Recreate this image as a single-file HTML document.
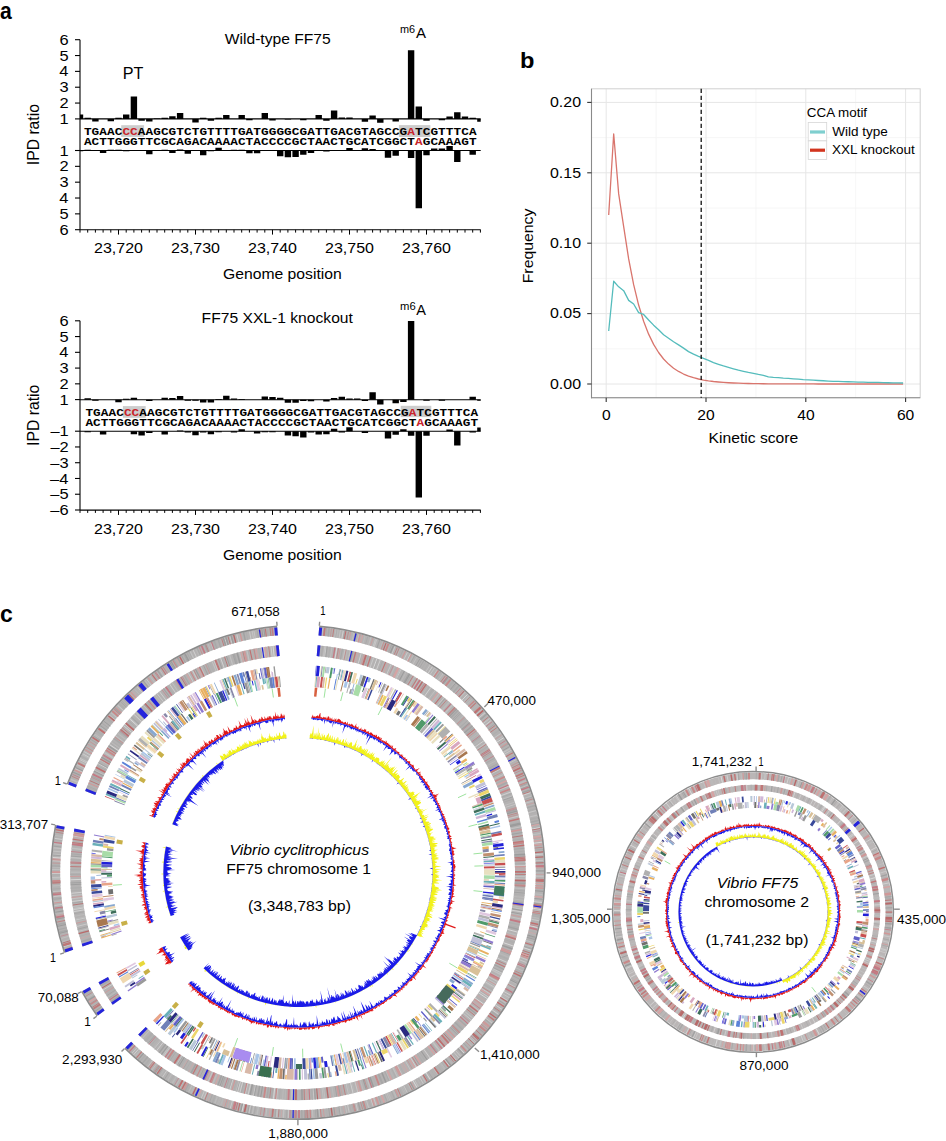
<!DOCTYPE html><html><head><meta charset="utf-8"><title>Figure</title><style>html,body{margin:0;padding:0;background:#fff;}svg{display:block;}</style></head><body><svg width="946" height="1141" viewBox="0 0 946 1141" font-family="Liberation Sans, sans-serif"><text font-size="23" font-weight="bold" transform="translate(-0.02,19.3) scale(0.92,1)">a</text>
<text font-size="22.5" font-weight="bold" transform="translate(520.04,67.7) scale(1.05,1)">b</text>
<text font-size="23" font-weight="bold" transform="translate(-0.1,622.3) scale(1,1)">c</text>
<line x1="80" y1="39.7" x2="80" y2="229.8" stroke="#000" stroke-width="1.1"/>
<line x1="75" y1="39.7" x2="80" y2="39.7" stroke="#000" stroke-width="1.1"/>
<text font-size="14.7" transform="translate(59.47,44.75) scale(1.12,1)">6</text>
<line x1="75" y1="150.5" x2="80" y2="150.5" stroke="#000" stroke-width="1.1"/>
<text font-size="14.7" transform="translate(59.55,155.55) scale(1.12,1)">1</text>
<line x1="75" y1="55.54" x2="80" y2="55.54" stroke="#000" stroke-width="1.1"/>
<text font-size="14.7" transform="translate(59.43,60.59) scale(1.12,1)">5</text>
<line x1="75" y1="166.34" x2="80" y2="166.34" stroke="#000" stroke-width="1.1"/>
<text font-size="14.7" transform="translate(59.57,171.39) scale(1.12,1)">2</text>
<line x1="75" y1="71.38" x2="80" y2="71.38" stroke="#000" stroke-width="1.1"/>
<text font-size="14.7" transform="translate(59.23,76.43) scale(1.12,1)">4</text>
<line x1="75" y1="182.18" x2="80" y2="182.18" stroke="#000" stroke-width="1.1"/>
<text font-size="14.7" transform="translate(59.47,187.23) scale(1.12,1)">3</text>
<line x1="75" y1="87.22" x2="80" y2="87.22" stroke="#000" stroke-width="1.1"/>
<text font-size="14.7" transform="translate(59.47,92.27) scale(1.12,1)">3</text>
<line x1="75" y1="198.02" x2="80" y2="198.02" stroke="#000" stroke-width="1.1"/>
<text font-size="14.7" transform="translate(59.23,203.07) scale(1.12,1)">4</text>
<line x1="75" y1="103.06" x2="80" y2="103.06" stroke="#000" stroke-width="1.1"/>
<text font-size="14.7" transform="translate(59.57,108.11) scale(1.12,1)">2</text>
<line x1="75" y1="213.86" x2="80" y2="213.86" stroke="#000" stroke-width="1.1"/>
<text font-size="14.7" transform="translate(59.43,218.91) scale(1.12,1)">5</text>
<line x1="75" y1="118.9" x2="80" y2="118.9" stroke="#000" stroke-width="1.1"/>
<text font-size="14.7" transform="translate(59.55,123.95) scale(1.12,1)">1</text>
<line x1="75" y1="229.7" x2="80" y2="229.7" stroke="#000" stroke-width="1.1"/>
<text font-size="14.7" transform="translate(59.47,234.75) scale(1.12,1)">6</text>
<line x1="80" y1="229.8" x2="480.7" y2="229.8" stroke="#000" stroke-width="1.1"/>
<line x1="80" y1="229.8" x2="80" y2="232.6" stroke="#000" stroke-width="1"/>
<line x1="87.7" y1="229.8" x2="87.7" y2="232.6" stroke="#000" stroke-width="1"/>
<line x1="95.4" y1="229.8" x2="95.4" y2="232.6" stroke="#000" stroke-width="1"/>
<line x1="103.1" y1="229.8" x2="103.1" y2="232.6" stroke="#000" stroke-width="1"/>
<line x1="110.8" y1="229.8" x2="110.8" y2="232.6" stroke="#000" stroke-width="1"/>
<line x1="118.5" y1="229.8" x2="118.5" y2="234.6" stroke="#000" stroke-width="1"/>
<line x1="126.2" y1="229.8" x2="126.2" y2="232.6" stroke="#000" stroke-width="1"/>
<line x1="133.9" y1="229.8" x2="133.9" y2="232.6" stroke="#000" stroke-width="1"/>
<line x1="141.6" y1="229.8" x2="141.6" y2="232.6" stroke="#000" stroke-width="1"/>
<line x1="149.3" y1="229.8" x2="149.3" y2="232.6" stroke="#000" stroke-width="1"/>
<line x1="157" y1="229.8" x2="157" y2="232.6" stroke="#000" stroke-width="1"/>
<line x1="164.7" y1="229.8" x2="164.7" y2="232.6" stroke="#000" stroke-width="1"/>
<line x1="172.4" y1="229.8" x2="172.4" y2="232.6" stroke="#000" stroke-width="1"/>
<line x1="180.1" y1="229.8" x2="180.1" y2="232.6" stroke="#000" stroke-width="1"/>
<line x1="187.8" y1="229.8" x2="187.8" y2="232.6" stroke="#000" stroke-width="1"/>
<line x1="195.5" y1="229.8" x2="195.5" y2="234.6" stroke="#000" stroke-width="1"/>
<line x1="203.2" y1="229.8" x2="203.2" y2="232.6" stroke="#000" stroke-width="1"/>
<line x1="210.9" y1="229.8" x2="210.9" y2="232.6" stroke="#000" stroke-width="1"/>
<line x1="218.6" y1="229.8" x2="218.6" y2="232.6" stroke="#000" stroke-width="1"/>
<line x1="226.3" y1="229.8" x2="226.3" y2="232.6" stroke="#000" stroke-width="1"/>
<line x1="234" y1="229.8" x2="234" y2="232.6" stroke="#000" stroke-width="1"/>
<line x1="241.7" y1="229.8" x2="241.7" y2="232.6" stroke="#000" stroke-width="1"/>
<line x1="249.4" y1="229.8" x2="249.4" y2="232.6" stroke="#000" stroke-width="1"/>
<line x1="257.1" y1="229.8" x2="257.1" y2="232.6" stroke="#000" stroke-width="1"/>
<line x1="264.8" y1="229.8" x2="264.8" y2="232.6" stroke="#000" stroke-width="1"/>
<line x1="272.5" y1="229.8" x2="272.5" y2="234.6" stroke="#000" stroke-width="1"/>
<line x1="280.2" y1="229.8" x2="280.2" y2="232.6" stroke="#000" stroke-width="1"/>
<line x1="287.9" y1="229.8" x2="287.9" y2="232.6" stroke="#000" stroke-width="1"/>
<line x1="295.6" y1="229.8" x2="295.6" y2="232.6" stroke="#000" stroke-width="1"/>
<line x1="303.3" y1="229.8" x2="303.3" y2="232.6" stroke="#000" stroke-width="1"/>
<line x1="311" y1="229.8" x2="311" y2="232.6" stroke="#000" stroke-width="1"/>
<line x1="318.7" y1="229.8" x2="318.7" y2="232.6" stroke="#000" stroke-width="1"/>
<line x1="326.4" y1="229.8" x2="326.4" y2="232.6" stroke="#000" stroke-width="1"/>
<line x1="334.1" y1="229.8" x2="334.1" y2="232.6" stroke="#000" stroke-width="1"/>
<line x1="341.8" y1="229.8" x2="341.8" y2="232.6" stroke="#000" stroke-width="1"/>
<line x1="349.5" y1="229.8" x2="349.5" y2="234.6" stroke="#000" stroke-width="1"/>
<line x1="357.2" y1="229.8" x2="357.2" y2="232.6" stroke="#000" stroke-width="1"/>
<line x1="364.9" y1="229.8" x2="364.9" y2="232.6" stroke="#000" stroke-width="1"/>
<line x1="372.6" y1="229.8" x2="372.6" y2="232.6" stroke="#000" stroke-width="1"/>
<line x1="380.3" y1="229.8" x2="380.3" y2="232.6" stroke="#000" stroke-width="1"/>
<line x1="388" y1="229.8" x2="388" y2="232.6" stroke="#000" stroke-width="1"/>
<line x1="395.7" y1="229.8" x2="395.7" y2="232.6" stroke="#000" stroke-width="1"/>
<line x1="403.4" y1="229.8" x2="403.4" y2="232.6" stroke="#000" stroke-width="1"/>
<line x1="411.1" y1="229.8" x2="411.1" y2="232.6" stroke="#000" stroke-width="1"/>
<line x1="418.8" y1="229.8" x2="418.8" y2="232.6" stroke="#000" stroke-width="1"/>
<line x1="426.5" y1="229.8" x2="426.5" y2="234.6" stroke="#000" stroke-width="1"/>
<line x1="434.2" y1="229.8" x2="434.2" y2="232.6" stroke="#000" stroke-width="1"/>
<line x1="441.9" y1="229.8" x2="441.9" y2="232.6" stroke="#000" stroke-width="1"/>
<line x1="449.6" y1="229.8" x2="449.6" y2="232.6" stroke="#000" stroke-width="1"/>
<line x1="457.3" y1="229.8" x2="457.3" y2="232.6" stroke="#000" stroke-width="1"/>
<line x1="465" y1="229.8" x2="465" y2="232.6" stroke="#000" stroke-width="1"/>
<line x1="472.7" y1="229.8" x2="472.7" y2="232.6" stroke="#000" stroke-width="1"/>
<line x1="480.4" y1="229.8" x2="480.4" y2="232.6" stroke="#000" stroke-width="1"/>
<text font-size="14.7" transform="translate(94,252.8) scale(1.09,1)">23,720</text>
<text font-size="14.7" transform="translate(171,252.8) scale(1.09,1)">23,730</text>
<text font-size="14.7" transform="translate(248,252.8) scale(1.09,1)">23,740</text>
<text font-size="14.7" transform="translate(325,252.8) scale(1.09,1)">23,750</text>
<text font-size="14.7" transform="translate(402,252.8) scale(1.09,1)">23,760</text>
<text font-size="14.7" transform="translate(222.91,279) scale(1.07,1)">Genome position</text>
<text font-size="14.7" transform="translate(39.1,165.2) rotate(-90) scale(1.07,1.12)">IPD ratio</text>
<text font-size="15.5" transform="translate(224.73,43.7) scale(1.01,1)">Wild-type FF75</text>
<rect x="121.2" y="125.2" width="22.9" height="11.7" fill="#cdcdcd"/>
<rect x="398.9" y="125.1" width="31.5" height="11.9" fill="#cdcdcd"/>
<path d="M80 114.46h3.2v4.44h-3.2zM80 150.5h3.2v0.79h-3.2zM84.5 117.63h6.4v1.27h-6.4zM84.5 149.71h6.4v0.79h-6.4zM92.2 118.9h6.4v2.69h-6.4zM99.9 150.5h6.4v2.38h-6.4zM107.6 118.9h6.4v2.38h-6.4zM107.6 149.71h6.4v0.79h-6.4zM115.3 117.79h6.4v1.11h-6.4zM115.3 149.71h6.4v0.79h-6.4zM123 114.46h6.4v4.44h-6.4zM123 150.5h6.4v0.79h-6.4zM130.7 96.41h6.4v22.49h-6.4zM138.4 118.9h6.4v1.9h-6.4zM146.1 118.9h6.4v2.69h-6.4zM146.1 150.5h6.4v3.8h-6.4zM153.8 118.58h6.4v0.32h-6.4zM161.5 117.63h6.4v1.27h-6.4zM161.5 149.71h6.4v0.79h-6.4zM169.2 116.37h6.4v2.53h-6.4zM169.2 150.5h6.4v2.38h-6.4zM176.9 112.88h6.4v6.02h-6.4zM176.9 149.55h6.4v0.95h-6.4zM184.6 150.5h6.4v3.33h-6.4zM192.3 118.9h6.4v3.48h-6.4zM200 117.79h6.4v1.11h-6.4zM200 150.5h6.4v4.75h-6.4zM207.7 118.9h6.4v1.9h-6.4zM207.7 150.5h6.4v0.79h-6.4zM215.4 117.63h6.4v1.27h-6.4zM215.4 147.81h6.4v2.69h-6.4zM223.1 114.94h6.4v3.96h-6.4zM230.8 149.71h6.4v0.79h-6.4zM238.5 114.94h6.4v3.96h-6.4zM238.5 149.71h6.4v0.79h-6.4zM246.2 118.9h6.4v1.27h-6.4zM246.2 150.5h6.4v2.69h-6.4zM253.9 150.5h6.4v2.69h-6.4zM261.6 112.88h6.4v6.02h-6.4zM269.3 118.9h6.4v1.58h-6.4zM277 150.5h6.4v5.86h-6.4zM284.7 118.9h6.4v0.63h-6.4zM284.7 150.5h6.4v6.65h-6.4zM292.4 150.5h6.4v6.49h-6.4zM300.1 118.9h6.4v1.27h-6.4zM300.1 150.5h6.4v4.28h-6.4zM307.8 150.5h6.4v2.38h-6.4zM315.5 114.94h6.4v3.96h-6.4zM323.2 118.9h6.4v1.9h-6.4zM323.2 150.5h6.4v0.95h-6.4zM330.9 110.5h6.4v8.4h-6.4zM338.6 117.47h6.4v1.43h-6.4zM346.3 117.47h6.4v1.43h-6.4zM346.3 148.12h6.4v2.38h-6.4zM361.7 118.9h6.4v2.85h-6.4zM361.7 148.28h6.4v2.22h-6.4zM369.4 115.57h6.4v3.33h-6.4zM369.4 149.07h6.4v1.43h-6.4zM377.1 118.9h6.4v3.96h-6.4zM384.8 150.5h6.4v7.13h-6.4zM392.5 118.9h6.4v2.53h-6.4zM392.5 150.5h6.4v5.23h-6.4zM407.9 50.15h6.4v68.75h-6.4zM407.9 150.5h6.4v7.44h-6.4zM415.6 106.54h6.4v12.36h-6.4zM415.6 150.5h6.4v57.82h-6.4zM423.3 118.9h6.4v1.9h-6.4zM423.3 150.5h6.4v4.75h-6.4zM431 148.44h6.4v2.06h-6.4zM438.7 118.9h6.4v1.27h-6.4zM438.7 148.44h6.4v2.06h-6.4zM446.4 116.52h6.4v2.38h-6.4zM446.4 145.91h6.4v4.59h-6.4zM454.1 112.25h6.4v6.65h-6.4zM454.1 150.5h6.4v11.4h-6.4zM461.8 116.52h6.4v2.38h-6.4zM469.5 117.63h6.4v1.27h-6.4zM469.5 150.5h6.4v4.28h-6.4zM477.2 118.9h3.5v2.85h-3.5z" fill="#000"/>
<line x1="80" y1="118.9" x2="480.7" y2="118.9" stroke="#000" stroke-width="1.1"/>
<line x1="80" y1="150.5" x2="480.7" y2="150.5" stroke="#000" stroke-width="1.1"/>
<text font-size="10.6" font-family="Liberation Mono" text-anchor="middle" font-weight="bold" transform="translate(87.7,135) scale(1.2,1)">T</text>
<text font-size="10.6" font-family="Liberation Mono" text-anchor="middle" font-weight="bold" transform="translate(95.4,135) scale(1.2,1)">G</text>
<text font-size="10.6" font-family="Liberation Mono" text-anchor="middle" font-weight="bold" transform="translate(103.1,135) scale(1.2,1)">A</text>
<text font-size="10.6" font-family="Liberation Mono" text-anchor="middle" font-weight="bold" transform="translate(110.8,135) scale(1.2,1)">A</text>
<text font-size="10.6" font-family="Liberation Mono" text-anchor="middle" font-weight="bold" transform="translate(118.5,135) scale(1.2,1)">C</text>
<text font-size="10.6" font-family="Liberation Mono" text-anchor="middle" font-weight="bold" fill="#c8232b" transform="translate(126.2,135) scale(1.2,1)">C</text>
<text font-size="10.6" font-family="Liberation Mono" text-anchor="middle" font-weight="bold" fill="#c8232b" transform="translate(133.9,135) scale(1.2,1)">C</text>
<text font-size="10.6" font-family="Liberation Mono" text-anchor="middle" font-weight="bold" transform="translate(141.6,135) scale(1.2,1)">A</text>
<text font-size="10.6" font-family="Liberation Mono" text-anchor="middle" font-weight="bold" transform="translate(149.3,135) scale(1.2,1)">A</text>
<text font-size="10.6" font-family="Liberation Mono" text-anchor="middle" font-weight="bold" transform="translate(157,135) scale(1.2,1)">G</text>
<text font-size="10.6" font-family="Liberation Mono" text-anchor="middle" font-weight="bold" transform="translate(164.7,135) scale(1.2,1)">C</text>
<text font-size="10.6" font-family="Liberation Mono" text-anchor="middle" font-weight="bold" transform="translate(172.4,135) scale(1.2,1)">G</text>
<text font-size="10.6" font-family="Liberation Mono" text-anchor="middle" font-weight="bold" transform="translate(180.1,135) scale(1.2,1)">T</text>
<text font-size="10.6" font-family="Liberation Mono" text-anchor="middle" font-weight="bold" transform="translate(187.8,135) scale(1.2,1)">C</text>
<text font-size="10.6" font-family="Liberation Mono" text-anchor="middle" font-weight="bold" transform="translate(195.5,135) scale(1.2,1)">T</text>
<text font-size="10.6" font-family="Liberation Mono" text-anchor="middle" font-weight="bold" transform="translate(203.2,135) scale(1.2,1)">G</text>
<text font-size="10.6" font-family="Liberation Mono" text-anchor="middle" font-weight="bold" transform="translate(210.9,135) scale(1.2,1)">T</text>
<text font-size="10.6" font-family="Liberation Mono" text-anchor="middle" font-weight="bold" transform="translate(218.6,135) scale(1.2,1)">T</text>
<text font-size="10.6" font-family="Liberation Mono" text-anchor="middle" font-weight="bold" transform="translate(226.3,135) scale(1.2,1)">T</text>
<text font-size="10.6" font-family="Liberation Mono" text-anchor="middle" font-weight="bold" transform="translate(234,135) scale(1.2,1)">T</text>
<text font-size="10.6" font-family="Liberation Mono" text-anchor="middle" font-weight="bold" transform="translate(241.7,135) scale(1.2,1)">G</text>
<text font-size="10.6" font-family="Liberation Mono" text-anchor="middle" font-weight="bold" transform="translate(249.4,135) scale(1.2,1)">A</text>
<text font-size="10.6" font-family="Liberation Mono" text-anchor="middle" font-weight="bold" transform="translate(257.1,135) scale(1.2,1)">T</text>
<text font-size="10.6" font-family="Liberation Mono" text-anchor="middle" font-weight="bold" transform="translate(264.8,135) scale(1.2,1)">G</text>
<text font-size="10.6" font-family="Liberation Mono" text-anchor="middle" font-weight="bold" transform="translate(272.5,135) scale(1.2,1)">G</text>
<text font-size="10.6" font-family="Liberation Mono" text-anchor="middle" font-weight="bold" transform="translate(280.2,135) scale(1.2,1)">G</text>
<text font-size="10.6" font-family="Liberation Mono" text-anchor="middle" font-weight="bold" transform="translate(287.9,135) scale(1.2,1)">G</text>
<text font-size="10.6" font-family="Liberation Mono" text-anchor="middle" font-weight="bold" transform="translate(295.6,135) scale(1.2,1)">C</text>
<text font-size="10.6" font-family="Liberation Mono" text-anchor="middle" font-weight="bold" transform="translate(303.3,135) scale(1.2,1)">G</text>
<text font-size="10.6" font-family="Liberation Mono" text-anchor="middle" font-weight="bold" transform="translate(311,135) scale(1.2,1)">A</text>
<text font-size="10.6" font-family="Liberation Mono" text-anchor="middle" font-weight="bold" transform="translate(318.7,135) scale(1.2,1)">T</text>
<text font-size="10.6" font-family="Liberation Mono" text-anchor="middle" font-weight="bold" transform="translate(326.4,135) scale(1.2,1)">T</text>
<text font-size="10.6" font-family="Liberation Mono" text-anchor="middle" font-weight="bold" transform="translate(334.1,135) scale(1.2,1)">G</text>
<text font-size="10.6" font-family="Liberation Mono" text-anchor="middle" font-weight="bold" transform="translate(341.8,135) scale(1.2,1)">A</text>
<text font-size="10.6" font-family="Liberation Mono" text-anchor="middle" font-weight="bold" transform="translate(349.5,135) scale(1.2,1)">C</text>
<text font-size="10.6" font-family="Liberation Mono" text-anchor="middle" font-weight="bold" transform="translate(357.2,135) scale(1.2,1)">G</text>
<text font-size="10.6" font-family="Liberation Mono" text-anchor="middle" font-weight="bold" transform="translate(364.9,135) scale(1.2,1)">T</text>
<text font-size="10.6" font-family="Liberation Mono" text-anchor="middle" font-weight="bold" transform="translate(372.6,135) scale(1.2,1)">A</text>
<text font-size="10.6" font-family="Liberation Mono" text-anchor="middle" font-weight="bold" transform="translate(380.3,135) scale(1.2,1)">G</text>
<text font-size="10.6" font-family="Liberation Mono" text-anchor="middle" font-weight="bold" transform="translate(388,135) scale(1.2,1)">C</text>
<text font-size="10.6" font-family="Liberation Mono" text-anchor="middle" font-weight="bold" transform="translate(395.7,135) scale(1.2,1)">C</text>
<text font-size="10.6" font-family="Liberation Mono" text-anchor="middle" font-weight="bold" transform="translate(403.4,135) scale(1.2,1)">G</text>
<text font-size="10.6" font-family="Liberation Mono" text-anchor="middle" font-weight="bold" fill="#c8232b" transform="translate(411.1,135) scale(1.2,1)">A</text>
<text font-size="10.6" font-family="Liberation Mono" text-anchor="middle" font-weight="bold" transform="translate(418.8,135) scale(1.2,1)">T</text>
<text font-size="10.6" font-family="Liberation Mono" text-anchor="middle" font-weight="bold" transform="translate(426.5,135) scale(1.2,1)">C</text>
<text font-size="10.6" font-family="Liberation Mono" text-anchor="middle" font-weight="bold" transform="translate(434.2,135) scale(1.2,1)">G</text>
<text font-size="10.6" font-family="Liberation Mono" text-anchor="middle" font-weight="bold" transform="translate(441.9,135) scale(1.2,1)">T</text>
<text font-size="10.6" font-family="Liberation Mono" text-anchor="middle" font-weight="bold" transform="translate(449.6,135) scale(1.2,1)">T</text>
<text font-size="10.6" font-family="Liberation Mono" text-anchor="middle" font-weight="bold" transform="translate(457.3,135) scale(1.2,1)">T</text>
<text font-size="10.6" font-family="Liberation Mono" text-anchor="middle" font-weight="bold" transform="translate(465,135) scale(1.2,1)">C</text>
<text font-size="10.6" font-family="Liberation Mono" text-anchor="middle" font-weight="bold" transform="translate(472.7,135) scale(1.2,1)">A</text>
<text font-size="10.6" font-family="Liberation Mono" text-anchor="middle" font-weight="bold" transform="translate(87.7,145.2) scale(1.2,1)">A</text>
<text font-size="10.6" font-family="Liberation Mono" text-anchor="middle" font-weight="bold" transform="translate(95.4,145.2) scale(1.2,1)">C</text>
<text font-size="10.6" font-family="Liberation Mono" text-anchor="middle" font-weight="bold" transform="translate(103.1,145.2) scale(1.2,1)">T</text>
<text font-size="10.6" font-family="Liberation Mono" text-anchor="middle" font-weight="bold" transform="translate(110.8,145.2) scale(1.2,1)">T</text>
<text font-size="10.6" font-family="Liberation Mono" text-anchor="middle" font-weight="bold" transform="translate(118.5,145.2) scale(1.2,1)">G</text>
<text font-size="10.6" font-family="Liberation Mono" text-anchor="middle" font-weight="bold" transform="translate(126.2,145.2) scale(1.2,1)">G</text>
<text font-size="10.6" font-family="Liberation Mono" text-anchor="middle" font-weight="bold" transform="translate(133.9,145.2) scale(1.2,1)">G</text>
<text font-size="10.6" font-family="Liberation Mono" text-anchor="middle" font-weight="bold" transform="translate(141.6,145.2) scale(1.2,1)">T</text>
<text font-size="10.6" font-family="Liberation Mono" text-anchor="middle" font-weight="bold" transform="translate(149.3,145.2) scale(1.2,1)">T</text>
<text font-size="10.6" font-family="Liberation Mono" text-anchor="middle" font-weight="bold" transform="translate(157,145.2) scale(1.2,1)">C</text>
<text font-size="10.6" font-family="Liberation Mono" text-anchor="middle" font-weight="bold" transform="translate(164.7,145.2) scale(1.2,1)">G</text>
<text font-size="10.6" font-family="Liberation Mono" text-anchor="middle" font-weight="bold" transform="translate(172.4,145.2) scale(1.2,1)">C</text>
<text font-size="10.6" font-family="Liberation Mono" text-anchor="middle" font-weight="bold" transform="translate(180.1,145.2) scale(1.2,1)">A</text>
<text font-size="10.6" font-family="Liberation Mono" text-anchor="middle" font-weight="bold" transform="translate(187.8,145.2) scale(1.2,1)">G</text>
<text font-size="10.6" font-family="Liberation Mono" text-anchor="middle" font-weight="bold" transform="translate(195.5,145.2) scale(1.2,1)">A</text>
<text font-size="10.6" font-family="Liberation Mono" text-anchor="middle" font-weight="bold" transform="translate(203.2,145.2) scale(1.2,1)">C</text>
<text font-size="10.6" font-family="Liberation Mono" text-anchor="middle" font-weight="bold" transform="translate(210.9,145.2) scale(1.2,1)">A</text>
<text font-size="10.6" font-family="Liberation Mono" text-anchor="middle" font-weight="bold" transform="translate(218.6,145.2) scale(1.2,1)">A</text>
<text font-size="10.6" font-family="Liberation Mono" text-anchor="middle" font-weight="bold" transform="translate(226.3,145.2) scale(1.2,1)">A</text>
<text font-size="10.6" font-family="Liberation Mono" text-anchor="middle" font-weight="bold" transform="translate(234,145.2) scale(1.2,1)">A</text>
<text font-size="10.6" font-family="Liberation Mono" text-anchor="middle" font-weight="bold" transform="translate(241.7,145.2) scale(1.2,1)">C</text>
<text font-size="10.6" font-family="Liberation Mono" text-anchor="middle" font-weight="bold" transform="translate(249.4,145.2) scale(1.2,1)">T</text>
<text font-size="10.6" font-family="Liberation Mono" text-anchor="middle" font-weight="bold" transform="translate(257.1,145.2) scale(1.2,1)">A</text>
<text font-size="10.6" font-family="Liberation Mono" text-anchor="middle" font-weight="bold" transform="translate(264.8,145.2) scale(1.2,1)">C</text>
<text font-size="10.6" font-family="Liberation Mono" text-anchor="middle" font-weight="bold" transform="translate(272.5,145.2) scale(1.2,1)">C</text>
<text font-size="10.6" font-family="Liberation Mono" text-anchor="middle" font-weight="bold" transform="translate(280.2,145.2) scale(1.2,1)">C</text>
<text font-size="10.6" font-family="Liberation Mono" text-anchor="middle" font-weight="bold" transform="translate(287.9,145.2) scale(1.2,1)">C</text>
<text font-size="10.6" font-family="Liberation Mono" text-anchor="middle" font-weight="bold" transform="translate(295.6,145.2) scale(1.2,1)">G</text>
<text font-size="10.6" font-family="Liberation Mono" text-anchor="middle" font-weight="bold" transform="translate(303.3,145.2) scale(1.2,1)">C</text>
<text font-size="10.6" font-family="Liberation Mono" text-anchor="middle" font-weight="bold" transform="translate(311,145.2) scale(1.2,1)">T</text>
<text font-size="10.6" font-family="Liberation Mono" text-anchor="middle" font-weight="bold" transform="translate(318.7,145.2) scale(1.2,1)">A</text>
<text font-size="10.6" font-family="Liberation Mono" text-anchor="middle" font-weight="bold" transform="translate(326.4,145.2) scale(1.2,1)">A</text>
<text font-size="10.6" font-family="Liberation Mono" text-anchor="middle" font-weight="bold" transform="translate(334.1,145.2) scale(1.2,1)">C</text>
<text font-size="10.6" font-family="Liberation Mono" text-anchor="middle" font-weight="bold" transform="translate(341.8,145.2) scale(1.2,1)">T</text>
<text font-size="10.6" font-family="Liberation Mono" text-anchor="middle" font-weight="bold" transform="translate(349.5,145.2) scale(1.2,1)">G</text>
<text font-size="10.6" font-family="Liberation Mono" text-anchor="middle" font-weight="bold" transform="translate(357.2,145.2) scale(1.2,1)">C</text>
<text font-size="10.6" font-family="Liberation Mono" text-anchor="middle" font-weight="bold" transform="translate(364.9,145.2) scale(1.2,1)">A</text>
<text font-size="10.6" font-family="Liberation Mono" text-anchor="middle" font-weight="bold" transform="translate(372.6,145.2) scale(1.2,1)">T</text>
<text font-size="10.6" font-family="Liberation Mono" text-anchor="middle" font-weight="bold" transform="translate(380.3,145.2) scale(1.2,1)">C</text>
<text font-size="10.6" font-family="Liberation Mono" text-anchor="middle" font-weight="bold" transform="translate(388,145.2) scale(1.2,1)">G</text>
<text font-size="10.6" font-family="Liberation Mono" text-anchor="middle" font-weight="bold" transform="translate(395.7,145.2) scale(1.2,1)">G</text>
<text font-size="10.6" font-family="Liberation Mono" text-anchor="middle" font-weight="bold" transform="translate(403.4,145.2) scale(1.2,1)">C</text>
<text font-size="10.6" font-family="Liberation Mono" text-anchor="middle" font-weight="bold" transform="translate(411.1,145.2) scale(1.2,1)">T</text>
<text font-size="10.6" font-family="Liberation Mono" text-anchor="middle" font-weight="bold" fill="#c8232b" transform="translate(418.8,145.2) scale(1.2,1)">A</text>
<text font-size="10.6" font-family="Liberation Mono" text-anchor="middle" font-weight="bold" transform="translate(426.5,145.2) scale(1.2,1)">G</text>
<text font-size="10.6" font-family="Liberation Mono" text-anchor="middle" font-weight="bold" transform="translate(434.2,145.2) scale(1.2,1)">C</text>
<text font-size="10.6" font-family="Liberation Mono" text-anchor="middle" font-weight="bold" transform="translate(441.9,145.2) scale(1.2,1)">A</text>
<text font-size="10.6" font-family="Liberation Mono" text-anchor="middle" font-weight="bold" transform="translate(449.6,145.2) scale(1.2,1)">A</text>
<text font-size="10.6" font-family="Liberation Mono" text-anchor="middle" font-weight="bold" transform="translate(457.3,145.2) scale(1.2,1)">A</text>
<text font-size="10.6" font-family="Liberation Mono" text-anchor="middle" font-weight="bold" transform="translate(465,145.2) scale(1.2,1)">G</text>
<text font-size="10.6" font-family="Liberation Mono" text-anchor="middle" font-weight="bold" transform="translate(472.7,145.2) scale(1.2,1)">T</text>
<text font-size="10" transform="translate(399.97,33) scale(1.09,1)">m6</text>
<text font-size="15.5" transform="translate(415.97,38) scale(0.97,1)">A</text>
<text font-size="16" transform="translate(122.67,79) scale(1.01,1)">PT</text>
<line x1="80" y1="320.8" x2="80" y2="510.1" stroke="#000" stroke-width="1.1"/>
<line x1="75" y1="320.8" x2="80" y2="320.8" stroke="#000" stroke-width="1.1"/>
<text font-size="14.7" transform="translate(59.47,325.85) scale(1.12,1)">6</text>
<line x1="75" y1="431.2" x2="80" y2="431.2" stroke="#000" stroke-width="1.1"/>
<text font-size="14.7" transform="translate(50.39,436.25) scale(1.12,1)">–1</text>
<line x1="75" y1="336.56" x2="80" y2="336.56" stroke="#000" stroke-width="1.1"/>
<text font-size="14.7" transform="translate(59.43,341.61) scale(1.12,1)">5</text>
<line x1="75" y1="446.96" x2="80" y2="446.96" stroke="#000" stroke-width="1.1"/>
<text font-size="14.7" transform="translate(50.42,452.01) scale(1.12,1)">–2</text>
<line x1="75" y1="352.32" x2="80" y2="352.32" stroke="#000" stroke-width="1.1"/>
<text font-size="14.7" transform="translate(59.23,357.37) scale(1.12,1)">4</text>
<line x1="75" y1="462.72" x2="80" y2="462.72" stroke="#000" stroke-width="1.1"/>
<text font-size="14.7" transform="translate(50.31,467.77) scale(1.12,1)">–3</text>
<line x1="75" y1="368.08" x2="80" y2="368.08" stroke="#000" stroke-width="1.1"/>
<text font-size="14.7" transform="translate(59.47,373.13) scale(1.12,1)">3</text>
<line x1="75" y1="478.48" x2="80" y2="478.48" stroke="#000" stroke-width="1.1"/>
<text font-size="14.7" transform="translate(50.07,483.53) scale(1.12,1)">–4</text>
<line x1="75" y1="383.84" x2="80" y2="383.84" stroke="#000" stroke-width="1.1"/>
<text font-size="14.7" transform="translate(59.57,388.89) scale(1.12,1)">2</text>
<line x1="75" y1="494.24" x2="80" y2="494.24" stroke="#000" stroke-width="1.1"/>
<text font-size="14.7" transform="translate(50.28,499.29) scale(1.12,1)">–5</text>
<line x1="75" y1="399.6" x2="80" y2="399.6" stroke="#000" stroke-width="1.1"/>
<text font-size="14.7" transform="translate(59.55,404.65) scale(1.12,1)">1</text>
<line x1="75" y1="510" x2="80" y2="510" stroke="#000" stroke-width="1.1"/>
<text font-size="14.7" transform="translate(50.31,515.05) scale(1.12,1)">–6</text>
<line x1="80" y1="510.1" x2="480.7" y2="510.1" stroke="#000" stroke-width="1.1"/>
<line x1="80" y1="510.1" x2="80" y2="512.9" stroke="#000" stroke-width="1"/>
<line x1="87.7" y1="510.1" x2="87.7" y2="512.9" stroke="#000" stroke-width="1"/>
<line x1="95.4" y1="510.1" x2="95.4" y2="512.9" stroke="#000" stroke-width="1"/>
<line x1="103.1" y1="510.1" x2="103.1" y2="512.9" stroke="#000" stroke-width="1"/>
<line x1="110.8" y1="510.1" x2="110.8" y2="512.9" stroke="#000" stroke-width="1"/>
<line x1="118.5" y1="510.1" x2="118.5" y2="514.9" stroke="#000" stroke-width="1"/>
<line x1="126.2" y1="510.1" x2="126.2" y2="512.9" stroke="#000" stroke-width="1"/>
<line x1="133.9" y1="510.1" x2="133.9" y2="512.9" stroke="#000" stroke-width="1"/>
<line x1="141.6" y1="510.1" x2="141.6" y2="512.9" stroke="#000" stroke-width="1"/>
<line x1="149.3" y1="510.1" x2="149.3" y2="512.9" stroke="#000" stroke-width="1"/>
<line x1="157" y1="510.1" x2="157" y2="512.9" stroke="#000" stroke-width="1"/>
<line x1="164.7" y1="510.1" x2="164.7" y2="512.9" stroke="#000" stroke-width="1"/>
<line x1="172.4" y1="510.1" x2="172.4" y2="512.9" stroke="#000" stroke-width="1"/>
<line x1="180.1" y1="510.1" x2="180.1" y2="512.9" stroke="#000" stroke-width="1"/>
<line x1="187.8" y1="510.1" x2="187.8" y2="512.9" stroke="#000" stroke-width="1"/>
<line x1="195.5" y1="510.1" x2="195.5" y2="514.9" stroke="#000" stroke-width="1"/>
<line x1="203.2" y1="510.1" x2="203.2" y2="512.9" stroke="#000" stroke-width="1"/>
<line x1="210.9" y1="510.1" x2="210.9" y2="512.9" stroke="#000" stroke-width="1"/>
<line x1="218.6" y1="510.1" x2="218.6" y2="512.9" stroke="#000" stroke-width="1"/>
<line x1="226.3" y1="510.1" x2="226.3" y2="512.9" stroke="#000" stroke-width="1"/>
<line x1="234" y1="510.1" x2="234" y2="512.9" stroke="#000" stroke-width="1"/>
<line x1="241.7" y1="510.1" x2="241.7" y2="512.9" stroke="#000" stroke-width="1"/>
<line x1="249.4" y1="510.1" x2="249.4" y2="512.9" stroke="#000" stroke-width="1"/>
<line x1="257.1" y1="510.1" x2="257.1" y2="512.9" stroke="#000" stroke-width="1"/>
<line x1="264.8" y1="510.1" x2="264.8" y2="512.9" stroke="#000" stroke-width="1"/>
<line x1="272.5" y1="510.1" x2="272.5" y2="514.9" stroke="#000" stroke-width="1"/>
<line x1="280.2" y1="510.1" x2="280.2" y2="512.9" stroke="#000" stroke-width="1"/>
<line x1="287.9" y1="510.1" x2="287.9" y2="512.9" stroke="#000" stroke-width="1"/>
<line x1="295.6" y1="510.1" x2="295.6" y2="512.9" stroke="#000" stroke-width="1"/>
<line x1="303.3" y1="510.1" x2="303.3" y2="512.9" stroke="#000" stroke-width="1"/>
<line x1="311" y1="510.1" x2="311" y2="512.9" stroke="#000" stroke-width="1"/>
<line x1="318.7" y1="510.1" x2="318.7" y2="512.9" stroke="#000" stroke-width="1"/>
<line x1="326.4" y1="510.1" x2="326.4" y2="512.9" stroke="#000" stroke-width="1"/>
<line x1="334.1" y1="510.1" x2="334.1" y2="512.9" stroke="#000" stroke-width="1"/>
<line x1="341.8" y1="510.1" x2="341.8" y2="512.9" stroke="#000" stroke-width="1"/>
<line x1="349.5" y1="510.1" x2="349.5" y2="514.9" stroke="#000" stroke-width="1"/>
<line x1="357.2" y1="510.1" x2="357.2" y2="512.9" stroke="#000" stroke-width="1"/>
<line x1="364.9" y1="510.1" x2="364.9" y2="512.9" stroke="#000" stroke-width="1"/>
<line x1="372.6" y1="510.1" x2="372.6" y2="512.9" stroke="#000" stroke-width="1"/>
<line x1="380.3" y1="510.1" x2="380.3" y2="512.9" stroke="#000" stroke-width="1"/>
<line x1="388" y1="510.1" x2="388" y2="512.9" stroke="#000" stroke-width="1"/>
<line x1="395.7" y1="510.1" x2="395.7" y2="512.9" stroke="#000" stroke-width="1"/>
<line x1="403.4" y1="510.1" x2="403.4" y2="512.9" stroke="#000" stroke-width="1"/>
<line x1="411.1" y1="510.1" x2="411.1" y2="512.9" stroke="#000" stroke-width="1"/>
<line x1="418.8" y1="510.1" x2="418.8" y2="512.9" stroke="#000" stroke-width="1"/>
<line x1="426.5" y1="510.1" x2="426.5" y2="514.9" stroke="#000" stroke-width="1"/>
<line x1="434.2" y1="510.1" x2="434.2" y2="512.9" stroke="#000" stroke-width="1"/>
<line x1="441.9" y1="510.1" x2="441.9" y2="512.9" stroke="#000" stroke-width="1"/>
<line x1="449.6" y1="510.1" x2="449.6" y2="512.9" stroke="#000" stroke-width="1"/>
<line x1="457.3" y1="510.1" x2="457.3" y2="512.9" stroke="#000" stroke-width="1"/>
<line x1="465" y1="510.1" x2="465" y2="512.9" stroke="#000" stroke-width="1"/>
<line x1="472.7" y1="510.1" x2="472.7" y2="512.9" stroke="#000" stroke-width="1"/>
<line x1="480.4" y1="510.1" x2="480.4" y2="512.9" stroke="#000" stroke-width="1"/>
<text font-size="14.7" transform="translate(94,533.8) scale(1.09,1)">23,720</text>
<text font-size="14.7" transform="translate(171,533.8) scale(1.09,1)">23,730</text>
<text font-size="14.7" transform="translate(248,533.8) scale(1.09,1)">23,740</text>
<text font-size="14.7" transform="translate(325,533.8) scale(1.09,1)">23,750</text>
<text font-size="14.7" transform="translate(402,533.8) scale(1.09,1)">23,760</text>
<text font-size="14.7" transform="translate(222.91,560) scale(1.07,1)">Genome position</text>
<text font-size="14.7" transform="translate(39.1,445.9) rotate(-90) scale(1.07,1.12)">IPD ratio</text>
<text font-size="15.5" transform="translate(201.61,322.5) scale(1.01,1)">FF75 XXL-1 knockout</text>
<rect x="122.9" y="406.1" width="22.8" height="11.7" fill="#cdcdcd"/>
<rect x="400.7" y="405.8" width="30.6" height="11.3" fill="#cdcdcd"/>
<path d="M84.5 398.28h6.4v1.42h-6.4zM84.5 431.2h6.4v0.95h-6.4zM92.2 399.7h6.4v1.1h-6.4zM99.9 431.2h6.4v3.31h-6.4zM115.3 399.7h6.4v2.52h-6.4zM123 398.75h6.4v0.95h-6.4zM130.7 397.65h6.4v2.05h-6.4zM130.7 431.2h6.4v3.15h-6.4zM138.4 431.2h6.4v4.26h-6.4zM146.1 399.7h6.4v1.26h-6.4zM146.1 431.2h6.4v1.73h-6.4zM161.5 397.65h6.4v2.05h-6.4zM161.5 431.2h6.4v3.31h-6.4zM169.2 398.12h6.4v1.58h-6.4zM176.9 396.08h6.4v3.62h-6.4zM176.9 430.41h6.4v0.79h-6.4zM184.6 399.7h6.4v1.1h-6.4zM184.6 431.2h6.4v1.42h-6.4zM192.3 399.7h6.4v1.1h-6.4zM192.3 431.2h6.4v3.94h-6.4zM200 399.7h6.4v2.68h-6.4zM200 431.2h6.4v1.42h-6.4zM207.7 399.7h6.4v2.68h-6.4zM207.7 431.2h6.4v2.99h-6.4zM215.4 398.91h6.4v0.79h-6.4zM215.4 431.2h6.4v1.1h-6.4zM223.1 395.76h6.4v3.94h-6.4zM230.8 398.6h6.4v1.1h-6.4zM230.8 431.2h6.4v1.42h-6.4zM238.5 398.91h6.4v0.79h-6.4zM238.5 429.15h6.4v2.05h-6.4zM253.9 431.2h6.4v2.36h-6.4zM261.6 396.55h6.4v3.15h-6.4zM261.6 431.2h6.4v1.1h-6.4zM269.3 397.02h6.4v2.68h-6.4zM269.3 431.2h6.4v1.1h-6.4zM277 397.65h6.4v2.05h-6.4zM284.7 399.7h6.4v3.15h-6.4zM284.7 431.2h6.4v4.26h-6.4zM292.4 399.7h6.4v3.15h-6.4zM292.4 431.2h6.4v5.04h-6.4zM300.1 399.7h6.4v1.42h-6.4zM300.1 431.2h6.4v6.3h-6.4zM307.8 399.7h6.4v1.58h-6.4zM307.8 431.2h6.4v1.26h-6.4zM315.5 431.2h6.4v3.31h-6.4zM323.2 399.7h6.4v1.73h-6.4zM323.2 431.2h6.4v3.15h-6.4zM330.9 397.97h6.4v1.73h-6.4zM330.9 428.84h6.4v2.36h-6.4zM338.6 396.86h6.4v2.84h-6.4zM338.6 431.2h6.4v1.26h-6.4zM346.3 398.6h6.4v1.1h-6.4zM346.3 427.26h6.4v3.94h-6.4zM354 398.6h6.4v1.1h-6.4zM361.7 399.7h6.4v1.42h-6.4zM361.7 431.2h6.4v1.73h-6.4zM369.4 392.29h6.4v7.41h-6.4zM377.1 399.7h6.4v4.89h-6.4zM384.8 431.2h6.4v7.41h-6.4zM392.5 399.7h6.4v3.62h-6.4zM392.5 431.2h6.4v3.62h-6.4zM400.2 399.7h6.4v2.36h-6.4zM400.2 429.31h6.4v1.89h-6.4zM407.9 320.9h6.4v78.8h-6.4zM407.9 431.2h6.4v4.57h-6.4zM415.6 431.2h6.4v66.19h-6.4zM423.3 399.7h6.4v0.95h-6.4zM423.3 431.2h6.4v4.57h-6.4zM438.7 399.7h6.4v1.1h-6.4zM446.4 429.62h6.4v1.58h-6.4zM454.1 431.2h6.4v14.18h-6.4zM469.5 396.71h6.4v2.99h-6.4zM469.5 431.2h6.4v1.26h-6.4zM477.2 399.7h3.5v0.95h-3.5zM477.2 427.58h3.5v3.62h-3.5z" fill="#000"/>
<line x1="80" y1="399.7" x2="480.7" y2="399.7" stroke="#000" stroke-width="1.1"/>
<line x1="80" y1="431.2" x2="480.7" y2="431.2" stroke="#000" stroke-width="1.1"/>
<text font-size="10.6" font-family="Liberation Mono" text-anchor="middle" font-weight="bold" transform="translate(89.2,415.8) scale(1.2,1)">T</text>
<text font-size="10.6" font-family="Liberation Mono" text-anchor="middle" font-weight="bold" transform="translate(96.9,415.8) scale(1.2,1)">G</text>
<text font-size="10.6" font-family="Liberation Mono" text-anchor="middle" font-weight="bold" transform="translate(104.6,415.8) scale(1.2,1)">A</text>
<text font-size="10.6" font-family="Liberation Mono" text-anchor="middle" font-weight="bold" transform="translate(112.3,415.8) scale(1.2,1)">A</text>
<text font-size="10.6" font-family="Liberation Mono" text-anchor="middle" font-weight="bold" transform="translate(120,415.8) scale(1.2,1)">C</text>
<text font-size="10.6" font-family="Liberation Mono" text-anchor="middle" font-weight="bold" fill="#c8232b" transform="translate(127.7,415.8) scale(1.2,1)">C</text>
<text font-size="10.6" font-family="Liberation Mono" text-anchor="middle" font-weight="bold" fill="#c8232b" transform="translate(135.4,415.8) scale(1.2,1)">C</text>
<text font-size="10.6" font-family="Liberation Mono" text-anchor="middle" font-weight="bold" transform="translate(143.1,415.8) scale(1.2,1)">A</text>
<text font-size="10.6" font-family="Liberation Mono" text-anchor="middle" font-weight="bold" transform="translate(150.8,415.8) scale(1.2,1)">A</text>
<text font-size="10.6" font-family="Liberation Mono" text-anchor="middle" font-weight="bold" transform="translate(158.5,415.8) scale(1.2,1)">G</text>
<text font-size="10.6" font-family="Liberation Mono" text-anchor="middle" font-weight="bold" transform="translate(166.2,415.8) scale(1.2,1)">C</text>
<text font-size="10.6" font-family="Liberation Mono" text-anchor="middle" font-weight="bold" transform="translate(173.9,415.8) scale(1.2,1)">G</text>
<text font-size="10.6" font-family="Liberation Mono" text-anchor="middle" font-weight="bold" transform="translate(181.6,415.8) scale(1.2,1)">T</text>
<text font-size="10.6" font-family="Liberation Mono" text-anchor="middle" font-weight="bold" transform="translate(189.3,415.8) scale(1.2,1)">C</text>
<text font-size="10.6" font-family="Liberation Mono" text-anchor="middle" font-weight="bold" transform="translate(197,415.8) scale(1.2,1)">T</text>
<text font-size="10.6" font-family="Liberation Mono" text-anchor="middle" font-weight="bold" transform="translate(204.7,415.8) scale(1.2,1)">G</text>
<text font-size="10.6" font-family="Liberation Mono" text-anchor="middle" font-weight="bold" transform="translate(212.4,415.8) scale(1.2,1)">T</text>
<text font-size="10.6" font-family="Liberation Mono" text-anchor="middle" font-weight="bold" transform="translate(220.1,415.8) scale(1.2,1)">T</text>
<text font-size="10.6" font-family="Liberation Mono" text-anchor="middle" font-weight="bold" transform="translate(227.8,415.8) scale(1.2,1)">T</text>
<text font-size="10.6" font-family="Liberation Mono" text-anchor="middle" font-weight="bold" transform="translate(235.5,415.8) scale(1.2,1)">T</text>
<text font-size="10.6" font-family="Liberation Mono" text-anchor="middle" font-weight="bold" transform="translate(243.2,415.8) scale(1.2,1)">G</text>
<text font-size="10.6" font-family="Liberation Mono" text-anchor="middle" font-weight="bold" transform="translate(250.9,415.8) scale(1.2,1)">A</text>
<text font-size="10.6" font-family="Liberation Mono" text-anchor="middle" font-weight="bold" transform="translate(258.6,415.8) scale(1.2,1)">T</text>
<text font-size="10.6" font-family="Liberation Mono" text-anchor="middle" font-weight="bold" transform="translate(266.3,415.8) scale(1.2,1)">G</text>
<text font-size="10.6" font-family="Liberation Mono" text-anchor="middle" font-weight="bold" transform="translate(274,415.8) scale(1.2,1)">G</text>
<text font-size="10.6" font-family="Liberation Mono" text-anchor="middle" font-weight="bold" transform="translate(281.7,415.8) scale(1.2,1)">G</text>
<text font-size="10.6" font-family="Liberation Mono" text-anchor="middle" font-weight="bold" transform="translate(289.4,415.8) scale(1.2,1)">G</text>
<text font-size="10.6" font-family="Liberation Mono" text-anchor="middle" font-weight="bold" transform="translate(297.1,415.8) scale(1.2,1)">C</text>
<text font-size="10.6" font-family="Liberation Mono" text-anchor="middle" font-weight="bold" transform="translate(304.8,415.8) scale(1.2,1)">G</text>
<text font-size="10.6" font-family="Liberation Mono" text-anchor="middle" font-weight="bold" transform="translate(312.5,415.8) scale(1.2,1)">A</text>
<text font-size="10.6" font-family="Liberation Mono" text-anchor="middle" font-weight="bold" transform="translate(320.2,415.8) scale(1.2,1)">T</text>
<text font-size="10.6" font-family="Liberation Mono" text-anchor="middle" font-weight="bold" transform="translate(327.9,415.8) scale(1.2,1)">T</text>
<text font-size="10.6" font-family="Liberation Mono" text-anchor="middle" font-weight="bold" transform="translate(335.6,415.8) scale(1.2,1)">G</text>
<text font-size="10.6" font-family="Liberation Mono" text-anchor="middle" font-weight="bold" transform="translate(343.3,415.8) scale(1.2,1)">A</text>
<text font-size="10.6" font-family="Liberation Mono" text-anchor="middle" font-weight="bold" transform="translate(351,415.8) scale(1.2,1)">C</text>
<text font-size="10.6" font-family="Liberation Mono" text-anchor="middle" font-weight="bold" transform="translate(358.7,415.8) scale(1.2,1)">G</text>
<text font-size="10.6" font-family="Liberation Mono" text-anchor="middle" font-weight="bold" transform="translate(366.4,415.8) scale(1.2,1)">T</text>
<text font-size="10.6" font-family="Liberation Mono" text-anchor="middle" font-weight="bold" transform="translate(374.1,415.8) scale(1.2,1)">A</text>
<text font-size="10.6" font-family="Liberation Mono" text-anchor="middle" font-weight="bold" transform="translate(381.8,415.8) scale(1.2,1)">G</text>
<text font-size="10.6" font-family="Liberation Mono" text-anchor="middle" font-weight="bold" transform="translate(389.5,415.8) scale(1.2,1)">C</text>
<text font-size="10.6" font-family="Liberation Mono" text-anchor="middle" font-weight="bold" transform="translate(397.2,415.8) scale(1.2,1)">C</text>
<text font-size="10.6" font-family="Liberation Mono" text-anchor="middle" font-weight="bold" transform="translate(404.9,415.8) scale(1.2,1)">G</text>
<text font-size="10.6" font-family="Liberation Mono" text-anchor="middle" font-weight="bold" fill="#c8232b" transform="translate(412.6,415.8) scale(1.2,1)">A</text>
<text font-size="10.6" font-family="Liberation Mono" text-anchor="middle" font-weight="bold" transform="translate(420.3,415.8) scale(1.2,1)">T</text>
<text font-size="10.6" font-family="Liberation Mono" text-anchor="middle" font-weight="bold" transform="translate(428,415.8) scale(1.2,1)">C</text>
<text font-size="10.6" font-family="Liberation Mono" text-anchor="middle" font-weight="bold" transform="translate(435.7,415.8) scale(1.2,1)">G</text>
<text font-size="10.6" font-family="Liberation Mono" text-anchor="middle" font-weight="bold" transform="translate(443.4,415.8) scale(1.2,1)">T</text>
<text font-size="10.6" font-family="Liberation Mono" text-anchor="middle" font-weight="bold" transform="translate(451.1,415.8) scale(1.2,1)">T</text>
<text font-size="10.6" font-family="Liberation Mono" text-anchor="middle" font-weight="bold" transform="translate(458.8,415.8) scale(1.2,1)">T</text>
<text font-size="10.6" font-family="Liberation Mono" text-anchor="middle" font-weight="bold" transform="translate(466.5,415.8) scale(1.2,1)">C</text>
<text font-size="10.6" font-family="Liberation Mono" text-anchor="middle" font-weight="bold" transform="translate(474.2,415.8) scale(1.2,1)">A</text>
<text font-size="10.6" font-family="Liberation Mono" text-anchor="middle" font-weight="bold" transform="translate(89.2,426) scale(1.2,1)">A</text>
<text font-size="10.6" font-family="Liberation Mono" text-anchor="middle" font-weight="bold" transform="translate(96.9,426) scale(1.2,1)">C</text>
<text font-size="10.6" font-family="Liberation Mono" text-anchor="middle" font-weight="bold" transform="translate(104.6,426) scale(1.2,1)">T</text>
<text font-size="10.6" font-family="Liberation Mono" text-anchor="middle" font-weight="bold" transform="translate(112.3,426) scale(1.2,1)">T</text>
<text font-size="10.6" font-family="Liberation Mono" text-anchor="middle" font-weight="bold" transform="translate(120,426) scale(1.2,1)">G</text>
<text font-size="10.6" font-family="Liberation Mono" text-anchor="middle" font-weight="bold" transform="translate(127.7,426) scale(1.2,1)">G</text>
<text font-size="10.6" font-family="Liberation Mono" text-anchor="middle" font-weight="bold" transform="translate(135.4,426) scale(1.2,1)">G</text>
<text font-size="10.6" font-family="Liberation Mono" text-anchor="middle" font-weight="bold" transform="translate(143.1,426) scale(1.2,1)">T</text>
<text font-size="10.6" font-family="Liberation Mono" text-anchor="middle" font-weight="bold" transform="translate(150.8,426) scale(1.2,1)">T</text>
<text font-size="10.6" font-family="Liberation Mono" text-anchor="middle" font-weight="bold" transform="translate(158.5,426) scale(1.2,1)">C</text>
<text font-size="10.6" font-family="Liberation Mono" text-anchor="middle" font-weight="bold" transform="translate(166.2,426) scale(1.2,1)">G</text>
<text font-size="10.6" font-family="Liberation Mono" text-anchor="middle" font-weight="bold" transform="translate(173.9,426) scale(1.2,1)">C</text>
<text font-size="10.6" font-family="Liberation Mono" text-anchor="middle" font-weight="bold" transform="translate(181.6,426) scale(1.2,1)">A</text>
<text font-size="10.6" font-family="Liberation Mono" text-anchor="middle" font-weight="bold" transform="translate(189.3,426) scale(1.2,1)">G</text>
<text font-size="10.6" font-family="Liberation Mono" text-anchor="middle" font-weight="bold" transform="translate(197,426) scale(1.2,1)">A</text>
<text font-size="10.6" font-family="Liberation Mono" text-anchor="middle" font-weight="bold" transform="translate(204.7,426) scale(1.2,1)">C</text>
<text font-size="10.6" font-family="Liberation Mono" text-anchor="middle" font-weight="bold" transform="translate(212.4,426) scale(1.2,1)">A</text>
<text font-size="10.6" font-family="Liberation Mono" text-anchor="middle" font-weight="bold" transform="translate(220.1,426) scale(1.2,1)">A</text>
<text font-size="10.6" font-family="Liberation Mono" text-anchor="middle" font-weight="bold" transform="translate(227.8,426) scale(1.2,1)">A</text>
<text font-size="10.6" font-family="Liberation Mono" text-anchor="middle" font-weight="bold" transform="translate(235.5,426) scale(1.2,1)">A</text>
<text font-size="10.6" font-family="Liberation Mono" text-anchor="middle" font-weight="bold" transform="translate(243.2,426) scale(1.2,1)">C</text>
<text font-size="10.6" font-family="Liberation Mono" text-anchor="middle" font-weight="bold" transform="translate(250.9,426) scale(1.2,1)">T</text>
<text font-size="10.6" font-family="Liberation Mono" text-anchor="middle" font-weight="bold" transform="translate(258.6,426) scale(1.2,1)">A</text>
<text font-size="10.6" font-family="Liberation Mono" text-anchor="middle" font-weight="bold" transform="translate(266.3,426) scale(1.2,1)">C</text>
<text font-size="10.6" font-family="Liberation Mono" text-anchor="middle" font-weight="bold" transform="translate(274,426) scale(1.2,1)">C</text>
<text font-size="10.6" font-family="Liberation Mono" text-anchor="middle" font-weight="bold" transform="translate(281.7,426) scale(1.2,1)">C</text>
<text font-size="10.6" font-family="Liberation Mono" text-anchor="middle" font-weight="bold" transform="translate(289.4,426) scale(1.2,1)">C</text>
<text font-size="10.6" font-family="Liberation Mono" text-anchor="middle" font-weight="bold" transform="translate(297.1,426) scale(1.2,1)">G</text>
<text font-size="10.6" font-family="Liberation Mono" text-anchor="middle" font-weight="bold" transform="translate(304.8,426) scale(1.2,1)">C</text>
<text font-size="10.6" font-family="Liberation Mono" text-anchor="middle" font-weight="bold" transform="translate(312.5,426) scale(1.2,1)">T</text>
<text font-size="10.6" font-family="Liberation Mono" text-anchor="middle" font-weight="bold" transform="translate(320.2,426) scale(1.2,1)">A</text>
<text font-size="10.6" font-family="Liberation Mono" text-anchor="middle" font-weight="bold" transform="translate(327.9,426) scale(1.2,1)">A</text>
<text font-size="10.6" font-family="Liberation Mono" text-anchor="middle" font-weight="bold" transform="translate(335.6,426) scale(1.2,1)">C</text>
<text font-size="10.6" font-family="Liberation Mono" text-anchor="middle" font-weight="bold" transform="translate(343.3,426) scale(1.2,1)">T</text>
<text font-size="10.6" font-family="Liberation Mono" text-anchor="middle" font-weight="bold" transform="translate(351,426) scale(1.2,1)">G</text>
<text font-size="10.6" font-family="Liberation Mono" text-anchor="middle" font-weight="bold" transform="translate(358.7,426) scale(1.2,1)">C</text>
<text font-size="10.6" font-family="Liberation Mono" text-anchor="middle" font-weight="bold" transform="translate(366.4,426) scale(1.2,1)">A</text>
<text font-size="10.6" font-family="Liberation Mono" text-anchor="middle" font-weight="bold" transform="translate(374.1,426) scale(1.2,1)">T</text>
<text font-size="10.6" font-family="Liberation Mono" text-anchor="middle" font-weight="bold" transform="translate(381.8,426) scale(1.2,1)">C</text>
<text font-size="10.6" font-family="Liberation Mono" text-anchor="middle" font-weight="bold" transform="translate(389.5,426) scale(1.2,1)">G</text>
<text font-size="10.6" font-family="Liberation Mono" text-anchor="middle" font-weight="bold" transform="translate(397.2,426) scale(1.2,1)">G</text>
<text font-size="10.6" font-family="Liberation Mono" text-anchor="middle" font-weight="bold" transform="translate(404.9,426) scale(1.2,1)">C</text>
<text font-size="10.6" font-family="Liberation Mono" text-anchor="middle" font-weight="bold" transform="translate(412.6,426) scale(1.2,1)">T</text>
<text font-size="10.6" font-family="Liberation Mono" text-anchor="middle" font-weight="bold" fill="#c8232b" transform="translate(420.3,426) scale(1.2,1)">A</text>
<text font-size="10.6" font-family="Liberation Mono" text-anchor="middle" font-weight="bold" transform="translate(428,426) scale(1.2,1)">G</text>
<text font-size="10.6" font-family="Liberation Mono" text-anchor="middle" font-weight="bold" transform="translate(435.7,426) scale(1.2,1)">C</text>
<text font-size="10.6" font-family="Liberation Mono" text-anchor="middle" font-weight="bold" transform="translate(443.4,426) scale(1.2,1)">A</text>
<text font-size="10.6" font-family="Liberation Mono" text-anchor="middle" font-weight="bold" transform="translate(451.1,426) scale(1.2,1)">A</text>
<text font-size="10.6" font-family="Liberation Mono" text-anchor="middle" font-weight="bold" transform="translate(458.8,426) scale(1.2,1)">A</text>
<text font-size="10.6" font-family="Liberation Mono" text-anchor="middle" font-weight="bold" transform="translate(466.5,426) scale(1.2,1)">G</text>
<text font-size="10.6" font-family="Liberation Mono" text-anchor="middle" font-weight="bold" transform="translate(474.2,426) scale(1.2,1)">T</text>
<text font-size="10" transform="translate(400.05,309.6) scale(1.13,1)">m6</text>
<text font-size="15.5" transform="translate(416.17,314.5) scale(0.94,1)">A</text>
<path d="M656.1 88.8V397.7M755.9 88.8V397.7M855.7 88.8V397.7M591.5 348.8H920.2M591.5 278.4H920.2M591.5 208H920.2M591.5 137.6H920.2" stroke="#f4f4f4" stroke-width="0.8" fill="none"/>
<path d="M606.2 88.8V397.7M706 88.8V397.7M805.8 88.8V397.7M905.6 88.8V397.7M591.5 384H920.2M591.5 313.6H920.2M591.5 243.2H920.2M591.5 172.8H920.2M591.5 102.4H920.2" stroke="#e6e6e6" stroke-width="1" fill="none"/>
<rect x="591.5" y="88.8" width="328.7" height="308.9" fill="none" stroke="#d0d0d0" stroke-width="1"/>
<line x1="591.5" y1="88.8" x2="591.5" y2="398.2" stroke="#8a8a8a" stroke-width="1.1"/>
<line x1="591" y1="397.7" x2="920.2" y2="397.7" stroke="#8a8a8a" stroke-width="1.1"/>
<path d="M608.7 215.04 L613.69 133.94 L618.68 193.92 L623.67 226.64 L628.66 258.96 L633.65 284.64 L638.63 305.04 L643.62 321.26 L648.62 334.14 L653.61 344.38 L658.6 352.52 L663.59 358.99 L668.58 364.12 L673.57 368.2 L678.56 371.45 L683.55 374.03 L688.54 376.07 L693.53 377.7 L698.52 379 L703.51 380.02 L708.5 380.84 L713.49 381.49 L718.48 382 L723.47 382.41 L728.46 382.74 L733.45 383 L738.44 383.2 L743.43 383.37 L748.42 383.5 L753.41 383.6 L758.39 383.68 L763.38 383.75 L768.38 383.8 L773.37 383.84 L778.36 383.87 L783.35 383.9 L788.34 383.92 L793.33 383.94 L798.32 383.95 L803.31 383.96 L808.3 383.97 L813.29 383.97 L818.28 383.98 L823.27 383.98 L828.26 383.99 L833.25 383.99 L838.24 383.99 L843.23 383.99 L848.22 383.99 L853.21 384 L858.2 384 L863.19 384 L868.18 384 L873.17 384 L878.15 384 L883.14 384 L888.13 384 L893.12 384 L898.12 384 L903.11 384" stroke="#d9756d" stroke-width="1.3" fill="none" stroke-linejoin="round"/>
<path d="M608.7 331.06 L613.69 281.22 L618.68 286.85 L623.67 290.65 L628.66 300.36 L633.65 304.03 L638.63 312.61 L643.62 314.44 L648.62 319.94 L653.61 325.15 L658.6 329.79 L663.59 334.72 L668.58 338.24 L673.57 341.76 L678.56 344.86 L683.55 348.1 L688.54 351.62 L693.53 354.15 L698.52 356.4 L703.51 358.37 L708.5 360.35 L713.49 362.6 L718.48 364.29 L723.47 365.98 L728.46 367.39 L733.45 368.79 L738.44 370.2 L743.43 371.33 L748.42 372.45 L753.41 373.44 L758.39 374.43 L763.38 375.27 L768.38 376.96 L773.37 377.38 L778.36 377.66 L783.35 378.09 L788.34 378.37 L793.33 378.79 L798.32 379.21 L803.31 379.64 L808.3 379.92 L813.29 380.2 L818.28 380.48 L823.27 380.76 L828.26 381.04 L833.25 381.32 L838.24 381.47 L843.23 381.61 L848.22 381.75 L853.21 381.89 L858.2 382.03 L863.19 382.17 L868.18 382.31 L873.17 382.45 L878.15 382.45 L883.14 382.59 L888.13 382.73 L893.12 382.87 L898.12 382.87 L903.11 383.01" stroke="#55bcbc" stroke-width="1.3" fill="none" stroke-linejoin="round"/>
<line x1="701.2" y1="88.8" x2="701.2" y2="397.7" stroke="#111" stroke-width="1.3" stroke-dasharray="4.2 2.8"/>
<line x1="587.2" y1="384" x2="591.5" y2="384" stroke="#333" stroke-width="1.1"/>
<text font-size="14" transform="translate(549.98,388.8) scale(1.14,1)">0.00</text>
<line x1="587.2" y1="313.6" x2="591.5" y2="313.6" stroke="#333" stroke-width="1.1"/>
<text font-size="14" transform="translate(549.98,318.4) scale(1.14,1)">0.05</text>
<line x1="587.2" y1="243.2" x2="591.5" y2="243.2" stroke="#333" stroke-width="1.1"/>
<text font-size="14" transform="translate(549.98,248) scale(1.14,1)">0.10</text>
<line x1="587.2" y1="172.8" x2="591.5" y2="172.8" stroke="#333" stroke-width="1.1"/>
<text font-size="14" transform="translate(549.98,177.6) scale(1.14,1)">0.15</text>
<line x1="587.2" y1="102.4" x2="591.5" y2="102.4" stroke="#333" stroke-width="1.1"/>
<text font-size="14" transform="translate(549.98,107.2) scale(1.14,1)">0.20</text>
<line x1="606.2" y1="397.7" x2="606.2" y2="401.9" stroke="#333" stroke-width="1.1"/>
<text font-size="14.2" transform="translate(601.96,419.7) scale(1.1,1)">0</text>
<line x1="706" y1="397.7" x2="706" y2="401.9" stroke="#333" stroke-width="1.1"/>
<text font-size="14.2" transform="translate(697.33,419.7) scale(1.1,1)">20</text>
<line x1="805.8" y1="397.7" x2="805.8" y2="401.9" stroke="#333" stroke-width="1.1"/>
<text font-size="14.2" transform="translate(797.34,419.7) scale(1.1,1)">40</text>
<line x1="905.6" y1="397.7" x2="905.6" y2="401.9" stroke="#333" stroke-width="1.1"/>
<text font-size="14.2" transform="translate(896.92,419.7) scale(1.1,1)">60</text>
<text font-size="14.5" transform="translate(708.61,442.8) scale(1.08,1)">Kinetic score</text>
<text font-size="14" transform="translate(533.2,283.3) rotate(-90) scale(1.13,1.1)">Frequency</text>
<text font-size="13.4" transform="translate(806.82,116.8) scale(1,1)">CCA motif</text>
<rect x="808.2" y="122.4" width="18.5" height="18.5" fill="#fff" stroke="#d6d6d6" stroke-width="0.8"/>
<rect x="808.2" y="140.9" width="18.5" height="18.5" fill="#fff" stroke="#d6d6d6" stroke-width="0.8"/>
<line x1="810" y1="132" x2="825" y2="132" stroke="#7fcfcf" stroke-width="3.2"/>
<line x1="810" y1="150.2" x2="825" y2="150.2" stroke="#d2351f" stroke-width="3.2"/>
<text font-size="13.4" transform="translate(832.14,136) scale(1.01,1)">Wild type</text>
<text font-size="13.4" transform="translate(831.9,153.8) scale(1.01,1)">XXL knockout</text>
<path d="M318.83 631.3A241.9 241.9 0 1 1 128.27 1044.66" fill="none" stroke="#b4b2b2" stroke-width="8.2"/>
<path d="M320.1 635.5l0.8 -8.2M528.2 931.9l7.9 2.1M372.6 1098.1l2.6 7.8M343.2 1105.8l1.6 8.1M334.9 1107.2l1.3 8.1M281.8 1109.5l-0.6 8.2M229.3 1100l-2.4 7.9M225.2 1098.7l-2.5 7.8M210.7 1093.5l-3 7.6" stroke="#d4a4a4" stroke-width="0.6" fill="none"/>
<path d="M321.1 635.6l0.8 -8.2M480.3 719.6l6.3 -5.3M522.1 792.8l7.7 -2.7M457.8 1048.4l5.5 6.1M358.2 1102.4l2.1 7.9" stroke="#a2a2a2" stroke-width="1.5" fill="none"/>
<path d="M322 635.7l0.8 -8.2M425.8 671.7l4.4 -6.9M432.8 676.4l4.6 -6.8M459.7 698l5.6 -6M520.4 788.1l7.7 -2.9M525.6 803.2l7.8 -2.4M535.5 860.7l8.2 -0.4M508.3 983.4l7.3 3.8M469.1 1037.4l5.9 5.7M433.3 1067.9l4.7 6.7M421.3 1075.6l4.3 7M414.4 1079.6l4 7.1M366.3 1100.1l2.4 7.9M152.6 1060.5l-5 6.5" stroke="#d4d4d4" stroke-width="0.5" fill="none"/>
<path d="M323.9 635.9l0.9 -8.2M515.7 776.5l7.5 -3.3M273.1 1108.8l-0.9 8.2" stroke="#c07878" stroke-width="1.8" fill="none"/>
<path d="M325.7 636.1l1 -8.1M399.7 657.4l3.5 -7.4M444.7 685.1l5.1 -6.5M534.8 850.1l8.2 -0.8M527.1 935.9l7.9 2.2" stroke="#a8a8a8" stroke-width="0.7" fill="none"/>
<path d="M328.1 636.4l1 -8.1M453.3 692.2l5.4 -6.2M526.9 807.8l7.9 -2.2M530.5 822.2l8 -1.7M524 946.2l7.8 2.5M491 1011.2l6.7 4.8M394 1089.8l3.3 7.5M301.8 1110.1l0.1 8.2M276 1109.1l-0.8 8.2M188.9 1083.6l-3.8 7.3M147.8 1056.7l-5.2 6.4" stroke="#a8a8a8" stroke-width="1.5" fill="none"/>
<path d="M330.4 636.7l1.1 -8.1M510.7 766.1l7.3 -3.7M465.3 1041.3l5.8 5.8M261.5 1107.3l-1.3 8.1" stroke="#c88888" stroke-width="0.6" fill="none"/>
<path d="M332.6 637l1.2 -8.1M440.7 682.1l4.9 -6.6M482.3 722l6.4 -5.2M488.7 730.3l6.6 -4.9M490.3 732.4l6.6 -4.8M516.5 778.5l7.5 -3.2M522.6 794.2l7.7 -2.7M493.8 1007.2l6.8 4.7M475.9 1030.1l6.1 5.4M397.4 1088.4l3.4 7.5M237.8 1102.4l-2.1 7.9M207.9 1092.4l-3.1 7.6" stroke="#bf7070" stroke-width="0.8" fill="none"/>
<path d="M334.7 637.3l1.3 -8.1M534.8 893.9l8.2 0.7M534.1 900.4l8.1 1M517 965l7.6 3.2M386.8 1092.9l3.1 7.6" stroke="#c2c2c2" stroke-width="0.7" fill="none"/>
<path d="M335.7 637.5l1.3 -8.1M381.9 649.8l2.9 -7.7M504.9 989.5l7.1 4M480.1 1025.3l6.3 5.3M441.3 1062l4.9 6.5M398.9 1087.6l3.5 7.4M368.6 1099.4l2.4 7.8M174 1075.2l-4.3 7" stroke="#aeaeae" stroke-width="0.9" fill="none"/>
<path d="M336.8 637.7l1.3 -8.1M396.8 656l3.4 -7.5M409.6 662.3l3.8 -7.2M466.6 704.6l5.8 -5.8M497.7 1001.5l6.9 4.5M194.3 1086.3l-3.6 7.4" stroke="#c2c2c2" stroke-width="0.5" fill="none"/>
<path d="M339.1 638.1l1.4 -8.1M430.1 674.6l4.6 -6.8M509.3 763.2l7.3 -3.8M502.5 993.7l7.1 4.2" stroke="#cccccc" stroke-width="0.7" fill="none"/>
<path d="M341.8 638.6l1.5 -8.1M406.9 660.9l3.8 -7.3M523 795.3l7.8 -2.7M534 901.6l8.1 1M503.8 991.4l7.1 4.1M495.4 1004.9l6.8 4.6M492 1009.8l6.7 4.7" stroke="#dcdcdc" stroke-width="0.7" fill="none"/>
<path d="M343.3 638.9l1.6 -8M519.8 786.4l7.6 -3M531 825l8 -1.6M249.3 1105.1l-1.7 8M169.1 1072.1l-4.4 6.9" stroke="#9c9c9c" stroke-width="0.7" fill="none"/>
<path d="M344.3 639.1l1.6 -8M521.9 952.5l7.7 2.8M521.2 954.3l7.7 2.8M423 1074.6l4.3 7M240 1102.9l-2 8" stroke="#bf7070" stroke-width="1.1" fill="none"/>
<path d="M346.9 639.6l1.7 -8M448.9 1056.1l5.2 6.3M360.5 1101.7l2.2 7.9M353.8 1103.5l1.9 8M305.2 1110l0.2 8.2M294.9 1110.1l-0.1 8.2" stroke="#c07878" stroke-width="0.6" fill="none"/>
<path d="M349 640l1.8 -8M370.5 645.8l2.5 -7.8M457.5 695.9l5.5 -6.1M533.4 838.6l8.1 -1.2M535.8 867.7l8.2 -0.2M482.2 1022.6l6.4 5.2M323.3 1108.8l0.9 8.2" stroke="#cf9898" stroke-width="0.8" fill="none"/>
<path d="M352.1 640.7l1.9 -8M368.5 645.2l2.4 -7.8M438.3 680.3l4.8 -6.6M496 740.7l6.8 -4.5M532.8 834.7l8.1 -1.3M515.8 967.8l7.5 3.3M499.3 998.9l6.9 4.4M462.6 1044l5.7 5.9M345.3 1105.4l1.6 8M319.1 1109.2l0.7 8.2M312.4 1109.7l0.5 8.2M253.8 1106l-1.5 8.1M156.7 1063.6l-4.9 6.6" stroke="#cccccc" stroke-width="0.5" fill="none"/>
<path d="M354.7 641.4l2 -8M498.5 1000.2l6.9 4.4M328.7 1108.1l1.1 8.1M162.9 1068l-4.7 6.7" stroke="#a2a2a2" stroke-width="0.9" fill="none"/>
<path d="M357.2 642l2 -7.9M529.3 817l8 -1.9M525.8 940.4l7.9 2.3" stroke="#c2c2c2" stroke-width="1.1" fill="none"/>
<path d="M358.1 642.2l2.1 -7.9M535.4 885.6l8.2 0.5M535.3 887.7l8.2 0.5M520.7 955.6l7.7 2.9M395.2 1089.3l3.4 7.5M187.4 1082.8l-3.8 7.3" stroke="#cf9898" stroke-width="1.4" fill="none"/>
<path d="M360.6 642.9l2.2 -7.9M531.2 825.9l8 -1.6M535.5 883.2l8.2 0.4M201.5 1089.6l-3.3 7.5" stroke="#d4a4a4" stroke-width="1.1" fill="none"/>
<path d="M363 643.6l2.2 -7.9M535.8 872.8l8.2 0M531.6 917l8.1 1.5M524.5 944.9l7.8 2.5M509.8 980.4l7.3 3.7M506.8 986.2l7.2 3.9M466.2 1040.4l5.8 5.8M440.5 1062.7l4.9 6.6M407.5 1083.4l3.8 7.3M388.2 1092.3l3.1 7.6" stroke="#bcbcbc" stroke-width="0.9" fill="none"/>
<path d="M365.5 644.3l2.3 -7.9M507.3 759.5l7.2 -3.9M535.6 881.7l8.2 0.3M255.6 1106.3l-1.5 8.1" stroke="#a2a2a2" stroke-width="0.5" fill="none"/>
<path d="M373 646.7l2.6 -7.8M374.2 647l2.6 -7.8M483.4 723.4l6.4 -5.1M494.2 737.9l6.8 -4.6M504.4 754.2l7.1 -4.1M528.2 812.7l7.9 -2.1M535.8 876.1l8.2 0.1M453.7 1052.1l5.4 6.2M403.7 1085.3l3.6 7.3M373.6 1097.7l2.6 7.8M288.6 1109.9l-0.3 8.2M206.6 1091.8l-3.2 7.6M198.9 1088.5l-3.4 7.5" stroke="#dcdcdc" stroke-width="0.5" fill="none"/>
<path d="M376.9 648l2.7 -7.7M520.7 788.9l7.7 -2.9M424.3 1073.8l4.4 6.9M291.1 1110l-0.2 8.2" stroke="#a2a2a2" stroke-width="1.1" fill="none"/>
<path d="M380 649.1l2.8 -7.7M486.6 1017.1l6.5 5M416.9 1078.2l4.1 7.1M409.4 1082.4l3.8 7.2M402.3 1086l3.6 7.4M401 1086.6l3.6 7.4M385.3 1093.5l3 7.6M223 1098l-2.6 7.8M164.6 1069.2l-4.6 6.8" stroke="#bcbcbc" stroke-width="0.7" fill="none"/>
<path d="M381.1 649.5l2.9 -7.7M481 1024.1l6.3 5.2M352.9 1103.7l1.9 8M307.8 1109.9l0.3 8.2M153.6 1061.3l-5 6.5" stroke="#c88888" stroke-width="0.8" fill="none"/>
<path d="M383.3 650.3l2.9 -7.7M458.7 697l5.5 -6M535 852.6l8.2 -0.7M535.6 863l8.2 -0.3M500.2 997.5l7 4.3M450.4 1054.8l5.3 6.3" stroke="#b86a6a" stroke-width="1.1" fill="none"/>
<path d="M385.5 651.2l3 -7.6M445.6 685.9l5.1 -6.4M479.5 1026l6.3 5.3" stroke="#c88888" stroke-width="1.8" fill="none"/>
<path d="M388.5 652.4l3.1 -7.6M512.2 975.5l7.4 3.6M484.9 1019.3l6.4 5.1M428 1071.4l4.5 6.9M378.4 1096.1l2.8 7.7M315.4 1109.5l0.6 8.2M304.3 1110l0.2 8.2M294 1110.1l-0.1 8.2M212.5 1094.2l-2.9 7.7" stroke="#9c9c9c" stroke-width="0.5" fill="none"/>
<path d="M390.3 653.1l3.2 -7.6M445.4 1058.9l5.1 6.4M410.2 1081.9l3.9 7.2M317.3 1109.3l0.7 8.2M242.6 1103.6l-1.9 8" stroke="#9c9c9c" stroke-width="1.5" fill="none"/>
<path d="M391.9 653.8l3.2 -7.5M403.9 659.4l3.7 -7.3M520.1 957.2l7.7 2.9M519.2 959.7l7.6 3M500.9 996.4l7 4.3M455.5 1050.5l5.4 6.1M451.2 1054.2l5.3 6.3M419.3 1076.8l4.2 7.1M370.8 1098.7l2.5 7.8M232.4 1100.9l-2.3 7.9M166.8 1070.6l-4.5 6.8" stroke="#d4d4d4" stroke-width="0.7" fill="none"/>
<path d="M394.1 654.8l3.3 -7.5M511.7 768l7.4 -3.6M532.7 910.8l8.1 1.3" stroke="#c07878" stroke-width="0.8" fill="none"/>
<path d="M395.9 655.6l3.4 -7.5M464.4 702.5l5.7 -5.9M408.6 1082.8l3.8 7.3M279 1109.3l-0.7 8.2" stroke="#b86a6a" stroke-width="0.6" fill="none"/>
<path d="M401.9 658.4l3.6 -7.4M407.8 661.4l3.8 -7.3M500.5 747.6l7 -4.3M512.3 769.3l7.4 -3.6M534.3 845.7l8.1 -0.9M371.8 1098.4l2.5 7.8M227.1 1099.3l-2.4 7.8" stroke="#cf9898" stroke-width="1.1" fill="none"/>
<path d="M410.7 662.9l3.9 -7.2M417.7 666.8l4.1 -7.1M419.5 667.9l4.2 -7M487.9 729.1l6.5 -4.9M501 748.4l7 -4.3M524.5 799.7l7.8 -2.5M510.8 978.5l7.3 3.7M493.3 1007.9l6.7 4.7M252 1105.6l-1.6 8M158.5 1064.9l-4.8 6.6" stroke="#a2a2a2" stroke-width="0.7" fill="none"/>
<path d="M413 664.1l4 -7.2M524 798.4l7.8 -2.5M470.1 1036.4l5.9 5.7M266.9 1108.1l-1.1 8.1M192.1 1085.2l-3.7 7.3M183.7 1080.8l-3.9 7.2" stroke="#c2c2c2" stroke-width="0.9" fill="none"/>
<path d="M415.8 665.8l4.1 -7.1M450.3 689.6l5.3 -6.3M502.4 750.9l7 -4.2M534.4 898.4l8.2 0.9M533.8 903.1l8.1 1.1M526.8 937.3l7.9 2.2M362.3 1101.2l2.2 7.9M333.8 1107.4l1.2 8.1M160.2 1066.1l-4.8 6.7M133.6 1044.1l-5.7 5.9" stroke="#9c9c9c" stroke-width="0.9" fill="none"/>
<path d="M421.5 669.1l4.3 -7M424 670.6l4.3 -7M437.2 1065.1l4.8 6.6M404.6 1084.9l3.7 7.3M349.5 1104.5l1.8 8M338.2 1106.7l1.4 8.1M198.1 1088.1l-3.4 7.4M190.5 1084.4l-3.7 7.3" stroke="#aeaeae" stroke-width="0.7" fill="none"/>
<path d="M428.1 673.3l4.5 -6.9M478.9 718l6.2 -5.3M485 725.4l6.4 -5.1M535.1 854.6l8.2 -0.6M444.5 1059.6l5.1 6.5M138.8 1048.9l-5.5 6.1" stroke="#d4d4d4" stroke-width="0.9" fill="none"/>
<path d="M433.9 677.1l4.7 -6.7M468.5 706.6l5.9 -5.7M460.8 1045.6l5.6 6M363.3 1101l2.3 7.9M310.1 1109.8l0.4 8.2" stroke="#c88888" stroke-width="1.4" fill="none"/>
<path d="M435.8 678.5l4.8 -6.7M475.1 713.6l6.1 -5.5M532.1 913.8l8.1 1.4M478.1 1027.6l6.2 5.4M463.3 1043.2l5.7 5.9" stroke="#a8a8a8" stroke-width="1.1" fill="none"/>
<path d="M442.3 683.3l5 -6.5M517.4 964l7.6 3.2M135 1045.5l-5.6 6" stroke="#c47a84" stroke-width="1.1" fill="none"/>
<path d="M443.1 683.9l5 -6.5M535.8 870.9l8.2 0M535.1 890.8l8.2 0.6M527.4 935l7.9 2.2M510.2 979.7l7.3 3.7M339.2 1106.5l1.4 8.1M143.7 1053.2l-5.3 6.2" stroke="#9c9c9c" stroke-width="1.1" fill="none"/>
<path d="M448 687.8l5.2 -6.4M527.8 811l7.9 -2.1M529.9 819.6l8 -1.8M215.3 1095.3l-2.9 7.7M150.2 1058.6l-5.1 6.4" stroke="#aeaeae" stroke-width="1.5" fill="none"/>
<path d="M451.2 690.4l5.3 -6.3M488.7 1014.3l6.6 4.9M351.7 1103.9l1.9 8M271.8 1108.7l-0.9 8.2" stroke="#a8a8a8" stroke-width="0.5" fill="none"/>
<path d="M455.4 694l5.4 -6.1M485.9 726.6l6.5 -5M498.8 744.9l6.9 -4.4M517.9 962.7l7.6 3.1M290.1 1110l-0.3 8.2M264.7 1107.8l-1.1 8.1" stroke="#c47a84" stroke-width="0.8" fill="none"/>
<path d="M462 700.1l5.7 -5.9M497 742.1l6.9 -4.5M531.8 829.1l8.1 -1.5M534 843.2l8.1 -1M533.1 908.3l8.1 1.2M529.7 925.7l8 1.8M523.5 947.7l7.8 2.6M458.9 1047.4l5.5 6M425.9 1072.7l4.4 6.9M413 1080.5l4 7.2M243.8 1103.8l-1.9 8M131.5 1042.1l-5.7 5.9" stroke="#dcdcdc" stroke-width="0.9" fill="none"/>
<path d="M463.6 701.7l5.7 -5.9M518.7 783.8l7.6 -3.1M393.2 1090.2l3.3 7.5M339.9 1106.4l1.4 8.1M258.4 1106.8l-1.4 8.1M217.5 1096l-2.8 7.7M176.3 1076.6l-4.2 7" stroke="#bcbcbc" stroke-width="1.5" fill="none"/>
<path d="M470.2 708.3l5.9 -5.7M505.8 756.7l7.2 -4M535.7 879.3l8.2 0.2M525.1 942.9l7.8 2.4M154.8 1062.1l-4.9 6.5M141.8 1051.6l-5.4 6.2" stroke="#c07878" stroke-width="1.1" fill="none"/>
<path d="M471.9 710.1l6 -5.6M526.5 806.3l7.9 -2.3M535.2 855.8l8.2 -0.6M535.8 869.7l8.2 -0.1M501.8 994.9l7 4.2M447.2 1057.5l5.1 6.4M439.7 1063.3l4.9 6.6M223.8 1098.2l-2.6 7.8M221.1 1097.3l-2.7 7.8M220 1096.9l-2.7 7.7" stroke="#bcbcbc" stroke-width="0.5" fill="none"/>
<path d="M474 712.3l6.1 -5.5M519.3 785.2l7.6 -3M532.4 912.4l8.1 1.4M320.4 1109l0.8 8.2M234.7 1101.5l-2.2 7.9" stroke="#c88888" stroke-width="1.1" fill="none"/>
<path d="M474.6 713l6.1 -5.5M513.2 771.2l7.4 -3.5M535.7 880.7l8.2 0.3M533.6 904.9l8.1 1.1M434.3 1067.2l4.7 6.7M182.7 1080.3l-4 7.2" stroke="#bf7070" stroke-width="1.8" fill="none"/>
<path d="M476.2 714.9l6.1 -5.4M503.4 752.4l7.1 -4.1M283.8 1109.7l-0.5 8.2M277.3 1109.2l-0.7 8.2" stroke="#c2c2c2" stroke-width="1.5" fill="none"/>
<path d="M477.1 715.8l6.2 -5.4M489.7 1013l6.6 4.9M473 1033.3l6 5.6M246.2 1104.4l-1.8 8" stroke="#b86a6a" stroke-width="1.8" fill="none"/>
<path d="M492.3 735.1l6.7 -4.7M531.8 915.6l8.1 1.5M513.9 971.9l7.4 3.4M490.3 1012.3l6.6 4.8M435.3 1066.5l4.7 6.7M228.2 1099.6l-2.4 7.8M145.6 1054.9l-5.3 6.3" stroke="#aeaeae" stroke-width="1.1" fill="none"/>
<path d="M495.1 739.3l6.8 -4.6M508.4 761.5l7.3 -3.8M526.1 805.2l7.9 -2.3M535.8 874.5l8.2 0.1" stroke="#cf9898" stroke-width="0.6" fill="none"/>
<path d="M514.3 773.5l7.5 -3.4M532.4 832l8.1 -1.4M530 924.6l8 1.8M470.8 1035.7l6 5.6M178.7 1078l-4.1 7.1" stroke="#c47a84" stroke-width="0.6" fill="none"/>
<path d="M517.8 781.5l7.6 -3.1M521.1 790l7.7 -2.8M505.4 988.6l7.2 4M296 1110.1l-0.1 8.2" stroke="#c47a84" stroke-width="1.4" fill="none"/>
<path d="M525 801.3l7.8 -2.4M534.6 848.1l8.2 -0.8M514.5 970.7l7.5 3.4M507.8 984.2l7.2 3.9M159.3 1065.5l-4.8 6.7" stroke="#bf7070" stroke-width="0.6" fill="none"/>
<path d="M528.6 814.1l8 -2M530.7 921.3l8 1.7M528.5 930.6l7.9 2M430.6 1069.7l4.6 6.8M326.3 1108.4l1 8.1" stroke="#aeaeae" stroke-width="0.5" fill="none"/>
<path d="M532 830l8.1 -1.5M522.6 950.4l7.7 2.7M472.1 1034.3l6 5.6M468.2 1038.3l5.9 5.7M306.9 1109.9l0.3 8.2" stroke="#b86a6a" stroke-width="0.8" fill="none"/>
<path d="M533.2 837.1l8.1 -1.2M533.8 841.2l8.1 -1.1M534.6 896.5l8.2 0.8M521.6 953.4l7.7 2.8" stroke="#d4a4a4" stroke-width="1.4" fill="none"/>
<path d="M534.2 844.7l8.1 -1M533.2 907.3l8.1 1.2M411.1 1081.5l3.9 7.2M270.1 1108.5l-1 8.1" stroke="#d4a4a4" stroke-width="0.8" fill="none"/>
<path d="M535.3 857.4l8.2 -0.5M331.2 1107.8l1.1 8.1M196.2 1087.2l-3.5 7.4" stroke="#b86a6a" stroke-width="1.4" fill="none"/>
<path d="M535.7 866.2l8.2 -0.2M529.3 927.7l8 1.9M299 1110.1l0 8.2M235.8 1101.8l-2.1 7.9" stroke="#c47a84" stroke-width="1.8" fill="none"/>
<path d="M532.8 909.6l8.1 1.3M179.9 1078.7l-4.1 7.1M171.9 1073.9l-4.3 7M140.4 1050.4l-5.4 6.1" stroke="#bcbcbc" stroke-width="1.1" fill="none"/>
<path d="M531.1 919.2l8 1.6M485.8 1018.2l6.5 5M355.8 1103l2 8M347.6 1104.9l1.7 8M250.5 1105.3l-1.6 8M204.4 1090.9l-3.2 7.5M137.2 1047.5l-5.5 6" stroke="#cccccc" stroke-width="0.9" fill="none"/>
<path d="M530.4 922.8l8 1.7M513.5 972.8l7.4 3.5M497.2 1002.2l6.9 4.5M443.5 1060.4l5 6.5M185.8 1081.9l-3.9 7.2M161.8 1067.2l-4.7 6.7" stroke="#bf7070" stroke-width="1.4" fill="none"/>
<path d="M487.9 1015.5l6.5 4.9" stroke="#c07878" stroke-width="1.4" fill="none"/>
<path d="M483.2 1021.5l6.4 5.1M375.9 1097l2.7 7.7" stroke="#cf9898" stroke-width="1.8" fill="none"/>
<path d="M473.9 1032.3l6.1 5.5M391.3 1091l3.2 7.5M384.1 1094l3 7.6M286.9 1109.8l-0.4 8.2" stroke="#a8a8a8" stroke-width="0.9" fill="none"/>
<path d="M381.4 1095l2.9 7.7" stroke="#d4a4a4" stroke-width="1.8" fill="none"/>
<path d="M318.5 635.4L319.2 627.2L322.2 627.5L321.4 635.7ZM133.2 1043.8L127.5 1049.7L125.4 1047.6L131.1 1041.7ZM353.5 641.1L355.4 633.1L356.7 633.4L354.7 641.4ZM293.8 1110.1L293.7 1118.3L292.4 1118.2L292.6 1110ZM199.8 1088.9L196.4 1096.3L194.8 1095.6L198.3 1088.2ZM508 760.7L515.2 756.8L515.8 757.9L508.5 761.8ZM533.5 905.4L541.6 906.5L541.4 907.8L533.3 906.6Z" fill="#2424dc"/>
<path d="M319.25 626.42A246.8 246.8 0 1 1 124.83 1048.15" fill="none" stroke="#8c8c8c" stroke-width="1.7"/>
<path d="M317.15 650.73A222.4 222.4 0 1 1 141.95 1030.76" fill="none" stroke="#b4b2b2" stroke-width="10.8"/>
<path d="M319.1 656.3l1 -10.7M392.7 677l4.7 -9.7M514.1 852.1l10.8 -1M508.4 925.3l10.5 2.6M391.4 1068.2l4.6 9.7M253.6 1084.7l-2.2 10.6M191 1061.1l-5.3 9.4M178.6 1053.5l-5.9 9M157.6 1037.7l-7 8.2" stroke="#a8a8a8" stroke-width="0.5" fill="none"/>
<path d="M321.4 656.6l1.2 -10.7M457.7 725.3l7.9 -7.3M503.4 802.4l10.2 -3.5M514.8 863.9l10.8 -0.4M514.3 890.1l10.8 0.9M444.4 1032.5l7.3 8M272.7 1087.8l-1.3 10.7M176 1051.8l-6.1 8.9" stroke="#a2a2a2" stroke-width="0.5" fill="none"/>
<path d="M323.5 656.8l1.3 -10.7M505.1 807.5l10.3 -3.2M510.4 916.8l10.6 2.2M470.4 1004l8.6 6.6M182.1 1055.8l-5.8 9.1" stroke="#d4d4d4" stroke-width="0.5" fill="none"/>
<path d="M324.8 657l1.3 -10.7M491.3 773.7l9.6 -4.9M514.9 865.8l10.8 -0.3M479.5 991.3l9 5.9M463.2 1013.1l8.2 7M255.6 1085.1l-2.1 10.6M147.3 1028.4l-7.5 7.8" stroke="#d4d4d4" stroke-width="0.7" fill="none"/>
<path d="M325.8 657.1l1.4 -10.7M502.7 800.3l10.2 -3.6M511.7 834.4l10.6 -1.9M494.3 964.8l9.8 4.6M467.9 1007.3l8.5 6.7M256.4 1085.3l-2.1 10.6" stroke="#a2a2a2" stroke-width="1.1" fill="none"/>
<path d="M328.5 657.5l1.5 -10.7M359 664l3 -10.4M483.4 985l9.2 5.6M455.7 1021.4l7.8 7.4M425.4 1048l6.3 8.7M280.2 1088.6l-0.9 10.8M270.1 1087.5l-1.4 10.7M236.7 1080.5l-3.1 10.4M198.9 1065.3l-4.9 9.6M185.8 1058l-5.6 9.2M161.5 1041l-6.8 8.4" stroke="#aeaeae" stroke-width="0.9" fill="none"/>
<path d="M330.4 657.7l1.6 -10.7M412.9 688.2l5.7 -9.2M502.3 799.3l10.2 -3.6M504.4 805.5l10.3 -3.3M514.4 888l10.8 0.8M512.4 905.8l10.7 1.7M323.6 1087.8l1.3 10.7M322.1 1088l1.2 10.7M239 1081.1l-2.9 10.4" stroke="#cccccc" stroke-width="0.5" fill="none"/>
<path d="M333.2 658.2l1.8 -10.7M498.5 789.3l10 -4.1M214.2 1072.5l-4.2 10" stroke="#c47a84" stroke-width="1.4" fill="none"/>
<path d="M335 658.5l1.8 -10.6M373.2 668.8l3.7 -10.1M507.4 929.4l10.4 2.8M503.3 942.6l10.2 3.5M478.5 992.8l9 6M475 997.9l8.8 6.3M274.7 1088l-1.2 10.7" stroke="#dcdcdc" stroke-width="0.9" fill="none"/>
<path d="M336.6 658.8l1.9 -10.6M482 757.3l9.2 -5.7M507.5 815.7l10.4 -2.8M482.1 987.2l9.2 5.7" stroke="#bf7070" stroke-width="0.6" fill="none"/>
<path d="M338.2 659.1l2 -10.6M361.1 664.7l3.1 -10.3M510.8 914.9l10.6 2.1M486.6 979.6l9.4 5.3M440.7 1035.8l7.1 8.1M439.4 1036.9l7 8.2" stroke="#cf9898" stroke-width="0.8" fill="none"/>
<path d="M340.4 659.5l2.1 -10.6M365.1 665.9l3.3 -10.3M465.7 734.6l8.3 -6.9M488.6 768.6l9.5 -5.2M378 1074l4 10" stroke="#a8a8a8" stroke-width="1.1" fill="none"/>
<path d="M343 660l2.2 -10.6M445.2 712.9l7.3 -7.9M510.6 829.1l10.6 -2.2M512.1 907.6l10.7 1.8M491.8 969.9l9.6 4.9M432.9 1042.3l6.7 8.5" stroke="#c2c2c2" stroke-width="1.5" fill="none"/>
<path d="M343.9 660.2l2.3 -10.6M448.5 716l7.5 -7.8M364.1 1079l3.3 10.3" stroke="#c07878" stroke-width="0.6" fill="none"/>
<path d="M345.1 660.5l2.3 -10.5M422.3 694.4l6.2 -8.9M513.7 896.4l10.7 1.2M486.2 980.4l9.4 5.4M484.9 982.6l9.3 5.5M331.9 1086.6l1.7 10.7M283.3 1088.8l-0.7 10.8" stroke="#c2c2c2" stroke-width="0.5" fill="none"/>
<path d="M347.8 661.1l2.5 -10.5M415.2 689.7l5.8 -9.1M493.9 778.9l9.7 -4.7M464.6 1011.3l8.3 6.9M346.1 1083.9l2.4 10.5M291.7 1089.2l-0.3 10.8" stroke="#c2c2c2" stroke-width="1.1" fill="none"/>
<path d="M350.1 661.7l2.6 -10.5M404.4 683.2l5.3 -9.4M507 813.8l10.4 -2.9M514.3 855.1l10.8 -0.9M502.3 945.4l10.2 3.6M381.8 1072.5l4.2 10M369.9 1077l3.6 10.2M301.9 1089.3l0.2 10.8M252.4 1084.4l-2.3 10.6" stroke="#9c9c9c" stroke-width="1.5" fill="none"/>
<path d="M353 662.4l2.7 -10.4M367.3 666.6l3.4 -10.2M508.9 821.3l10.5 -2.5M514.5 857.6l10.8 -0.7M197.7 1064.7l-5 9.6" stroke="#c07878" stroke-width="1.4" fill="none"/>
<path d="M355.3 663l2.9 -10.4M383.9 673l4.3 -9.9M472.4 1001.5l8.7 6.4M403 1062.2l5.2 9.5M356.1 1081.4l2.9 10.4" stroke="#d4a4a4" stroke-width="0.8" fill="none"/>
<path d="M358.2 663.8l3 -10.4M376.4 670l3.9 -10.1M424.6 696.1l6.3 -8.8M501 795.7l10.1 -3.8M497.3 958.1l9.9 4.3M410.6 1057.8l5.6 9.2M350.5 1082.9l2.6 10.5M250.6 1084.1l-2.4 10.5M232.9 1079.3l-3.2 10.3" stroke="#d4d4d4" stroke-width="0.9" fill="none"/>
<path d="M362.8 665.2l3.2 -10.3M515 871.8l10.8 0M512.7 903.6l10.7 1.6M437.7 1038.4l7 8.3M180.1 1054.5l-5.9 9.1" stroke="#bf7070" stroke-width="1.8" fill="none"/>
<path d="M369.4 667.4l3.6 -10.2M473.8 745l8.7 -6.3M393.8 1067l4.8 9.7M389.6 1069l4.6 9.8M298.8 1089.3l0 10.8M285.7 1088.9l-0.6 10.8M266.6 1087l-1.6 10.7M160 1039.8l-6.9 8.3" stroke="#bcbcbc" stroke-width="0.5" fill="none"/>
<path d="M370.1 667.6l3.6 -10.2M386.7 674.3l4.4 -9.9M396.2 678.8l4.9 -9.6M508.3 818.7l10.5 -2.7M492.5 968.6l9.7 4.8M481.3 988.4l9.1 5.8M436.6 1039.3l6.9 8.3M277.5 1088.3l-1 10.8M247.8 1083.4l-2.5 10.5M169.9 1047.5l-6.4 8.7" stroke="#cccccc" stroke-width="0.9" fill="none"/>
<path d="M374.2 669.1l3.8 -10.1M430.3 700.3l6.6 -8.6M491.9 774.9l9.7 -4.8M509.6 824.3l10.5 -2.4M513.9 894.1l10.7 1.1M504.3 939.5l10.3 3.3M483.9 984.2l9.3 5.6M399.1 1064.3l5 9.6" stroke="#aeaeae" stroke-width="0.7" fill="none"/>
<path d="M378.7 670.9l4 -10M405.8 684l5.4 -9.4M482.9 758.6l9.2 -5.7M480.1 990.3l9.1 5.9M243.9 1082.4l-2.7 10.5M232.1 1079l-3.3 10.3" stroke="#a8a8a8" stroke-width="0.7" fill="none"/>
<path d="M381.5 672l4.2 -10M411.7 687.5l5.7 -9.2M447.6 715.1l7.4 -7.8M466.7 735.8l8.4 -6.8M514.6 859l10.8 -0.7M495.4 962.5l9.8 4.5" stroke="#c07878" stroke-width="1.1" fill="none"/>
<path d="M389 675.3l4.5 -9.8M462.2 730.4l8.2 -7.1M506.3 811.6l10.4 -3M461.6 1014.8l8.1 7.1" stroke="#c47a84" stroke-width="0.6" fill="none"/>
<path d="M390.4 676l4.6 -9.8M511.1 913l10.6 2M506.6 932.2l10.4 3M385.8 1070.7l4.4 9.9M360.2 1080.2l3.1 10.3" stroke="#bcbcbc" stroke-width="1.1" fill="none"/>
<path d="M393.4 677.4l4.7 -9.7M394.3 677.8l4.8 -9.7M496.7 785l9.9 -4.3M415 1055l5.8 9.1M387.2 1070.1l4.4 9.8" stroke="#d4a4a4" stroke-width="1.8" fill="none"/>
<path d="M395.4 678.4l4.8 -9.7M432.6 702.1l6.7 -8.5M442.2 710.1l7.2 -8.1M489.9 770.9l9.5 -5M490.3 972.8l9.6 5M292.9 1089.2l-0.3 10.8M216.9 1073.6l-4 10" stroke="#bcbcbc" stroke-width="1.5" fill="none"/>
<path d="M397.9 679.6l5 -9.6M372.5 1076.1l3.7 10.1" stroke="#aeaeae" stroke-width="0.5" fill="none"/>
<path d="M399.4 680.4l5 -9.5M449.2 716.6l7.5 -7.7M461.6 729.7l8.1 -7.1M509.9 825.4l10.5 -2.3M510.1 826.6l10.6 -2.3M511.9 908.7l10.6 1.8M421.1 1051l6.1 8.9M363.1 1079.3l3.2 10.3M262.5 1086.4l-1.8 10.7M184.4 1057.2l-5.7 9.2M167.9 1046l-6.5 8.6" stroke="#9c9c9c" stroke-width="1.1" fill="none"/>
<path d="M401.1 681.4l5.1 -9.5M487 765.7l9.4 -5.3M513.3 899l10.7 1.3M483 985.7l9.2 5.6M207.2 1069.4l-4.5 9.8" stroke="#bcbcbc" stroke-width="0.9" fill="none"/>
<path d="M403.6 682.7l5.3 -9.4M438.1 706.6l7 -8.2M500.3 950.7l10.1 3.9M451.2 1026l7.6 7.6" stroke="#a2a2a2" stroke-width="0.9" fill="none"/>
<path d="M407.8 685.1l5.5 -9.3M480.5 754.9l9.1 -5.8M515 874.4l10.8 0.1M466.6 1008.9l8.4 6.8M304.1 1089.2l0.3 10.8" stroke="#bf7070" stroke-width="0.8" fill="none"/>
<path d="M409.3 686l5.5 -9.3" stroke="#c2c2c2" stroke-width="0.7" fill="none"/>
<path d="M414.2 689l5.8 -9.1M509.8 919.6l10.5 2.4M489.8 973.8l9.5 5.1M288.9 1089.1l-0.5 10.8" stroke="#c47a84" stroke-width="1.8" fill="none"/>
<path d="M416.6 690.6l5.9 -9M326.8 1087.4l1.4 10.7" stroke="#b86a6a" stroke-width="1.4" fill="none"/>
<path d="M418.9 692.1l6 -9M471.6 742l8.6 -6.5M484.5 761.4l9.3 -5.5M471.8 1002.3l8.6 6.5M227.8 1077.6l-3.5 10.2M155.9 1036.3l-7.1 8.2" stroke="#c47a84" stroke-width="0.8" fill="none"/>
<path d="M420.2 693l6.1 -8.9M513.5 846.6l10.7 -1.3M469.4 1005.4l8.5 6.6" stroke="#bf7070" stroke-width="1.4" fill="none"/>
<path d="M426.9 697.7l6.4 -8.7M478.9 752.4l9 -6M512.6 840.4l10.7 -1.6M509.1 922.4l10.5 2.5M419.4 1052.2l6 9M417.3 1053.6l5.9 9M287.2 1089l-0.5 10.8M151.9 1032.8l-7.3 8" stroke="#aeaeae" stroke-width="1.1" fill="none"/>
<path d="M428.7 699.1l6.5 -8.6M487.2 978.6l9.4 5.3M169 1046.8l-6.4 8.7" stroke="#c2c2c2" stroke-width="0.9" fill="none"/>
<path d="M431.3 701.1l6.6 -8.5M506 934l10.4 3.1M329.1 1087.1l1.5 10.7M306.6 1089.1l0.4 10.8M219.2 1074.5l-3.9 10.1M210.5 1070.9l-4.4 9.9" stroke="#d4a4a4" stroke-width="1.1" fill="none"/>
<path d="M434.9 704l6.8 -8.4" stroke="#bf7070" stroke-width="1.1" fill="none"/>
<path d="M437.2 705.8l6.9 -8.3M498.9 790.2l10 -4.1M514.9 878.9l10.8 0.3M488.3 976.5l9.5 5.2M485.3 981.8l9.3 5.5M397.1 1065.4l4.9 9.6M354.9 1081.7l2.8 10.4M313.1 1088.8l0.8 10.8M212.5 1071.8l-4.3 9.9" stroke="#dcdcdc" stroke-width="0.5" fill="none"/>
<path d="M439.7 708l7.1 -8.2M477.4 750.3l8.9 -6.1M412 1056.9l5.7 9.2M343.2 1084.5l2.2 10.6" stroke="#c07878" stroke-width="0.8" fill="none"/>
<path d="M443.8 711.6l7.3 -8M481.1 755.9l9.1 -5.8M460 1016.7l8.1 7.2M435.3 1040.4l6.8 8.4M430.2 1044.4l6.6 8.6M368.4 1077.6l3.5 10.2M309.1 1089l0.6 10.8M171.4 1048.6l-6.3 8.8" stroke="#c47a84" stroke-width="1.1" fill="none"/>
<path d="M450.6 718l7.6 -7.7M497.4 786.7l9.9 -4.3M514.4 856.6l10.8 -0.8M458.2 1018.7l8 7.3M454.8 1022.3l7.8 7.5M293.9 1089.3l-0.2 10.8M268.5 1087.3l-1.5 10.7" stroke="#a8a8a8" stroke-width="1.5" fill="none"/>
<path d="M452.3 719.7l7.7 -7.6M453.3 720.7l7.7 -7.5M513.8 849.3l10.7 -1.1M493 967.4l9.7 4.7M430.9 1043.8l6.6 8.5M229.4 1078.2l-3.4 10.2M225 1076.7l-3.6 10.2M204.2 1068l-4.7 9.7" stroke="#9c9c9c" stroke-width="0.5" fill="none"/>
<path d="M455.5 723.1l7.8 -7.4M469.9 739.8l8.6 -6.6M499.3 953.4l10 4M351.8 1082.5l2.7 10.5M347.6 1083.6l2.5 10.5" stroke="#bcbcbc" stroke-width="0.7" fill="none"/>
<path d="M456.8 724.4l7.9 -7.4M467.9 737.4l8.5 -6.7M492.8 776.8l9.7 -4.8M506 810.6l10.4 -3.1" stroke="#c88888" stroke-width="0.8" fill="none"/>
<path d="M459.7 727.6l8 -7.2M485.7 763.3l9.3 -5.4M489.3 769.9l9.5 -5.1M501.6 797.3l10.1 -3.7M510.8 829.9l10.6 -2.1M514.8 882l10.8 0.5M384.7 1071.2l4.3 9.9" stroke="#a8a8a8" stroke-width="0.9" fill="none"/>
<path d="M464.2 732.8l8.3 -6.9M514.7 883.2l10.8 0.5M508.1 926.7l10.5 2.7M338.3 1085.5l2 10.6M314.5 1088.7l0.8 10.8M259.7 1085.9l-1.9 10.6M221.6 1075.4l-3.8 10.1M196 1063.8l-5.1 9.5M165.7 1044.3l-6.6 8.6" stroke="#a2a2a2" stroke-width="1.5" fill="none"/>
<path d="M472.1 742.8l8.7 -6.4M452.7 1024.5l7.7 7.6M378.9 1073.7l4 10M239.8 1081.3l-2.9 10.4M188.6 1059.7l-5.4 9.3M182.9 1056.3l-5.7 9.2M174.5 1050.7l-6.1 8.9" stroke="#a2a2a2" stroke-width="0.7" fill="none"/>
<path d="M475.1 747l8.8 -6.2M511.7 910.2l10.6 1.9M423.7 1049.2l6.3 8.8M242.7 1082.1l-2.8 10.4M240.5 1081.6l-2.9 10.4M163.2 1042.3l-6.7 8.5" stroke="#dcdcdc" stroke-width="0.7" fill="none"/>
<path d="M476.8 749.3l8.9 -6.1M515 876.5l10.8 0.2M505.1 937.2l10.3 3.2M405.3 1060.9l5.3 9.4M392.8 1067.5l4.7 9.7M366.9 1078.1l3.4 10.2M160.9 1040.5l-6.8 8.4M149.5 1030.6l-7.4 7.9" stroke="#cccccc" stroke-width="0.7" fill="none"/>
<path d="M490.6 772.4l9.6 -5M513 842.9l10.7 -1.5M514.7 860.6l10.8 -0.6M505.5 935.9l10.3 3.2M441.6 1035l7.1 8.1M208.3 1069.9l-4.5 9.8" stroke="#c07878" stroke-width="1.8" fill="none"/>
<path d="M495 781.3l9.8 -4.5M500 793l10.1 -3.9M513.2 844.1l10.7 -1.4M489.3 974.7l9.5 5.1M375.3 1075.1l3.8 10.1M265.6 1086.9l-1.6 10.7M173.7 1050.1l-6.2 8.9" stroke="#c88888" stroke-width="1.8" fill="none"/>
<path d="M496 783.6l9.9 -4.4M498.5 955.3l10 4.1M311.7 1088.9l0.7 10.8M152.6 1033.4l-7.2 8" stroke="#aeaeae" stroke-width="1.5" fill="none"/>
<path d="M506.6 812.4l10.4 -3M514.1 892.2l10.8 1M513 901.8l10.7 1.5M450 1027.2l7.6 7.7M413.8 1055.8l5.8 9.1M335.1 1086.1l1.8 10.6M154.9 1035.4l-7.1 8.1" stroke="#9c9c9c" stroke-width="0.7" fill="none"/>
<path d="M507.9 817.3l10.4 -2.7M407.1 1059.9l5.4 9.3" stroke="#c88888" stroke-width="0.6" fill="none"/>
<path d="M511.1 831.5l10.6 -2M514.9 866.9l10.8 -0.3M396.1 1065.8l4.9 9.6" stroke="#cf9898" stroke-width="1.4" fill="none"/>
<path d="M512.2 837.3l10.7 -1.7M443.5 1033.3l7.2 8" stroke="#b86a6a" stroke-width="0.8" fill="none"/>
<path d="M515 869.2l10.8 -0.2M476.8 995.2l8.9 6.1M473.3 1000.1l8.7 6.4M457.4 1019.5l7.9 7.3M401 1063.3l5.1 9.5M193.8 1062.7l-5.2 9.5M187.9 1059.3l-5.5 9.3" stroke="#d4a4a4" stroke-width="0.6" fill="none"/>
<path d="M514.9 880.3l10.8 0.4M296 1089.3l-0.1 10.8" stroke="#b86a6a" stroke-width="1.8" fill="none"/>
<path d="M514.6 884.8l10.8 0.6M452 1025.2l7.7 7.6M276.7 1088.3l-1.1 10.7M246.8 1083.2l-2.5 10.5M215.3 1072.9l-4.1 10M201.6 1066.7l-4.8 9.7" stroke="#c88888" stroke-width="1.1" fill="none"/>
<path d="M514.6 885.7l10.8 0.7M496.4 960.2l9.9 4.4M271 1087.6l-1.3 10.7" stroke="#b86a6a" stroke-width="0.6" fill="none"/>
<path d="M511.3 912.3l10.6 2M223.6 1076.1l-3.7 10.1M209.2 1070.3l-4.4 9.9" stroke="#9c9c9c" stroke-width="0.9" fill="none"/>
<path d="M501.4 948l10.1 3.8M474.2 999l8.8 6.3M447.7 1029.4l7.4 7.8M395 1066.4l4.8 9.7M235 1080l-3.1 10.3" stroke="#cf9898" stroke-width="1.1" fill="none"/>
<path d="M500.8 949.6l10.1 3.8M358.2 1080.8l3 10.4M337 1085.8l1.9 10.6" stroke="#cf9898" stroke-width="1.8" fill="none"/>
<path d="M480.6 989.6l9.1 5.8M445.5 1031.5l7.3 7.9M428.1 1046l6.5 8.6M409.2 1058.6l5.5 9.3M319.2 1088.3l1.1 10.7" stroke="#d4a4a4" stroke-width="1.4" fill="none"/>
<path d="M340.2 1085.2l2.1 10.6M288 1089.1l-0.5 10.8" stroke="#cf9898" stroke-width="0.6" fill="none"/>
<path d="M316.7 1088.5l0.9 10.8" stroke="#b86a6a" stroke-width="1.1" fill="none"/>
<path d="M316.7 656.1L317.6 645.3L320.4 645.6L319.3 656.4ZM147.6 1028.8L140.2 1036.6L138.2 1034.6L145.7 1026.9ZM348.7 661.3L351.2 650.8L352.3 651.1L349.8 661.6ZM294.2 1089.3L294 1100.1L292.8 1100L293.1 1089.2ZM208.4 1069.9L203.9 1079.8L202.4 1079.1L207 1069.3ZM489.6 770.4L499.1 765.4L499.7 766.4L490.1 771.4ZM512.9 902.5L523.6 904L523.4 905.2L512.7 903.6Z" fill="#2424dc"/>
<path d="M315 676.2L315.9 665.7L316.5 665.7L315.6 676.3ZM333.3 673.7L334.3 668.1L335.3 668.3L334.3 673.8ZM476.6 789.6L486.2 785.2L486.5 785.8L476.8 790.2ZM477.3 791.2L487 786.9L487.6 788.2L477.9 792.5ZM494.8 869.1L505.4 869L505.4 869.8L494.8 869.9ZM449.2 998.3L457.3 1005.1L456.8 1005.7L448.7 998.9Z" fill="#6060c8"/>
<path d="M315.9 676.3L316.8 665.8L319.9 666.1L318.8 676.6ZM363.4 686.7L366.9 676.7L368.6 677.3L365 687.2ZM378.4 687.2L380.6 682.1L381.5 682.5L379.3 687.6ZM391.8 699.3L396.8 690L397.9 690.5L392.8 699.8ZM472 780.3L481.3 775.4L482.8 778.1L473.3 782.9ZM486.3 815.2L491.9 813.5L492.3 814.8L486.7 816.5ZM492.8 844.4L503.3 842.9L503.7 846L493.2 847.3ZM493.4 848.6L503.9 847.3L504.1 848.7L493.5 849.9ZM266.4 1066.5L264.7 1077L263.7 1076.8L265.4 1066.4ZM207.6 1047.1L202.8 1056.5L200.9 1055.6L205.9 1046.2ZM188.8 1042.7L186.1 1046.9L184.3 1045.8L187.1 1041.6ZM185.9 1034.1L182.3 1039.3L179.9 1037.6L183.6 1032.4ZM164.2 1016.6L157 1024.4L155.9 1023.4L163.2 1015.7Z" fill="#2020d8"/>
<path d="M319.9 676.7L321.1 666.2L321.7 666.3L320.5 676.8ZM351.3 682.9L354.2 672.7L357.2 673.5L354.1 683.7ZM412.1 705.8L415.3 701.2L417.4 702.7L414.2 707.2ZM413.6 713L419.8 704.4L421.2 705.5L414.9 714ZM454.4 752.8L459.2 749.1L460.4 750.7L455.5 754.3ZM492.8 900.1L498 900.9L497.7 903.3L492.5 902.5ZM413.3 1031.8L419.6 1040.3L419.1 1040.7L412.9 1032.1ZM398.2 1041.7L403.6 1050.8L402.9 1051.2L397.5 1042.1ZM366.6 1056.8L368.7 1062.5L365.8 1063.5L363.8 1057.8ZM216.4 1051.4L213.9 1056.8L212.8 1056.3L215.3 1050.9Z" fill="#f0d8b0"/>
<path d="M320.6 676.8L321.8 666.3L322.8 666.4L321.6 676.9ZM477.9 792.6L487.6 788.3L488.2 789.6L478.5 793.8ZM487.7 924.7L497.9 927.5L497.6 928.5L487.4 925.6ZM433.2 1015.3L440.5 1023L439.2 1024.2L432 1016.4ZM406 1036.8L411.8 1045.7L410.3 1046.6L404.6 1037.7ZM329.3 1066.6L331 1077.1L329.3 1077.3L327.7 1066.8ZM259.6 1071.1L258.6 1075.9L256.6 1075.5L257.6 1070.7ZM240.6 1060.5L237.5 1070.7L235.8 1070.2L239 1060.1Z" fill="#8888a8"/>
<path d="M321.9 677L323.2 666.4L325.2 666.7L323.8 677.2ZM424.9 721.8L428.8 717.1L429.8 717.9L425.7 722.6ZM462.8 764.7L466.8 762.1L467.3 762.9L463.3 765.5ZM467.5 772.3L471.8 769.8L472.3 770.7L468 773.2ZM484.8 810.3L494.8 807L495.8 809.9L485.7 813.1ZM478 951.9L487.7 956.2L487.3 957.1L477.6 952.8ZM440.7 1007.8L448.4 1015.1L447.8 1015.7L440.2 1008.4ZM243.3 1061.3L240.4 1071.5L239.4 1071.2L242.4 1061.1ZM204 1045.2L201.8 1049.3L200.9 1048.8L203.2 1044.7Z" fill="#a8dca8"/>
<path d="M324.7 673L325.5 666.7L326.5 666.9L325.6 673.2ZM378 692.5L382.3 682.8L383 683.1L378.7 692.8ZM390.1 698.4L395.1 689L396.4 689.7L391.3 699ZM424.3 715.3L428 710.7L428.8 711.3L425 715.9ZM429.7 726.1L436.8 718.2L437.6 718.9L430.4 726.7ZM437.9 733.9L445.5 726.5L450.3 731.5L442.5 738.7ZM477.7 965.2L482.2 967.6L481.7 968.7L477.2 966.3ZM466.9 973.3L476 978.7L475.7 979.2L466.6 973.8ZM420.9 1026L427.6 1034.3L426.8 1034.9L420.2 1026.6ZM355 1060.7L356.7 1066.2L356.1 1066.3L354.5 1060.8ZM308.9 1073.5L309.2 1079.4L307.8 1079.5L307.5 1073.6ZM220 1059.7L218.3 1063.8L216.7 1063.1L218.4 1059ZM214.3 1050.4L209.8 1060L208.6 1059.5L213.2 1049.9ZM161.5 1022.7L158.6 1025.9L157.9 1025.2L160.8 1022.1Z" fill="#b0b0b0"/>
<path d="M325.8 673.1L326.6 666.9L329.7 667.3L328.7 673.5ZM357.3 684.7L360.5 674.5L362.9 675.3L359.6 685.4ZM429.8 1018.5L436.9 1026.3L436.1 1027L429 1019.1ZM237.1 1059.4L233.8 1069.5L232.8 1069.2L236.1 1059.1ZM197 1041.2L191.6 1050.3L188.9 1048.7L194.5 1039.7ZM176.6 1027.2L170.1 1035.6L167.7 1033.6L174.3 1025.4Z" fill="#b8c8d8"/>
<path d="M329.2 678L330.9 667.5L332.9 667.9L331.1 678.3ZM400.9 704.5L406.4 695.5L408.2 696.6L402.5 705.6ZM407.1 708.5L413 699.7L414.4 700.7L408.5 709.4ZM494.7 879.7L505.3 880.1L505.2 881.8L494.6 881.3ZM488.9 920.3L499.1 922.8L498.8 924.2L488.5 921.6ZM485.1 933.2L495.2 936.5L495 937.2L484.9 933.9ZM467.5 972.4L476.6 977.7L476.3 978.3L467.2 972.9ZM359.1 1059.4L361 1065.3L359.1 1065.9L357.3 1060ZM323.1 1067.5L324.4 1078L322.7 1078.2L321.4 1067.7ZM300.5 1069.1L300.7 1079.7L298.9 1079.7L298.9 1069.1Z" fill="#4f9a6a"/>
<path d="M332.2 673.5L333.2 667.9L334 668.1L333 673.7ZM335.9 679.2L336.9 674L337.9 674.2L336.9 679.4ZM489.7 827.7L500 825.3L500.3 826.7L490 829ZM492.7 928.4L497.3 929.7L496.8 931.4L492.2 930ZM394.7 1043.7L399.9 1053L398.6 1053.7L393.5 1044.4ZM314.2 1068.4L315 1079L313.3 1079.1L312.5 1068.6ZM230.3 1057.1L228.2 1062.6L227.3 1062.3L229.3 1056.7ZM226.3 1055.6L222.5 1065.5L220.1 1064.5L224.1 1054.7ZM178.2 1028.4L174.6 1033.1L173.2 1032L176.9 1027.4Z" fill="#a8c4e8"/>
<path d="M338.2 675.1L339.5 669.1L340.1 669.2L338.8 675.2ZM367 681.7L368.6 677.3L371 678.2L369.3 682.5ZM421.9 713.8L425.7 708.9L427.7 710.5L423.8 715.3ZM484 808L494 804.6L494.6 806.2L484.5 809.6ZM498.6 851.6L504.3 851.1L504.5 852.8L498.7 853.3ZM499.5 886.6L504.9 887L504.8 887.8L499.4 887.4ZM464.3 977.6L473.2 983.3L472.1 985L463.2 979.2ZM460.9 982.7L469.7 988.7L469.2 989.3L460.5 983.4ZM423.9 1023.6L430.7 1031.7L429.6 1032.6L422.8 1024.4ZM393.2 1044.5L398.3 1053.8L397.4 1054.3L392.4 1045ZM331.1 1071.7L331.9 1076.9L331.1 1077L330.3 1071.9ZM219.1 1052.6L214.8 1062.3L212.5 1061.2L216.8 1051.6Z" fill="#88a8d0"/>
<path d="M338 679.6L340.2 669.2L340.8 669.4L338.6 679.7ZM348.6 682.1L351.3 671.9L353 672.3L350.2 682.6ZM427.4 724L434.3 716L435.9 717.4L428.8 725.3ZM479.8 797L489.6 792.9L490.8 795.8L480.9 799.7ZM489.1 825.4L499.4 822.9L499.7 824.1L489.4 826.5ZM454.4 991.7L462.8 998.2L462.2 999L453.8 992.5ZM443.2 1005.1L451.1 1012.3L450.2 1013.2L442.4 1006ZM361.8 1064.5L363.3 1069.2L362.5 1069.4L361 1064.8ZM261.7 1065.7L259.7 1076.1L258.7 1075.9L260.7 1065.5ZM208.4 1047.5L203.6 1057L202.9 1056.6L207.7 1047.2ZM200 1043L194.7 1052.2L193.9 1051.7L199.2 1042.5ZM193.8 1039.3L188.2 1048.3L186.8 1047.3L192.4 1038.4Z" fill="#3d6e5a"/>
<path d="M339.3 679.9L341.6 669.5L342.4 669.7L340.1 680.1ZM386.2 696.4L391 686.9L392.8 687.8L388 697.3ZM428.2 716.5L431 713.1L431.6 713.7L428.8 717ZM476.3 775.7L480.4 773.5L481.3 775.4L477.3 777.5ZM492.3 841.2L502.8 839.6L503 840.8L492.5 842.4ZM486.3 929.4L496.5 932.4L495.7 934.9L485.6 931.7ZM436.9 1011.7L440.1 1014.9L439.5 1015.4L436.4 1012.3ZM387.4 1047.6L392.2 1057.1L390.9 1057.7L386.1 1048.3ZM285.7 1068.7L285.1 1079.3L284.3 1079.2L285 1068.7Z" fill="#e0c8e0"/>
<path d="M340.1 680.1L342.4 669.7L343.4 669.9L341.1 680.3ZM433 729.1L440.3 721.4L441 722.1L433.7 729.8ZM433.7 729.8L441 722.1L441.8 722.8L434.4 730.4ZM486.7 944.9L491.6 946.8L491.2 947.8L486.4 945.9ZM481.1 944.5L490.9 948.4L490.3 950L480.4 946.1ZM463.2 979.3L472.1 985.1L470.6 987.2L461.8 981.3ZM442.4 1006L446 1009.3L445.5 1009.8L441.9 1006.5ZM435 1013.6L442.4 1021.2L440.6 1022.9L433.3 1015.2ZM425.2 1022.4L432.1 1030.5L431.6 1030.9L424.8 1022.8ZM407.9 1035.5L413.8 1044.3L412.8 1045L406.9 1036.2ZM361.1 1058.7L364.5 1068.8L363.3 1069.2L359.9 1059.1ZM352.3 1061.5L355.2 1071.6L354.3 1071.9L351.4 1061.7ZM344.9 1063.4L347.4 1073.7L346.2 1074L343.8 1063.7ZM277.6 1068L277.1 1073L275.1 1072.8L275.7 1067.8ZM255.1 1064.4L252.8 1074.7L251.8 1074.5L254.2 1064.2ZM224 1054.7L220 1064.5L218.4 1063.8L222.5 1054Z" fill="#6ab0b8"/>
<path d="M341.3 680.3L343.7 670L344.3 670.1L341.9 680.5ZM450.2 747.6L458.4 740.9L460.4 743.3L452.1 749.9ZM468.1 773.2L477.2 767.9L477.9 769.2L468.7 774.4ZM469 774.8L478.2 769.6L479.4 771.8L470.2 777ZM491.9 905.9L502.4 907.7L502.1 908.9L491.7 907ZM453.3 993.1L461.7 999.6L460.6 1001L452.3 994.4ZM346.1 1063.1L348.7 1073.4L347.9 1073.6L345.4 1063.3Z" fill="#d8a8c0"/>
<path d="M342 680.5L344.4 670.2L346.1 670.5L343.6 680.9ZM375.4 691.4L379.6 681.6L380.1 681.8L375.9 691.6ZM388.1 697.3L392.9 687.9L394 688.5L389.1 697.9ZM494.4 860.2L505 859.5L505.2 862.6L494.6 863.1ZM499 895.9L504 896.5L503.7 899.1L498.7 898.4ZM401.4 1039.8L406.9 1048.8L404.3 1050.4L398.9 1041.3ZM348.9 1062.4L351.7 1072.6L349.2 1073.3L346.6 1063ZM343.3 1063.8L345.7 1074.1L344 1074.5L341.7 1064.2ZM189.2 1036.3L183.3 1045.1L182.8 1044.8L188.7 1035.9Z" fill="#e8e0c0"/>
<path d="M343.9 680.9L346.4 670.6L348.4 671.1L345.8 681.4ZM394.8 700.9L400 691.7L400.7 692.1L395.4 701.3ZM494.8 871.1L505.4 871L505.4 872.8L494.8 872.7ZM492.4 903L502.9 904.7L502.4 907.7L491.9 905.9ZM380.6 1050.9L385 1060.6L383.2 1061.4L378.8 1051.7ZM356.1 1060.3L359.3 1070.4L358.1 1070.8L355 1060.7ZM232.6 1057.9L229.1 1067.9L227.8 1067.4L231.4 1057.5ZM181.2 1030.7L177.6 1035.6L175.6 1034.1L179.2 1029.2Z" fill="#2a2a80"/>
<path d="M346.9 681.7L349.6 671.4L351.2 671.9L348.5 682.1ZM395.4 701.3L400.7 692.1L402.2 693L396.9 702.1ZM470.7 778L475.8 775.2L476.1 775.8L471 778.5ZM481.5 801.3L491.4 797.5L492.9 801.5L483 805.1ZM491.2 834.6L501.6 832.6L502 835.1L491.6 837ZM494.6 863.2L505.2 862.7L505.3 865.3L494.7 865.6ZM494.8 872.8L505.4 872.9L505.4 873.9L494.8 873.8ZM499 874.1L505.4 874.2L505.4 875.6L499 875.5ZM493.1 898.5L503.6 899.9L503.3 901.6L492.8 900.1ZM397.5 1042.1L402.8 1051.3L401.7 1051.9L396.4 1042.7ZM372 1054.7L376 1064.5L375.4 1064.7L371.5 1054.9ZM203.1 1044.7L198 1054L196.4 1053.1L201.6 1043.9ZM187.7 1035.3L181.8 1044.1L180.3 1043.1L186.3 1034.4Z" fill="#c85050"/>
<path d="M355.3 684L356.9 678.7L357.8 679L356.2 684.3ZM406.8 701.1L409.3 697.3L410.8 698.2L408.3 702.1ZM437.5 733.4L445 726L445.4 726.4L437.9 733.9ZM448.1 745.1L456.2 738.2L456.7 738.8L448.6 745.6ZM463.6 765.9L468.2 763L468.6 763.7L464 766.6ZM478.9 780.9L483.1 778.8L484.5 781.6L480.3 783.6ZM478.5 793.8L488.2 789.6L489.4 792.4L479.6 796.5ZM494.3 857.8L504.8 857L505 859.5L494.4 860.2ZM473.9 960.6L483.3 965.4L482.9 966.3L473.4 961.5ZM451.8 995L460.1 1001.6L459.2 1002.8L451 996.1ZM436.3 1012.3L439.7 1015.7L438.5 1016.9L435.1 1013.5ZM403.2 1038.6L408.9 1047.6L407.4 1048.5L401.8 1039.5ZM386.1 1048.3L388.1 1052.3L382.9 1054.8L381 1050.7ZM376 1053L380.2 1062.7L379.2 1063.1L375.1 1053.4ZM328.3 1073.1L329 1077.4L328 1077.5L327.3 1073.2ZM264.7 1066.3L262.9 1076.7L261.9 1076.5L263.7 1066.1ZM211.4 1049L206.7 1058.5L206.2 1058.3L210.8 1048.7Z" fill="#ecd66a"/>
<path d="M359.9 685.5L363.2 675.4L366.2 676.4L362.7 686.4ZM369.5 689L373.4 679.1L374.7 679.6L370.8 689.5ZM405.7 707.6L411.4 698.7L412.3 699.2L406.5 708.1ZM444.3 740.7L452.2 733.6L452.8 734.2L444.9 741.3ZM493.2 847.6L498.1 847L498.2 848L493.4 848.6ZM489.1 919.3L499.4 921.9L499.1 922.8L488.9 920.3ZM482.7 940.2L492.7 943.8L492.3 944.8L482.4 941.1ZM439.1 1009.5L446.7 1016.9L446 1017.6L438.4 1010.2ZM429 1019.1L436.1 1027L435 1028L428 1020ZM418.8 1027.7L425.3 1036L424.5 1036.7L418 1028.3ZM378.5 1051.9L382.9 1061.5L381.3 1062.2L377 1052.5ZM284.9 1068.7L284.2 1079.2L282.4 1079.1L283.2 1068.5Z" fill="#707070"/>
<path d="M370.9 689.5L374.8 679.6L377.2 680.6L373.1 690.4ZM405 707.1L410.8 698.2L411.4 698.7L405.7 707.6ZM426 716L429.4 711.8L431 713.1L427.5 717.3ZM494 889.8L504.6 890.7L504.3 893.3L493.8 892.2ZM490.9 911.1L501.3 913.2L501.2 913.8L490.8 911.7ZM480.2 961.3L484.3 963.4L483.6 964.9L479.5 962.9ZM472.2 963.8L481.6 968.8L481.2 969.5L471.9 964.5ZM471.6 964.9L481 969.9L477.6 976L468.4 970.7ZM457 988.2L465.6 994.5L465.1 995.1L456.6 988.8ZM447.4 1000.4L455.4 1007.3L454.7 1008.1L446.7 1001.2ZM431.9 1016.5L435.5 1020.3L433.7 1022L430.1 1018.1ZM417.6 1028.6L424.1 1037L422.5 1038.2L416.1 1029.7ZM172.6 1024L165.8 1032.1L164.9 1031.4L171.7 1023.2Z" fill="#d8c098"/>
<path d="M375.8 684.7L377.5 680.7L378.4 681.1L376.7 685.1ZM397.9 702.7L403.3 693.6L403.8 693.9L398.4 703ZM415 714.1L421.3 705.5L423.4 707.1L417 715.5ZM455.8 754.7L464.3 748.4L465.8 750.5L457.3 756.7ZM498.8 889.3L504.7 889.8L504.6 890.4L498.7 889.9ZM489.3 918.5L499.6 921L499.5 921.6L489.2 919ZM464.7 986.6L469 989.6L467.6 991.7L463.3 988.7ZM447.9 999.8L456 1006.6L455.5 1007.3L447.4 1000.4ZM416 1029.8L422.4 1038.3L420.7 1039.5L414.5 1030.9ZM373.6 1054L377.7 1063.8L376.8 1064.2L372.7 1054.4ZM340.5 1064.5L341.9 1070.5L338.9 1071.1L337.7 1065.1ZM293.8 1069.1L293.6 1079.7L286.6 1079.4L287.2 1068.8ZM253 1063.9L250.6 1074.2L244.6 1072.7L247.3 1062.5Z" fill="#d8b8a8"/>
<path d="M379.7 693.3L384.1 683.6L386 684.5L381.5 694.1ZM435.2 731.3L442.6 723.7L444.1 725.1L436.6 732.6ZM465.7 769.3L474.7 763.8L475.2 764.5L466.1 770ZM466.3 770.2L471.6 767L472.6 768.7L467.3 771.9ZM483 805.2L493 801.6L493.2 802.1L483.2 805.7ZM494.7 866.8L505.3 866.5L505.3 867.7L494.8 868ZM456.6 988.8L465.1 995.1L464.1 996.5L455.6 990.2ZM441.9 1006.6L446.2 1010.6L445.2 1011.7L440.9 1007.6ZM404.6 1037.7L410.3 1046.6L409.3 1047.3L403.6 1038.4ZM325.3 1067.2L326.8 1077.7L324.7 1078L323.4 1067.5ZM317.4 1068.1L318.4 1078.7L315.3 1079L314.5 1068.4ZM297.7 1069.1L297.7 1079.7L297.1 1079.7L297.1 1069.1ZM268.5 1066.9L266.9 1077.4L265.5 1077.1L267.2 1066.7Z" fill="#9a9a9a"/>
<path d="M381.6 694.1L386.1 684.5L387 685L382.5 694.6ZM475 786.3L484.5 781.7L485.9 784.4L476.3 788.9ZM485.7 813.1L495.8 809.9L496.1 810.9L486 814ZM494.7 878.4L505.3 878.7L505.3 879.7L494.7 879.4ZM461.7 981.6L470.5 987.5L469.7 988.7L460.9 982.7ZM455.1 990.8L463.6 997.2L462.8 998.2L454.4 991.7ZM438.4 1010.2L446 1017.6L444.8 1018.9L437.3 1011.4ZM412.5 1032.4L418.6 1041L417.2 1042L411.1 1033.3ZM372.3 1059.4L374.6 1065L373.6 1065.4L371.4 1059.7ZM350 1062.1L352.8 1072.3L351.8 1072.6L349 1062.4ZM321.6 1073L322.2 1078.3L319.6 1078.6L319.1 1073.3ZM306.8 1068.9L307.3 1079.5L304.2 1079.6L303.9 1069Z" fill="#c0c0d8"/>
<path d="M385.3 690.6L387.8 685.3L389.3 686.1L386.8 691.3ZM408.5 709.4L414.4 700.7L415.3 701.2L409.3 710ZM457.7 757.3L466.3 751.1L467.8 753.2L459.1 759.3ZM491.6 907.8L502 909.7L501.8 910.7L491.4 908.8ZM481.3 944L491.1 947.9L490.9 948.4L481.1 944.5ZM449.3 1005L453.9 1009L451.9 1011.3L447.3 1007.2ZM439.8 1008.7L447.5 1016.1L447.1 1016.5L439.4 1009.1ZM420.1 1026.6L426.7 1035L425.7 1035.7L419.2 1027.4ZM374.8 1053.5L378.9 1063.3L378 1063.7L373.9 1053.9ZM238.9 1060L235.7 1070.1L233.8 1069.5L237.1 1059.4ZM235.4 1058.9L232 1068.9L230.9 1068.5L234.3 1058.5ZM213.1 1049.9L210.6 1055.1L209.1 1054.3L211.6 1049.1Z" fill="#a87850"/>
<path d="M402.5 705.6L408.2 696.6L409 697.1L403.4 706.1ZM480.9 799.8L490.8 795.8L491.4 797.5L481.5 801.3ZM489.9 916L500.2 918.4L499.9 919.8L489.6 917.3ZM491.9 929.9L496.8 931.4L496.6 932.1L491.7 930.7ZM336.9 1065.2L339 1075.6L337 1076L335 1065.6ZM311.7 1068.6L312.5 1079.2L311.2 1079.3L310.6 1068.7ZM274.5 1067.7L273.2 1078.2L272.4 1078.1L273.7 1067.6ZM198.2 1041.9L192.8 1051L192.3 1050.7L197.7 1041.6ZM175.5 1033.7L172.6 1037.5L171.9 1037L174.8 1033.2Z" fill="#3a4a9a"/>
<path d="M411.5 711.5L417.6 702.9L419.7 704.4L413.5 713ZM425.7 722.6L432.6 714.5L433.4 715.2L426.5 723.2ZM445.9 742.5L449.6 739.2L450.3 739.9L446.5 743.2ZM464.4 767.2L473.4 761.6L474.7 763.8L465.7 769.3ZM492.6 843.2L498.4 842.3L498.5 843.3L492.8 844.1ZM483.4 938.2L493.4 941.8L492.7 943.7L482.8 940.1ZM476.2 955.8L485.8 960.3L484.7 962.6L475.2 958ZM409.4 1034.5L412.4 1038.7L411.2 1039.5L408.3 1035.3ZM395.8 1043.1L401 1052.3L400.3 1052.7L395.1 1043.5ZM363.1 1058L366.6 1068L365.6 1068.4L362.2 1058.3ZM297 1069.1L297 1079.7L294.4 1079.7L294.6 1069.1ZM270 1073.3L269.4 1077.7L268.3 1077.6L269 1073.1ZM258.6 1065.1L257.8 1069.3L255.4 1068.8L256.3 1064.6Z" fill="#8f7ad0"/>
<path d="M431 727.2L438.2 719.4L440 721.2L432.8 728.9ZM446.7 743.4L454.7 736.5L455.4 737.3L447.4 744.2ZM351.1 1061.8L352.6 1067.1L351.4 1067.4L350 1062.1ZM302.7 1069L302.9 1079.6L301.9 1079.7L301.7 1069.1ZM204.9 1045.7L202.8 1049.5L201.9 1049L204 1045.2Z" fill="#d0b8d8"/>
<path d="M442.5 738.7L446.1 735.4L447.4 736.9L443.8 740.1ZM452.8 750.8L461.1 744.2L462 745.4L453.6 751.9ZM494.5 883.7L505 884.4L505 885.8L494.4 885.1ZM476.8 954.6L486.4 959L486.2 959.6L476.5 955.1ZM473.4 961.5L482.9 966.3L482.2 967.6L472.8 962.7ZM371.2 1055L375.1 1064.8L374.6 1065L370.7 1055.2ZM367.9 1056.3L371.7 1066.2L370.5 1066.6L366.8 1056.7ZM336.1 1071.2L337 1076L335.6 1076.3L334.7 1071.5ZM272.3 1072.3L271.6 1078L270.6 1077.9L271.3 1072.2ZM244.6 1061.7L241.7 1071.9L241.1 1071.8L244.1 1061.6ZM162.5 1015.1L155.3 1022.8L153 1020.6L160.4 1013Z" fill="#e8a488"/>
<path d="M444.9 741.4L452.8 734.3L453.7 735.2L445.7 742.3ZM449.1 746.2L457.3 739.5L457.7 739.9L449.5 746.7ZM460.8 761.7L466 758.2L467.3 760.3L462.1 763.7ZM479.2 949L489 953.2L488.2 955.1L478.5 950.8ZM286.8 1074.9L286.5 1079.4L285.1 1079.3L285.4 1074.8ZM279.7 1068.2L278.7 1078.8L277.3 1078.7L278.4 1068.1ZM174.1 1025.2L170.3 1029.9L168.8 1028.6L172.6 1024Z" fill="#e8b060"/>
<path d="M483.3 806L493.3 802.4L493.8 803.8L483.8 807.3ZM490.6 912.9L500.9 915L500.4 917.6L490.1 915.2ZM488.3 922.3L498.6 925L497.9 927.5L487.7 924.7ZM369.7 1055.6L373.5 1065.5L372.2 1066L368.4 1056.1ZM282.9 1068.5L282.1 1079.1L279 1078.8L280 1068.3ZM233.6 1058.3L230.1 1068.3L229.1 1067.9L232.6 1057.9Z" fill="#c09070"/>
<path d="M486.8 816.9L497 813.9L497.9 816.9L487.7 819.7ZM490.8 832.9L501.2 830.8L501.5 832.5L491.1 834.5ZM494 854.9L504.6 854L504.7 855.8L494.2 856.6ZM494.8 875.6L505.4 875.7L505.3 877.5L494.7 877.2ZM494.5 882.5L505.1 883L505.1 884.3L494.5 883.6ZM310.3 1068.7L310.9 1079.3L309.5 1079.4L308.9 1068.8ZM220.8 1053.3L216.7 1063.1L214.8 1062.3L219.1 1052.6ZM171.1 1022.7L164.3 1030.8L160.4 1027.5L167.4 1019.5Z" fill="#7080b8"/>
<path d="M494.3 821.2L498.7 820.1L499.2 822.1L494.8 823.2ZM493.8 892.3L504.3 893.4L504 896.4L493.5 895.2ZM491.4 908.9L501.8 910.8L501.6 912L491.2 910ZM466 974.8L475.1 980.3L474.4 981.3L465.4 975.8ZM422.6 1024.6L429.3 1032.8L428.5 1033.5L421.9 1025.2ZM414.2 1031.1L420.5 1039.7L419.6 1040.3L413.4 1031.7ZM263.4 1066L261.6 1076.5L261 1076.4L262.8 1065.9ZM158.8 1019.9L155.7 1023.2L155.3 1022.8L158.4 1019.5Z" fill="#5b82d8"/>
<path d="M314.3 687L315.3 676.3L316.1 676.3L315.1 687.1ZM393.4 712.7L396.4 707.7L398.5 709L395.5 713.9ZM405 720.2L411.2 711.3L412.1 711.9L405.8 720.7ZM429 740.3L436.6 732.6L437.9 733.9L430.2 741.5ZM441.2 753.6L449.5 746.7L450.8 748.3L442.4 755.1ZM461.9 784.4L471.4 779.3L471.9 780.2L462.4 785.2ZM476.7 923.9L487.1 926.9L486.3 929.4L476 926.2ZM460.3 963.1L469.7 968.4L469.4 968.9L460 963.6ZM428.2 1013.3L431.5 1016.9L431.1 1017.3L427.8 1013.7ZM407.8 1022.5L414.1 1031.2L412.5 1032.4L406.2 1023.6ZM343.2 1052.7L345.9 1063.2L344.9 1063.4L342.3 1052.9ZM308.2 1058L308.8 1068.8L305.7 1068.9L305.3 1058.2ZM225.5 1043.6L223.7 1047.8L222.1 1047.1L224 1042.9Z" fill="#f0d8b0"/>
<path d="M315.2 687.1L316.2 676.3L317.2 676.4L316.2 687.2ZM400.2 716.9L406.1 707.9L407.3 708.7L401.3 717.6ZM443.7 756.7L452.2 750L452.8 750.8L444.3 757.5ZM474.6 814L484.9 810.6L485.5 812.6L475.2 815.8ZM483.6 860.7L494.4 860L494.5 861.8L483.7 862.4ZM483.8 880.7L494.6 881.1L494.5 883.2L483.7 882.6ZM469.1 945.2L479.1 949.4L478.7 950.3L468.8 946ZM465.9 952.2L475.7 956.9L475.4 957.4L465.7 952.8ZM391.5 1033.1L396.9 1042.4L396.2 1042.8L390.8 1033.5ZM372.9 1042.6L377.2 1052.4L376.1 1052.9L371.8 1043ZM364.5 1046L368.4 1056.1L367.3 1056.5L363.5 1046.4ZM332.6 1055.1L334.6 1065.7L334 1065.8L332 1055.2ZM172.9 1010L165.7 1018L163.4 1015.9L170.8 1008Z" fill="#6ab0b8"/>
<path d="M316.2 687.2L317.2 676.4L320.3 676.8L319.1 687.5ZM475.4 798.5L479.7 796.7L482 802.5L477.6 804.1ZM483.6 884.2L494.4 884.9L494.3 886L483.6 885.2ZM426.9 1006.4L430.1 1009.7L429.5 1010.3L426.3 1007ZM377.6 1040.4L379.6 1044.7L378.9 1045.1L376.9 1040.7ZM310.9 1057.8L311.7 1068.6L309.9 1068.7L309.3 1058Z" fill="#d8a8c0"/>
<path d="M319.8 687.6L321.1 676.9L323.1 677.1L321.8 687.8ZM483.9 866.5L494.7 866.2L494.8 868.3L484 868.5ZM480.8 906.5L491.4 908.5L491.3 909.3L480.7 907.3ZM465.6 952.9L475.4 957.5L475 958.3L465.3 953.6ZM454.2 973.3L463.3 979.1L462.7 980L453.7 974.1ZM445.4 985.7L454 992.3L453.2 993.3L444.7 986.7ZM393 1032.2L398.5 1041.5L398 1041.8L392.5 1032.5ZM386.7 1035.8L391.8 1045.3L390.3 1046.1L385.2 1036.6ZM269.6 1061L268.7 1066.9L267.7 1066.8L268.6 1060.9ZM208 1035.1L202.8 1044.5L200.5 1043.3L205.9 1033.9ZM196.3 1028L193.8 1031.8L192.6 1031L195.1 1027.3Z" fill="#c85050"/>
<path d="M322 687.9L323.4 677.2L325.2 677.4L323.7 688.1ZM384.7 707.8L387.7 702.2L388.6 702.7L385.6 708.2ZM465.6 778L469.5 775.8L470.1 776.8L466.2 779ZM471.9 806.3L482 802.5L482.4 803.4L472.2 807.2ZM484 869L494.8 868.8L494.8 869.4L484 869.6ZM483.3 888L494.1 888.9L494 889.8L483.3 888.8ZM459.8 964.1L469.2 969.4L468.2 971.2L458.8 965.7ZM425.5 1007.8L432.9 1015.6L432.3 1016.2L424.9 1008.3ZM390.8 1033.5L396.1 1042.9L393.5 1044.4L388.2 1035ZM348.3 1051.4L351.2 1061.8L348.8 1062.4L346 1052ZM281.7 1057.6L280.8 1068.3L278.2 1068.1L279.3 1057.4ZM262.1 1054.8L260 1065.4L258.6 1065.1L260.8 1054.5Z" fill="#d8b8a8"/>
<path d="M324.5 688.2L326 677.5L327.2 677.7L325.6 688.4ZM379.5 705.1L384.2 695.4L387 696.7L382.1 706.4ZM458.4 778.2L467.8 772.7L468.3 773.6L458.9 779ZM468.9 787L474.1 784.4L475 786.2L469.8 788.8ZM478.2 806.6L482.9 804.9L483.1 805.5L478.4 807.1ZM458.7 966L468 971.4L466.4 974.1L457.2 968.5ZM447.2 983.4L455.8 989.9L454.3 991.9L445.7 985.4ZM428.8 1004.5L433.1 1008.9L431.7 1010.3L427.4 1005.9ZM419 1013.6L422.2 1017.4L421.7 1017.8L418.5 1014ZM411 1020.1L414 1024.1L413 1024.8L410 1020.8ZM388 1035.1L393.2 1044.5L392.3 1045L387.1 1035.6ZM320.4 1056.9L321.7 1067.7L320.7 1067.8L319.5 1057.1ZM222.3 1042.2L218 1052.1L217.4 1051.8L221.8 1042ZM199 1029.7L193.2 1038.9L191 1037.5L196.9 1028.4Z" fill="#ecd66a"/>
<path d="M327.5 688.7L329.2 678L330.5 678.2L328.7 688.8ZM377.5 704.2L382.1 694.4L383.7 695.2L379 704.9ZM474.3 797L479 795L479.2 795.6L474.5 797.6ZM482.3 847.1L488.6 846.2L488.9 848.7L482.6 849.5ZM481.6 901.9L492.3 903.6L492.2 904.4L481.5 902.7ZM480.4 931.3L485.2 932.9L485 933.7L480.1 932.1ZM416.5 1015.7L419.8 1019.7L417.9 1021.2L414.6 1017.2ZM334.9 1054.6L337 1065.2L335.8 1065.4L333.8 1054.8ZM319 1057.1L320.2 1067.8L319.2 1068L318 1057.2Z" fill="#e8b060"/>
<path d="M333.6 689.7L335.6 679.1L336.6 679.3L334.5 689.9ZM476.9 821.5L487.3 818.6L487.7 820L477.3 822.8ZM464.1 956L473.7 960.9L473.4 961.6L463.8 956.7ZM454.6 972.6L459.1 975.5L458.7 976.2L454.2 973.3ZM442.6 989.2L451 996L449.1 998.4L440.8 991.5ZM359.6 1047.8L363.2 1058L362.6 1058.2L359.1 1048ZM312.6 1057.7L313 1062.4L311.6 1062.5L311.2 1057.8ZM309.3 1058L309.9 1068.7L309.3 1068.8L308.7 1058ZM252.1 1057.9L250.8 1063.4L250 1063.2L251.4 1057.7Z" fill="#5b82d8"/>
<path d="M335 690L337.1 679.4L338.3 679.7L336.1 690.2ZM402.3 718.3L408.4 709.4L409.2 709.9L403.1 718.8ZM427.6 738.9L435.1 731.1L436.6 732.6L429 740.2ZM431 742.3L438.7 734.7L440.5 736.6L432.7 744ZM440.5 752.8L448.8 745.9L449.5 746.7L441.2 753.6ZM442.7 755.4L446.6 752.3L447.7 753.6L443.7 756.7ZM457.3 776.4L466.6 770.8L467.3 772L458 777.5ZM468.2 797.3L478.1 792.9L478.7 794.2L468.7 798.5ZM484 869.7L494.8 869.5L494.8 874.9L484 874.8ZM481.4 903.4L486.6 904.3L486.5 904.9L481.3 904Z" fill="#e8e0c0"/>
<path d="M340.3 691.2L342.8 680.7L343.8 680.9L341.2 691.4ZM384 707.4L389 697.8L389.7 698.2L384.7 707.7ZM410.9 724.5L417.5 715.9L419.9 717.8L413.2 726.3ZM478.7 828.1L489.2 825.5L489.8 828L479.2 830.5ZM481.3 904.1L491.9 906L491.8 906.8L481.1 904.9ZM350.6 1050.7L353.6 1061.1L352.8 1061.3L349.8 1050.9ZM244.8 1050.5L241.7 1060.9L238.7 1060L242 1049.7ZM188.8 1022.9L182.5 1031.6L181.5 1030.9L187.9 1022.2Z" fill="#a87850"/>
<path d="M343.4 687.3L345 681.2L347.9 681.9L346.3 688.1ZM403.3 719L406.5 714.5L408.1 715.6L404.9 720.1ZM405.8 720.7L409.4 715.7L410.1 716.1L406.4 721.2ZM453.3 769.9L462.3 763.9L462.7 764.6L453.7 770.5ZM464.2 776.6L468.5 774.1L469.2 775.3L464.8 777.8ZM466.8 950.3L476.7 954.8L476.2 955.8L466.4 951.2ZM453.5 974.3L462.5 980.3L461.6 981.7L452.6 975.7ZM345.7 1052.1L348.5 1062.5L346 1063.2L343.3 1052.7ZM295.7 1058.3L295.6 1069.1L293.8 1069.1L294.1 1058.3ZM264.8 1059.8L263.7 1066.1L262.3 1065.8L263.4 1059.6ZM259.4 1054.2L257.1 1064.8L254.1 1064.1L256.5 1053.6ZM184.2 1019.4L177.5 1027.9L175.9 1026.7L182.6 1018.2Z" fill="#a8c4e8"/>
<path d="M346.3 692.7L349.1 682.3L350.1 682.5L347.3 692.9ZM419.6 731.5L426.6 723.3L428.9 725.4L421.7 733.4ZM455.7 773.6L464.8 767.9L466.2 770.1L456.9 775.7ZM473.4 810.4L483.6 806.8L483.8 807.4L473.6 811ZM483.7 882.7L494.5 883.3L494.4 884.1L483.7 883.5ZM479.2 914.5L489.7 916.9L489.1 919.4L478.6 916.9ZM474.1 932.1L484.3 935.6L483.8 937.3L473.6 933.7ZM430.2 1003.1L437.9 1010.7L436.4 1012.2L428.8 1004.5ZM397.9 1029.2L403.7 1038.3L402.2 1039.2L396.5 1030.1ZM354.9 1049.4L358.2 1059.7L357.6 1059.8L354.4 1049.6ZM213.9 1038.2L211.1 1043.8L210.2 1043.3L213.1 1037.8ZM209.9 1036.1L204.8 1045.6L203.9 1045.1L209 1035.6Z" fill="#b0b0b0"/>
<path d="M348.7 688.2L350.2 682.6L350.8 682.7L349.2 688.4ZM351.9 694.3L353.7 688.6L354.2 688.8L352.5 694.5ZM447.3 761.4L456 754.9L457 756.3L448.3 762.7ZM480.7 837.5L491.3 835.5L491.6 837.2L481 839.1ZM481.5 842L492.2 840.2L492.4 841.7L481.7 843.3ZM482.6 849.5L488.6 848.8L488.9 851.7L482.9 852.4ZM480.3 909.2L485.5 910.2L485.1 912.2L479.9 911.1ZM385.1 1036.6L390.2 1046.2L387.5 1047.6L382.6 1038ZM358 1048.4L361.4 1058.6L360.1 1059.1L356.7 1048.8Z" fill="#8888a8"/>
<path d="M349 693.4L350.4 688.9L352 689.3L350.6 693.9ZM470.3 942.3L480.3 946.3L479.9 947.5L469.9 943.4ZM454.9 972.1L464.1 977.9L463.7 978.4L454.6 972.6ZM424 1017.4L427 1020.9L426.1 1021.7L423.1 1018.2ZM287.8 1058L287.2 1068.8L285.8 1068.7L286.5 1057.9ZM254.9 1053.2L252.4 1063.7L251.6 1063.6L254.1 1053.1ZM215.7 1039.1L210.9 1048.8L209.3 1048L214.2 1038.3ZM187.5 1021.9L181.1 1030.6L179 1029.1L185.5 1020.5Z" fill="#9a9a9a"/>
<path d="M350.7 693.9L353.8 683.6L354.6 683.8L351.5 694.2ZM448.8 754.1L452.9 750.9L453.5 751.7L449.4 754.9ZM462.7 785.9L472.3 780.9L473.7 783.7L464.1 788.5ZM450.7 978.4L455 981.4L453.2 983.8L449.1 980.8ZM369.1 1049.9L371.2 1055L369.6 1055.6L367.6 1050.5ZM317.9 1057.2L319.1 1068L316.5 1068.2L315.5 1057.5ZM286.4 1057.9L285.7 1068.7L284.9 1068.7L285.6 1057.9ZM251.5 1052.4L248.8 1062.9L248.2 1062.7L250.9 1052.2ZM217.5 1040L212.8 1049.7L212.1 1049.4L216.8 1039.6ZM192 1025.1L185.8 1034L185.3 1033.7L191.5 1024.8Z" fill="#88a8d0"/>
<path d="M353.1 694.7L356.3 684.3L361.9 686.2L358.4 696.4ZM454.1 771.2L458.7 768.2L459.4 769.4L454.8 772.3ZM477.6 824L488 821.1L488.4 822.5L478 825.3ZM480.5 836.5L491.1 834.5L491.3 835.5L480.7 837.5ZM481.7 843.4L492.4 841.8L492.9 844.8L482.2 846.3ZM484 875.3L494.8 875.4L494.7 879.1L483.9 878.7ZM405.8 1023.9L412 1032.7L409.9 1034.2L403.8 1025.3Z" fill="#a8dca8"/>
<path d="M362.1 691.7L363.8 686.8L364.8 687.2L363 692.1ZM436.9 748.5L444.9 741.4L446.3 742.9L438.1 750ZM473.6 811L483.8 807.4L484.6 809.8L474.4 813.3ZM478.2 826.4L488.7 823.7L489.1 825.4L478.6 828ZM481.2 840.3L491.9 838.4L492 839.4L481.4 841.2ZM483.4 856.9L494.1 856L494.2 857.1L483.4 857.9ZM473.3 934.4L483.5 938.1L482.9 939.7L472.8 936ZM424.8 1008.4L432.2 1016.3L431.6 1016.8L424.3 1008.9ZM376.8 1040.8L381.4 1050.6L380.2 1051.1L375.7 1041.3ZM349.7 1051L352.7 1061.3L351.5 1061.7L348.6 1051.3ZM302 1064L302.1 1069.1L295.9 1069.1L295.9 1064ZM247.7 1051.4L244.8 1061.8L242.9 1061.2L245.9 1050.8ZM194.7 1027L188.7 1036L187.7 1035.3L193.8 1026.3ZM193.5 1026.2L187.4 1035.1L186.3 1034.3L192.4 1025.4ZM182.6 1018.2L175.9 1026.7L175.1 1026L181.9 1017.6ZM172 1016.3L168.4 1020.4L166.9 1019.1L170.5 1015Z" fill="#3d6e5a"/>
<path d="M361.2 697.4L364.9 687.2L367.8 688.3L364 698.4ZM435.9 747.5L439.3 744.4L440 745.1L436.5 748.2ZM483.7 862.4L494.5 861.8L494.6 862.6L483.8 863.1ZM479.7 911.8L490.3 914.1L489.7 916.6L479.2 914.2ZM451.2 977.7L460.1 983.8L459.8 984.4L450.9 978.2ZM393.6 1031.8L399.2 1041.1L398.6 1041.4L393.1 1032.1ZM374.7 1041.8L379.1 1051.6L378.4 1051.9L374 1042.1ZM337.4 1054.1L339.7 1064.6L337.1 1065.2L335 1054.6ZM272 1056.5L270.5 1067.2L269.2 1067L270.8 1056.3Z" fill="#e0c8e0"/>
<path d="M364.7 698.7L368.6 688.6L369.1 688.8L365.2 698.9ZM415 727.7L421.7 719.3L426.2 723L419.2 731.2ZM472.3 807.3L482.4 803.5L482.9 804.9L472.7 808.6ZM480.1 834.6L490.7 832.5L491 833.7L480.4 835.8ZM477.8 920L488.2 922.7L487.4 925.7L477 922.8ZM412.9 1018.6L419.5 1027.1L417.5 1028.7L411 1020.1ZM398.7 1034.5L401.8 1039.5L399.2 1041.1L396.1 1036ZM178.6 1014.9L171.6 1023.2L171.1 1022.8L178.1 1014.5Z" fill="#4f9a6a"/>
<path d="M365.2 698.9L369.1 688.8L370.5 689.3L366.5 699.4ZM375.7 703.3L380.2 693.5L380.9 693.8L376.4 703.6ZM385.7 708.3L390.8 698.7L391.5 699.1L386.4 708.6ZM393.8 706.5L396.4 701.9L397.9 702.8L395.2 707.3ZM409.1 1021.5L415.5 1030.1L414.5 1030.9L408.2 1022.2ZM340.9 1053.3L343.4 1063.8L342.4 1064L339.9 1053.5ZM290 1058.1L289.5 1068.9L287.8 1068.8L288.3 1058ZM221.8 1042L217.4 1051.8L216.3 1051.3L220.8 1041.5ZM211.1 1036.7L208.7 1041.2L208.2 1040.9L210.6 1036.5Z" fill="#e8a488"/>
<path d="M367.2 699.7L371.2 689.6L372.6 690.2L368.5 700.2ZM399.4 716.4L405.3 707.3L406.1 707.9L400.2 716.9ZM482.1 898.5L492.8 900.1L492.7 900.7L482.1 899.1ZM437.9 994.9L446 1002L445.2 1002.9L437.1 995.8ZM382.1 1038.2L387 1047.8L385.2 1048.7L380.4 1039.1ZM355.9 1049L359.3 1059.3L358.3 1059.6L355 1049.3ZM339.5 1053.6L341.9 1064.1L340.5 1064.5L338.1 1053.9ZM305.3 1058.2L305.7 1068.9L302.7 1069L302.4 1058.2ZM292.9 1058.2L292.6 1069L291.8 1069L292.1 1058.2ZM173.7 1010.7L166.5 1018.7L166 1018.3L173.3 1010.3Z" fill="#3a4a9a"/>
<path d="M376.4 703.6L380.9 693.8L382.1 694.4L377.4 704.1ZM473 809.4L483.2 805.7L483.5 806.5L473.3 810.1ZM483.8 864.6L494.6 864.2L494.7 865.4L483.9 865.8ZM482.8 893.5L493.5 894.8L493.4 895.6L482.7 894.3ZM260.8 1054.5L258.6 1065.1L257.6 1064.9L259.8 1054.3ZM256.4 1053.6L254 1064.1L253.2 1063.9L255.7 1053.4ZM205.2 1033.5L202.6 1038L201.4 1037.3L204 1032.8ZM190.8 1024.3L184.6 1033.1L182.5 1031.6L188.8 1022.9Z" fill="#b8c8d8"/>
<path d="M383.1 706.9L388 697.3L389 697.8L384 707.4ZM438.9 750.9L447.1 743.8L447.8 744.6L439.5 751.6ZM483.5 859.1L488.3 858.7L488.3 859.3L483.6 859.7ZM465 954.3L474.7 959L473.7 960.9L464.1 956ZM461.9 960.3L471.4 965.4L469.9 968.1L460.5 962.9ZM443.8 987.7L452.3 994.4L451.5 995.4L443.1 988.6ZM436.3 996.6L444.4 1003.9L443.4 1004.9L435.4 997.6ZM379.7 1039.4L384.4 1049.1L383.9 1049.4L379.2 1039.7ZM240.5 1049.2L237.2 1059.5L233.2 1058.1L236.8 1047.9Z" fill="#8f7ad0"/>
<path d="M386.6 708.8L391.8 699.3L396 701.6L390.6 711ZM462.3 959.5L471.8 964.6L471.4 965.3L461.9 960.2ZM452.2 976.4L461.1 982.4L460.1 983.8L451.2 977.7ZM413.7 1017.9L417.2 1022.3L416.6 1022.8L413.1 1018.4ZM403.7 1025.3L409.9 1034.2L405.4 1037.2L399.5 1028.1ZM279.2 1057.3L278.1 1068.1L275.6 1067.8L276.8 1057.1ZM276.8 1057.1L275.6 1067.8L273.5 1067.6L274.9 1056.9ZM220 1041.2L215.5 1051L214.6 1050.5L219.2 1040.8ZM177.7 1014.2L170.8 1022.4L168.4 1020.4L175.5 1012.3Z" fill="#2a2a80"/>
<path d="M395.9 714.2L398.3 710.4L400.8 712L398.4 715.7ZM439.3 742.3L442.8 739.1L443.5 739.8L440 743ZM461.3 783.2L470.7 778L471 778.6L461.5 783.7ZM285.6 1057.9L284.9 1068.7L284.3 1068.6L285 1057.8ZM263.1 1055L261 1065.6L260 1065.4L262.1 1054.8ZM213 1037.7L210.1 1043.4L208.8 1042.7L211.8 1037.1Z" fill="#707070"/>
<path d="M413.3 726.3L420 717.9L421.1 718.8L414.3 727.2ZM479.3 830.6L489.8 828.1L490 828.9L479.4 831.3ZM483.1 853.6L493.8 852.5L494.1 855.5L483.3 856.5ZM362.4 1046.8L366.1 1056.9L363.7 1057.8L360.1 1047.6ZM218.9 1040.6L214.3 1050.4L213.6 1050.1L218.2 1040.3Z" fill="#c09070"/>
<path d="M422.6 734.2L429.8 726.2L430.9 727.2L423.6 735.1ZM481.1 904.9L491.8 906.8L491.4 908.5L480.8 906.5ZM478.5 917.1L489 919.7L488.4 922.2L477.9 919.5ZM472.7 936.3L482.8 940L480.9 944.9L470.9 940.9ZM444.5 986.9L453 993.5L452.6 994L444.2 987.3ZM435.4 997.7L443.3 1005L442.6 1005.8L434.7 998.4ZM368.4 1044.5L372.5 1054.4L371.2 1055L367.2 1045ZM333.7 1054.8L334.8 1060.5L334.2 1060.6L333.1 1055Z" fill="#c0c0d8"/>
<path d="M424.2 735.7L431.5 727.7L433.4 729.5L426 737.3ZM483.5 885.5L494.3 886.3L494.2 887.7L483.4 886.9ZM463.4 957.4L468.3 959.9L467.4 961.7L462.5 959.1ZM421.8 1011.1L429 1019.2L427.9 1020.1L420.8 1012ZM417.6 1021L421.3 1025.7L420.8 1026.1L417.1 1021.4ZM369.3 1044.1L373.5 1054.1L372.5 1054.4L368.4 1044.5ZM322.8 1056.6L323.6 1062.6L321.6 1062.8L320.9 1056.9ZM292 1058.2L291.7 1069L289.6 1068.9L290.1 1058.1ZM267 1055.7L265.2 1066.3L263.8 1066.1L265.6 1055.5ZM203.6 1032.6L198.1 1041.9L196.9 1041.1L202.4 1031.9ZM191.5 1024.8L185.3 1033.7L184.8 1033.3L191 1024.5ZM181.8 1017.5L175 1026L173 1024.3L179.9 1016Z" fill="#6060c8"/>
<path d="M426 737.3L433.4 729.5L434.9 730.9L427.4 738.7ZM445.5 758.9L454 752.4L455.3 754L446.6 760.5ZM452.8 769.2L461.8 763.2L462.3 763.9L453.3 769.9ZM479.5 831.8L490.1 829.4L490.7 832.5L480.1 834.6ZM483.9 879.2L489 879.4L489 880.6L483.8 880.4ZM480.7 907.3L491.3 909.3L491.1 910.1L480.5 908ZM469.4 944.4L479.4 948.6L479.1 949.4L469.1 945.2ZM468.6 946.3L478.5 950.6L476.7 954.8L466.8 950.3ZM456.6 969.5L465.8 975.1L465.3 976L456.1 970.3ZM354.3 1049.6L357.5 1059.9L355.6 1060.5L352.4 1050.2ZM235.7 1047.5L232.1 1057.7L229.6 1056.8L233.4 1046.7ZM229.9 1051.5L228.1 1056.3L222 1053.8L224 1049.1Z" fill="#d8c098"/>
<path d="M448.7 763.3L457.5 757L457.8 757.5L449.1 763.8ZM475.6 817L485.9 813.7L486.6 816.2L476.3 819.3ZM483.6 859.7L494.3 858.9L494.4 859.9L483.6 860.6ZM379.2 1039.7L383.9 1049.4L382.9 1049.8L378.3 1040.1ZM283.9 1057.8L283 1068.5L282 1068.4L282.9 1057.7ZM268.6 1056L266.9 1066.6L265.2 1066.3L267 1055.7ZM241.9 1049.6L238.6 1059.9L237.6 1059.6L241 1049.3ZM179.7 1015.8L172.8 1024.1L172 1023.5L178.9 1015.2Z" fill="#d0b8d8"/>
<path d="M449.7 764.7L458.6 758.5L458.9 759L450.1 765.2ZM455.8 762.2L459.4 759.7L461.1 762.2L457.5 764.7ZM455 772.6L464.1 766.8L464.7 767.6L455.5 773.4ZM483.8 863.2L494.6 862.7L494.6 863.3L483.8 863.8ZM483 891.4L493.8 892.5L493.6 894L482.9 892.8ZM452.3 984.1L457.3 987.8L456.1 989.5L451.1 985.7ZM326.9 1060.9L327.8 1066.8L324.8 1067.3L324 1061.3ZM315.5 1057.5L316.5 1068.2L313.9 1068.5L313.1 1057.7Z" fill="#2020d8"/>
<path d="M482.7 894.4L493.4 895.7L493.2 897.4L482.5 896ZM482.4 896.8L493.1 898.2L492.8 900L482.2 898.5ZM470.9 940.9L480.9 944.9L480.5 945.9L470.5 941.8ZM343.5 1057.9L344.9 1063.4L343.7 1063.7L342.4 1058.2ZM331.6 1055.2L333.5 1065.9L332.1 1066.1L330.2 1055.5ZM250.8 1052.2L248.1 1062.7L245.6 1062L248.5 1051.6Z" fill="#7080b8"/>
<path d="M101.24 1013.01A241.9 241.9 0 0 1 86.14 989.06" fill="none" stroke="#b4b2b2" stroke-width="8.2"/>
<path d="M103.7 1009.3l-6.7 4.7" stroke="#a2a2a2" stroke-width="1.1" fill="none"/>
<path d="M101.8 1006.7l-6.8 4.6" stroke="#9c9c9c" stroke-width="0.7" fill="none"/>
<path d="M100.2 1004.2l-6.8 4.5" stroke="#c07878" stroke-width="1.8" fill="none"/>
<path d="M99.2 1002.9l-6.9 4.5" stroke="#bf7070" stroke-width="0.8" fill="none"/>
<path d="M97.5 1000.1l-6.9 4.4" stroke="#c88888" stroke-width="1.1" fill="none"/>
<path d="M97 999.4l-6.9 4.4M92.6 992.2l-7.1 4.1" stroke="#c07878" stroke-width="0.6" fill="none"/>
<path d="M95.9 997.6l-7 4.3" stroke="#d4a4a4" stroke-width="1.8" fill="none"/>
<path d="M95 996.1l-7 4.3" stroke="#9c9c9c" stroke-width="1.5" fill="none"/>
<path d="M93.7 993.9l-7 4.2" stroke="#bcbcbc" stroke-width="1.1" fill="none"/>
<path d="M91.7 990.5l-7.1 4.1" stroke="#aeaeae" stroke-width="1.5" fill="none"/>
<path d="M90.2 987.9l-7.2 4" stroke="#bcbcbc" stroke-width="0.7" fill="none"/>
<path d="M104.6 1010.6L97.9 1015.4L96.2 1012.9L102.9 1008.3ZM91.2 989.6L84 993.7L82.6 991L89.7 987.1Z" fill="#2424dc"/>
<path d="M97.25 1015.86A246.8 246.8 0 0 1 81.85 991.42" fill="none" stroke="#8c8c8c" stroke-width="1.7"/>
<path d="M117.1 1001.67A222.4 222.4 0 0 1 103.22 979.65" fill="none" stroke="#b4b2b2" stroke-width="10.8"/>
<path d="M120.5 997.1l-8.8 6.2M116.7 991.5l-9 5.9" stroke="#c2c2c2" stroke-width="0.5" fill="none"/>
<path d="M119.6 995.8l-8.9 6.1" stroke="#a2a2a2" stroke-width="1.1" fill="none"/>
<path d="M118.3 993.9l-8.9 6.1" stroke="#c47a84" stroke-width="1.1" fill="none"/>
<path d="M117.4 992.6l-9 6M115.6 989.9l-9.1 5.9" stroke="#a2a2a2" stroke-width="0.7" fill="none"/>
<path d="M113.9 987.2l-9.2 5.7" stroke="#cf9898" stroke-width="0.8" fill="none"/>
<path d="M112.2 984.4l-9.2 5.6" stroke="#dcdcdc" stroke-width="0.7" fill="none"/>
<path d="M111.1 982.6l-9.3 5.5" stroke="#b86a6a" stroke-width="1.1" fill="none"/>
<path d="M109.8 980.4l-9.4 5.4" stroke="#a8a8a8" stroke-width="1.5" fill="none"/>
<path d="M108.7 978.5l-9.4 5.3" stroke="#bcbcbc" stroke-width="1.5" fill="none"/>
<path d="M121.5 998.5L112.7 1004.8L111.1 1002.5L120 996.4ZM109.2 979.4L99.9 984.7L98.5 982.3L108 977Z" fill="#2424dc"/>
<path d="M137 985.5L128.3 991.5L127.5 990.4L136.2 984.3Z" fill="#8f7ad0"/>
<path d="M135.5 983.4L130.8 986.6L129.7 984.9L134.5 981.8Z" fill="#2a2a80"/>
<path d="M134.4 981.7L125.6 987.6L124.5 985.9L133.3 980.1Z" fill="#c0c0d8"/>
<path d="M131.9 977.8L123 983.5L119.7 978.2L128.8 972.8Z" fill="#f0d8b0"/>
<path d="M128.4 972.2L119.3 977.5L118.8 976.6L127.9 971.3Z" fill="#5b82d8"/>
<path d="M127.5 970.6L118.3 975.9L117.3 974.2L126.6 968.9Z" fill="#c85050"/>
<path d="M126.2 968.3L116.9 973.4L116.4 972.5L125.7 967.4Z" fill="#e8a488"/>
<path d="M146.6 980.3L137.8 986.6L136 984.1L144.9 977.9Z" fill="#9a9a9a"/>
<path d="M144.9 977.9L136 984.1L135.2 982.9L144.1 976.8Z" fill="#8f7ad0"/>
<path d="M143.6 976L139 979.1L138.4 978.3L143.1 975.2Z" fill="#6ab0b8"/>
<path d="M137.6 975.2L132.4 978.6L131.8 977.7L137.1 974.4Z" fill="#b8c8d8"/>
<path d="M140.7 971.5L131.5 977.3L130.5 975.5L139.7 969.9ZM137.3 966L128 971.4L127.3 970.2L136.6 964.8Z" fill="#c0c0d8"/>
<path d="M139.5 969.6L130.3 975.3L129.9 974.6L139.1 969Z" fill="#c85050"/>
<path d="M138.8 968.6L129.6 974.1L129.1 973.3L138.3 967.7Z" fill="#8888a8"/>
<path d="M136 963.8L126.6 969.1L125.8 967.6L135.2 962.3Z" fill="#e0c8e0"/>
<path d="M69.28 951.05A241.9 241.9 0 0 1 60.58 825.94" fill="none" stroke="#b4b2b2" stroke-width="8.2"/>
<path d="M72.3 947.1l-7.8 2.6M60.5 860.3l-8.2 -0.4" stroke="#c88888" stroke-width="1.1" fill="none"/>
<path d="M71.4 944.3l-7.8 2.5M62.4 904.4l-8.1 1.1M61.4 895.8l-8.2 0.8M60.2 873.5l-8.2 0M60.5 861.1l-8.2 -0.4" stroke="#d4d4d4" stroke-width="0.7" fill="none"/>
<path d="M71 943.3l-7.8 2.4M63.8 831l-8.1 -1.4" stroke="#bf7070" stroke-width="1.4" fill="none"/>
<path d="M70.8 942.5l-7.8 2.4" stroke="#c07878" stroke-width="1.8" fill="none"/>
<path d="M70.2 940.7l-7.9 2.4" stroke="#b86a6a" stroke-width="0.8" fill="none"/>
<path d="M69.9 939.4l-7.9 2.3M62.9 836.6l-8.1 -1.2" stroke="#bcbcbc" stroke-width="0.9" fill="none"/>
<path d="M69 936.3l-7.9 2.2M60.9 854.7l-8.2 -0.6" stroke="#cccccc" stroke-width="0.5" fill="none"/>
<path d="M68.4 934.2l-7.9 2.1" stroke="#c47a84" stroke-width="0.6" fill="none"/>
<path d="M67.6 931.1l-7.9 2M60.4 881.7l-8.2 0.3" stroke="#9c9c9c" stroke-width="1.5" fill="none"/>
<path d="M67.4 930.2l-8 2M65.6 922.9l-8 1.7" stroke="#a8a8a8" stroke-width="1.5" fill="none"/>
<path d="M66.7 927.7l-8 1.9" stroke="#a8a8a8" stroke-width="1.1" fill="none"/>
<path d="M66 924.5l-8 1.8M64.5 917.5l-8.1 1.6M63.4 910.9l-8.1 1.3" stroke="#9c9c9c" stroke-width="1.1" fill="none"/>
<path d="M65.1 920.4l-8 1.7M61.1 892.7l-8.2 0.7" stroke="#c07878" stroke-width="0.8" fill="none"/>
<path d="M64.2 915.9l-8.1 1.5M62.8 907.3l-8.1 1.2M61.9 843.7l-8.1 -1" stroke="#c47a84" stroke-width="1.8" fill="none"/>
<path d="M63.9 914l-8.1 1.4" stroke="#cf9898" stroke-width="0.6" fill="none"/>
<path d="M63.7 913l-8.1 1.4" stroke="#bcbcbc" stroke-width="0.5" fill="none"/>
<path d="M62.9 908.1l-8.1 1.2" stroke="#a8a8a8" stroke-width="0.9" fill="none"/>
<path d="M62 901.5l-8.1 1M60.2 872.1l-8.2 0" stroke="#cf9898" stroke-width="1.8" fill="none"/>
<path d="M61.9 900.7l-8.1 1M61.8 844.7l-8.1 -1" stroke="#bcbcbc" stroke-width="1.5" fill="none"/>
<path d="M61.6 898.4l-8.2 0.9" stroke="#9c9c9c" stroke-width="0.5" fill="none"/>
<path d="M61.5 897.5l-8.2 0.9M64 829.9l-8.1 -1.5" stroke="#aeaeae" stroke-width="0.7" fill="none"/>
<path d="M61.2 894l-8.2 0.7" stroke="#c47a84" stroke-width="1.4" fill="none"/>
<path d="M60.9 891l-8.2 0.6M60.3 877.3l-8.2 0.2" stroke="#cccccc" stroke-width="0.7" fill="none"/>
<path d="M60.7 888.5l-8.2 0.6" stroke="#a2a2a2" stroke-width="0.5" fill="none"/>
<path d="M60.6 885.5l-8.2 0.5M60.3 867.2l-8.2 -0.2" stroke="#c2c2c2" stroke-width="0.7" fill="none"/>
<path d="M60.5 883.7l-8.2 0.4M62.3 840.7l-8.1 -1.1" stroke="#a8a8a8" stroke-width="0.5" fill="none"/>
<path d="M60.4 882.6l-8.2 0.4" stroke="#c07878" stroke-width="1.4" fill="none"/>
<path d="M60.4 880.9l-8.2 0.3" stroke="#c88888" stroke-width="1.8" fill="none"/>
<path d="M60.3 878.7l-8.2 0.2" stroke="#bcbcbc" stroke-width="1.1" fill="none"/>
<path d="M60.2 874.9l-8.2 0.1" stroke="#aeaeae" stroke-width="1.1" fill="none"/>
<path d="M60.2 869.6l-8.2 -0.1" stroke="#c2c2c2" stroke-width="0.9" fill="none"/>
<path d="M60.3 866.2l-8.2 -0.2M60.8 855.7l-8.2 -0.6M61.5 847l-8.2 -0.9" stroke="#9c9c9c" stroke-width="0.7" fill="none"/>
<path d="M60.4 863.3l-8.2 -0.3" stroke="#c88888" stroke-width="0.6" fill="none"/>
<path d="M60.6 859.2l-8.2 -0.5" stroke="#cf9898" stroke-width="1.1" fill="none"/>
<path d="M60.6 858l-8.2 -0.5" stroke="#dcdcdc" stroke-width="0.9" fill="none"/>
<path d="M61.1 851.8l-8.2 -0.7M61.4 848.6l-8.2 -0.8" stroke="#d4d4d4" stroke-width="0.5" fill="none"/>
<path d="M62.5 839.5l-8.1 -1.1" stroke="#d4d4d4" stroke-width="0.9" fill="none"/>
<path d="M63.4 833.4l-8.1 -1.3" stroke="#b86a6a" stroke-width="0.6" fill="none"/>
<path d="M64.2 828.8l-8.1 -1.5" stroke="#d4a4a4" stroke-width="0.8" fill="none"/>
<path d="M73.2 949.7L65.4 952.4L64.4 949.5L72.2 947ZM64.1 829.6L56 828.1L56.6 825.2L64.6 826.7Z" fill="#2424dc"/>
<path d="M64.65 952.65A246.8 246.8 0 0 1 55.78 825" fill="none" stroke="#8c8c8c" stroke-width="1.7"/>
<path d="M87.72 944.71A222.4 222.4 0 0 1 79.72 829.67" fill="none" stroke="#b4b2b2" stroke-width="10.8"/>
<path d="M92.4 941.8l-10.2 3.5" stroke="#c88888" stroke-width="1.4" fill="none"/>
<path d="M92.1 940.9l-10.2 3.4M81.1 879.4l-10.8 0.4" stroke="#dcdcdc" stroke-width="0.9" fill="none"/>
<path d="M91.4 938.5l-10.3 3.3" stroke="#a8a8a8" stroke-width="1.5" fill="none"/>
<path d="M90.4 935.5l-10.3 3.1M83.6 838.8l-10.7 -1.7" stroke="#d4a4a4" stroke-width="0.6" fill="none"/>
<path d="M89.8 933.4l-10.4 3M81 869.6l-10.8 -0.1" stroke="#a8a8a8" stroke-width="0.5" fill="none"/>
<path d="M89 930.8l-10.4 2.9" stroke="#b86a6a" stroke-width="1.4" fill="none"/>
<path d="M88.5 928.7l-10.4 2.8M82.1 894.6l-10.7 1.1M84.9 831.6l-10.6 -2" stroke="#cccccc" stroke-width="0.7" fill="none"/>
<path d="M87.9 926.6l-10.5 2.7M81.6 856.9l-10.8 -0.8" stroke="#9c9c9c" stroke-width="0.7" fill="none"/>
<path d="M87.2 923.9l-10.5 2.6M85.8 917.8l-10.6 2.3" stroke="#cccccc" stroke-width="0.9" fill="none"/>
<path d="M86.5 920.9l-10.5 2.4M82.3 896.3l-10.7 1.2M81 876.3l-10.8 0.2" stroke="#cf9898" stroke-width="0.8" fill="none"/>
<path d="M86.2 919.6l-10.5 2.4" stroke="#bcbcbc" stroke-width="0.7" fill="none"/>
<path d="M85.6 916.8l-10.6 2.2M85.1 914.2l-10.6 2.1M81.1 864.9l-10.8 -0.4" stroke="#bcbcbc" stroke-width="0.9" fill="none"/>
<path d="M84.6 911.7l-10.6 2" stroke="#9c9c9c" stroke-width="0.5" fill="none"/>
<path d="M84.3 909.8l-10.6 1.9M81.9 892.3l-10.8 1" stroke="#d4d4d4" stroke-width="0.9" fill="none"/>
<path d="M83.9 907.9l-10.7 1.8M82.8 900.1l-10.7 1.4" stroke="#dcdcdc" stroke-width="0.7" fill="none"/>
<path d="M83.8 906.8l-10.7 1.7M82.5 897.5l-10.7 1.3" stroke="#d4d4d4" stroke-width="0.5" fill="none"/>
<path d="M83.5 905l-10.7 1.6M81 872.3l-10.8 0" stroke="#bcbcbc" stroke-width="1.5" fill="none"/>
<path d="M83.3 903.5l-10.7 1.6" stroke="#b86a6a" stroke-width="0.8" fill="none"/>
<path d="M83 901.6l-10.7 1.5M81.7 854.8l-10.8 -0.9" stroke="#a8a8a8" stroke-width="0.9" fill="none"/>
<path d="M81.7 890l-10.8 0.9" stroke="#aeaeae" stroke-width="0.9" fill="none"/>
<path d="M81.5 887.5l-10.8 0.8" stroke="#aeaeae" stroke-width="1.5" fill="none"/>
<path d="M81.3 884.2l-10.8 0.6" stroke="#9c9c9c" stroke-width="0.9" fill="none"/>
<path d="M81.2 882.5l-10.8 0.5" stroke="#a2a2a2" stroke-width="1.1" fill="none"/>
<path d="M81 874.3l-10.8 0.1" stroke="#a8a8a8" stroke-width="0.7" fill="none"/>
<path d="M81.1 866.8l-10.8 -0.3M81.2 863.4l-10.8 -0.4" stroke="#bf7070" stroke-width="0.8" fill="none"/>
<path d="M81.2 862.5l-10.8 -0.5M81.9 852.5l-10.8 -1" stroke="#c47a84" stroke-width="0.8" fill="none"/>
<path d="M81.3 860.3l-10.8 -0.6" stroke="#aeaeae" stroke-width="0.7" fill="none"/>
<path d="M81.5 858.3l-10.8 -0.7M83.8 837.6l-10.7 -1.7" stroke="#d4d4d4" stroke-width="0.7" fill="none"/>
<path d="M82.2 849.4l-10.7 -1.1" stroke="#c2c2c2" stroke-width="1.5" fill="none"/>
<path d="M82.6 846.3l-10.7 -1.3" stroke="#aeaeae" stroke-width="1.1" fill="none"/>
<path d="M82.7 845.5l-10.7 -1.3" stroke="#c47a84" stroke-width="1.8" fill="none"/>
<path d="M82.9 843.9l-10.7 -1.4" stroke="#c07878" stroke-width="1.1" fill="none"/>
<path d="M83.3 840.7l-10.7 -1.6" stroke="#bf7070" stroke-width="1.1" fill="none"/>
<path d="M84 836.5l-10.7 -1.8" stroke="#cf9898" stroke-width="1.8" fill="none"/>
<path d="M84.3 834.7l-10.6 -1.9" stroke="#c88888" stroke-width="1.1" fill="none"/>
<path d="M92.8 942.9L82.6 946.5L81.7 943.8L92 940.4ZM84.5 833.3L73.9 831.4L74.4 828.6L85 830.7Z" fill="#2424dc"/>
<path d="M111.5 935.2L101.5 938.5L101.1 937.6L111.2 934.2ZM110.7 932.7L100.6 935.9L100.3 935.1L110.4 931.9ZM101.4 863.7L90.8 863.3L90.9 862L101.4 862.6Z" fill="#e8b060"/>
<path d="M105.8 936L101.1 937.6L100.9 936.8L105.5 935.3ZM95.4 883.5L90.9 883.8L90.8 880.7L95.2 880.5ZM103.8 840.6L99.3 839.9L99.6 837.9L104.1 838.7Z" fill="#c09070"/>
<path d="M110.9 933.4L100.8 936.7L100.6 935.9L110.7 932.7ZM103.3 900.9L92.8 902.5L92.6 901.2L103.1 899.8Z" fill="#b8c8d8"/>
<path d="M109.6 929.2L99.5 932.3L99.2 931.5L109.4 928.5ZM101.3 864.8L90.8 864.4L90.8 863.6L101.4 864Z" fill="#707070"/>
<path d="M105 929.7L99.2 931.4L99 930.6L104.8 928.9Z" fill="#4f9a6a"/>
<path d="M108.8 926.5L98.6 929.4L98.5 928.8L108.7 925.9ZM106.4 917.4L96.1 919.8L95.9 919L106.3 916.6Z" fill="#9a9a9a"/>
<path d="M108.6 925.7L98.4 928.5L98.1 927.7L108.4 924.9ZM104 905.2L93.5 907L93.2 905L103.7 903.3Z" fill="#2a2a80"/>
<path d="M108.2 924.2L97.9 927L96.3 920.6L106.6 918.1ZM97.7 890.4L91.4 890.9L91.3 889.5L97.6 889Z" fill="#a87850"/>
<path d="M106.3 916.6L95.9 919L95.7 917.8L106 915.5ZM95.7 853.8L91.5 853.4L91.5 852.8L95.7 853.2Z" fill="#2020d8"/>
<path d="M105.9 915.2L100.9 916.3L100.7 915.7L105.8 914.6Z" fill="#c0c0d8"/>
<path d="M105.6 913.5L100.2 914.6L99.6 911.7L105 910.6Z" fill="#8888a8"/>
<path d="M104.9 910.1L94.5 912.2L94.3 911.2L104.7 909.2ZM102.8 897.4L92.3 898.7L92.2 897.9L102.7 896.6Z" fill="#f0d8b0"/>
<path d="M104.2 906.5L93.8 908.3L93.5 907.1L104 905.3ZM101.9 888.3L91.3 889.2L91.2 888.2L101.8 887.4Z" fill="#5b82d8"/>
<path d="M103.6 903L93.1 904.7L92.9 903.3L103.4 901.7Z" fill="#d8a8c0"/>
<path d="M103.1 899.5L92.6 900.9L92.4 899.5L102.9 898.1Z" fill="#e8a488"/>
<path d="M102.7 896.3L92.1 897.6L91.8 894.5L102.3 893.4Z" fill="#e0c8e0"/>
<path d="M102.3 892.9L91.7 894L91.5 891.5L102 890.5ZM101.7 886.9L91.2 887.7L91 884.6L101.5 884Z" fill="#3a4a9a"/>
<path d="M101.4 880.2L90.8 880.6L90.7 879.8L101.3 879.4Z" fill="#c85050"/>
<path d="M95.1 879.5L90.7 879.7L90.6 876.6L95 876.5Z" fill="#a8c4e8"/>
<path d="M101.2 875.6L96.3 875.7L96.3 874.9L101.2 874.8Z" fill="#88a8d0"/>
<path d="M101.2 873.4L90.6 873.4L90.6 870.3L101.2 870.4Z" fill="#e8e0c0"/>
<path d="M101.2 870.4L90.6 870.3L90.6 869.3L101.2 869.5Z" fill="#3d6e5a"/>
<path d="M101.2 869.2L90.6 869L90.6 867.8L101.2 868ZM101.8 857.3L91.2 856.5L91.4 853.9L102 854.9Z" fill="#d8b8a8"/>
<path d="M101.3 867.5L90.7 867.3L90.7 864.7L101.3 865.1Z" fill="#a8dca8"/>
<path d="M101.5 862.3L90.9 861.7L91 858.7L101.6 859.4Z" fill="#d8c098"/>
<path d="M101.6 859.3L91.1 858.6L91.2 856.5L101.8 857.3Z" fill="#d0b8d8"/>
<path d="M102.2 852.7L91.6 851.6L91.9 849.6L102.4 850.7Z" fill="#b0b0b0"/>
<path d="M102.9 846.7L92.4 845.3L92.7 842.7L103.2 844.2Z" fill="#6ab0b8"/>
<path d="M103.3 843.8L92.8 842.2L93.2 839.7L103.6 841.4Z" fill="#7080b8"/>
<path d="M104.3 837.5L93.9 835.6L94 834.6L104.5 836.6Z" fill="#8f7ad0"/>
<path d="M116.9 934.2L111.8 935.9L111.5 935.1L116.6 933.4Z" fill="#b0b0b0"/>
<path d="M121.7 931.6L111.5 935L111.1 933.9L121.3 930.5ZM112.8 920.5L107.5 921.8L107.3 920.8L112.6 919.5Z" fill="#8f7ad0"/>
<path d="M121.1 929.8L110.8 933.1L110.6 932.3L120.9 929ZM112 870L101.2 869.9L101.2 868.8L112 869Z" fill="#d8c098"/>
<path d="M120.7 928.6L110.4 931.8L110 930.4L120.3 927.3ZM118.9 922.5L108.5 925.4L107.8 922.9L118.3 920.2ZM107.8 901.1L103.4 901.8L103.3 901.2L107.7 900.5Z" fill="#e8e0c0"/>
<path d="M120.2 927L109.9 930.2L109.2 927.7L119.5 924.7ZM106.3 882.5L101.5 882.7L101.4 881.3L106.2 881.1ZM106.3 871.4L101.2 871.4L101.2 870.2L106.3 870.2Z" fill="#d8a8c0"/>
<path d="M119.5 924.6L114 926.2L113.6 924.8L119.1 923.3ZM115.2 837.8L104.6 835.8L104.8 834.8L115.4 836.8Z" fill="#a8c4e8"/>
<path d="M118.2 920.1L107.8 922.8L107.5 921.8L118 919.1ZM112.3 861.6L101.5 860.9L101.6 860.3L112.3 861ZM113.2 851.2L106.8 850.5L107.2 848L113.5 848.8Z" fill="#9a9a9a"/>
<path d="M117.2 915.8L106.7 918.4L106.1 915.9L116.6 913.5Z" fill="#b8c8d8"/>
<path d="M116.4 912.7L111.1 913.9L110.6 911.4L115.9 910.3ZM112 874.7L101.2 874.8L101.2 873.1L112 873Z" fill="#3d6e5a"/>
<path d="M115.8 909.9L105.3 912L105.1 911.4L115.7 909.3ZM112 876.6L106.9 876.7L106.9 875L112 875ZM107.5 868.2L101.2 868L101.3 867.4L107.6 867.6ZM112.5 858.2L101.8 857.3L101.9 856.3L112.6 857.2Z" fill="#4f9a6a"/>
<path d="M115.5 908.1L104.9 910.2L104.4 907.7L115 905.7ZM112.6 886.8L108.1 887.1L108 886.2L112.5 885.8ZM114.8 840.2L104.2 838.3L104.6 835.8L115.2 837.8Z" fill="#f0d8b0"/>
<path d="M115 905.7L104.4 907.7L104.1 906L114.7 904.1Z" fill="#88a8d0"/>
<path d="M114 899.5L103.3 901.1L103 898.6L113.7 897.1Z" fill="#e0c8e0"/>
<path d="M113.5 896L102.8 897.3L102.7 896.3L113.4 895Z" fill="#c09070"/>
<path d="M113.3 893.8L108.6 894.4L108.1 889.4L112.8 889Z" fill="#707070"/>
<path d="M112.4 885.1L101.7 885.8L101.5 883.2L112.3 882.6Z" fill="#e8a488"/>
<path d="M112.1 878.1L101.3 878.4L101.3 877.4L112.1 877.1Z" fill="#c0c0d8"/>
<path d="M112 872.5L101.2 872.5L101.2 871.7L112 871.7Z" fill="#8888a8"/>
<path d="M112.1 867.2L101.3 866.9L101.4 864.3L112.2 864.8Z" fill="#6060c8"/>
<path d="M112.2 864.8L101.4 864.3L101.5 861.7L112.3 862.3Z" fill="#2020d8"/>
<path d="M112.6 857.1L101.9 856.2L102.4 850.8L113.1 852Z" fill="#a8dca8"/>
<path d="M113.5 848.8L102.8 847.4L103 845.4L113.7 846.9Z" fill="#ecd66a"/>
<path d="M108 846.1L103 845.4L103.3 843.4L108.3 844.1Z" fill="#d8b8a8"/>
<path d="M114.2 843.8L103.5 842.2L104 839.1L114.7 840.9Z" fill="#3a4a9a"/>
<path d="M72.02 786.01A241.9 241.9 0 0 1 277.55 631.27" fill="none" stroke="#b4b2b2" stroke-width="8.2"/>
<path d="M76.9 784.8l-7.6 -3M89.6 757.7l-7.2 -4M123.5 710.7l-6 -5.6" stroke="#dcdcdc" stroke-width="0.7" fill="none"/>
<path d="M77.9 782.2l-7.6 -3.1M193.6 658.6l-3.6 -7.4M275.5 635.6l-0.8 -8.2" stroke="#c2c2c2" stroke-width="1.5" fill="none"/>
<path d="M79.1 779.4l-7.5 -3.2M261.4 637.3l-1.3 -8.1" stroke="#c07878" stroke-width="0.8" fill="none"/>
<path d="M79.9 777.6l-7.5 -3.3M160.3 678.4l-4.7 -6.7M167.4 673.6l-4.5 -6.9" stroke="#c47a84" stroke-width="0.8" fill="none"/>
<path d="M80.3 776.7l-7.5 -3.3M103.9 734.9l-6.7 -4.7M144.1 691l-5.3 -6.3" stroke="#aeaeae" stroke-width="0.5" fill="none"/>
<path d="M80.7 775.6l-7.5 -3.3M82.9 771l-7.4 -3.5M175.3 668.6l-4.2 -7M263 637.1l-1.2 -8.1M265 636.8l-1.1 -8.1" stroke="#9c9c9c" stroke-width="1.1" fill="none"/>
<path d="M81.9 773.1l-7.5 -3.4M121.4 713.1l-6.1 -5.5" stroke="#cf9898" stroke-width="1.8" fill="none"/>
<path d="M82.3 772.1l-7.4 -3.5M86.7 763.2l-7.3 -3.8M87.3 762.1l-7.3 -3.8M115.3 720.1l-6.3 -5.2M142.2 692.6l-5.4 -6.2M151.2 685.2l-5.1 -6.5M251 639.2l-1.6 -8" stroke="#d4d4d4" stroke-width="0.7" fill="none"/>
<path d="M84.2 768.1l-7.4 -3.6M100.5 739.8l-6.8 -4.6" stroke="#c2c2c2" stroke-width="1.1" fill="none"/>
<path d="M85 766.6l-7.3 -3.6" stroke="#c07878" stroke-width="1.8" fill="none"/>
<path d="M85.9 764.7l-7.3 -3.7M101.4 738.5l-6.8 -4.6M210.9 651l-3 -7.6" stroke="#c2c2c2" stroke-width="0.7" fill="none"/>
<path d="M88.4 760.1l-7.2 -3.9M103.2 736l-6.7 -4.7M125 709.2l-6 -5.6" stroke="#aeaeae" stroke-width="1.1" fill="none"/>
<path d="M89.2 758.4l-7.2 -3.9M146.2 689.2l-5.2 -6.3" stroke="#bcbcbc" stroke-width="1.1" fill="none"/>
<path d="M90.9 755.4l-7.1 -4M227 645.4l-2.4 -7.8M232.2 643.8l-2.3 -7.9" stroke="#cccccc" stroke-width="0.9" fill="none"/>
<path d="M91.9 753.7l-7.1 -4.1M136.2 698l-5.6 -6M152.8 684l-5 -6.5" stroke="#cf9898" stroke-width="1.1" fill="none"/>
<path d="M93.3 751.3l-7.1 -4.2M202.5 654.5l-3.3 -7.5" stroke="#c88888" stroke-width="0.8" fill="none"/>
<path d="M94.9 748.5l-7 -4.3" stroke="#cf9898" stroke-width="0.8" fill="none"/>
<path d="M96.6 745.9l-6.9 -4.4" stroke="#c88888" stroke-width="0.6" fill="none"/>
<path d="M97.9 743.8l-6.9 -4.4M126.5 707.5l-5.9 -5.7M258.4 637.8l-1.4 -8.1" stroke="#a2a2a2" stroke-width="0.7" fill="none"/>
<path d="M99.3 741.7l-6.9 -4.5M105.1 733.2l-6.7 -4.8" stroke="#bf7070" stroke-width="1.8" fill="none"/>
<path d="M100.1 740.5l-6.8 -4.5M220.8 647.4l-2.7 -7.8M271.7 636l-0.9 -8.1" stroke="#a8a8a8" stroke-width="1.5" fill="none"/>
<path d="M106.4 731.4l-6.6 -4.9M163.8 676l-4.6 -6.8" stroke="#c2c2c2" stroke-width="0.9" fill="none"/>
<path d="M107 730.6l-6.6 -4.9M133.3 700.8l-5.7 -5.9M207.9 652.2l-3.1 -7.6" stroke="#a2a2a2" stroke-width="1.1" fill="none"/>
<path d="M107.6 729.9l-6.6 -4.9M112.3 723.7l-6.4 -5.1M217.8 648.4l-2.8 -7.7" stroke="#aeaeae" stroke-width="0.7" fill="none"/>
<path d="M108.8 728.3l-6.5 -5M190.6 660.1l-3.7 -7.3" stroke="#a8a8a8" stroke-width="0.9" fill="none"/>
<path d="M110.4 726.2l-6.5 -5M174.1 669.3l-4.3 -7" stroke="#9c9c9c" stroke-width="0.9" fill="none"/>
<path d="M113 722.9l-6.4 -5.2M127.5 706.5l-5.9 -5.7" stroke="#a8a8a8" stroke-width="0.7" fill="none"/>
<path d="M113.8 722l-6.4 -5.2M137.8 696.5l-5.5 -6.1" stroke="#d4a4a4" stroke-width="0.6" fill="none"/>
<path d="M114.6 720.9l-6.3 -5.2M183.6 663.8l-3.9 -7.2M235.8 642.8l-2.1 -7.9" stroke="#b86a6a" stroke-width="1.4" fill="none"/>
<path d="M117.1 717.9l-6.2 -5.3M213.6 650l-2.9 -7.7" stroke="#d4d4d4" stroke-width="0.5" fill="none"/>
<path d="M118.4 716.4l-6.2 -5.4" stroke="#c88888" stroke-width="1.8" fill="none"/>
<path d="M120.1 714.5l-6.1 -5.4" stroke="#c88888" stroke-width="1.1" fill="none"/>
<path d="M120.8 713.7l-6.1 -5.5M148.6 687.3l-5.2 -6.4M162.2 677.1l-4.7 -6.7M181.6 664.9l-4 -7.2M245.3 640.4l-1.8 -8" stroke="#a2a2a2" stroke-width="1.5" fill="none"/>
<path d="M129.2 704.8l-5.8 -5.8M171.7 670.8l-4.4 -6.9M187.6 661.7l-3.8 -7.3M200.5 655.4l-3.4 -7.5" stroke="#9c9c9c" stroke-width="0.5" fill="none"/>
<path d="M130.3 703.7l-5.8 -5.8" stroke="#dcdcdc" stroke-width="0.9" fill="none"/>
<path d="M132.2 701.8l-5.7 -5.9M230.3 644.3l-2.3 -7.9" stroke="#b86a6a" stroke-width="0.8" fill="none"/>
<path d="M134.2 699.9l-5.6 -5.9" stroke="#b86a6a" stroke-width="1.1" fill="none"/>
<path d="M139.7 694.8l-5.5 -6.1M199.1 656l-3.4 -7.5M240.6 641.5l-2 -8" stroke="#bcbcbc" stroke-width="0.9" fill="none"/>
<path d="M141.3 693.4l-5.4 -6.2" stroke="#bcbcbc" stroke-width="0.5" fill="none"/>
<path d="M143.3 691.7l-5.3 -6.2M159.5 679l-4.8 -6.7" stroke="#bf7070" stroke-width="0.6" fill="none"/>
<path d="M149.6 686.5l-5.1 -6.4" stroke="#bcbcbc" stroke-width="1.5" fill="none"/>
<path d="M154.8 682.4l-4.9 -6.5" stroke="#cccccc" stroke-width="0.5" fill="none"/>
<path d="M156.8 680.9l-4.9 -6.6" stroke="#bf7070" stroke-width="1.1" fill="none"/>
<path d="M161 677.9l-4.7 -6.7" stroke="#bcbcbc" stroke-width="0.7" fill="none"/>
<path d="M165.9 674.6l-4.6 -6.8M266.4 636.6l-1.1 -8.1" stroke="#c07878" stroke-width="1.1" fill="none"/>
<path d="M169.3 672.4l-4.4 -6.9M221.7 647.1l-2.6 -7.8M247.8 639.9l-1.7 -8M267.9 636.4l-1 -8.1" stroke="#aeaeae" stroke-width="0.9" fill="none"/>
<path d="M177.2 667.5l-4.2 -7.1" stroke="#c88888" stroke-width="1.4" fill="none"/>
<path d="M178 667l-4.1 -7.1M217 648.7l-2.8 -7.7" stroke="#a8a8a8" stroke-width="1.1" fill="none"/>
<path d="M180.2 665.7l-4.1 -7.1" stroke="#d4a4a4" stroke-width="0.8" fill="none"/>
<path d="M185.5 662.8l-3.9 -7.2" stroke="#a2a2a2" stroke-width="0.9" fill="none"/>
<path d="M188.8 661.1l-3.8 -7.3M225.8 645.7l-2.5 -7.8M228.2 645l-2.4 -7.8M233.3 643.5l-2.2 -7.9" stroke="#9c9c9c" stroke-width="1.5" fill="none"/>
<path d="M192.7 659.1l-3.6 -7.4" stroke="#a2a2a2" stroke-width="0.5" fill="none"/>
<path d="M196.5 657.2l-3.5 -7.4M238.7 642l-2 -7.9" stroke="#d4d4d4" stroke-width="0.9" fill="none"/>
<path d="M204.9 653.5l-3.2 -7.5M214.7 649.6l-2.9 -7.7" stroke="#c47a84" stroke-width="1.8" fill="none"/>
<path d="M208.8 651.9l-3.1 -7.6" stroke="#b86a6a" stroke-width="0.6" fill="none"/>
<path d="M215.5 649.3l-2.8 -7.7" stroke="#aeaeae" stroke-width="1.5" fill="none"/>
<path d="M224.1 646.3l-2.5 -7.8M270.9 636l-0.9 -8.1" stroke="#bf7070" stroke-width="0.8" fill="none"/>
<path d="M242 641.2l-1.9 -8" stroke="#cf9898" stroke-width="1.4" fill="none"/>
<path d="M253.5 638.7l-1.5 -8.1M255.3 638.4l-1.5 -8.1" stroke="#cccccc" stroke-width="0.7" fill="none"/>
<path d="M273.1 635.8l-0.9 -8.2" stroke="#c47a84" stroke-width="1.4" fill="none"/>
<path d="M75.8 787.5L68.2 784.5L69.3 781.7L76.9 784.8ZM275 635.6L274.2 627.5L277.2 627.2L277.9 635.4ZM129.9 704.2L124.1 698.4L128 694.5L133.7 700.4ZM143.6 691.5L138.2 685.2L141.5 682.5L146.7 688.8ZM170.9 671.3L166.5 664.4L168.7 663L173 670ZM260 637.6L258.7 629.5L259.9 629.3L261.2 637.4Z" fill="#2424dc"/>
<path d="M67.44 784.26A246.8 246.8 0 0 1 277.13 626.38" fill="none" stroke="#8c8c8c" stroke-width="1.7"/>
<path d="M90.23 792.96A222.4 222.4 0 0 1 279.2 650.7" fill="none" stroke="#b4b2b2" stroke-width="10.8"/>
<path d="M95.8 793.6l-10.1 -3.9M245.4 661.8l-2.6 -10.5" stroke="#b86a6a" stroke-width="0.6" fill="none"/>
<path d="M96.3 792.4l-10 -4M120.7 747.2l-8.8 -6.2M145.9 717.5l-7.6 -7.7M225.2 667.9l-3.6 -10.2" stroke="#a8a8a8" stroke-width="0.5" fill="none"/>
<path d="M96.8 791l-10 -4" stroke="#aeaeae" stroke-width="0.7" fill="none"/>
<path d="M97.2 790l-10 -4.1M119.3 749.1l-8.9 -6.1M184 687.7l-5.7 -9.2" stroke="#a2a2a2" stroke-width="0.5" fill="none"/>
<path d="M98.3 787.3l-9.9 -4.2" stroke="#cf9898" stroke-width="1.1" fill="none"/>
<path d="M99.4 784.9l-9.9 -4.4M186.4 686.2l-5.6 -9.3M228 666.9l-3.5 -10.2" stroke="#b86a6a" stroke-width="0.8" fill="none"/>
<path d="M100.2 783l-9.8 -4.4M260.3 658.6l-1.9 -10.6" stroke="#aeaeae" stroke-width="1.1" fill="none"/>
<path d="M100.8 781.6l-9.8 -4.5M111.8 760.9l-9.3 -5.5M168.4 698.3l-6.5 -8.7M187.6 685.5l-5.5 -9.3" stroke="#c47a84" stroke-width="0.6" fill="none"/>
<path d="M101.3 780.6l-9.8 -4.6M122.4 744.7l-8.7 -6.3M139.2 724.4l-7.9 -7.4M144.4 719l-7.6 -7.6M237 664.1l-3 -10.4" stroke="#a8a8a8" stroke-width="1.5" fill="none"/>
<path d="M102.2 778.8l-9.7 -4.7M172 695.6l-6.3 -8.8" stroke="#c47a84" stroke-width="1.8" fill="none"/>
<path d="M103.3 776.5l-9.7 -4.8M250.6 660.5l-2.4 -10.5" stroke="#aeaeae" stroke-width="0.9" fill="none"/>
<path d="M103.7 775.7l-9.7 -4.8M200.3 678.5l-4.9 -9.6" stroke="#9c9c9c" stroke-width="1.1" fill="none"/>
<path d="M104.1 774.9l-9.7 -4.8M178 691.5l-6 -9M242.2 662.6l-2.8 -10.4" stroke="#c2c2c2" stroke-width="0.9" fill="none"/>
<path d="M105.4 772.3l-9.6 -5" stroke="#bf7070" stroke-width="1.8" fill="none"/>
<path d="M106.3 770.5l-9.5 -5.1M136.2 727.7l-8.1 -7.2M211.4 673.3l-4.3 -9.9" stroke="#a8a8a8" stroke-width="0.7" fill="none"/>
<path d="M107.4 768.6l-9.5 -5.2M141.7 721.8l-7.8 -7.5M175.7 693l-6.1 -8.9" stroke="#dcdcdc" stroke-width="0.7" fill="none"/>
<path d="M107.8 767.9l-9.5 -5.2" stroke="#9c9c9c" stroke-width="0.7" fill="none"/>
<path d="M109.3 765.2l-9.4 -5.3M279.2 656.1l-0.9 -10.8" stroke="#cccccc" stroke-width="0.5" fill="none"/>
<path d="M109.7 764.4l-9.4 -5.4M204.2 676.6l-4.7 -9.7M219 670.2l-3.9 -10.1" stroke="#c07878" stroke-width="1.4" fill="none"/>
<path d="M110.7 762.7l-9.3 -5.5M117.5 751.8l-9 -6M240 663.2l-2.9 -10.4" stroke="#9c9c9c" stroke-width="1.5" fill="none"/>
<path d="M112.2 760.2l-9.2 -5.6" stroke="#c47a84" stroke-width="1.1" fill="none"/>
<path d="M113.5 758.1l-9.2 -5.7" stroke="#c2c2c2" stroke-width="1.5" fill="none"/>
<path d="M114.9 755.8l-9.1 -5.8" stroke="#c88888" stroke-width="1.8" fill="none"/>
<path d="M116.1 753.9l-9.1 -5.9" stroke="#c07878" stroke-width="1.1" fill="none"/>
<path d="M118.3 750.6l-8.9 -6.1M137.6 726.1l-8 -7.3M263.4 658.1l-1.7 -10.7M274.2 656.6l-1.2 -10.7" stroke="#dcdcdc" stroke-width="0.9" fill="none"/>
<path d="M119.8 748.5l-8.9 -6.2M148.2 715.3l-7.5 -7.8" stroke="#c2c2c2" stroke-width="0.5" fill="none"/>
<path d="M123.4 743.4l-8.7 -6.4" stroke="#c88888" stroke-width="0.8" fill="none"/>
<path d="M124.2 742.3l-8.6 -6.5M138.2 725.5l-8 -7.3" stroke="#cccccc" stroke-width="0.7" fill="none"/>
<path d="M126.1 739.8l-8.6 -6.6M157.7 706.7l-7 -8.2M269.2 657.2l-1.4 -10.7" stroke="#bcbcbc" stroke-width="1.1" fill="none"/>
<path d="M127.8 737.7l-8.5 -6.7M189.5 684.4l-5.4 -9.4" stroke="#a8a8a8" stroke-width="1.1" fill="none"/>
<path d="M128.3 737l-8.4 -6.7" stroke="#c47a84" stroke-width="0.8" fill="none"/>
<path d="M129 736.2l-8.4 -6.8" stroke="#b86a6a" stroke-width="1.1" fill="none"/>
<path d="M130.3 734.5l-8.3 -6.9M270 657.1l-1.4 -10.7" stroke="#c07878" stroke-width="0.8" fill="none"/>
<path d="M131.9 732.6l-8.3 -7M133.2 731.1l-8.2 -7M165.9 700.1l-6.6 -8.6M224.3 668.2l-3.7 -10.2M272.2 656.8l-1.3 -10.7" stroke="#d4d4d4" stroke-width="0.9" fill="none"/>
<path d="M134 730.2l-8.2 -7.1" stroke="#b86a6a" stroke-width="1.8" fill="none"/>
<path d="M140.4 723.1l-7.8 -7.4M160.2 704.7l-6.9 -8.3M213.7 672.4l-4.2 -10M254.8 659.6l-2.1 -10.6" stroke="#aeaeae" stroke-width="0.5" fill="none"/>
<path d="M143.5 719.9l-7.7 -7.6M163.6 701.9l-6.7 -8.5M217.9 670.6l-4 -10M265.1 657.8l-1.6 -10.7" stroke="#cccccc" stroke-width="0.9" fill="none"/>
<path d="M145.3 718.1l-7.6 -7.7" stroke="#cf9898" stroke-width="0.6" fill="none"/>
<path d="M150.5 713.1l-7.3 -7.9M205.3 676.1l-4.6 -9.8M216.2 671.3l-4.1 -10" stroke="#d4d4d4" stroke-width="0.5" fill="none"/>
<path d="M151.4 712.3l-7.3 -8M207.9 674.9l-4.5 -9.8M236 664.4l-3.1 -10.3" stroke="#a2a2a2" stroke-width="0.9" fill="none"/>
<path d="M152.3 711.5l-7.3 -8" stroke="#b86a6a" stroke-width="1.4" fill="none"/>
<path d="M154 709.9l-7.2 -8.1M173.4 694.7l-6.2 -8.8M180.1 690.1l-5.9 -9.1" stroke="#aeaeae" stroke-width="1.5" fill="none"/>
<path d="M155.3 708.8l-7.1 -8.1M195.6 681l-5.1 -9.5M256 659.4l-2.1 -10.6" stroke="#c88888" stroke-width="1.1" fill="none"/>
<path d="M161.9 703.3l-6.8 -8.4" stroke="#bcbcbc" stroke-width="0.9" fill="none"/>
<path d="M169.8 697.2l-6.4 -8.7M222.1 669l-3.8 -10.1" stroke="#a2a2a2" stroke-width="1.1" fill="none"/>
<path d="M181.8 689.1l-5.8 -9.1" stroke="#c88888" stroke-width="1.4" fill="none"/>
<path d="M191.8 683.1l-5.3 -9.4M202.3 677.5l-4.8 -9.7M243.5 662.3l-2.7 -10.5M258 659l-2 -10.6" stroke="#d4a4a4" stroke-width="1.1" fill="none"/>
<path d="M193.4 682.2l-5.2 -9.5M197.4 680l-5 -9.6" stroke="#d4d4d4" stroke-width="0.7" fill="none"/>
<path d="M198.6 679.4l-4.9 -9.6" stroke="#bf7070" stroke-width="0.6" fill="none"/>
<path d="M210 674l-4.4 -9.9" stroke="#c88888" stroke-width="0.6" fill="none"/>
<path d="M219.8 669.9l-3.9 -10.1" stroke="#bf7070" stroke-width="0.8" fill="none"/>
<path d="M229.8 666.3l-3.4 -10.3" stroke="#9c9c9c" stroke-width="0.9" fill="none"/>
<path d="M232.8 665.3l-3.2 -10.3M249.2 660.9l-2.4 -10.5" stroke="#c2c2c2" stroke-width="1.1" fill="none"/>
<path d="M246.8 661.4l-2.5 -10.5" stroke="#cf9898" stroke-width="1.8" fill="none"/>
<path d="M252.2 660.2l-2.3 -10.6" stroke="#bf7070" stroke-width="1.1" fill="none"/>
<path d="M266.6 657.6l-1.6 -10.7M277.2 656.3l-1 -10.8" stroke="#d4a4a4" stroke-width="1.8" fill="none"/>
<path d="M95.3 794.9L85.2 791L86.2 788.4L96.2 792.4ZM277 656.3L276 645.6L278.7 645.3L279.7 656.1ZM144.6 718.9L136.9 711.2L140.6 707.6L148.1 715.4ZM157.1 707.3L150.1 699.1L153.1 696.5L160 704.9ZM182 688.9L176.3 679.7L178.3 678.5L184 687.7ZM263.3 658.1L261.6 647.4L262.8 647.2L264.4 657.9Z" fill="#2424dc"/>
<path d="M114.7 800.6L104.8 796.8L105.1 796L115 799.9Z" fill="#c85050"/>
<path d="M115.4 798.8L105.6 794.9L106.3 793.2L116.1 797.3ZM119.5 789.3L109.9 784.9L110.8 783L120.4 787.6ZM129.5 759.9L125.5 757.2L126.5 755.7L130.5 758.4ZM159.5 732.5L152 725L152.4 724.6L159.9 732.1ZM226.1 689.1L222.2 679.3L223.5 678.7L227.3 688.6Z" fill="#6ab0b8"/>
<path d="M116.1 797.3L106.3 793.2L107.5 790.4L117.2 794.6ZM138.2 757.5L129.6 751.3L130.6 749.9L139.2 756.1Z" fill="#2a2a80"/>
<path d="M117.7 793.5L107.9 789.3L108.6 787.7L118.3 792ZM124.5 779.4L115.2 774.4L115.4 773.9L124.8 778.9Z" fill="#a8c4e8"/>
<path d="M118.6 791.3L109 786.9L109.7 785.3L119.3 789.8ZM166.6 725.8L163 721.8L163.5 721.4L167.1 725.4ZM243.4 676.7L242.2 672.5L243.2 672.3L244.4 676.5ZM246 682.5L243.2 672.3L244 672.1L246.8 682.3Z" fill="#7080b8"/>
<path d="M120.9 786.5L111.3 781.9L111.6 781.4L121.1 786ZM122.7 782.8L113.3 778L113.9 776.9L123.3 781.7ZM136.4 750.6L132.3 747.5L133.2 746.4L137.3 749.5ZM252.6 680.8L250.2 670.5L252.7 669.9L255 680.3Z" fill="#e8a488"/>
<path d="M121.2 785.9L111.6 781.3L112.6 779.4L122 784.2ZM129.1 771.4L120 765.9L121 764.2L130.1 769.7ZM168.4 724.2L161.4 716.2L162.7 715.1L169.6 723.1ZM176.3 717.6L169.8 709.3L170.7 708.5L177.2 716.9Z" fill="#d8a8c0"/>
<path d="M122.2 783.9L116.6 781.1L117.1 780.2L122.6 783ZM183.9 712L177.7 703.3L178.9 702.5L185 711.2ZM197.6 703L192.2 693.9L194.4 692.6L199.7 701.8ZM223.3 690.2L219.2 680.4L220.9 679.8L224.8 689.6ZM271.8 677.3L270.9 671.2L271.5 671.1L272.3 677.2Z" fill="#e0c8e0"/>
<path d="M124.8 778.8L120.2 776.3L121.2 774.6L125.8 777.1ZM140.1 754.9L131.6 748.5L132.3 747.5L140.8 753.9ZM148.2 744.7L140.1 737.8L142.2 735.4L150.1 742.4ZM152.3 740L144.4 732.9L145.8 731.4L153.6 738.6ZM256.4 674.2L255.4 669.3L257.1 669L258.1 673.8Z" fill="#e8e0c0"/>
<path d="M125.9 776.9L116.6 771.7L117.2 770.6L126.5 775.8ZM128 762L124 759.4L124.5 758.7L128.5 761.3ZM133.5 764.3L124.6 758.5L125.3 757.4L134.1 763.3ZM146.3 746.9L138.2 740.1L140.1 737.8L148.2 744.7ZM227.7 682.2L226.1 677.8L226.7 677.5L228.3 681.9Z" fill="#b0b0b0"/>
<path d="M126.5 775.8L117.2 770.6L117.9 769.4L127.1 774.6ZM180.6 714.4L174.2 705.9L175.1 705.3L181.3 713.8Z" fill="#a8dca8"/>
<path d="M127.2 774.6L118 769.3L118.9 767.8L128 773.1ZM165.2 727.1L158 719.3L158.6 718.7L165.8 726.6Z" fill="#b8c8d8"/>
<path d="M128.4 772.5L124.2 770L124.6 769.3L128.8 771.8ZM130.7 768.7L121.7 763.1L122.7 761.4L131.7 767.1ZM209.8 696.4L205 686.9L205.6 686.6L210.3 696.1ZM242 683.6L239 673.5L241.9 672.6L244.8 682.8Z" fill="#5b82d8"/>
<path d="M136.3 760.1L127.6 754L128.1 753.4L136.8 759.4ZM166.1 717.8L163.3 714.6L165.3 712.9L168 716.2ZM239.7 684.3L236.5 674.2L238.2 673.7L241.2 683.9ZM256.4 679.9L254.2 669.6L255.4 669.3L257.6 679.7ZM265 678.3L263.2 667.8L263.9 667.7L265.6 678.2Z" fill="#8888a8"/>
<path d="M142.1 752.2L133.7 745.7L134.8 744.4L143.1 750.9ZM247.5 682.1L244.8 671.8L245.4 671.7L248.1 681.9Z" fill="#707070"/>
<path d="M143.8 750L135.5 743.4L136.8 741.8L145 748.5ZM162.3 729.8L154.9 722.1L156 721.1L163.3 728.9ZM173.8 719.6L167.1 711.4L167.9 710.8L174.6 719ZM225.3 689.4L221.3 679.6L222.1 679.3L226 689.2Z" fill="#d8c098"/>
<path d="M145.8 747.6L137.6 740.8L138 740.4L146.1 747.1ZM158.1 733.9L150.6 726.4L152 725L159.5 732.5ZM203.8 699.5L198.8 690.2L199.5 689.8L204.5 699.1ZM205 698.9L199.9 689.5L201.8 688.6L206.7 698ZM206.9 697.8L202 688.4L204.8 687L209.5 696.5Z" fill="#e8b060"/>
<path d="M150.9 741.6L146.9 738L148.2 736.5L152.2 740.1ZM210.4 696.1L205.7 686.6L206.6 686.1L211.3 695.6ZM232.2 686.8L228.6 676.8L230.3 676.3L233.7 686.3Z" fill="#ecd66a"/>
<path d="M153.9 738.3L146.1 731L147.6 729.5L155.2 736.8ZM172.4 720.8L168.9 716.5L169.7 715.8L173.2 720.1ZM213.6 694.5L209.1 684.9L209.7 684.7L214.2 694.2ZM274.7 676.9L273.4 666.4L274.8 666.2L276 676.7Z" fill="#9a9a9a"/>
<path d="M155.2 736.8L147.6 729.5L149.7 727.3L157.3 734.7ZM174.8 718.8L168.2 710.6L168.8 710.1L175.4 718.4ZM179.8 715L173.4 706.5L174.2 705.9L180.6 714.4ZM218.2 692.4L213.9 682.7L214.6 682.4L218.9 692.1ZM230.6 687.4L227 677.4L228.6 676.8L232.2 686.8ZM236.9 685.2L233.6 675.2L236 674.4L239.2 684.5Z" fill="#88a8d0"/>
<path d="M160.7 731.3L153.3 723.7L154.6 722.5L161.9 730.1ZM188.9 708.5L186 704.1L188.5 702.5L191.4 706.9ZM262.9 678.7L261 668.2L262.7 667.9L264.5 678.4Z" fill="#c0c0d8"/>
<path d="M163.3 728.9L156 721.1L156.6 720.6L163.8 728.3ZM192.4 706.3L186.7 697.3L187.5 696.8L193.2 705.7ZM195.5 704.3L190 695.3L191.5 694.4L196.9 703.4ZM272.3 677.2L271.7 672.3L272.9 672.1L273.5 677Z" fill="#d0b8d8"/>
<path d="M177.5 716.7L171 708.4L173 706.8L179.4 715.3ZM182.3 713.1L176.1 704.5L176.7 704.1L182.9 712.7ZM248.4 681.9L245.7 671.6L248.2 671L250.7 681.3ZM259.9 679.2L258.7 673.1L259.5 673L260.7 679.1Z" fill="#3a4a9a"/>
<path d="M185.2 711L179.2 702.3L181.7 700.6L187.6 709.4ZM250.7 681.3L249.7 677.1L250.5 676.9L251.5 681.1Z" fill="#c09070"/>
<path d="M188 709.1L182.1 700.3L183 699.7L188.8 708.5ZM234.8 685.9L231.4 675.9L233.1 675.3L236.4 685.4ZM267.5 677.9L265.9 667.4L267.6 667.1L269.2 677.6ZM269.3 677.6L267.7 667.1L269.1 666.9L270.6 677.4Z" fill="#a87850"/>
<path d="M193.4 705.6L187.8 696.6L189.5 695.5L195.1 704.6ZM255 680.3L252.7 669.9L254.1 669.6L256.3 680Z" fill="#d8b8a8"/>
<path d="M199.9 701.7L194.7 692.5L195.7 691.9L200.9 701.1ZM209.6 689.6L207.7 685.6L208.6 685.1L210.5 689.1Z" fill="#8f7ad0"/>
<path d="M214.4 694.1L209.9 684.5L211.8 683.7L216.2 693.3Z" fill="#f0d8b0"/>
<path d="M227.8 688.4L224 678.5L225.4 678L229.1 688Z" fill="#3d6e5a"/>
<path d="M261.9 678.8L259.9 668.4L260.9 668.2L262.8 678.7ZM265.6 678.2L263.9 667.7L265.9 667.4L267.5 677.9Z" fill="#6060c8"/>
<path d="M124.5 805.2L114.4 801.4L114.7 800.6L124.8 804.5ZM233.3 697.9L229.6 687.8L231.2 687.2L234.9 697.3Z" fill="#8888a8"/>
<path d="M125.1 803.8L115 799.8L115.7 798.2L125.7 802.3ZM252.1 692L249.5 681.6L250.5 681.3L253.1 691.8ZM268 688.7L266.3 678.1L267.3 677.9L269 688.6Z" fill="#a8dca8"/>
<path d="M125.7 802.3L115.7 798.2L116.1 797.2L126.1 801.4ZM130.8 790.8L121.1 786.1L122 784.2L131.7 789.1ZM146.7 764.1L137.9 757.9L139.1 756.2L147.8 762.6ZM181.7 727.1L175 718.7L175.8 718.1L182.5 726.5ZM218.8 704L214.2 694.2L215 693.9L219.5 703.7ZM270.5 688.3L268.9 677.7L272 677.2L273.4 687.9Z" fill="#7080b8"/>
<path d="M126.2 801.1L116.2 797L117.4 794.1L127.3 798.4ZM140.9 772.8L135.9 769.6L137 767.9L141.9 771.1ZM154.4 754.1L146 747.2L146.4 746.8L154.7 753.7ZM160.8 746.7L152.8 739.4L154.6 737.5L162.5 744.9ZM163.3 744.1L155.4 736.6L157.2 734.8L165 742.3Z" fill="#e8e0c0"/>
<path d="M127.4 798.1L122.4 796L123.1 794.4L128.1 796.6ZM135.6 771.6L130.8 768.5L131.7 767.1L136.5 770.1ZM247.1 693.4L244.1 683L246.6 682.3L249.4 692.8ZM280 687.2L278.9 676.4L279.9 676.3L280.9 687.1Z" fill="#9a9a9a"/>
<path d="M128.1 796.5L118.3 792.1L118.5 791.6L128.4 796ZM238.3 696.1L234.9 685.9L236.2 685.4L239.6 695.7ZM257.9 690.7L255.6 680.1L258.1 679.6L260.3 690.2Z" fill="#e0c8e0"/>
<path d="M128.8 795L119 790.5L119.4 789.7L129.2 794.2ZM134.7 783.3L125.2 778.1L126.7 775.4L136.1 780.8ZM172.4 735.1L165.1 727.1L166.4 726L173.6 734ZM183.4 725.8L176.7 717.3L177.6 716.7L184.2 725.2ZM273.4 687.9L272 677.2L273.7 677L275 687.7Z" fill="#5b82d8"/>
<path d="M129.5 793.5L119.7 789L120.2 788L129.9 792.7ZM151.9 757.2L147.5 753.8L147.9 753.3L152.2 756.8ZM191.4 719.9L188 715.1L190.1 713.7L193.4 718.5ZM196.2 716.6L190.3 707.6L191 707.2L196.8 716.2Z" fill="#3d6e5a"/>
<path d="M132 788.4L122.4 783.5L122.9 782.4L132.5 787.3ZM184.2 725.2L177.6 716.7L180 714.8L186.5 723.4ZM239.7 695.7L236.3 685.4L239.3 684.5L242.5 694.8Z" fill="#e8b060"/>
<path d="M132.8 786.9L123.2 782L124.6 779.2L134.1 784.3ZM149.2 760.8L140.5 754.3L141.8 752.6L150.3 759.2ZM152.5 756.4L144.1 749.6L144.9 748.7L153.3 755.5ZM159.6 748.1L151.5 740.9L152.5 739.8L160.5 747.1ZM232.5 698.2L228.7 688.1L229.3 687.9L233 698ZM267.3 688.8L265.6 678.2L266.2 678.1L267.9 688.7Z" fill="#b8c8d8"/>
<path d="M136.2 780.5L126.8 775.2L127.2 774.5L136.6 779.8ZM178.3 729.9L171.4 721.6L173 720.3L179.8 728.7ZM243.6 694.4L240.5 684.1L241.4 683.8L244.6 694.1ZM251.1 692.3L248.4 681.9L249.4 681.6L252 692.1ZM256.3 691L253.9 680.5L255.3 680.2L257.6 690.7ZM263.2 684.3L262.2 678.8L263.9 678.5L264.9 684ZM265.1 683.4L264.2 678.4L265.3 678.2L266.1 683.2Z" fill="#6ab0b8"/>
<path d="M138.2 777.1L128.9 771.6L129.5 770.6L138.8 776.1ZM154.9 753.4L146.6 746.5L148.6 744.2L156.8 751.2Z" fill="#f0d8b0"/>
<path d="M138.8 776.1L129.6 770.5L130.1 769.6L139.3 775.2ZM158.2 749.7L150 742.5L151 741.5L159.1 748.6ZM205 711.2L199.6 701.8L201.9 700.6L207.2 710ZM211.9 707.4L206.9 697.8L208 697.3L213 706.9Z" fill="#c09070"/>
<path d="M142.1 770.9L133 765L133.5 764.3L142.5 770.2Z" fill="#a87850"/>
<path d="M138 765.8L134.2 763.3L135 762.1L138.8 764.6ZM168.3 739L160.8 731.2L162 730L169.5 737.8ZM228.1 699.9L224.1 689.9L225.7 689.3L229.7 699.3Z" fill="#88a8d0"/>
<path d="M144.1 767.9L135.1 761.8L136 760.6L144.8 766.8ZM214.4 706.2L209.5 696.5L211.4 695.6L216.1 705.3Z" fill="#c0c0d8"/>
<path d="M144.9 766.7L140.2 763.4L141.4 761.8L146 765.1ZM176 731.9L169 723.7L170.5 722.4L177.5 730.6ZM275.1 687.7L273.8 677L274.8 676.9L276.1 687.6Z" fill="#d8b8a8"/>
<path d="M148.1 762.2L139.4 755.8L140.5 754.4L149.1 760.8ZM156.8 751.2L153.2 748.1L153.7 747.5L157.3 750.6ZM195.9 711.5L192.5 706.2L194.3 705.1L197.6 710.5Z" fill="#d8a8c0"/>
<path d="M150.4 759.1L141.8 752.6L142.9 751.2L151.4 757.8ZM189.1 721.5L186.1 717.3L187.7 716.1L190.7 720.4Z" fill="#a8c4e8"/>
<path d="M157.6 750.3L149.5 743.2L150 742.5L158.2 749.7ZM162.5 736.1L159.2 732.8L159.9 732.1L163.2 735.4ZM220.2 703.3L215.7 693.5L217.6 692.7L222 702.5ZM269.5 688.5L267.8 677.8L268.4 677.7L270 688.4Z" fill="#4f9a6a"/>
<path d="M165 742.3L157.3 734.7L158.3 733.7L166 741.3Z" fill="#e8a488"/>
<path d="M170.1 737.3L162.6 729.4L163.2 728.9L170.6 736.7ZM200 714.2L194.3 705.1L195.3 704.4L201 713.6ZM201.9 713L196.4 703.8L198.6 702.5L204 711.8Z" fill="#8f7ad0"/>
<path d="M166.4 732.2L163.2 728.9L164.5 727.7L167.6 731Z" fill="#d0b8d8"/>
<path d="M173.9 733.8L166.7 725.7L169 723.7L176 731.9ZM216.4 705.2L211.6 695.5L212.6 695L217.2 704.7Z" fill="#6060c8"/>
<path d="M177.7 730.4L170.8 722.2L171.4 721.6L178.3 729.9ZM187.1 723L180.7 714.3L181.8 713.5L188.2 722.2ZM228.4 695.1L226 689.1L227.9 688.4L230.2 694.4Z" fill="#707070"/>
<path d="M180.1 728.5L173.2 720.1L174.6 719L181.3 727.4ZM249.5 692.7L246.7 682.3L248.1 681.9L250.8 692.4Z" fill="#b0b0b0"/>
<path d="M194 718.1L188 709.1L189 708.4L195 717.4ZM197.1 716.1L191.2 707L192.1 706.4L197.9 715.5Z" fill="#ecd66a"/>
<path d="M195 717.4L192.5 713.7L193.3 713.1L195.8 716.9ZM209 709L203.9 699.5L205.7 698.5L210.7 708ZM226.2 700.7L222 690.8L223.3 690.2L227.4 700.2ZM252.8 685.5L251.7 681L252.7 680.8L253.7 685.3Z" fill="#2020d8"/>
<path d="M211 707.9L205.9 698.4L206.9 697.9L211.9 707.4ZM276.1 687.6L274.8 676.9L277.4 676.6L278.5 687.3Z" fill="#c85050"/>
<path d="M222.4 702.3L218.1 692.5L221.7 690.9L225.9 700.8ZM244.3 689.2L242.6 683.4L243.8 683.1L245.5 688.8Z" fill="#3a4a9a"/>
<path d="M260.6 690.1L258.4 679.5L259 679.4L261.1 690ZM262.3 689.8L261.4 685.3L263.1 685L263.9 689.5ZM278.8 687.3L277.7 676.6L278.9 676.4L280 687.2Z" fill="#d8c098"/>
<path d="M324.1 697.7l1.3 -8.9M340.7 701l2.2 -8.7M378.1 715l4.1 -8M458 797.7l8.2 -3.8M468.5 826.6l8.7 -2.3M473.5 853.9l9 -0.9M474.4 866.1l9 -0.3M449.3 963.2l7.7 4.6M340.7 1043.6l2.2 8.7M302.6 1048.7l0.2 9M273.4 1047.1l-1.3 8.9M237.6 1038.2l-3.1 8.5M237.6 706.4l-3.1 -8.5M273.4 697.5l-1.3 -8.9M121.9 884.6l-9 0.6M473.5 890.7l9 0.9" stroke="#9ee39e" stroke-width="1" fill="none"/>
<path d="M314 696.5L314.8 687.6L317.4 687.8L316.4 696.8ZM278.3 696.9L277.3 688L279.9 687.7L280.8 696.6Z" fill="#d86040"/>
<path d="M203.7 1023.3L200.5 1028.3L197 1026.1L200.3 1021.1ZM178.9 1004.6L174.9 1009L171.8 1006.2L175.9 1001.8ZM150.4 971.8L145.5 975.2L143.2 971.7L148.2 968.5ZM127.8 924.3L122 926.1L120.9 922.1L126.6 920.5ZM122.2 844.5L116.3 843.5L117 839.4L122.9 840.5ZM143.8 783.3L138.7 780.3L140.8 776.7L145.9 779.8ZM161.6 757.9L157 754L159.8 750.9L164.3 754.8ZM178.9 740L174.9 735.6L178 732.8L181.9 737.4ZM209 718.1L206 713L209.6 710.9L212.5 716.2Z" fill="#c8b048"/>
<path d="M145.4 964L140.3 967.1L138.2 963.5L143.4 960.5Z" fill="#e8d838"/>
<path d="M494.5 885.7L504.7 886.4L503.8 896.1L493.7 894.9Z" fill="#3f7a5e"/>
<path d="M251.4 1052.6L248.8 1062.6L232.4 1057.6L235.8 1047.8Z" fill="#a98cf0"/>
<path d="M271.9 1067.6L270.6 1077.7L258.5 1075.7L260.4 1065.7Z" fill="#3a7050"/>
<path d="M446.1 985.1L454.4 991.4L444.1 1003.9L436.4 996.9Z" fill="#466a5c"/>
<path d="M311.4 717L312.1 716.5L312.9 714.6L313.3 716.6L313.9 716.7L314.5 716.5L315.2 715.9L315.6 717.4L316.3 716.1L317 716L317.7 714.9L318.1 716.7L318.9 715.5L319.8 713.5L320.5 712.7L320.5 716.6L321 717.7L321.8 716.7L322.2 717.9L322.9 717.5L323.6 716.6L324 718.1L324.8 716.8L325.2 718.1L326.1 716.6L326.4 718L326.9 719L328 716.3L328.6 716.5L329.1 716.8L329.5 718.1L329.8 719.4L330.9 717.2L330.9 720L332.2 717.2L332.3 719.4L332.8 719.8L333.4 720.1L334.5 718.1L334.4 720.7L335.4 719.3L336.3 718.2L336.4 720.4L336.8 721.1L338.1 718.5L338.6 719.1L339.1 719.4L339.9 719.1L340.2 720.1L340.8 720.3L341.2 721.1L341.6 721.8L342.4 721.4L342.9 721.7L343.2 722.7L344 722.3L344.6 722.4L345.4 721.9L346 721.8L346 723.8L346.8 723.3L348 721.5L347.7 724.6L348.3 724.6L349.1 724.1L349.9 723.6L349.9 725.4L351.2 723.6L351.6 724.2L352.1 724.5L352.8 724.5L353.2 725.2L353.5 726L354.2 725.8L354.5 726.9L356.5 723.2L356.1 726L356.6 726.5L356.8 727.4L357.5 727.3L358.6 726.3L358.3 728.6L358.9 728.7L359.4 729L360 729.3L361.5 727.2L361.3 729.1L361.6 729.9L362.6 729.2L362.9 730.1L363.6 729.9L365 728.4L364.8 730.2L366 729L366.2 730L366 731.9L367 731.2L367.6 731.4L367.9 732.1L369.2 730.8L368.8 733L369.3 733.2L370.6 732L370.8 733L371.8 732.5L372.2 733L372.3 734.1L373.1 733.9L373.3 734.8L373.7 735.3L374.7 734.8L375.4 734.8L375.2 736.2L376.9 734.5L377 735.7L376.9 736.9L377.5 737.1L378.9 735.9L379 737L379.3 737.6L380.5 736.9L379.7 739.3L381.3 737.8L381.8 738.2L381.3 740.1L381.7 740.6L382.6 740.3L383.2 740.5L383.7 740.8L383.8 741.8L385.4 740.5L384.8 742.4L386.8 740.6L386.6 741.9L386.8 742.7L387.2 743.1L388.2 742.8L388.1 743.9L389.2 743.5L388.8 745.1L389.9 744.6L390.3 745L390.3 746.1L391.6 745.3L391 747.1L393.2 745.2L392.5 747.2L392.8 747.8L393.4 748L393.5 748.8L394.3 748.8L395.5 748.2L396.3 748.2L395.2 750.5L396.4 750L396.4 750.9L396.6 751.6L397.5 751.5L398.1 751.7L398.6 752.1L399.5 752L398.9 753.6L399.6 753.7L399.8 754.3L400.4 754.6L400.9 754.9L402.4 754.1L401.8 755.7L402.9 755.4L403.3 755.8L402.9 757.2L403.8 757.1L404 757.8L404.9 757.6L405.7 757.7L405.5 758.8L405.6 759.6L407.3 758.7L407.1 759.8L407 760.7L407.5 761.1L408.1 761.2L409 761.2L409.8 761.3L410.2 761.7L410.1 762.7L409.9 763.7L410.7 763.8L411.2 764.1L411.6 764.6L411.5 765.5L413.3 764.6L413.1 765.6L414.1 765.6L413.7 766.7L414.1 767.1L414 768.1L414.6 768.3L415.1 768.7L415 769.5L415.9 769.6L417.3 769.2L419.8 767.8L416.9 771.1L417.5 771.4L417.8 771.9L418.4 772.2L418.9 772.5L421.2 771.4L419 774L420.5 773.6L420.9 774.1L420.1 775.4L421.3 775.3L421.3 776L422.3 776.1L422.6 776.6L422.9 777.1L422.6 778.1L423.2 778.3L423.8 778.6L424.3 779L425 779.3L425.1 780L424.9 780.8L424.9 781.6L426.5 781.2L425.5 782.6L428.1 781.6L426.6 783.3L427.5 783.4L427.6 784.1L428.2 784.4L427.9 785.3L429.1 785.3L429.1 786L429.8 786.3L429.5 787.2L429.4 787.9L430.6 787.9L429.8 789.1L430.1 789.6L430.7 789.9L431.6 790.1L432.1 790.5L432.3 791.1L431.6 792.2L433.1 792L433.5 792.5L432.6 793.7L433 794.2L433.5 794.6L434.7 794.6L435 795.1L439.3 793.4L435.8 796L437.8 795.6L435 797.9L436.7 797.6L436.7 798.3L436.7 799L436.6 799.7L436.4 800.5L437.7 800.5L436.8 801.6L438.4 801.5L437.6 802.6L437.7 803.2L439.4 803L439 803.9L438.5 804.8L439.5 805L440.3 805.3L439.2 806.5L440.8 806.4L439.7 807.6L441.1 807.6L440.3 808.6L441.2 808.8L441 809.6L441 810.2L441.6 810.6L441.7 811.2L442.6 811.5L442.3 812.3L442.1 813L442.9 813.3L443.1 813.9L444.6 814L443.5 815L443.5 815.7L443.8 816.2L444.8 816.5L445.3 816.9L444.2 818L444.8 818.4L446.1 818.6L445.1 819.6L445.6 820L446.4 820.4L446.1 821.1L445.7 821.9L446.3 822.3L447 822.7L446.8 823.4L446.9 824.1L446.9 824.7L446.9 825.3L447.8 825.6L448.4 826.1L447.4 827L448.1 827.5L449.2 827.7L449.1 828.4L449.5 828.9L448.3 829.9L448.1 830.6L449 830.9L450 831.3L449.5 832.1L450 832.5L449.7 833.2L449 834L449.6 834.5L450 835L450 835.6L451.3 836L451.5 836.5L450 837.5L450.1 838.1L452 838.3L451.5 839L450.5 839.8L450.8 840.4L451.2 840.9L450.7 841.6L452.5 841.9L451.6 842.7L451.2 843.4L452.2 843.8L452.1 844.4L451.6 845.1L451.9 845.7L452.3 846.2L452 846.9L453.6 847.2L453.5 847.8L456.7 848L453.9 849L452.3 849.8L452.7 850.4L454 850.8L454.2 851.4L453.3 852.1L454 852.6L453.3 853.3L454.6 853.8L454.4 854.4L454.3 855L453 855.8L453 856.4L453.4 857L453.6 857.5L453.5 858.1L453.3 858.8L453.8 859.3L453.4 860L454.3 860.5L455.1 861L453.8 861.7L455.3 862.2L453.7 862.9L453.9 863.5L454.1 864.1L455.4 864.7L454.8 865.3L455.5 865.9L455.6 866.5L455.4 867.1L455.3 867.7L454.3 868.3L455.6 868.9L454.4 869.5L454 870.1L455.7 870.7L454 871.3L453.8 871.9L454.4 872.5L454.6 873.1L453.8 873.7L455.5 874.3L453.9 874.9L455.2 875.5L455.2 876.1L453.9 876.7L453.9 877.3L454.3 877.9L455.4 878.6L454.5 879.1L453.7 879.7L454.1 880.3L454.4 880.9L453.5 881.5L454.6 882.1L453.7 882.7L454.2 883.3L453.9 883.9L453.9 884.5L456.4 885.3L453.9 885.7L453.5 886.3L453.3 886.9L454 887.5L454 888.1L453.6 888.7L453.3 889.3L454.8 890.1L453.3 890.5L454.1 891.2L453.5 891.7L452.9 892.2L453.5 892.9L454 893.6L453.2 894.1L453.7 894.8L453.1 895.3L452.5 895.8L455.4 896.9L451.9 896.9L453.4 897.8L451.7 898.1L452.2 898.8L451.6 899.3L451.5 899.9L452.5 900.7L455.1 901.8L451.3 901.7L452.4 902.5L452.4 903.1L452.4 903.8L450.8 904.1L451 904.7L450.5 905.2L450.3 905.8L450.2 906.4L450.2 907L452.7 908.2L450.3 908.2L450.4 908.9L450.2 909.5L450.3 910.1L450 910.6L450.2 911.3L449.4 911.7L449 912.2L449.7 913.1L448.4 913.3L448.4 914L448.9 914.7L448.8 915.3L448.7 915.9L447.7 916.2L447.7 916.9L448.8 917.8L447 917.9L447.8 918.8L446.9 919.1L446.4 919.6L447.9 920.7L447.3 921.2L446.5 921.5L446.4 922.1L445.5 922.5L446 923.3L446.7 924.1L445.9 924.5L444.7 924.7L446.1 925.8L444.2 925.8L445.6 927L444.8 927.3L444.4 927.8L443.4 928.1L443.2 928.6L444.3 929.7L444.2 930.3L442.8 930.4L444 931.5L442.9 931.7L443.5 932.6L444.5 933.7L442.9 933.7L441.8 933.9L441.5 934.4L441.6 935.1L441.9 935.9L440.8 936.1L441.1 936.8L440.1 937.1L439.9 937.6L439.4 938.1L439.9 939L439.4 939.4L439.4 940.1L439.6 940.8L438.7 941L438.5 941.6L438.1 942.1L437.4 942.4L437.3 943L436.7 943.4L436.9 944.2L436.3 944.5L436.2 945.1L436.3 945.9L435.3 946L434.9 946.5L435.6 947.6L435.7 948.3L434.3 948.2L434.2 948.9L433.5 949.2L433.3 949.7L433.9 950.8L433 950.9L432.7 951.5L432.8 952.2L432.9 953L431.5 952.9L432.3 954L431.4 954.2L430.5 954.3L430.8 955.2L430.8 955.9L430 956.2L430.4 957.1L429.1 957L429.6 958L428.5 958L429.1 959.2L428.5 959.5L428.3 960.1L427.9 960.5L427.3 960.8L427.7 961.8L426.2 961.5L426.7 962.6L425.2 962.3L424.8 962.8L424.6 963.4L424.6 964.1L423.8 964.2L423.8 965L423.9 965.8L426.5 968.5L422.5 966.2L423.2 967.5L421.7 967.2L421.9 968L422 968.9L420.5 968.5L421.4 970L420.6 970.1L419.6 970.1L419.2 970.5L418.8 971L419.5 972.3L419 972.7L417.5 972.3L418 973.4L416.9 973.3L417.4 974.5L416.2 974.3L416.7 975.4L415.3 975.1L416 976.5L414.6 976.1L414.8 977.1L414.7 977.7L416.3 980L413 977.8L412.7 978.3L412.1 978.6L412.7 980L412 980.2L411.9 981L410.9 980.8L410.6 981.3L410 981.6L409.2 981.6L408.6 981.9L408.6 982.7L408.3 983.3L407.5 983.3L407.6 984.3L407.1 984.7L407.1 985.5L406.3 985.5L405.4 985.5L404.9 985.8L404.4 986.2L404.5 987.2L404.3 987.9L403.3 987.6L403.2 988.4L402.2 988.2L402.5 989.4L402.4 990.2L401 989.5L400.4 989.8L400.7 991L400.2 991.4L399 990.9L399.4 992.3L398.7 992.5L397.8 992.3L397.7 993.1L397.3 993.5L396.7 993.8L395.9 993.8L395.3 993.9L397.2 997.3L395.4 996L394.6 995.9L393.8 995.8L393.1 996L392.5 996.1L392.5 997.2L391.8 997.3L391.8 998.2L390.7 997.7L391.1 999.3L389.9 998.7L389.7 999.4L389 999.5L388.1 999.3L388 1000.2L387.2 1000L386.9 1000.7L386.5 1001.2L386.3 1001.9L385.5 1001.8L384.7 1001.8L385.1 1003.3L384 1002.8L383.9 1003.8L383.3 1003.9L382.6 1003.9L381.8 1003.9L381.8 1004.9L380.9 1004.6L380.7 1005.4L379.8 1005.1L379.6 1006L379.4 1006.9L378.3 1006.1L377.6 1006.1L377.4 1006.9L377.1 1007.6L376.6 1008.1L375.6 1007.4L376 1009.3L374.8 1008.5L374.1 1008.5L373.5 1008.7L373 1008.9L373.4 1010.9L372.5 1010.5L372.4 1011.6L371.4 1011.1L371.1 1011.8L370.1 1011.1L369.6 1011.5L369.4 1012.4L368.4 1011.7L368.4 1013.1L367.6 1012.9L366.8 1012.7L366.5 1013.5L365.8 1013.2L365.2 1013.5L365 1014.4L364.4 1014.7L363.7 1014.4L363 1014.4L362.7 1015.3L361.8 1014.8L361.2 1014.9L362.6 1019.5L360.1 1015.2L359.7 1015.9L359.7 1017.4L358.6 1016.2L358.1 1016.6L357.5 1016.7L358.5 1021L357 1018.8L355.7 1017L355.1 1017.3L355.2 1019.3L354.5 1019.1L353.9 1019.1L353.1 1018.8L352.3 1018.4L352.3 1020.2L351.7 1020.2L351 1019.9L350.5 1020.3L349.9 1020.6L349.5 1021.2L348.7 1020.6L348 1020.5L347.4 1020.8L346.9 1021L346.5 1021.7L346.1 1022.4L345.6 1022.9L344.5 1021.3L344.2 1022.5L343.4 1022L342.7 1021.7L342.4 1022.7L341.5 1021.9L341.1 1022.5L340.5 1022.8L339.9 1022.7L339.7 1024.3L338.7 1023L338.2 1023.3L337.5 1023.3L337.3 1024.8L336.5 1024.1L335.8 1023.8L335.4 1024.7L334.6 1023.8L334.5 1026L333.8 1025.7L333.2 1025.8L332.5 1025.5L331.7 1024.6L331.1 1024.5L330.6 1025.1L330 1025.1L329.7 1026.9L328.8 1025.3L328.5 1027.1L327.7 1025.9L327.1 1026L326.5 1026.3L325.9 1026.1L325.3 1026.1L324.7 1026.1L324.3 1027.3L323.5 1026.1L323 1027.3L322.3 1026.5L321.7 1026.6L321.2 1027.4L320.5 1026.5L320 1027.3L319.5 1027.8L319 1028.8L318.5 1029.4L317.6 1027.3L317 1027.1L316.5 1028.1L315.8 1027.7L315.2 1027.5L314.7 1028.6L314.1 1029L313.5 1028.8L312.9 1029.2L312.4 1029.6L311.6 1028.1L311 1027.6L310.4 1027.9L309.9 1028.5L309.3 1029.7L308.7 1029.9L308 1027.9L307.4 1028.4L306.9 1030L306.2 1028.4L305.7 1028.8L305.1 1030.2L304.5 1029.8L303.8 1028.6L303.3 1028.9L302.6 1028.4L302.1 1029.5L301.5 1029.7L300.9 1029.5L300.3 1030L299.7 1030L299 1029.4L298.4 1028.1L297.8 1029.3L297.2 1029.1L296.6 1028.2L296 1028.8L295.4 1028.7L294.8 1029.7L294.2 1028.5L293.6 1028.3L293 1028.4L292.4 1028.7L291.9 1028.1L291.2 1029.8L290.7 1028L289.9 1030.2L289.4 1029.2L288.9 1028.1L288.2 1029.4L287.5 1031L287 1028.7L286.5 1027.7L285.8 1028.4L285.2 1029L284.5 1029.6L284.1 1027.6L283.5 1027.9L282.9 1027.3L282.3 1027.5L281.7 1027.6L281.1 1027.5L280.5 1027.6L279.9 1027.2L279.3 1027.2L278.6 1028.3L277.9 1028.5L277.5 1027.2L277 1026.7L276.3 1027.4L275.5 1028.8L275.1 1027.1L274.6 1026.4L273.9 1026.9L273.2 1027.6L272.8 1026.1L272 1027.2L271.4 1027.2L270.9 1026.4L270.2 1027.4L269.9 1025.6L269.3 1025.4L268.3 1027.5L267.7 1027.2L267 1027.9L266.8 1025.7L266.4 1024.8L265.7 1025.2L265 1025.6L264.5 1025.1L263.7 1025.9L263.3 1024.9L262.8 1024.1L262.1 1024.7L261.5 1024.4L261 1024.1L260.2 1024.8L259.8 1023.8L258.9 1024.8L258.4 1024.5L258 1023.6L257.5 1023.2L256.6 1024.3L255.9 1024.4L255.9 1022.3L255.3 1022.1L254.4 1023L253.6 1023.6L253.5 1022.1L252.7 1022.7L252 1022.8L250.8 1024.5L251 1021.9L250.2 1022.4L249.9 1021.3L249.1 1021.9L248.9 1020.6L248.2 1020.7L247.7 1020.3L247.2 1020.1L246.2 1020.9L246.1 1019.4L245.6 1019.1L244.7 1019.8L244.4 1018.9L243.9 1018.5L243.1 1019L242 1020.1L242 1018.5L241.7 1017.6L240.9 1018L240.6 1017.1L239.9 1017.2L239.2 1017.4L238.4 1017.9L238.1 1017L237.5 1016.8L236.8 1016.9L236.3 1016.6L235.3 1017.2L235.2 1016.1L234.2 1016.8L234 1015.7L233.6 1015.1L232.8 1015.4L232.2 1015.3L231.7 1015.1L231.8 1013.4L231.1 1013.4L230.7 1012.9L230.1 1012.7L228.8 1014L228.9 1012.5L228.2 1012.5L227.2 1013.2L227.1 1012.1L226.6 1011.8L225.9 1011.8L225.4 1011.3L225.2 1010.5L224.2 1011.1L224.1 1009.9L223.8 1009.4L222.9 1009.6L222.1 1009.9L222.2 1008.6L220.8 1009.8L220.2 1009.7L220.3 1008.2L220.2 1007.2L218.8 1008.4L218.7 1007.4L217.8 1007.7L218 1006.2L217.5 1005.8L216.7 1006L215.9 1006.1L215.5 1005.7L215.5 1004.5L214.9 1004.3L213.8 1005.1L213.3 1004.6L212.3 1005.1L212.7 1003.3L211.5 1004L211.2 1003.4L211.3 1002.2L209.8 1003.4L209.4 1002.9L209.2 1002.1L208.8 1001.7L208.1 1001.5L207.7 1001L208.1 999.5L207.5 999.2L206.8 999.3L205.4 1000.1L205.5 998.9L205.2 998.3L204.1 998.9L203.7 998.3L204.1 996.8L202.7 997.7L202.4 997L201.4 997.4L202.1 995.5L200.9 996.1L200.3 995.8L199.8 995.5L199.6 994.7L197.6 996.3L198.9 993.7L198.8 993L198 992.9L196.6 993.6L196.8 992.5L197.1 991.1L195.7 991.9L195.1 991.6L195.4 990.4L195.2 989.7L193.5 990.8L193.7 989.6L190.2 992.6L193.6 988L191.9 988.9L192 987.9L191.6 987.4L191.6 986.6L191.3 986L189.6 986.9L189.8 985.8L189.5 985.3L189.6 984.3L188.1 985L188.6 983.6L189.1 982.9A155.2 155.2 0 1 0 311.4 717.7Z" fill="#e01818"/>
<path d="M311.2 719.4L311.9 718.6L312.5 718.5L312.9 720L313.5 720.1L314.2 718.9L314.7 719.9L315.4 719.5L315.9 720.1L316.6 719L317 720.8L317.7 719.9L318.3 720.1L318.8 720.2L319.5 719.5L320 720.3L320.7 719.4L321.1 720.7L321.7 720.6L322.2 721.7L323 720.2L323.6 720.1L324.2 720.1L324.1 724.4L325.4 720.2L325.9 720.8L326.6 720.4L326.8 722.6L327.7 721L328.2 721.4L328.8 721.6L329.1 723L329.8 722.2L330.3 723.1L330.8 723.5L331.4 723.3L332.4 721.8L332.9 722.2L332.1 727.8L334.1 722L334.6 722.4L334.8 724.5L335.7 723.2L336.2 723.4L337 722.7L337.3 723.9L337.8 724.3L338.6 723.7L338.9 724.7L339.8 723.8L340.3 724.1L340.4 726.1L341.3 725.1L342 724.7L342.6 724.8L343.3 724.6L343.6 725.4L344.1 725.9L342.2 733.8L344.9 727.3L345.7 726.8L346.7 725.7L346.8 727L347.1 728L348.4 726.2L348.6 727.3L349.2 727.3L349.8 727.5L349.9 729L350.9 728L350.9 729.7L351.6 729.3L352.6 728.5L353.1 728.9L353.4 729.7L354 729.8L355.1 728.6L355 730.3L355.6 730.4L356.5 729.7L356.5 731.5L357 731.7L358.1 730.6L358.5 731.2L358.6 732.5L359.4 732L360.2 731.6L360.5 732.5L361.5 731.6L361.4 733.3L362.5 732.4L362.2 734.4L362.9 734.4L364.1 733.1L364.7 733.3L364.3 735.4L365.3 734.8L366.3 734L366.8 734.3L366.5 736.2L367.2 736.2L366.1 739.6L368.7 735.8L369.6 735.4L369.3 737.1L365.5 745.6L370.4 737.6L370.9 737.9L371.3 738.3L372.6 737.2L372.6 738.4L373.2 738.6L373.4 739.5L374.3 739L374.2 740.4L375.8 738.8L376.3 739.1L376 740.8L377.2 740L377.4 740.8L378.1 740.8L377.8 742.4L378.9 741.7L379.5 741.8L379.6 742.8L380.5 742.6L380.1 744.1L381.7 742.8L382.4 742.9L382.6 743.6L383 744L382.9 745.3L384 744.6L384.5 745L384.7 745.7L385.7 745.3L385.8 746.3L383.1 751.2L386.9 746.7L386.6 748.1L388.2 747L387.5 748.9L388.2 749L388.8 749.1L389.6 749L390.5 748.9L390.8 749.4L391.5 749.5L391 751.1L391.2 751.8L389.1 755.5L392.1 752.6L393.6 751.6L394.4 751.6L394.1 752.9L394.3 753.6L394.4 754.4L395 754.6L396.7 753.4L397.1 753.9L397.7 754.1L397.5 755.3L398.3 755.2L399 755.2L399.3 755.8L398.9 757.2L399.7 757.2L399.4 758.4L400.5 758L401.4 757.9L400.9 759.4L402.6 758.4L402.5 759.3L402.9 759.9L403 760.6L404.3 760L404.5 760.7L404.2 761.9L405.6 761.3L405.6 762.1L405.1 763.5L405.9 763.5L406.1 764.1L407.7 763.3L407.8 764.1L407.6 765.1L408 765.6L409 765.4L409.7 765.5L405.4 770.5L410.5 766.4L410.6 767.2L410 768.5L410.4 768.9L411.6 768.6L411.9 769.2L412.2 769.7L412.2 770.5L412.9 770.7L413.7 770.7L413.3 771.9L414.8 771.3L415.2 771.7L415.7 772.1L416.1 772.6L416.4 773.1L416.2 774L416.4 774.7L417.5 774.5L417.9 774.9L417.6 776L418.7 775.8L419 776.4L419.1 777L419.1 777.8L418.7 778.8L420.5 778.2L419.6 779.6L420.3 779.8L421.2 779.9L422 780L421.5 781.1L420.3 782.8L422.6 781.8L422.2 782.8L422.6 783.2L423.9 783L424.5 783.3L423.1 785L423.6 785.4L424.8 785.3L425.6 785.4L424.7 786.8L424.8 787.4L425.2 787.8L425.6 788.3L426.6 788.3L426.1 789.4L426.7 789.7L428 789.5L428.4 790L428.8 790.5L429.4 790.8L428.5 792L429.8 791.9L430.3 792.3L430.6 792.8L429.1 794.4L430.2 794.4L429.9 795.3L431.5 795L426.9 798.4L432.4 795.9L432.5 796.5L431.8 797.6L429.9 799.3L433.5 798L433.2 798.8L433.9 799.1L432.7 800.5L433.5 800.7L433.5 801.3L433.9 801.8L435.2 801.8L434.8 802.7L435.4 803L435.8 803.5L435.1 804.5L435.5 805L436.9 804.9L436.8 805.6L437.3 806L436.9 806.9L436.2 807.9L436.8 808.2L438.1 808.3L438.4 808.8L434.9 811L438.6 810L439 810.5L438.3 811.4L438.6 811.9L439.6 812.1L439.7 812.7L440.6 813L440.1 813.9L440.9 814.1L440.1 815.1L441 815.4L441.1 816L441.6 816.4L440.9 817.3L442.3 817.4L441.7 818.3L438.6 820.1L441.9 819.5L443 819.7L441.6 820.8L442 821.3L443.6 821.4L443.2 822.1L443.5 822.7L444.3 823L443.5 823.9L443.1 824.7L444.5 824.8L445.1 825.2L445 825.9L443.9 826.8L444.3 827.4L444.8 827.8L444.2 828.6L445.9 828.7L445.8 829.4L446.5 829.8L446.2 830.5L446.1 831.1L445.9 831.8L447.3 832L447 832.7L446.8 833.4L446.4 834.1L447.4 834.4L447.3 835.1L448.2 835.5L448.3 836L446.4 837.1L448 837.3L447.5 838.1L446.9 838.8L448.7 839L448.9 839.6L448.9 840.2L449 840.7L449.4 841.3L449.6 841.8L449.3 842.5L449.8 843L449.4 843.7L449.2 844.3L448.6 845L448.9 845.6L450.1 846L448.8 846.8L450.2 847.2L450 847.8L449.4 848.5L449.9 849L448.9 849.8L448.9 850.3L449.4 850.9L450.9 851.3L449.5 852L450.3 852.5L450.1 853.1L449.9 853.8L450.3 854.3L450.8 854.8L451.7 855.3L450.2 856.1L450.7 856.6L451.6 857.1L451 857.8L450.2 858.4L451.9 858.9L450.2 859.6L452 860.1L452 860.7L451.1 861.3L452.3 861.8L447.2 862.8L451.1 863.1L450.5 863.7L450.6 864.3L450.4 864.9L452.4 865.4L452 866L452 866.6L452 867.2L450.8 867.8L452.5 868.4L450.6 869L452.4 869.6L451.2 870.2L451.3 870.7L450.5 871.3L451.4 871.9L452.4 872.5L452.5 873.1L452.2 873.7L450.7 874.3L449.5 874.8L452.1 875.5L452.1 876.1L445.8 876.5L450.9 877.2L450.5 877.8L452.1 878.4L452.1 879L452.2 879.6L449.5 880.1L451.4 880.8L450.3 881.3L451.3 881.9L450.7 882.5L451.5 883.1L449.5 883.6L449.2 884.1L448.5 884.7L451.3 885.5L451.8 886.1L446 886.2L449.9 887.1L449.4 887.7L451.6 888.5L449.3 888.8L448.7 889.4L448.7 889.9L450.3 890.7L449.9 891.3L451.3 892L448.7 892.3L449.6 893L448.4 893.4L449.1 894.1L447.8 894.5L450.6 895.5L450.5 896.1L449.2 896.5L448.9 897.1L450.4 897.9L448.2 898.1L448.3 898.8L449.3 899.5L449.2 900.1L447.2 900.3L449.4 901.3L448.7 901.8L447.8 902.2L448.5 903L448 903.5L447.7 904L447.8 904.6L447.9 905.3L447.4 905.8L445.9 906L447.8 907L447.6 907.6L448.2 908.4L447.7 908.8L446.7 909.2L447.9 910.1L444.9 910L445.7 910.8L445.8 911.4L446.9 912.3L444.4 912.2L444.8 913L444.1 913.4L444.1 914L446.3 915.2L445.9 915.7L444.7 916L445.8 916.9L444.5 917.1L443.3 917.4L445.4 918.7L443.9 918.8L438 917.5L442.4 919.5L444.4 920.8L444.2 921.4L442.6 921.5L441.6 921.8L441.1 922.2L440.9 922.7L443.4 924.2L442.7 924.6L442.3 925.1L440 924.9L441.6 926.1L441.5 926.7L442 927.5L439.2 927.1L439.5 927.8L441.1 929.1L439.5 929.1L440.5 930.1L438.4 929.9L436.8 929.9L440.4 932L440.1 932.5L439.5 932.9L439.8 933.6L438.2 933.6L438.1 934.2L438.3 935L437.4 935.2L437.6 935.9L436.9 936.2L436.9 936.9L437.9 938L435.1 937.3L435.3 938.1L436.1 939.1L436.7 940.1L436.2 940.5L435.6 940.8L433.4 940.4L433.1 940.9L434.3 942.1L435.3 943.3L434.6 943.6L432.9 943.4L434 944.6L433.5 945.1L432.7 945.3L431.7 945.5L433.2 946.9L432.4 947.2L430.9 947L431.8 948.2L429.5 947.6L431.5 949.4L429.6 948.9L431.2 950.6L430.6 950.9L430.6 951.6L429 951.3L429.5 952.3L429.7 953.1L429.2 953.5L426.8 952.7L427.3 953.7L427.6 954.6L426.4 954.5L427.5 955.9L425.2 955.1L426.2 956.5L425.7 956.9L425.6 957.5L423.7 956.9L425.3 958.7L425.3 959.4L424 959.3L424.4 960.3L423.5 960.4L422.9 960.7L423.8 962L422.1 961.5L422.9 962.8L420.4 961.7L422.2 963.8L421.4 963.9L421.6 964.9L419.8 964.2L419.4 964.7L414.6 961.7L419.4 966.1L418.4 966.1L417.6 966.2L417 966.5L417.6 967.7L417.3 968.2L416.5 968.3L416.6 969.1L415.8 969.2L416.8 970.9L414.9 970L414 970.1L415.4 972L414.9 972.3L414 972.4L413 972.2L412.5 972.6L413.5 974.3L411.8 973.5L413.1 975.5L410.8 974.2L412 976.1L407.3 972.6L410.2 976L411 977.6L408.6 976.1L409.3 977.6L409.1 978.2L407.7 977.8L408 978.9L407.3 978.9L406.3 978.8L407.1 980.4L407.2 981.3L405.4 980.4L405.5 981.3L405.5 982.2L405.5 983L403.6 981.9L404.4 983.5L401.8 981.7L402.4 983.2L403.3 985L401.7 984.1L402.6 986L401.3 985.4L400.1 985L401.1 987L400.7 987.4L400.2 987.8L398.8 987.1L397.6 986.6L397.8 987.7L398.7 989.6L397.7 989.4L396.7 989L397.1 990.4L395.7 989.7L395.2 990.1L394.4 990L393.7 990.1L394 991.4L393.9 992.1L393.9 993.2L392.6 992.5L392.9 993.8L391.1 992.3L392.1 994.6L390.8 994L391 995.2L389.1 993.7L389.6 995.3L389.3 995.9L389 996.4L388.1 996.2L387.8 996.8L387.7 997.6L386.5 997L386.4 997.9L384.8 996.6L384.3 996.9L384.1 997.6L384.6 999.4L383.8 999.4L384 1000.7L382.9 1000.1L382.9 1001.2L381.4 1000L381.1 1000.5L380.6 1000.9L379.4 1000.1L380.5 1002.9L379.9 1003.1L377.9 1001L378.2 1002.5L378.3 1003.8L377.1 1003L376.3 1002.8L375.8 1003.1L375.9 1004.5L375.4 1004.8L374.6 1004.6L374.8 1006.1L374 1005.9L373.6 1006.4L372.9 1006.3L369.2 1000.8L370.9 1005L370.8 1006.2L371.2 1008.1L370.2 1007.6L368.2 1005L368 1005.9L369.1 1009.3L367 1006.4L365.2 1004.2L365.6 1006.2L366.8 1010L365.8 1009.2L365.7 1010.5L360.6 1001.3L361.8 1004.9L363.1 1009L363.3 1010.9L363.2 1012.1L361.9 1010.5L360.8 1009.6L360.6 1010.6L360.7 1012.1L359.8 1011.6L358.9 1011.1L359.4 1013.6L357.1 1009.9L357.7 1012.6L357.8 1014.3L356.9 1013.9L352.8 1005.3L354.8 1011.9L354.7 1012.9L353.9 1012.7L354.2 1014.9L353.9 1015.9L351.8 1012L352.5 1015.6L352.3 1016.5L349.5 1010.7L350.8 1015.9L350.6 1017.2L349.9 1017L348 1013.4L348.7 1017.1L348.2 1017.3L347 1015.7L346.7 1016.8L346.6 1018.3L346.1 1018.5L342.8 1010.5L344.7 1018.1L344.3 1018.8L343.3 1017.5L341 1012.1L342.6 1019.4L342.2 1019.9L341.6 1020.1L340.8 1019.6L339.7 1017.8L339.2 1018.2L338.2 1016.7L337.3 1015.7L337.3 1017.6L337.4 1020.5L336.6 1019.6L336.1 1019.9L335.7 1020.9L334 1016.3L333.7 1017.5L333.1 1017.6L333 1019.9L332.2 1018.9L331.5 1018.2L331.2 1019.5L331.1 1021.9L330.7 1022.8L329.5 1020.1L328.8 1019.4L329 1023.2L328.3 1022.7L326.9 1018.9L326.4 1019.3L326.1 1020.5L326.1 1023.6L325.3 1022.6L324.5 1021.4L324 1022.4L323.5 1022.8L322.8 1022.1L321.9 1020L322 1024.7L321 1021.7L320.9 1024.9L319.8 1021.5L319.6 1024.7L319.1 1024.8L318.5 1025L316.6 1014.9L316.8 1020.9L316.6 1024.4L316 1024L315.4 1024L314.9 1024.5L314.4 1025.7L313.4 1022.2L312.9 1023L312.5 1024.1L311.8 1023.2L311.4 1025.7L310.6 1023.2L310.2 1025.2L309.3 1021.3L308.8 1021.9L308.5 1025.9L307.9 1026.2L307.3 1026.3L306.6 1024.9L305.9 1021.5L305.4 1024.2L304.7 1021.6L304.2 1023.6L303.6 1021.7L303.1 1023.9L302.5 1024.8L301.9 1024.5L301.4 1026.5L300.7 1022.9L300.1 1022L299.6 1026.2L299 1026.5L298.4 1025.9L297.8 1025.5L297.3 1024.4L296.7 1025.8L296.1 1023.4L295.5 1025.5L294.9 1024.4L294.3 1025.1L294 1016.4L293.1 1025.9L292.6 1025L292 1024.9L291.5 1022.9L290.8 1025.6L290.2 1024.6L289.6 1026.1L289.1 1023.9L288.5 1024.5L287.9 1025.1L287.2 1025.8L287.1 1019.4L286.5 1019.1L285.8 1021.7L285 1023.9L284.3 1024.8L284 1022.2L283 1025.9L282.6 1024.8L281.9 1025.8L281.4 1024.4L280.9 1023.9L280.4 1023.2L279.7 1023.8L278.9 1025.5L278.4 1025L277.9 1023.8L277.3 1024.5L277.1 1021.4L276.6 1020.9L275.8 1022.4L275.1 1023.1L274.6 1022.1L273.7 1024.2L273.1 1024.1L272.8 1022.5L272.4 1021.2L272 1020.4L270.8 1024L271.6 1015.9L271.3 1014.8L269.2 1022.9L269 1020.9L268.4 1020.7L267.5 1022.2L268.1 1016.5L266.8 1019.9L265.6 1022.5L265 1022.5L264.5 1022.3L264.5 1019.3L263.5 1021.3L263.5 1018.8L262.7 1019.7L261.9 1020.4L261.8 1018.2L261.2 1018.3L260 1020.6L260.2 1017.8L258.9 1020.1L258.2 1020.6L257.6 1020.5L257 1020.4L256.6 1019.8L256.9 1016.5L255.4 1019.9L254.9 1019.2L255.2 1016.3L254 1018.3L252.9 1019.9L253.3 1016.6L251.8 1019.4L251.4 1018.7L251.1 1017.8L250.5 1017.8L249.7 1018.3L249.3 1017.6L249.7 1014.4L247.9 1018.1L248.7 1014L247.2 1016.5L246.2 1017.5L247.1 1013.2L246 1014.5L245.1 1015.4L244 1016.5L243.6 1016L243.1 1015.6L244 1011.8L241.9 1015.4L242.5 1012.4L241.4 1013.5L240.7 1013.8L241.2 1011L240 1012.3L239 1013.2L238.9 1012L237.5 1013.6L237.5 1012.2L237 1011.9L235.9 1013L235.2 1013L234.6 1013L234.3 1012.3L234.4 1010.5L233.5 1011.1L233.2 1010.4L232.3 1010.8L233 1008L230.8 1011.2L231.2 1009.2L230.1 1010L230.1 1008.7L230.5 1006.6L228.4 1009.4L228.5 1007.9L227.9 1007.9L231.6 999.6L226.6 1007.8L227.3 1005.3L225.3 1007.7L224.8 1007.4L225.2 1005.5L224.3 1005.8L222.9 1007.2L224.4 1003.4L222.5 1005.6L222.3 1004.7L223.1 1002.1L222.6 1001.8L222.2 1001.5L220.8 1002.7L219.7 1003.3L222.8 997.1L218.2 1003.5L218.2 1002.5L218.5 1000.8L216.4 1003L216.4 1001.9L216 1001.5L216.4 999.9L215.2 1000.6L215 999.8L215.6 997.8L213.9 999.4L214.5 997.3L212.3 999.7L211.6 999.6L210.9 999.6L212.9 995.7L210.5 998.2L215.3 990.3L209.5 997.5L208.6 997.7L212.2 991.8L210.1 993.6L207.9 995.7L207.7 995L206 996.2L206.4 994.7L205.4 995.1L206.8 992.3L206.3 992L204.6 993.3L205.6 990.9L203.3 993L203.1 992.3L204.3 989.8L201.7 992.1L202.3 990.5L200.6 991.7L201.1 990.1L200.6 989.8L200.1 989.4L201.1 987.3L199.8 988L200.1 986.7L198.3 988L198.4 987L199.6 984.7L197.7 985.9L196.7 986.3L195 987.2L195.7 985.6L197 983.3L196 983.5L194.1 984.8L194.9 983L194.3 982.8L193.7 982.6L191.5 984L193.8 980.8L191.6 982.3L192 981L190.4 981.8L189.1 982.9A155.2 155.2 0 1 0 311.4 717.7Z" fill="#1a1ae8"/>
<path d="M309.8 735.3L310.6 732.6L310.9 735L311.6 733.5L312.2 732.9L313.6 725.2L313.5 731.4L313.5 736.2L314 736.4L314.9 732.7L315.4 733.7L315.6 736.1L316.7 731.9L316.6 736.6L317.1 736.6L319 727.1L318.2 736.3L319.2 733.3L319.9 732.5L319.7 737L320.3 736.7L321.4 733.2L321.2 737.5L321.8 737.5L323.2 732.5L322.9 737.3L323.7 736L324.5 734.4L324.9 735.2L325.1 737.1L325.5 737.7L326 737.8L327.2 734.6L327.6 735.5L328.7 733L329.1 733.8L328.4 739L329.4 737.3L330.4 735.1L330.8 735.9L330.7 738.7L331.1 739.3L332.6 735.2L332.7 737.3L332.7 739.4L333.2 739.4L333.7 739.8L335.2 736L334.7 740L335.3 739.6L335.6 740.7L337.1 737.5L337.8 736.9L337.5 739.9L339 736.8L338.1 741.6L339.3 739.2L339.3 741.1L340 740.7L341.2 738.8L340.7 742L341.1 742.4L341.8 742.1L343.3 739.4L344 738.7L344.1 740.1L343.7 742.8L344.2 743.2L346.8 737.5L345.2 743.6L346.2 742.4L347.2 741.1L347.2 742.6L347 744.6L348.7 741.7L348 745L348.6 744.8L350.6 741.4L350.4 743.3L351.5 742L351.9 742.4L352.2 743.2L352 744.8L352.1 746.1L352.5 746.5L354 744.4L353.3 747.3L357.8 738.5L356 743.9L356.6 743.8L355.8 746.8L355.8 748L356.8 747.2L358.9 744.1L357.2 748.8L358.8 746.8L358.3 749L360.3 746.1L360.8 746.3L361.6 746L361.3 747.8L362 747.6L361.5 749.7L362.6 748.6L362.7 749.7L363 750.3L364.7 748.2L364.8 749.2L364.3 751.3L365.9 749.5L366.9 748.6L365.1 753L368 749L368.2 749.7L366.4 753.9L367.9 752.4L367.6 754L370.2 750.7L369.1 753.5L368.9 754.8L370.9 752.6L370 755.1L371.5 753.6L373.2 751.9L372 754.9L372.5 755L374.7 752.7L373.8 755.1L373.1 757.1L374.2 756.3L374.2 757.3L375.4 756.5L374.4 759L375.5 758.2L377 757L377.1 757.8L377.8 757.8L378.4 757.8L378.7 758.3L379.2 758.5L379.3 759.3L379.3 760.3L379 761.5L379.4 761.9L380.4 761.5L380.2 762.6L382.7 760.2L382.4 761.4L382.4 762.3L384.7 760.3L384.3 761.6L382.7 764.5L385.5 761.9L385.3 762.9L383.8 765.6L385.1 764.9L392.2 757.1L385.4 766.3L387.5 764.5L388.4 764.2L388.7 764.7L387.6 766.8L389.2 765.8L388.7 767.2L389.2 767.4L389.3 768.2L391.4 766.5L389.6 769.5L392 767.6L392.9 767.4L393.5 767.5L395.3 766.3L393.1 769.6L391.9 771.6L397.1 766.8L392.1 772.9L392.9 772.8L392.8 773.7L396.5 770.6L397.9 770L394.8 773.9L395.7 773.8L396.8 773.4L398.1 772.9L395.8 775.9L397.7 774.8L398.6 774.7L399.3 774.8L399 775.8L399.4 776.2L399.7 776.6L400.3 776.7L398.8 778.9L398.7 779.7L399.7 779.5L399.6 780.3L400.7 780.1L404 777.8L403.9 778.6L401.6 781.4L402.7 781.1L402.2 782.2L403.1 782.2L403.1 782.9L406 781.1L406.7 781.2L403.1 784.9L404.8 784.2L405.8 784L404.5 785.8L405.4 785.7L408.4 784L406.5 786.2L405.7 787.6L408.2 786.2L408.1 787L406.8 788.7L408.9 787.8L407.1 789.8L409.1 788.9L408.3 790.2L409 790.3L408.3 791.5L408.8 791.8L409.6 791.9L410.8 791.7L409.8 793L413 791.4L413.4 791.8L413.5 792.4L414.8 792.2L413.8 793.5L414.1 794L415 794L412 796.6L414.3 795.7L420.8 792.1L417.1 795.2L417.6 795.5L414.1 798.4L418.1 796.5L414.5 799.4L416.4 798.8L416.3 799.5L417 799.7L416 800.9L417.9 800.4L417.8 801.1L420.2 800.3L420.4 800.8L418.9 802.3L421.1 801.7L421 802.4L420.7 803.2L417.4 805.6L417.9 805.9L418.9 806L420 806L419.1 807.1L419.3 807.6L419.1 808.3L419.8 808.5L419.5 809.3L421.2 809L420.2 810.1L423.5 809L420.8 811L422.6 810.7L427.9 808.6L421 812.6L423.9 811.8L421.7 813.4L423.1 813.4L422.1 814.5L422.4 814.9L424.1 814.7L424 815.3L423.9 815.9L429.1 814.2L423.5 817.2L424.3 817.5L428.6 816.2L427.1 817.4L424.3 819.2L426.9 818.7L427 819.2L426.1 820.2L424.9 821.2L426.1 821.3L426.5 821.7L428.8 821.4L428.7 822L429.9 822.1L427.3 823.7L430.8 822.9L431 823.5L429.8 824.5L427.3 826L431.2 825.1L428.7 826.6L430.2 826.6L431 826.9L428.2 828.4L432.5 827.6L428.6 829.4L432.7 828.6L432.5 829.3L433.3 829.6L430.9 830.9L430.3 831.6L429.1 832.6L429.9 832.9L433.3 832.4L429.3 834.2L430.9 834.3L431.1 834.7L430.2 835.6L429.9 836.2L431.1 836.4L432.5 836.6L433.7 836.8L434.6 837.1L432.4 838.2L436.8 837.7L431.8 839.5L435.4 839.2L435.6 839.7L431.7 841.1L432.2 841.6L435.6 841.3L431.5 842.8L434.2 842.8L435.2 843.1L438 843L436.8 843.9L434.1 845L436.4 845L436.5 845.6L437.6 845.9L432.7 847.4L435.6 847.4L434.5 848.1L434.6 848.7L433.9 849.3L434.9 849.7L438.1 849.7L435.2 850.7L434.2 851.4L435.7 851.7L434.7 852.4L434.3 853L433.5 853.6L437.4 853.6L436.7 854.3L434.7 855.1L438.9 855.1L435.6 856L437.3 856.4L433.9 857.3L439.3 857.3L437 858L439.1 858.4L434.4 859.4L439.4 859.4L434.3 860.4L434.7 860.9L435.5 861.4L437.2 861.8L436.9 862.3L436.1 862.9L434.6 863.6L435.2 864.1L436.2 864.5L434.7 865.1L435.2 865.6L438 866L441.5 866.4L436.1 867.2L435.6 867.7L435.2 868.3L435 868.8L441.6 869.2L435 869.9L437.7 870.3L435.6 870.9L439.8 871.4L438 872L436.1 872.5L439.4 873L434.8 873.5L435.1 874.1L436.8 874.6L439.8 875.2L436.7 875.7L438.6 876.3L438.6 876.8L439.3 877.4L437 877.8L436.5 878.3L435.3 878.8L437.2 879.5L442.6 880.3L437.3 880.5L438.2 881.1L436.2 881.5L435 882L438.5 882.8L439.2 883.4L434.2 883.5L434.2 884L434.4 884.6L434.5 885.1L435.3 885.7L434.4 886.2L436.8 886.9L438.4 887.6L438.9 888.3L438.3 888.7L441.1 889.6L435.6 889.5L442.8 891L436.2 890.6L435.5 891.1L438.7 892.1L437.7 892.5L435.4 892.7L434.1 893L438 894.2L437 894.6L436.7 895.1L433 895L435.4 895.9L433 896.1L437.3 897.4L433.4 897.2L437.4 898.5L435.6 898.7L432.7 898.7L437.2 900.1L435.4 900.3L436.3 901L432.4 900.8L433.6 901.6L434.7 902.3L435.7 903.1L432.2 902.9L433.3 903.7L432.8 904.1L434.9 905.2L433.9 905.5L432.6 905.7L434.9 906.9L431.7 906.6L431.6 907.1L434.6 908.5L431.5 908.2L432.2 908.9L431.6 909.3L433.8 910.5L430.6 910.1L433.2 911.4L431.4 911.5L429.8 911.5L429.6 912L429.7 912.6L429.7 913.2L429.7 913.7L433.1 915.4L428.8 914.5L430 915.5L431.4 916.5L432 917.3L432.4 918L427.9 917L427.2 917.3L430.8 919.2L428.5 918.9L430.2 920.1L428.6 920.1L430.8 921.5L427.6 920.9L425.9 920.8L428.5 922.3L426.7 922.2L427.4 923.1L425.1 922.7L428.2 924.6L426.8 924.6L427.3 925.3L428.7 926.5L426.3 926.1L427.8 927.3L426.3 927.2L424.5 927.1L425.3 928L425 928.4L423.5 928.3L425.2 929.7L424.4 929.9L423.6 930.1L422.2 930.1L422.2 930.6L423.6 931.9L421.7 931.6L421.1 931.9L423.6 933.7L422.7 933.8L420.4 933.2L421.7 934.5L422 935.2L421.6 935.7L423.8 937.4L420.2 936.2L421.2 937.2L416.9 935.6L416.7 936L416.4 936.5L416.2 937L415.9 937.4L415.8 937.9L415.5 938.3L415.2 938.7L415 939.2L414.6 939.6L414.4 940.1L414.2 940.6L413.9 941L413.6 941.4L413.4 941.9L413.1 942.3L412.9 942.8L412.5 943.2L412.3 943.7L412.8 944.6L411.7 944.5L411.5 945L411.2 945.4L410.9 945.9L410.6 946.2L410.4 946.7L410.1 947.2L409.8 947.6L409.4 948L409.2 948.4L408.8 948.8L408.5 949.2L410.3 951.1L408 950.1L407.7 950.5L408.7 951.9L407 951.3L406.8 951.8L406.4 952.2L406.1 952.6L405.9 953.1L405.6 953.5L405.3 953.9L404.9 954.2L404.7 954.7L404.3 955.1L403.9 955.5L403.6 955.9L403.3 956.3L403 956.7L402.7 957.2L402.4 957.6L402 957.9L401.6 958.3L401.4 958.7L401 959.1L400.7 959.5L400.4 959.9L400 960.3L399.7 960.7L399.4 961.1L399 961.5L398.7 961.9L398.4 962.3L397.9 962.6L397.6 963L397.2 963.3L396.9 963.8L397.6 965.1L396.2 964.5L395.8 964.9L395.5 965.2L395.2 965.7L394.8 966L394.4 966.4L394 966.7L393.7 967.2L393.4 967.5L393 967.9L392.6 968.2L393.9 970.3L391.9 969L391.5 969.3L391.1 969.7L390.8 970.1L390.4 970.4L390 970.7L389.6 971.1L389.2 971.4L388.8 971.8L388.5 972.2L388.1 972.5L387.7 972.8L387.3 973.2L388 974.8L386.5 973.8L386.1 974.2L385.7 974.5L385.3 974.8L384.9 975.2L384.6 975.6L384.2 975.9L383.7 976.2L383.4 976.6L382.9 976.8L382.5 977.1L382.1 977.5L381.7 977.8L381.3 978.1L380.9 978.4L380.6 978.8L380.1 979.1L379.7 979.4L379.3 979.7L378.9 980L378.5 980.4L378 980.6L377.7 981L377.2 981.3L376.8 981.5L376.4 981.9L376 982.2L375.6 982.5L375.1 982.8L374.7 983.1L374.2 983.3L373.8 983.6L373.4 983.9L373 984.2L372.6 984.5L372.1 984.8L373 987L371.2 985.3L370.8 985.7L371.4 987.6L370 986.2L369.5 986.4L369 986.7L368.7 987.1L368.2 987.3L367.8 987.6L367.3 987.8L366.9 988.1L366.4 988.4L366 988.6L365.5 988.9L365.1 989.2L364.7 989.4L364.2 989.7L363.7 989.9L363.2 990.1L362.8 990.4L362.4 990.7L361.9 990.9L361.5 991.2L361 991.4L360.5 991.6L360.1 991.9L359.6 992.1L359.1 992.3L358.7 992.6L358.2 992.8L357.8 993L357.3 993.3L356.8 993.5L356.4 993.7L355.9 993.9L355.4 994.1L355 994.4L354.5 994.6L354.1 994.9L353.5 995L353.1 995.3L352.6 995.4L352.2 995.7L351.7 995.8L351.2 996.2L350.7 996.2L350.3 996.5L349.8 996.8L349.3 996.9L348.8 997.2L348.3 997.2L347.9 997.5L347.4 997.7L346.9 997.8L346.4 998L345.9 998.2L345.4 998.4L345 998.6L344.5 998.8L344 998.9L343.5 999.2L343 999.2L342.6 999.5L342.1 999.7L341.5 999.7L341 999.9L340.6 1000.2L340.1 1000.3L339.6 1000.4L339.1 1000.6L338.6 1000.7L338.1 1000.9L337.6 1001.1L337.1 1001.3L336.6 1001.4L336.1 1001.5L335.7 1001.7L335.4 1002.7L334.6 1002L334.1 1002.1L333.7 1002.3L333.2 1002.4L332.6 1002.5L332.1 1002.6L331.7 1002.8L331.2 1002.9L330.6 1003L330.1 1003.1L329.7 1003.3L329.1 1003.3L328.6 1003.5L328.1 1003.6L327.6 1003.7L327.1 1003.9L326.6 1004L326.1 1004L325.6 1004.2L325.1 1004.3L324.6 1004.3L324.1 1004.5L323.6 1004.6L323.1 1004.7L322.5 1004.8L322 1004.8L321.5 1004.9L321 1005.1L320.5 1005.1L320 1005.2L319.5 1005.3L319 1005.4L318.5 1005.4L318 1005.5L317.4 1005.6L316.9 1005.6L316.4 1005.7L316.2 1008L315.4 1005.9L314.9 1005.9L314.4 1006L313.9 1006.1L313.4 1006.2L312.8 1006.2L312.3 1006.2L311.8 1006.4L311.3 1006.5L310.8 1006.4L310.3 1006.4L309.7 1006.6L309.2 1006.6L308.7 1006.7L308.2 1006.6L307.7 1006.7L307.2 1006.7L306.6 1006.7L306.1 1006.7L305.6 1006.7L305.1 1006.8L304.6 1006.9L304.1 1007L303.5 1006.9L303 1006.9L302.5 1006.9L302 1007.1L301.5 1006.9L301 1006.9L300.4 1007L299.9 1007L299.4 1007L298.9 1007.1L298.4 1007L297.9 1007L297.3 1007L296.8 1007.1L296.3 1007L295.8 1007.1L295.3 1007L294.8 1007.1L294.2 1006.9L293.7 1006.9L293.2 1006.9L292.7 1007L292.2 1006.9L291.7 1006.9L291.1 1006.8L290.6 1006.8L290 1007.9L289.6 1006.8L289.1 1006.8L288.6 1006.7L288 1006.7L287.5 1006.6L287 1006.6L286.5 1006.6L286 1006.5L285.5 1006.5L284.9 1006.4L284.4 1006.4L283.9 1006.2L283.4 1006.2L282.9 1006.2L282.4 1006.1L281.9 1006.1L281.3 1006.1L280.8 1005.9L280.3 1005.9L279.8 1005.7L279.3 1005.7L278.8 1005.6L278.3 1005.5L277.8 1005.5L277.3 1005.4L276.7 1005.3L276.2 1005.2L275.7 1005.2L275.2 1005.2L274.7 1005L274.2 1005L273.7 1004.8L273.2 1004.8L272.7 1004.6L272.1 1004.6L271.7 1004.4L271.1 1004.4L270.6 1004.2L270.1 1004.1L269.6 1003.9L269.1 1004L268.6 1003.7L268.1 1003.7L267.6 1003.5L267.1 1003.4L266.6 1003.4L266.1 1003.2L264.9 1005.7L265.1 1002.9L264.6 1002.8L264.1 1002.7L263.6 1002.6L263.1 1002.4L262.6 1002.3L262.1 1002.1L261.6 1002.1L261.1 1001.8L260.6 1001.7L260.1 1001.5L259.6 1001.5L259.1 1001.2L258.6 1001.1L258.1 1001L257.6 1000.8L257.1 1000.7L256.6 1000.5L256.1 1000.4L255.6 1000.2L255.2 1000L254.7 999.9L254.2 999.7L253.7 999.5L253.2 999.4L252.7 999.2L252.2 999.1L251.8 998.8L251.3 998.6L250.8 998.5L250.3 998.3L249.8 998.1L249.3 997.9L248.3 999L248.3 997.6L247.9 997.3L247.4 997.2L246.9 996.9L246.4 996.8L246 996.5L245.5 996.4L245 996.1L244.6 995.9L244 995.8L243.6 995.6L243.1 995.3L242.6 995.1L242.2 994.9L241.7 994.8L241.2 994.5L240.8 994.2L240.3 994L239.8 993.9L239.4 993.6L238.9 993.3L238.4 993.1L238 992.9L237 993.8L237 992.5L236.5 992.3L236.1 992L235.7 991.7L235.2 991.5L234.7 991.3L234.3 991.1L233.8 990.8L233.4 990.5L232.9 990.3L232.5 990L232 989.8L231.6 989.5L231.1 989.3L230.7 989L230.2 988.8L229.8 988.5L229.4 988.2L228.9 988L228.5 987.6L228 987.4L227.6 987.2L227.1 986.9L226.7 986.7L226.3 986.3L225.8 986.1L225.4 985.8L224.9 985.6L224.5 985.2L224.1 984.9L223.7 984.6L223.2 984.4L222.8 984.1L222.4 983.7L221.9 983.5L221.5 983.2L221.1 982.9L220.6 982.6L220.2 982.4L219.8 982.1L219.3 981.8L219 981.4L218.6 981.1L218.2 980.7L217.7 980.5L217.3 980.1L216.9 979.9L216.5 979.6L216.1 979.2L215.7 978.9L215.2 978.6L214.8 978.3L214.4 977.9L214 977.6L213.7 977.3L213.2 977L212.8 976.6L212.4 976.4L212 976.1L211.6 975.7L211.2 975.3L210.8 975.1L210.5 974.7L210 974.3L209.6 974.1L209.2 973.7L208.8 973.4L208.5 973L208.1 972.7L207.7 972.3L207.3 972L207 971.6L206.6 971.2L205.1 972L205.8 970.5L204 971.7L205.1 969.8L204.7 969.5L204.3 969.1L203.9 968.8L203.6 968.4L203.6 968.2A134.6 134.6 0 1 0 309.6 738.2Z" fill="#f2f21a"/>
<path d="M309.6 738.4L310.1 738.3L310.6 738.5L311.1 738.4L311.6 738.7L312.1 738.6L312.7 738.6L313.2 738.7L313.7 738.7L314.2 738.9L314.7 739.1L315.2 739.1L315.7 739L316.2 739.1L316.7 739.2L317.2 739.4L317.8 739.4L318.3 739.5L318.8 739.4L319.3 739.5L319.8 739.7L320.3 739.9L320.8 739.8L321.3 740L321.8 740.1L322.4 740.1L322.9 740.2L323.4 740.3L323.9 740.3L324.4 740.5L324.9 740.8L325.4 740.9L325.9 740.8L326.4 741.1L326.9 741L327.4 741.1L327.9 741.2L328.4 741.4L328.9 741.6L329.4 741.7L329.9 741.6L330.4 741.8L330.9 742.1L331.4 742.2L331.9 742.2L332.4 742.5L332.9 742.5L333.4 742.7L333.9 742.8L334.4 743L334.1 745.8L335.4 743.2L335.9 743.3L336.4 743.5L336.9 743.6L337.4 743.7L337.9 744L338.3 744.2L338.8 744.3L339.3 744.5L339.9 744.5L340.4 744.7L340.9 744.8L341.3 745L341.8 745.2L342.3 745.5L342.8 745.6L343.3 745.7L343.7 746L344.2 746.1L344 748.3L345.2 746.4L345.7 746.6L345.8 747.8L346.7 747L347.1 747.3L347.6 747.4L348.1 747.6L348.6 747.8L349.1 747.9L349.5 748.1L349.9 748.5L350.4 748.6L351 748.7L351.4 748.9L351.9 749.2L352.3 749.4L352.8 749.6L353.3 749.8L353.8 750L354.2 750.3L354.7 750.6L355.2 750.7L355.6 751L356.1 751.1L356.6 751.3L357.1 751.5L357.5 751.8L358 752L358.5 752.2L358.9 752.4L359.3 752.7L359.8 753L360.3 753.2L360.7 753.4L361.1 753.7L361.7 753.9L360.8 756.5L362.5 754.5L362.9 754.8L363.5 754.9L363.8 755.3L364.4 755.3L364.8 755.7L365.3 755.9L365.7 756.2L366.2 756.4L366.5 756.8L367 757L367.5 757.2L367.9 757.5L368.4 757.7L368.7 758.1L369.2 758.4L369.7 758.6L370.1 758.9L370.4 759.3L371 759.4L371.4 759.6L371.9 760L372.3 760.3L371.5 762.4L373.1 760.8L373.6 761.1L373.9 761.5L374.4 761.8L374.8 762L375.3 762.3L375.7 762.6L376.1 762.9L376.5 763.2L376.9 763.6L377.3 763.9L377.7 764.2L378.2 764.4L378.6 764.7L379 765.1L379.4 765.4L379.8 765.7L380.2 766L380.7 766.2L381.1 766.5L381.4 767L381.9 767.2L382.2 767.6L382.6 768L383.1 768.2L383.4 768.6L383.8 769L384.2 769.3L384.7 769.5L385.1 769.8L385.5 770.2L385.7 770.7L386.2 770.9L386.5 771.3L386.9 771.6L387.3 772L387.8 772.2L388.2 772.5L388.6 772.9L389 773.2L389.3 773.6L389.6 774L390 774.4L390.4 774.7L390.7 775.1L391.2 775.4L391.4 775.9L391.8 776.2L392.2 776.5L392.7 776.8L393.1 777.2L393.3 777.6L393.8 777.9L394.1 778.4L394.4 778.7L394.8 779.1L395.2 779.5L395.5 779.8L395.8 780.3L396.3 780.5L396.5 781L397 781.3L397.3 781.7L397.6 782.1L398 782.5L396.4 784.6L398.7 783.2L398.9 783.7L399.3 784.1L399.7 784.4L400 784.8L400.4 785.2L400.7 785.6L401.1 785.9L401.3 786.4L401.6 786.8L402 787.2L402.3 787.6L402.7 787.9L402.9 788.4L403.4 788.7L403.6 789.2L403.9 789.6L404.3 790L404.5 790.5L404.9 790.8L405.3 791.2L405.5 791.7L405.8 792.1L406.1 792.5L406.4 792.9L406.8 793.3L407.1 793.7L407.2 794.2L407.7 794.5L407.9 795L408.2 795.4L408.5 795.8L408.7 796.3L409.1 796.6L409.4 797.1L409.7 797.5L410 797.9L408 799.9L410.5 798.9L410.7 799.3L411.1 799.7L411.4 800.1L411.7 800.6L412 801L412.2 801.5L412.4 801.9L412.8 802.3L412.9 802.8L413.3 803.2L413.4 803.7L413.7 804.1L414.1 804.5L414.4 805L414.5 805.5L414.9 805.9L415.2 806.3L415.4 806.7L415.6 807.2L415.9 807.6L414.9 808.8L416.2 808.6L416.5 809.1L416.9 809.4L417.1 809.9L417.4 810.4L417.5 810.9L417.7 811.4L417.9 811.9L418.2 812.3L418.5 812.7L418.8 813.1L419 813.6L419.1 814.1L419.4 814.6L419.6 815L419.8 815.5L420.1 815.9L420.3 816.4L420.5 816.9L420.7 817.4L420.7 817.9L419.6 819L421.2 818.8L421.6 819.2L421.7 819.7L421.8 820.2L422.1 820.7L422.3 821.2L419.9 822.7L422.6 822.2L422.7 822.7L423.1 823.1L423.2 823.6L423.5 824L423.6 824.5L423.7 825.1L424 825.5L424 826L422.6 827.1L424.5 827L424.7 827.4L424.8 828L425.1 828.4L425 829L425.2 829.4L425.6 829.9L425.6 830.4L425.8 830.9L426 831.4L426.2 831.8L426.3 832.3L426.4 832.8L426.6 833.3L426.8 833.8L426.8 834.3L427 834.8L427.2 835.3L427.4 835.8L427.4 836.3L427.7 836.8L427.8 837.3L427.8 837.8L428.1 838.3L428.1 838.8L428.3 839.3L428.5 839.8L428.6 840.3L428.5 840.8L428.7 841.3L428.9 841.8L429.1 842.3L429.2 842.8L429.1 843.3L429.3 843.8L429.3 844.3L429.5 844.8L429.7 845.3L429.8 845.8L430 846.3L430 846.8L430.1 847.3L430.1 847.9L430.1 848.4L430.4 848.9L430.4 849.4L430.4 849.9L428.9 850.7L430.7 850.9L430.9 851.4L430.7 851.9L430.9 852.4L431.1 852.9L431.1 853.4L431.1 854L428.4 854.9L431.4 855L431.3 855.5L431.5 856L431.6 856.5L431.6 857L431.7 857.5L431.6 858.1L431.6 858.6L431.6 859.1L431.9 859.6L431.9 860.1L431.8 860.6L432 861.1L431.9 861.7L431.9 862.2L431.9 862.7L432.2 863.2L432 863.7L432.1 864.2L432.2 864.7L432.3 865.3L432.2 865.8L432.2 866.3L432.4 866.8L432.4 867.3L432.4 867.8L429.5 868.4L432.2 868.9L432.3 869.4L432.5 869.9L432.4 870.4L432.5 870.9L432.4 871.5L432.4 872L432.4 872.5L432.4 873L432.5 873.5L432.3 874L430.9 874.5L432.3 875.1L432.3 875.6L432.4 876.1L432.4 876.6L432.3 877.1L432.3 877.6L432.4 878.2L432.2 878.7L432.2 879.2L432.2 879.7L432.2 880.2L432.2 880.7L432.1 881.3L431.9 881.8L432.1 882.3L432.1 882.8L431.8 883.3L431.8 883.8L431.9 884.3L431.8 884.9L431.9 885.4L431.8 885.9L431.6 886.4L431.7 886.9L431.5 887.4L431.4 887.9L431.3 888.4L431.3 889L431.4 889.5L431.1 890L431.2 890.5L431 891L431 891.5L431 892L430.8 892.5L430.8 893.1L430.8 893.6L430.7 894.1L430.6 894.6L430.5 895.1L430.3 895.6L430.3 896.1L430.3 896.6L430 897.1L429.9 897.6L429.7 898.1L429.7 898.6L429.6 899.1L429.5 899.6L429.4 900.1L429.3 900.6L429.4 901.2L429.2 901.7L428.9 902.1L428.8 902.6L428.9 903.2L428.8 903.7L428.6 904.2L428.5 904.7L428.4 905.2L428.3 905.7L428.1 906.2L427.9 906.7L427.7 907.2L427.7 907.7L427.5 908.2L427.4 908.7L427.1 909.1L427 909.6L426.9 910.1L426.7 910.6L426.7 911.2L426.5 911.6L426.5 912.2L426.1 912.6L426 913.1L425.9 913.6L425.6 914.1L425.7 914.6L425.4 915.1L425.3 915.6L425 916L424.9 916.5L424.6 917L424.6 917.5L424.4 918L424.3 918.5L424.1 919L423.9 919.5L423.8 920L423.5 920.4L423.2 920.9L423 921.3L422.8 921.8L422.7 922.3L422.5 922.8L422.4 923.3L422.2 923.8L421.8 924.2L421.8 924.7L421.5 925.2L421.4 925.7L421.1 926.2L419.6 926L420.7 927.1L420.5 927.6L420.4 928.1L420.1 928.5L419.9 929L419.6 929.4L419.3 929.8L419.2 930.4L418.9 930.8L418.7 931.3L418.5 931.8L418.2 932.2L418 932.7L417.9 933.2L417.6 933.6L417.2 934L417 934.5L416.8 934.9L415 934.6L411 933L410.2 933.1L413 935.2L408 933L412.7 936.2L412.6 936.7L411.6 936.7L404.4 933.2L410.6 937.3L409.1 937L409.2 937.7L409.9 938.6L411.6 940.2L409.9 939.8L403.7 936.6L408.5 940.1L407.3 940L406.7 940.2L408.2 941.7L409.4 943L407.5 942.5L405.1 941.5L408.9 944.5L408.3 944.8L405.7 943.6L408 945.7L406 945L407.5 946.7L406.2 946.4L406.5 947.2L403.2 945.5L405 947.4L404.4 947.6L402.3 946.7L405.5 949.6L404.6 949.6L403.2 949.2L404.6 950.8L403.9 950.9L401.7 950L402.1 950.9L401.7 951.2L399.3 950L402 952.7L402 953.3L400.5 952.8L401.7 954.3L398.1 952.2L399 953.5L400.5 955.3L399.5 955.2L400.4 956.6L399.3 956.3L398.9 956.7L399.1 957.5L396.8 956.2L397 957L396.6 957.4L397.1 958.4L397.5 959.5L394.6 957.6L393.7 957.5L394.7 959L393.1 958.2L394.3 960L395.6 961.8L392.8 960L392.9 960.7L393.3 961.8L394.1 963.2L390.5 960.5L387.4 958.3L389.6 961L383.7 956L389.6 962.4L390.9 964.3L391.2 965.4L388.4 963.2L389.8 965.4L390.2 966.6L388.1 965.1L389.5 967.3L382.7 960.8L388.5 967.6L387.6 967.4L386.8 967.3L385.5 966.7L387.7 969.7L386.1 968.8L384.4 967.6L384.8 968.9L385.7 970.5L383.6 969L384.1 970.4L384.2 971.2L383.4 971L383.8 972.3L383.1 972.2L383.5 973.4L382.5 973L380.3 971.2L381.9 973.9L379.2 971.5L380.8 974.1L379.5 973.4L378.8 973.3L379 974.4L377.7 973.5L377.6 974.2L377.2 974.4L378.1 976.5L378.3 977.6L377.8 977.7L376.2 976.4L374.8 975.5L376.4 978.4L375.9 978.6L373.1 975.6L374.3 978.1L372.6 976.6L374 979.4L371.4 976.5L373.3 980.1L372.8 980.4L371.6 979.5L371.1 979.6L372.2 982.1L370.6 980.7L370.1 980.9L368.3 979L368 979.5L368.8 981.5L367.5 980.4L366.8 980.2L366.3 980.4L366.1 981L367.5 984.2L365.4 981.7L364.4 981.1L366 984.6L364 982.3L365.6 986L363.8 983.9L364.6 986.3L364.1 986.4L363.9 987L363.6 987.5L361.5 984.8L362.2 987.2L360.7 985.5L360.4 986L359.3 985L358.6 984.8L358.5 985.6L358.2 986.1L359.1 988.8L358.5 988.8L357.9 988.8L357.6 989.3L357.5 990.2L355.6 987.6L355.4 988.3L356.3 991.3L355.5 990.8L355.1 991.1L353.9 989.7L354.5 992.2L353.5 991.3L351.7 988.4L351 988.2L352.2 991.9L351.9 992.6L351.5 992.8L349.7 990.2L350.4 992.9L349.7 992.6L348 989.9L349.3 994.3L347.4 990.9L348.2 994.1L347 992.5L345.8 991L344.9 990L344.8 991.1L345.9 995.2L345.2 994.8L344.6 994.8L344.7 996.3L342.8 992.8L343.1 995L341.5 992L342.6 996.6L340.6 992.6L340.7 994.2L341.2 997.1L340.3 996.1L339.5 995.4L339.9 998.1L338.2 994.6L337.6 994.3L337 994L337.8 998.4L334.4 989L336.3 996.7L335.1 994.5L335.8 998.6L334.8 996.9L334.6 998.1L333.3 995.5L333.3 997.2L332.7 997L331.7 995.1L331.2 995.3L331.2 997.3L330.6 996.8L331 1000.2L327.1 987.1L330.1 1000.9L329.1 998.8L328.3 997.8L327.5 996.5L327.7 999.4L327.5 1000.8L327 1001.1L326.6 1001.7L325.2 997.6L325.5 1001.3L324.7 999.8L323.9 998.6L324.2 1002.3L323.6 1002L323.1 1002.3L320.3 990.2L321.2 997.6L321.3 1000.6L320.4 998.7L320.5 1002.3L320.1 1002.9L319.2 1000.1L318.9 1001.4L318.4 1001.9L317.9 1001.8L317.2 1000.2L316.4 998.7L316.3 1001.1L315.8 1001.5L315.6 1003.7L314.8 1001.5L314.5 1003.1L313.9 1002.5L313.4 1002.6L312.7 1000.4L312 999L311.7 1000.8L311.3 1001.3L310.7 1000.8L310.2 1000.5L309.9 1002.3L309.4 1002.6L309 1004.4L308.4 1002.2L307.7 1000.7L307.3 1001.8L306.8 1002L306.3 1001.1L305.8 1001.9L305.5 1004.1L304.9 1003.6L304.4 1002.4L303.8 1001.4L303.3 1001.1L302.9 1002.7L302.3 1000.8L301.8 1000.9L301.3 1001.7L300.8 1001.6L300.3 1000.3L299.8 1000.8L299.4 1001.7L298.9 1003L298.4 1001.6L297.9 1001L297.4 1001.1L296.9 1003.3L296.3 1004.4L295.9 1000.1L295.4 1001.6L294.9 1002.1L294.3 1004.1L293.9 1000.5L293.4 1001.2L292.9 1002L292.7 994.1L291.8 1004.7L291.3 1003.6L290.8 1003.5L290.3 1004L289.7 1004.5L289.5 1000.1L288.9 1001.6L288.3 1003.8L287.8 1003L287.3 1003.1L286.9 1001.6L286.5 1001L285.9 1001.6L285.3 1003L284.8 1003.1L284.2 1003.2L284 1000.9L283.4 1002.1L283.7 994.8L282.6 1000L282.1 1000.2L281.6 1000.1L281.2 999.3L280.5 1000.9L280.2 999L279.7 999L279 1001L278.5 1000.3L277.7 1002.8L277.2 1002.7L276.6 1002.8L276.6 999.9L275.7 1002.1L275.6 1000L274.9 1000.8L274.8 998.9L273.8 1001.6L273.1 1002.5L273.1 999.5L273 997.6L272.3 998.7L271.5 1000.2L270.8 1000.9L270.1 1001.7L270.1 999.6L270.1 997.2L269.3 998.5L268.3 1000.5L267.8 1000.3L267.7 998.8L267.7 996.8L266.6 998.8L266.5 997.3L265.8 998.1L264.6 1000.5L265.3 996.1L264.1 998.7L263.4 999.4L263.9 995.5L263 997L262.7 996.2L262.5 995L260.7 999.4L260.3 999L259.8 999L260.5 994.9L259.3 997.3L258.3 998.6L258.5 996.3L257.8 997L257.1 997.3L256.9 996.4L256.2 997L256.3 995.1L255.3 996.4L254.9 996.1L255.5 992.9L255 992.7L254.2 993.5L253.1 995.1L252.4 995.5L252.5 993.9L251.9 993.9L250.7 995.8L250.1 995.9L249.9 995.1L249.7 994.1L249.9 992.3L248.7 994L249.2 991.4L247.3 994.7L248.2 991.2L247.7 991.2L247 991.6L247.2 989.8L245 993.7L245.3 991.7L244.5 992.2L243.7 992.7L244 990.9L243.6 990.7L242.9 991L242.9 989.8L241.6 991.4L242.2 988.8L240.5 991.3L240.2 990.8L240.4 989.2L239.9 989L239 989.7L238.1 990.3L237.8 989.8L239.1 986.3L239 985.3L237.7 986.9L237.4 986.2L235.3 989.1L235.9 986.9L236.2 985.4L234.9 986.7L233.7 987.8L234.5 985.4L235.1 983.3L233.2 985.7L233.7 983.7L233.9 982.5L230.9 986.5L230.8 985.7L232.2 982.4L231.2 983.2L231.6 981.5L228.8 985.2L230.5 981.5L229.1 982.7L228.1 983.4L229.6 980.2L226.6 983.9L227.3 981.8L226.8 981.8L225.3 983L224.9 982.8L225.4 981.1L224.8 981L225.7 978.8L226.1 977.5L224.4 979L224.3 978.2L223.7 978.3L221.9 979.9L222.1 978.9L221.5 978.8L221.2 978.3L221.9 976.5L222.1 975.4L219.5 978L218.9 978L218.9 977.2L220.5 974.2L219.5 974.8L217.1 977.1L218.6 974.3L216.2 976.6L216.5 975.3L218.3 972.3L217.6 972.3L215.3 974.4L217.4 971L214 974.4L214.2 973.4L215.8 970.7L213.9 972.1L212.6 973L212.5 972.2L213.3 970.5L213.7 969.3L210.8 971.9L210.4 971.6L210.5 970.7L210.4 970.1L212 967.5L208.8 970.4L211 967.2L211 966.5L211.1 965.6L207.4 968.8L210.3 965L209.4 965.2L208.3 965.7L206.3 967L206.1 966.5L209.4 962.5L203.6 968.2A134.6 134.6 0 1 0 309.6 738.2Z" fill="#1a1ae8"/>
<path d="M168 965.2L170.5 962.7L167.8 963.9L166.1 964.3L164.9 964.4L166.1 962.8L167.2 961.4L167.9 960.2L164.6 961.7L167.9 958.7L163.9 960.6L166.1 958.5L165.4 958.2L165.1 957.6L165.2 956.9L165.8 955.8L165.7 955.2L163.5 955.8L163.9 954.8L161.3 955.7L164.4 953.1L164.1 952.6L162.4 952.9L163.5 951.5L160 952.9L156 954.5L159.2 952L159.1 951.3L160.3 949.9L159.4 949.7L158.1 949.8L162.1 947.2A155.2 155.2 0 0 0 171.8 962.6Z" fill="#e01818"/>
<path d="M173.1 961.6L172.5 961.3L174.5 959.2L172.1 960.2L171.3 960L174.4 957.2L173.7 956.9L170.8 958.2L171.8 956.8L172.2 955.8L169.1 957.2L175 952.6L170.9 954.6L170.9 953.9L169.1 954.4L169.9 953.2L169.7 952.6L170.1 951.7L167.5 952.6L166.8 952.4L167.1 951.5L165.6 951.7L165.7 950.9L165.8 950.2L167.8 948.3L165.3 949.1L165.1 948.6L165 947.9L165.9 946.8L166.1 946L164.2 946.4L162.1 947.2A155.2 155.2 0 0 0 171.8 962.6Z" fill="#1a1ae8"/>
<path d="M188.4 950.7L188.2 950.2L187.8 949.8L187.5 949.4L187.2 949L186.9 948.5L185.1 949.1L184.7 948.8L185.3 947.8L184.2 947.9L185.5 946.4L185.1 946L183.3 946.6L184.7 945.1L184.4 944.7L184 944.3L183.9 943.8L183.5 943.4L183.3 942.9L183 942.5L182.8 942L182.5 941.6L182.2 941.1L181.9 940.7L181.7 940.2L181.5 939.8L181.1 939.4L180.9 938.9L180.6 938.5L180.4 938L180.2 937.5L180.1 937.3A134.6 134.6 0 0 0 188.5 950.6Z" fill="#f2f21a"/>
<path d="M190.9 948.9L192.7 947L190.4 948L192.8 945.7L192 945.7L192.3 944.9L193.5 943.5L196.5 940.9L188.9 945.4L192.5 942.3L192.5 941.8L191 942.2L189.8 942.4L191.6 940.6L187 943L189.2 941L187.8 941.3L188.4 940.4L190 938.8L191.5 937.3L187.4 939.2L185.1 940L190.3 936.4L189.7 936.1L185.9 937.8L185.2 937.6L188.2 935.3L189.7 933.9L183.5 936.8L188.8 933.3L185.5 934.6L180.1 937.3A134.6 134.6 0 0 0 188.5 950.6Z" fill="#1a1ae8"/>
<path d="M150.2 923.2L148.4 923.2L148.5 922.5L149.2 921.6L149.7 920.8L146.5 921.2L148.4 920L145.8 920.2L147.9 918.9L146.6 918.6L148.5 917.4L145.1 917.8L145.5 917.1L146.8 916.1L148 915.1L145.2 915.3L144.1 914.9L147.4 913.4L144.1 913.7L145 912.8L146.2 911.8L146.4 911.2L146 910.7L146.4 909.9L145.8 909.5L143.3 909.4L145.3 908.3L144.2 908L143.7 907.5L145.4 906.5L145 905.9L144.7 905.4L141.5 905.5L142.6 904.6L144.9 903.5L144.7 902.9L143.4 902.6L144.3 901.8L142 901.6L143.1 900.8L144.5 899.9L142.5 899.7L144.3 898.7L142.2 898.5L143.6 897.6L140.4 897.5L142.4 896.6L143.5 895.8L141 895.6L141.5 894.9L141.1 894.3L143.5 893.4L143.1 892.9L142.1 892.4L143.2 891.6L141.2 891.3L140.7 890.7L142.2 889.9L141.6 889.4L141.2 888.8L139.7 888.4L139.7 887.8L140.6 887.1L139.1 886.6L141.4 885.8L141.7 885.1L137.2 884.9L138.8 884.2L142.4 883.3L139.1 882.9L140.4 882.2L141.2 881.6L138.7 881.1L139 880.5L140.2 879.8L140.5 879.2L140.6 878.6L138.7 878L140 877.4L142.1 876.7L136.3 876.3L138.3 875.6L133.6 875.1L141.8 874.3L140.8 873.7L139.8 873.1L139.1 872.5L140.7 871.9L139.5 871.3L141.8 870.7L142 870.1L141.8 869.5L137.9 868.8L141.2 868.3L139.6 867.7L142.2 867.1L139.6 866.4L141 865.9L140.7 865.3L139.2 864.6L136.5 863.8L141.9 863.5L141.1 862.9L139.9 862.2L141.6 861.7L139.1 860.9L139.2 860.3L141 859.8L139.5 859.1L139.4 858.5L141.9 858.1L141.6 857.5L142.6 857L141 856.2L141.7 855.7L142.9 855.2L142.8 854.6L139.3 853.5L142.8 853.4L141 852.5L140 851.8L135.2 850.5L141.4 850.7L141.9 850.2L142.2 849.6L142.3 849L143.8 848.7L143.9 848.1L141.7 847.1L140.9 846.4L143 846.1L141.2 845.2L143.7 845L144.6 844.5L142.9 843.6L143.9 843.2L141.3 842.1L145.7 842.6A155.2 155.2 0 0 0 151.3 922.8Z" fill="#e01818"/>
<path d="M152.9 922.2L152.5 921.8L154.4 920.5L152.6 920.5L152.6 919.9L152.9 919.2L151.2 919.1L150.8 918.6L152.8 917.4L152.2 916.9L151.8 916.4L153.1 915.4L150.1 915.7L151.2 914.8L149.6 914.6L149.6 914L149.3 913.5L149.7 912.8L149.5 912.2L150.6 911.3L148.8 911.2L151.1 910L151.1 909.4L148.6 909.4L148.6 908.8L149.2 908L148.6 907.6L148.2 907L150.3 906L147.4 906L150.2 904.8L149.1 904.4L148.4 904L147.2 903.6L149.8 902.5L147 902.5L148.4 901.6L147.8 901.1L146.6 900.7L146.2 900.2L149 899.1L146.6 898.9L147 898.3L146.6 897.7L145.5 897.3L148.8 896.2L145.7 896.1L147.6 895.2L147.7 894.6L145.6 894.3L146.5 893.6L147.5 892.9L145.5 892.5L146.4 891.8L147.6 891.1L146.5 890.6L145.2 890.2L144.9 889.6L146.3 888.9L144.8 888.5L144.3 887.9L146.8 887.1L144.3 886.7L147.3 885.9L150.9 885L145 884.9L147.1 884.1L145.5 883.7L145.1 883.1L144.7 882.5L145.2 881.9L146.5 881.2L143.9 880.8L147 880.1L145.4 879.6L146.7 878.9L145.2 878.4L143.8 877.8L143.8 877.3L143.8 876.7L145.9 876L145.2 875.4L146 874.8L146 874.3L146.4 873.7L143.9 873.1L144 872.5L143.5 871.9L143.7 871.3L143.6 870.7L146.6 870.2L145.5 869.6L146.4 869L145.8 868.4L144.5 867.8L145 867.2L144.9 866.6L144.7 866L146 865.5L144.1 864.8L145 864.3L143.8 863.6L145.1 863.1L143.8 862.4L146.5 862L150.2 861.7L145.1 860.7L144.7 860.1L146.7 859.7L145.2 859L146.7 858.5L150.3 858.3L144.8 857.2L146.7 856.8L144.6 856L145.4 855.5L144.8 854.8L147.4 854.5L146.2 853.8L145.3 853.1L151.1 853.2L146 852L145.9 851.4L148.3 851.1L148.4 850.5L146.5 849.7L147.1 849.2L146.3 848.4L145.9 847.8L148.8 847.6L145.8 846.5L148.2 846.4L145.9 845.4L146 844.8L147.7 844.5L149.1 844.2L147.8 843.3L145.7 842.6A155.2 155.2 0 0 0 151.3 922.8Z" fill="#1a1ae8"/>
<path d="M170.4 916.3L170.4 915.7L170.2 915.2L170 914.7L169.9 914.2L169.7 913.7L169.5 913.3L169.2 912.8L169.3 912.2L169.1 911.7L169 911.3L168.9 910.7L168.6 910.3L168.4 909.8L168.4 909.3L168.2 908.8L167.9 908.3L167.9 907.8L167.7 907.3L165.4 907.4L167.5 906.3L167.4 905.8L167.2 905.3L167.2 904.8L166.9 904.3L166.9 903.8L166.6 903.3L166.6 902.8L166.5 902.3L166.2 901.8L166.4 901.2L166.2 900.7L166 900.3L166.1 899.7L165.7 899.3L165.9 898.7L165.6 898.2L165.5 897.7L165.6 897.2L165.4 896.7L165.3 896.2L165 895.7L165.1 895.2L165 894.6L165.1 894.1L165 893.6L164.6 893.1L164.6 892.6L164.7 892.1L164.6 891.6L162.4 891.4L164.3 890.6L164.3 890L164.1 889.5L164.3 889L164.1 888.5L164 888L164 887.5L163.9 887L163.9 886.4L163.7 885.9L162.6 885.5L163.8 884.9L163.5 884.4L163.6 883.9L163.4 883.4L163.4 882.8L163.4 882.3L163.5 881.8L163.5 881.3L163.3 880.8L163.2 880.3L163.2 879.7L163.4 879.2L163.2 878.7L163.1 878.2L163.3 877.7L163.4 877.1L163.2 876.6L163.1 876.1L163.1 875.6L163.2 875.1L163.2 874.6L160.4 874.1L163.1 873.5L163.3 873L163.1 872.5L163 872L163.1 871.5L163 870.9L163.1 870.4L163 869.9L163 869.4L163.3 868.9L163.3 868.4L163.2 867.8L163.1 867.3L163.2 866.8L163.4 866.3L163.3 865.8L163.4 865.2L163.4 864.7L163.3 864.2L163.3 863.7L163.5 863.2L163.4 862.7L161.4 862L163.6 861.6L163.7 861.1L163.8 860.6L163.5 860.1L163.6 859.5L163.8 859L163.7 858.5L164 858L164.1 857.5L163.9 857L164.2 856.5L164.1 856L164.2 855.4L164.2 854.9L164.3 854.4L164.4 853.9L164.5 853.4L164.7 852.9L164.6 852.4L164.6 851.8L164.8 851.4L164.9 850.8L165 850.3L164.9 849.8L165.1 849.3L165.2 848.8L165.4 848.3L162.1 847.2L165.6 847.3L165.7 846.8L165.9 846.5A134.6 134.6 0 0 0 170.7 916.1Z" fill="#f2f21a"/>
<path d="M174.6 914.8L173.7 914.6L174.6 913.7L172.7 913.8L177.6 911.7L174.1 912.3L173.4 912L177.3 910.3L174.8 910.5L175.9 909.7L172.6 910.2L175.8 908.7L177 907.8L177.8 907.1L173.4 907.8L171.2 908L170.7 907.5L175.9 905.6L174 905.6L171.6 905.7L172.7 904.9L170.1 905.1L173.5 903.7L170.8 903.9L177.7 901.7L173.5 902.2L175 901.3L169.6 902.1L169.7 901.6L173.7 900.1L173.7 899.6L172.6 899.4L171.2 899.2L168.7 899.2L173.6 897.7L171.2 897.6L173.9 896.6L171.1 896.6L172 896L170.7 895.7L169.6 895.4L168.5 895.1L169.9 894.3L168.6 894L172.4 892.9L170.4 892.7L173.4 891.8L171.2 891.6L169.7 891.3L167.7 891.1L167.4 890.7L168.4 890L167.2 889.7L167.1 889.2L167.5 888.6L168.9 887.9L172 887.1L171.2 886.7L166.8 886.6L167.3 886.1L167.1 885.6L171.1 884.7L170.8 884.2L166.5 884.1L174.1 883L170.5 882.8L168.6 882.4L170.7 881.8L170.4 881.3L168.4 881L170.3 880.3L167.4 880L169.8 879.4L167.6 879L169.9 878.4L165.9 878.1L166.1 877.6L166 877L165.9 876.5L171 875.9L165.9 875.5L170.1 874.9L167.6 874.5L169.2 874L171.7 873.4L167 873L168.4 872.5L167.1 872L167 871.5L168.5 871L166.5 870.5L175.2 870.1L169 869.5L171.1 869.1L172.1 868.6L171 868.1L171 867.6L168.1 867L166 866.4L169.4 866.1L168.2 865.5L171.2 865.2L171.9 864.7L166.1 863.9L166.2 863.4L167.6 863L168.9 862.5L171.3 862.2L172.4 861.8L166.6 860.9L167.1 860.4L170.9 860.2L170.1 859.7L172.3 859.4L167.2 858.4L178 859.1L172.8 858L167.2 856.8L171.7 856.9L168.6 856L169 855.5L167.8 854.9L173.2 855.1L167.9 853.9L168.1 853.4L171.1 853.3L169.4 852.6L170 852.2L172.6 852.1L170.2 851.2L167.9 850.3L178.1 851.6L168.1 849.3L172.9 849.7L171.2 848.8L170.1 848.1L171.6 847.9L165.9 846.5A134.6 134.6 0 0 0 170.7 916.1Z" fill="#1a1ae8"/>
<path d="M149.4 815.6L149.3 814.9L152.6 815.5L151.8 814.6L152.1 814L153.4 813.9L152.7 812.9L150.9 811.5L152.5 811.6L150.7 810.1L153.9 810.9L152.8 809.7L152.9 809.1L152.2 808.1L154.3 808.4L153.8 807.5L156 807.8L156 807.2L153.4 805.3L155.7 805.7L155.5 804.9L154.1 803.6L153.6 802.7L155 802.7L157.5 803.2L155.2 801.4L155.7 801L158.3 801.6L157.5 800.6L159.4 800.8L159.1 800L158.4 799L159.6 798.9L157.2 796.9L158.9 797.2L160.2 797.2L161.2 797L161.2 796.3L161.7 796L161.7 795.3L160.6 793.9L162.3 794.2L162.8 793.8L162.7 793.1L158.3 789.7L164 792.4L162.8 791L161.2 789.3L162.6 789.4L164.1 789.7L164.1 789L163.3 787.7L163.8 787.4L165.4 787.6L165.1 786.7L165 785.9L166.3 786L164.8 784.3L166 784.4L166.1 783.7L166.6 783.3L169 784.3L167.3 782.3L169.4 783.1L168.9 782L170.5 782.4L169.1 780.6L171.1 781.3L169.3 779.3L168.8 778.2L171.7 779.5L171.7 778.8L173 779L171.2 776.9L173.7 778.1L171.1 775.3L174.1 776.8L174.1 776.1L172.9 774.4L173.9 774.4L173.3 773.1L175.7 774.3L176.1 773.8L176.9 773.7L175.6 771.8L176.2 771.5L178.1 772.4L178.5 771.9L178.4 771L176.1 768.3L179.4 770.3L178 768.3L180.5 769.6L180.9 769.2L180.4 768L179.7 766.5L181.6 767.4L182 766.9L181.3 765.5L179.7 763.3L183.8 766.1L181.4 763.1L183.2 764L182.3 762.3L183.8 762.9L184 762.2L186.1 763.4L185.9 762.4L185.6 761.3L186 760.8L186.5 760.4L186.4 759.5L186.4 758.6L187.4 758.8L187.6 758.1L190 759.7L189.7 758.5L190.9 758.9L189 756L191.7 758L192.1 757.6L192.1 756.6L189.1 752.4L193.6 756.5L193.5 755.5L193.5 754.6L194.7 755L193.9 753.2L193.5 751.9L196.2 754L195.3 752L194.9 750.7L196 751L197.3 751.6L197.6 751L196.8 749.1L199.5 751.4L197.6 748.2L199.4 749.4L200.9 750.3L199.9 748.1L201.1 748.6L200.2 746.5L201.7 747.5L201.8 746.5L202 745.9L204 747.5L202.5 744.5L204.5 746.2L205.3 746.2L204 743.4L205 743.7L203.1 740.1L207.1 744.6L205.9 741.9L208.4 744.3L208.9 744L208.3 742.1L208.6 741.5L209.2 741.3L209.4 740.5L211.3 742.2L210.9 740.4L211.1 739.7L211.5 739.3L213 740.4L214 740.8L214.1 739.9L214.4 739.2L213.9 737.2L215.9 739.4L215.1 737L216.5 738.1L216.8 737.4L216.1 735L216.9 735.1L217.6 735.1L219.5 737.1L220.1 737.1L219.4 734.5L219.6 733.8L221 735L222.3 736L222.7 735.6L222.9 734.6L222.4 732.5L224.3 734.8L223.2 731.4L224 731.7L222.8 727.9L225.1 731L225.8 731.2L225.9 729.9L227.3 731.3L228.5 732.4L229.1 732.2L228.2 729L227.4 726L230.6 731.3L230.6 729.8L231.2 729.7L232.3 730.6L232.7 730.2L233.2 729.6L233.7 729.3L233.6 727.7L234.3 727.7L235.2 728.2L235.7 728L235.8 726.5L235.8 725L237.7 728.1L238.1 727.5L238.8 727.6L238.8 725.8L239.3 725.7L239.9 725.4L238.5 720.2L241.2 725.3L241.7 724.9L242.4 725.2L243 724.9L243.7 725.1L244.1 724.6L244 722.4L245.3 724.3L245.6 723.4L244.4 718L246.8 723.2L246.7 720.9L248.1 723.2L246.7 716.9L249.4 723.2L249.5 721.5L250.8 723.6L251 722.5L251.5 721.7L251.9 721.1L250.5 714.4L252.9 720.1L253.5 720L254.8 722.3L254.4 718.9L255.3 719.8L256.2 720.8L256.8 720.6L257.7 721.6L258 720.5L258.6 720.5L258.9 719.2L259.5 719L259.8 717.9L261 720L261.3 718.6L261.4 716.6L262.3 717.5L263.3 719.2L263.9 719.1L264.5 719.2L264.4 716L265.7 718.8L266.2 718.3L266.9 718.7L267 716.3L268 718.3L268.5 717.4L268.8 715.9L269.4 716L270.3 717.5L270.6 715.4L271.7 718.2L272.3 718.5L272.9 718.2L273 715.2L273.9 716.7L274.4 716.1L275.2 717.4L274.9 711.4L276.3 716.4L276.8 715.8L277.5 716.8L277.8 713.9L278.7 716.7L279.4 717.3L279.9 716.3L280.5 716.5L280.8 713.8L281.4 713.4L282.4 716.8L282.8 714.6L283.6 716.7L283.9 714L284.7 716L284.9 717.7A155.2 155.2 0 0 0 153 816.9Z" fill="#e01818"/>
<path d="M154.9 817.7L155.1 817.1L156.3 816.9L155.2 815.9L155.8 815.5L156.3 815.1L157.4 814.9L156.8 814L155.8 812.9L156.9 812.8L155.9 811.7L156.3 811.2L156.9 810.8L158.7 811L157 809.6L157.4 809.1L158.7 809L158.9 808.5L159.1 807.9L158.7 807.1L159 806.6L159.4 806.1L159.6 805.6L161.4 805.8L160.5 804.7L161.1 804.3L160 803.1L160.6 802.8L161.7 802.7L161.3 801.8L162.8 801.9L161.8 800.7L161.5 799.9L163.2 800.1L164.1 800L162.8 798.6L162.6 797.8L164.9 798.4L163.8 797.1L164.3 796.7L165.5 796.7L165.4 796L166.5 795.9L164.7 794.2L165.5 794L172 797.2L165.9 792.9L170.3 794.8L167.4 792.4L168.1 792.1L167.8 791.3L168.2 790.8L167.5 789.7L169.3 790.1L169.4 789.5L170.1 789.2L169.1 787.9L169 787.1L170.8 787.6L171.8 787.6L170.4 785.9L170.4 785.2L171.2 785L171.5 784.5L171.8 784L172 783.4L174.1 784.2L173.5 783.1L173.1 782L173.3 781.4L173.6 780.9L174.5 780.8L174.8 780.3L175.5 780.1L176.2 779.9L175.3 778.5L175.8 778.1L177.8 779L177.5 778L177.9 777.5L177.9 776.8L177.6 775.8L179.2 776.3L178.7 775.1L180.3 775.6L178.9 773.8L179.7 773.7L179.9 773.1L181.1 773.3L180.5 772L182 772.5L182.7 772.3L183.6 772.3L182.1 770.3L182.9 770.2L183.3 769.8L183.2 768.8L183.9 768.7L184.1 768.1L184.6 767.8L185.5 767.7L185.3 766.7L185.7 766.3L186.7 766.4L187.4 766.3L187.9 765.9L187.7 764.9L194 770.3L189.4 765L188.6 763.4L190 764L189.9 763L189.9 762.2L190.8 762.2L191.6 762.2L192.4 762.2L192.9 761.8L197 765.4L193.2 760.4L193.1 759.5L193.5 759.1L194.4 759.1L195 759L196.1 759.3L196.4 758.8L195.5 756.8L196 756.5L196.7 756.4L197.4 756.3L197.2 755.2L199.3 756.8L199.1 755.6L200.2 755.9L199.3 754L199.8 753.7L201.1 754.3L201.9 754.4L201.1 752.5L206.4 758.1L201.9 751.6L203 752L204.2 752.6L203.5 750.8L203.6 749.9L205.7 751.7L205.9 750.9L205.2 749.1L205.7 748.7L207.2 749.8L207.4 749.1L208.3 749.2L207.9 747.7L208.8 748L208.4 746.4L209.5 747L210.6 747.5L209.8 745.3L211.7 747.1L211.4 745.6L211.5 744.6L212 744.3L212.6 744.2L213.8 744.9L213.9 744L214.6 743.9L215.5 744.2L215.2 742.8L217.6 745.5L215.8 741.4L216.8 741.9L217 741.1L219.2 743.6L218.1 740.6L218.8 740.6L218.9 739.7L219.4 739.5L220.9 740.8L221.5 740.6L221.5 739.5L222.1 739.3L223.1 739.8L223.2 738.9L223.1 737.5L223.8 737.6L224.6 737.8L224.6 736.5L225 736.1L225.9 736.5L226.6 736.4L227.5 737L227.2 735.1L228.3 735.9L228.5 735L228.7 734.2L230.1 735.6L230.3 734.7L230.4 733.6L231.3 734.1L231.4 732.8L232.4 733.6L233.1 733.8L234 734.3L233.8 732.4L234.7 733L235.5 733.3L236 733.2L236.2 732.1L236.6 731.5L237.5 732L237.7 731L238 730.2L239.3 731.9L239.4 730.6L239.8 730L241 731.4L241.4 730.7L241.2 728.8L241.8 728.7L242.6 728.9L242.8 727.9L243.5 728.1L244.2 728.3L245.1 729.1L245.1 727.3L246.9 730.6L246.4 727.4L246.8 726.9L247.5 726.9L247.9 726.4L250.6 732.4L249.6 727.5L250 726.9L250.7 727.4L251.1 726.7L251.2 725L252.4 726.9L252.7 725.8L252.9 724.5L253.7 725L254.6 725.9L255.2 726.1L255.4 724.4L256 724.5L256.4 723.8L257.1 724L258 725L258.2 723.6L260.6 730.4L259.8 725.1L259.8 722.6L260.8 724.1L261.1 722.9L261.6 722.7L262.3 723L262.7 721.9L263.4 722.3L263.9 721.9L264.4 721.4L265.2 722.5L265.9 722.7L266.7 723.6L267 722.6L267.8 723.1L268.3 722.8L268.5 720.6L269.1 720.6L269.8 721.6L270.4 721.2L271.2 722.5L271.4 720.1L272.3 721.9L273.8 727.2L273.5 721.8L274.1 721.8L274.4 720.5L274.9 719.5L275.7 720.8L276.4 721.3L276.8 719.9L277.4 720.1L278.2 721.7L278.6 720.1L279.2 720.5L279.7 719.8L280.4 720.5L280.8 718.7L281.8 722.7L282.2 720.9L282.7 720.4L283.1 718.5L283.8 719L284.4 718.9L285.1 720.5L284.9 717.7A155.2 155.2 0 0 0 153 816.9Z" fill="#1a1ae8"/>
<path d="M172 824.2L172.2 823.7L172.4 823.2L172.6 822.7L172.7 822.2L172.9 821.7L173.1 821.3L173.5 820.9L173.6 820.4L173.7 819.9L174.1 819.4L174.1 818.9L174.3 818.4L174.7 818L174.8 817.5L174.9 817L175.3 816.6L175.6 816.1L175.7 815.7L175.9 815.2L176 814.6L176.3 814.2L176.6 813.8L176.8 813.3L176.9 812.8L177.2 812.3L175.3 810.8L177.7 811.4L178 811L178.1 810.5L178.5 810.1L178.8 809.6L176.9 808.1L179.2 808.7L179.5 808.3L179.7 807.8L179.9 807.3L180.1 806.8L180.3 806.3L180.6 805.9L180.9 805.5L181.2 805.1L181.3 804.6L181.7 804.2L181.9 803.7L182.2 803.2L182.4 802.8L182.8 802.4L183 801.9L183.2 801.5L183.6 801.1L183.7 800.6L184 800.2L184.4 799.7L184.7 799.3L185 798.9L185.3 798.5L185.6 798L185.7 797.5L186.1 797.2L186.4 796.7L186.7 796.3L187 795.9L187.3 795.4L187.5 795L187.9 794.6L188.1 794.2L188.4 793.7L188.8 793.4L188.9 792.8L189.4 792.5L189.7 792.1L189.9 791.6L190.3 791.3L190.7 790.9L190.9 790.4L191.3 790.1L191.6 789.7L191.9 789.2L192.1 788.7L192.6 788.4L192.8 788L193.1 787.5L193.5 787.2L193.8 786.8L194.1 786.4L194.4 785.9L194.8 785.6L195 785.1L195.4 784.7L195.8 784.4L196.1 784L196.5 783.7L196.7 783.2L197.1 782.7L197.6 782.5L197.8 782L198.2 781.7L198.5 781.3L198.8 780.8L199.3 780.5L199.6 780.2L200 779.8L200.2 779.3L200.6 778.9L201 778.6L200.3 777.2L201.7 777.9L202.2 777.6L202.4 777.1L202.8 776.8L201.9 775.1L203.6 776.1L204 775.7L204.4 775.4L204.7 775L205.1 774.7L205.4 774.2L205.9 774L206.1 773.5L206.5 773.2L206.9 772.8L207.2 772.4L207.8 772.2L208.1 771.8L208.4 771.4L208.9 771.2L209.2 770.7L209.6 770.4L210 770.1L210.4 769.8L210.9 769.5L211.3 769.2L211.6 768.7L212.1 768.5L212.5 768.2L212.9 767.8L213.1 767.4L213.7 767.2L214.1 766.9L214.4 766.4L214.9 766.3L215.3 765.9L215.6 765.5L216.1 765.3L216.5 764.9L217 764.7L216 762.5L217.7 764L218.1 763.6L218.6 763.4L219 763.1L219.4 762.7L219.8 762.5L220.3 762.2L220.7 761.9L221 761.5L221.6 761.3L222 761L222.4 760.7L219.6 755.6L220.4 755.9L220.7 755.3L221.8 756.1L222.3 755.8L224 757.5L223 755L222.7 753.5L223.9 754.4L224 753.5L225.1 754.2L226.7 755.9L226.2 754L227.6 755.4L226.7 752.7L228.2 754.2L228.9 754.4L227.3 750.7L229.3 753L228.6 750.8L229.2 750.8L229.6 750.2L230 749.9L232 752.5L232.4 752.1L230.9 748.1L232.9 750.8L232.8 749.5L234.3 751.1L234 749.5L235.1 750.5L235.9 750.8L235.2 748.4L236.3 749.4L236.9 749.3L237.1 748.6L236.7 746.5L237.4 746.8L237.9 746.6L238.8 747.1L239.7 747.9L239.7 746.6L239.1 744L241 747L240.9 745.3L242.2 747L242.1 745.4L242.1 744L243.4 745.8L242.8 743L244.4 745.3L244.2 743.6L244.7 743.3L244.5 741.6L245.9 743.5L246.8 744.3L246.2 741.3L248.3 745.2L248.3 743.8L248.9 743.9L248.9 742.4L248.5 739.9L249.8 741.7L249.8 740.2L251.1 742.1L251.6 742L252.6 743.3L252.9 742.5L252.6 740.1L253.8 742L254.1 741L254.9 742L255.2 741.1L256.1 742L256.4 741.2L256.7 740.7L257.4 741L257.3 738.9L258.6 741.2L258.5 739.2L259.7 741.2L259.3 738.2L260.3 739.6L261 740.1L261.5 739.9L261.1 736.7L261.6 736.2L261.3 732.9L263.4 738.8L263.4 736.7L264.2 737.8L265 738.7L265.1 736.9L266.1 738.8L266.7 738.9L267.2 738.9L267.4 737.6L268.3 738.8L268.7 738.2L268.7 735.9L269.3 736.2L269.2 732.8L270.6 737.1L271 736.2L271.7 737.3L272.4 738.1L272.5 735.8L273.4 737.7L274 737.9L274.1 735.4L274.8 736.5L275.5 737.5L275.8 736.4L276.5 737.4L276.4 732.8L277.4 735.8L277.9 736.1L278.3 735.2L279 735.9L279 732.5L279.6 732.7L280.6 735.8L281.2 736.3L281.7 736.6L282.2 736L282.6 734.9L283.1 735L283.3 731.9L283.9 731.6L284.7 734.4L285.3 735.1L285.6 733L286.4 735.4L286.6 738.2A134.6 134.6 0 0 0 172.3 824.3Z" fill="#f2f21a"/>
<path d="M177 826.1L178.8 826.2L177 825L176.7 824.4L178.9 824.7L176.1 823L176 822.4L175.6 821.7L177.7 822.1L175.9 820.8L178.2 821.2L178.4 820.7L178.6 820.3L177.2 819.1L178.9 819.3L180.8 819.6L181.9 819.6L180.7 818.5L180.1 817.6L179.2 816.7L178.2 815.7L181.5 816.7L179.9 815.4L180.8 815.2L181.9 815.2L180.7 814.1L181.9 814.1L181.5 813.3L183.5 813.8L183.5 813.2L182 811.9L180.8 810.7L183.9 811.8L184.4 811.5L183 810.2L182.9 809.6L184.9 810.1L184.4 809.2L184.7 808.8L182.6 807.1L183.7 807.1L184.8 807.1L187.3 808L187.2 807.4L185.4 805.8L186.7 805.9L184.5 804.1L186.5 804.7L188.1 805.1L185.9 803.1L187.3 803.4L186.4 802.2L186.9 802L186.5 801.1L190.6 803.1L187.3 800.4L190.8 802.1L189.8 800.9L198.4 806L194.3 802.7L190.9 799.8L191.3 799.5L189.1 797.4L192.5 799.1L192.3 798.4L192.5 797.9L190.9 796.1L190.4 795.1L191.1 795L191.6 794.8L192.8 795L193 794.5L191.8 793L195.1 794.9L196.5 795.3L196.5 794.7L197.1 794.5L193.8 791.4L193.8 790.7L197.7 793.1L196.9 791.9L194.7 789.5L196.5 790.3L197.6 790.5L199.5 791.5L196.4 788.3L199.9 790.5L199.4 789.5L198.3 787.9L204.2 792.3L198.1 786.4L200.3 787.6L205.2 791.2L200.7 786.7L202.4 787.5L202.5 786.9L200.6 784.6L201 784.2L203 785.3L202.9 784.6L202.1 783.2L201.3 781.8L203.9 783.5L204.6 783.5L202.9 781.1L203.1 780.6L205.1 781.9L208.9 784.9L204.7 780.1L206.9 781.6L205.5 779.5L210.3 783.6L208.2 780.8L209 780.9L206.2 777.3L209.3 779.8L207.6 777.3L207.6 776.5L209.8 778.2L209.2 776.8L209.4 776.3L208.5 774.5L209.8 775.2L210.1 774.8L211.3 775.4L210.3 773.5L212.5 775.2L212.4 774.4L212 773.1L213.3 773.9L213.1 772.9L214.2 773.4L215.6 774.3L216 774.1L213.7 770.4L214.5 770.7L217.4 773.4L216.2 771.1L218.9 773.8L216.7 770.1L216.6 769.2L217.7 769.8L219.3 771L218.6 769.3L217.7 767.4L220.4 770.1L221 770L220.1 768L221 768.4L222.5 769.7L222 768.1L222.5 767.9L220.9 764.9L223.8 768.1L221.9 764.5L223.7 766.1L224 765.8L223.6 764.3L223.4 763.1L223.7 762.6L223.1 760.9L223.5 760.5L223.9 760.2L224.3 759.8L224.7 759.6L225.2 759.3L225.7 759.2L226.1 758.8L226.6 758.7L226.9 758.2L227.4 758.1L227.9 757.8L228.4 757.6L228.8 757.3L229.2 757L229.7 756.8L230 756.4L230.5 756.2L231 756L231.3 755.5L231.9 755.5L232.2 755L232.7 754.8L233.2 754.7L233.7 754.4L234.1 754.1L234.6 754L235 753.6L235.4 753.3L236 753.3L236.3 752.8L236.8 752.6L237.2 752.3L237.8 752.2L238.3 752.1L238.6 751.6L239.2 751.6L239.6 751.3L240 751L240.5 750.8L241 750.7L241.5 750.4L242 750.3L242.5 750.1L243 749.9L243.3 749.5L243.9 749.4L244.3 749.1L244.7 748.9L245.3 748.8L245.7 748.4L246.3 748.5L246.7 748.2L247.1 747.9L247.6 747.8L248.2 747.7L248.5 747.2L249.1 747.1L249.6 747.1L250 746.8L250.5 746.6L251 746.3L251.5 746.2L251.9 746L252.4 745.9L252.9 745.7L253.4 745.5L253.9 745.3L254.4 745.2L254.9 745.1L255.4 745L255.9 744.8L256.3 744.6L256.8 744.3L257.3 744.3L258.9 747.6L258.3 744L258.8 743.7L259.4 743.8L259.8 743.5L261 745.8L260.8 743.1L261.3 743.1L261.8 742.8L262.3 742.8L262.8 742.6L263.3 742.7L263.7 742.3L264.3 742.4L264.8 742.1L265.3 742L265.8 741.8L266.3 741.7L266.8 741.7L267.6 742.8L267.8 741.6L268.3 741.4L268.8 741.2L269.3 741L269.8 741L270.3 740.8L270.8 740.6L271.3 740.5L271.8 740.7L272.3 740.4L272.8 740.3L273.3 740.3L274.4 743.2L274.3 740L274.8 739.9L275.4 739.8L275.9 739.8L276.4 739.8L276.9 739.7L277.4 739.4L277.9 739.6L278.4 739.4L278.9 739.2L279.7 741.1L279.9 739.1L280.5 739.1L281 739.1L281.5 739.1L282 738.9L282.5 738.8L283 738.8L283.5 738.8L284 738.7L284.6 738.6L285.1 738.5L285.6 738.7L286.1 738.6L286.6 738.5L286.6 738.2A134.6 134.6 0 0 0 172.3 824.3Z" fill="#1a1ae8"/>
<line x1="444.67" y1="923.95" x2="455.52" y2="927.77" stroke="#e01818" stroke-width="1.3"/>
<line x1="319.31" y1="625.72" x2="319.66" y2="621.73" stroke="#8c8c8c" stroke-width="1.4"/>
<line x1="124.34" y1="1048.65" x2="121.53" y2="1051.5" stroke="#8c8c8c" stroke-width="1.4"/>
<line x1="96.68" y1="1016.27" x2="93.43" y2="1018.6" stroke="#8c8c8c" stroke-width="1.4"/>
<line x1="81.24" y1="991.76" x2="77.74" y2="993.69" stroke="#8c8c8c" stroke-width="1.4"/>
<line x1="63.98" y1="952.88" x2="60.2" y2="954.18" stroke="#8c8c8c" stroke-width="1.4"/>
<line x1="55.09" y1="824.86" x2="51.16" y2="824.1" stroke="#8c8c8c" stroke-width="1.4"/>
<line x1="66.78" y1="784.01" x2="63.05" y2="782.58" stroke="#8c8c8c" stroke-width="1.4"/>
<line x1="277.07" y1="625.69" x2="276.74" y2="621.7" stroke="#8c8c8c" stroke-width="1.4"/>
<line x1="484.4" y1="707" x2="488.1" y2="703.3" stroke="#8c8c8c" stroke-width="1.4"/>
<line x1="546.6" y1="872.9" x2="550.6" y2="872.9" stroke="#8c8c8c" stroke-width="1.4"/>
<line x1="474.8" y1="1048" x2="479" y2="1051.7" stroke="#8c8c8c" stroke-width="1.4"/>
<line x1="297.9" y1="1119.8" x2="297.9" y2="1125.2" stroke="#8c8c8c" stroke-width="1.4"/>
<circle cx="753" cy="911.9" r="135.95" fill="none" stroke="#bab6b6" stroke-width="6.7"/>
<path d="M756.2 779.3l0.2 -6.7M871.5 852.4l6 -3M885 899.1l6.7 -0.6M823.2 1024.4l3.5 5.7M750.4 1044.5l-0.1 6.7M638.3 845.4l-5.8 -3.4" stroke="#9c9c9c" stroke-width="0.5" fill="none"/>
<path d="M759.5 779.5l0.3 -6.7M875.9 961.7l6.2 2.5M639.6 980.7l-5.7 3.5" stroke="#bf7070" stroke-width="2" fill="none"/>
<path d="M761.4 779.6l0.4 -6.7M784.1 783l1.6 -6.5M885.6 914.5l6.7 0.1M882.4 940.9l6.5 1.5M764.8 1044l0.6 6.7M698 1032.6l-2.8 6.1M651.2 826.9l-5.1 -4.3" stroke="#d4d4d4" stroke-width="0.5" fill="none"/>
<path d="M764.6 779.8l0.6 -6.7M880.2 949.4l6.4 1.9M803.1 1034.7l2.5 6.2M720.9 1040.6l-1.6 6.5M670.9 1016l-4.1 5.3M631.5 965.1l-6.1 2.7" stroke="#c2c2c2" stroke-width="1.5" fill="none"/>
<path d="M767.7 780.1l0.7 -6.7M885.1 900.5l6.7 -0.6M834.3 1016.7l4.1 5.3" stroke="#b86a6a" stroke-width="0.8" fill="none"/>
<path d="M770.2 780.4l0.9 -6.6M885.4 905.5l6.7 -0.3M715.1 1039l-1.9 6.4M624.2 880.2l-6.5 -1.6M668.1 810.1l-4.3 -5.1" stroke="#bcbcbc" stroke-width="0.9" fill="none"/>
<path d="M771.5 780.6l0.9 -6.6M861.3 988.5l5.5 3.9M852.5 999.5l5 4.4M624.8 945.7l-6.5 1.7M653.8 823.9l-5 -4.4" stroke="#c07878" stroke-width="1.1" fill="none"/>
<path d="M773.1 780.8l1 -6.6M872.4 969.6l6 2.9M709.1 1037l-2.2 6.3M646.3 990.6l-5.4 4M735.5 780.5l-0.9 -6.6" stroke="#c07878" stroke-width="1.5" fill="none"/>
<path d="M774.5 781.1l1.1 -6.6M833 806.2l4 -5.3M787.2 1040l1.7 6.5" stroke="#a8a8a8" stroke-width="0.7" fill="none"/>
<path d="M776.7 781.4l1.2 -6.6M816.8 795.6l3.2 -5.9M756.9 1044.4l0.2 6.7M669.8 1015.1l-4.2 5.2M642.8 838.1l-5.6 -3.7" stroke="#d4a4a4" stroke-width="2" fill="none"/>
<path d="M777.8 781.6l1.3 -6.6M884.8 897.2l6.7 -0.7M746.5 1044.3l-0.3 6.7M682.7 1024.3l-3.6 5.7M622 891.5l-6.6 -1M738.8 780.1l-0.7 -6.7" stroke="#a8a8a8" stroke-width="1.5" fill="none"/>
<path d="M780.7 782.2l1.4 -6.6M706.4 1036.1l-2.4 6.3M633.2 855l-6.1 -2.9M635.3 850.8l-5.9 -3.1" stroke="#9c9c9c" stroke-width="0.7" fill="none"/>
<path d="M783.1 782.8l1.5 -6.5M783.3 1041l1.5 6.5M771.9 1043.1l1 6.6M626 873.9l-6.4 -1.9M666.7 811.2l-4.4 -5.1M697.7 791.4l-2.8 -6.1" stroke="#c47a84" stroke-width="1.1" fill="none"/>
<path d="M786.9 783.7l1.7 -6.5M865.8 842.2l5.7 -3.5M870.5 850.4l5.9 -3.1M654.9 1001.1l-5 4.5M636 974.4l-5.9 3.2M625.8 949.3l-6.4 1.9M625.4 947.9l-6.4 1.8M620.7 903l-6.7 -0.5M670.3 808.2l-4.2 -5.2M679.9 801.3l-3.7 -5.6" stroke="#dcdcdc" stroke-width="0.7" fill="none"/>
<path d="M788.9 784.3l1.8 -6.4M839.8 811.7l4.4 -5.1M876.3 960.7l6.2 2.5M687.9 796.4l-3.3 -5.8" stroke="#c2c2c2" stroke-width="1.1" fill="none"/>
<path d="M790.8 784.8l1.9 -6.4M883.4 887.7l6.6 -1.2M650 995.4l-5.2 4.2" stroke="#d4a4a4" stroke-width="1.5" fill="none"/>
<path d="M794.2 785.9l2.1 -6.4M732.1 781l-1.1 -6.6" stroke="#b86a6a" stroke-width="1.5" fill="none"/>
<path d="M796.9 786.8l2.2 -6.3M849.3 820.8l4.9 -4.6M676.9 1020.5l-3.8 5.5M651.9 826.1l-5.1 -4.3M679 801.9l-3.7 -5.6" stroke="#cccccc" stroke-width="0.7" fill="none"/>
<path d="M799.9 787.9l2.4 -6.3M621.4 928.2l-6.6 0.8M650.5 827.8l-5.2 -4.3" stroke="#9c9c9c" stroke-width="1.1" fill="none"/>
<path d="M801.3 788.4l2.4 -6.2M883.9 933.1l6.6 1.1M869.7 974.9l5.9 3.2M774.8 1042.7l1.1 6.6M743.6 1044.2l-0.5 6.7M623.9 942.2l-6.5 1.5M707.1 787.5l-2.3 -6.3" stroke="#cf9898" stroke-width="1.5" fill="none"/>
<path d="M803.3 789.2l2.5 -6.2M869.3 848.2l5.9 -3.2M884 891.1l6.6 -1.1M840 1011.9l4.4 5.1M713.5 785.3l-2 -6.4" stroke="#bcbcbc" stroke-width="0.7" fill="none"/>
<path d="M804.9 789.9l2.6 -6.2M831 1019.1l3.9 5.4M660.1 1006.5l-4.7 4.8M648.1 993l-5.3 4.1M629.7 960.7l-6.2 2.5M620.4 914.6l-6.7 0.1M621 898.9l-6.7 -0.7M689.1 795.7l-3.2 -5.9M694.7 792.8l-2.9 -6M749.1 779.4l-0.2 -6.7" stroke="#c88888" stroke-width="2" fill="none"/>
<path d="M807.5 791l2.8 -6.1M884.5 894.5l6.6 -0.9M874.6 964.7l6.1 2.7M813.6 1029.8l3.1 6M620.6 904.4l-6.7 -0.4" stroke="#cf9898" stroke-width="2.6" fill="none"/>
<path d="M810.8 792.6l2.9 -6" stroke="#c47a84" stroke-width="2" fill="none"/>
<path d="M811.8 793.1l3 -6M814 794.2l3.1 -5.9M877.7 956.9l6.3 2.3M644.9 835.2l-5.5 -3.9" stroke="#c07878" stroke-width="0.8" fill="none"/>
<path d="M819.9 797.4l3.4 -5.8M885.5 908l6.7 -0.2M686.3 797.3l-3.4 -5.8" stroke="#a2a2a2" stroke-width="1.1" fill="none"/>
<path d="M820.9 798l3.4 -5.8" stroke="#bf7070" stroke-width="2.6" fill="none"/>
<path d="M824.1 800l3.6 -5.7M873.5 856.6l6.1 -2.8M662.5 1008.8l-4.6 4.9M709.6 786.6l-2.2 -6.3" stroke="#d4a4a4" stroke-width="2.6" fill="none"/>
<path d="M826.9 801.8l3.7 -5.6M791.6 1038.8l1.9 6.4" stroke="#aeaeae" stroke-width="1.5" fill="none"/>
<path d="M829 803.2l3.8 -5.5M795 1037.7l2.1 6.4M621.8 892.6l-6.6 -1M719.9 783.5l-1.7 -6.5" stroke="#c2c2c2" stroke-width="0.9" fill="none"/>
<path d="M831.4 804.9l4 -5.4M855.3 996.3l5.2 4.3M630.9 963.7l-6.2 2.6M623.1 938.8l-6.6 1.4M682 799.9l-3.6 -5.7" stroke="#9c9c9c" stroke-width="1.5" fill="none"/>
<path d="M834.8 807.6l4.1 -5.3M885.2 902l6.7 -0.5M701.1 1033.9l-2.6 6.2M673.4 1018l-4 5.4M633.6 969.7l-6 2.9M647.2 832l-5.3 -4M705.6 788l-2.4 -6.3" stroke="#cccccc" stroke-width="0.5" fill="none"/>
<path d="M836.1 808.6l4.2 -5.2M863.1 838l5.6 -3.7M881.3 878.6l6.5 -1.7M810.2 1031.5l2.9 6M648.6 830.1l-5.3 -4.1" stroke="#a8a8a8" stroke-width="0.5" fill="none"/>
<path d="M838.5 810.6l4.3 -5.1M842.1 813.7l4.5 -5M883.5 935.7l6.6 1.2M879.7 951.1l6.4 2M657.2 1003.6l-4.8 4.6M625 877.4l-6.5 -1.7M627 870.5l-6.4 -2.1M641 840.8l-5.7 -3.6" stroke="#dcdcdc" stroke-width="0.5" fill="none"/>
<path d="M844.8 816.2l4.6 -4.8M885.3 903.7l6.7 -0.4M626.5 951.6l-6.4 2M634.3 852.7l-6 -3M656.3 821.2l-4.9 -4.6" stroke="#b86a6a" stroke-width="2" fill="none"/>
<path d="M845.5 816.9l4.7 -4.8M804.9 1033.9l2.6 6.2M726.4 1041.8l-1.3 6.6M664.6 813.1l-4.5 -5" stroke="#c88888" stroke-width="0.8" fill="none"/>
<path d="M848.2 819.6l4.8 -4.7M885.4 919.6l6.7 0.4M884.5 929.2l6.6 0.9M867.6 978.7l5.8 3.4M854 997.8l5.1 4.3M642.3 985l-5.6 3.7" stroke="#c47a84" stroke-width="0.8" fill="none"/>
<path d="M851.6 823.2l5 -4.5M882.9 938.7l6.6 1.4M881.4 944.9l6.5 1.7M680.9 1023.2l-3.6 5.6M640.9 982.7l-5.7 3.6M672.9 806.2l-4 -5.3M685.1 798l-3.4 -5.8M701.4 789.7l-2.6 -6.2" stroke="#a8a8a8" stroke-width="0.9" fill="none"/>
<path d="M852.9 824.7l5 -4.4M879.8 873.2l6.4 -2M863.2 985.6l5.6 3.7M856.6 994.6l5.2 4.2M634.4 971.3l-6 3M622.6 936.1l-6.6 1.2M625.7 874.9l-6.4 -1.9M673.9 805.5l-4 -5.4" stroke="#cccccc" stroke-width="0.9" fill="none"/>
<path d="M855.1 827.3l5.2 -4.3M877.2 865.6l6.3 -2.3M807.8 1032.7l2.8 6.1M679.9 1022.5l-3.7 5.6M622.7 887l-6.6 -1.3" stroke="#c2c2c2" stroke-width="0.7" fill="none"/>
<path d="M856.5 829l5.2 -4.2M860.8 834.7l5.4 -3.9M778.2 1042.1l1.3 6.6M675.6 1019.6l-3.9 5.4" stroke="#aeaeae" stroke-width="0.7" fill="none"/>
<path d="M858.8 832l5.3 -4M622.2 890.2l-6.6 -1.1M631.2 859.4l-6.2 -2.7" stroke="#b86a6a" stroke-width="1.1" fill="none"/>
<path d="M863.7 839l5.6 -3.7M730.2 1042.5l-1.2 6.6M728.1 1042.1l-1.3 6.6" stroke="#cf9898" stroke-width="2" fill="none"/>
<path d="M867.4 844.8l5.8 -3.4M628.7 958.1l-6.3 2.3M623.6 940.7l-6.5 1.5M620.5 917.6l-6.7 0.3M676.4 803.6l-3.9 -5.5" stroke="#bcbcbc" stroke-width="1.5" fill="none"/>
<path d="M873 855.6l6.1 -2.8M885.6 912.1l6.7 0M825.6 1022.9l3.7 5.6M639.6 843.2l-5.7 -3.5" stroke="#bf7070" stroke-width="1.1" fill="none"/>
<path d="M874.9 859.6l6.2 -2.6M881.8 880.4l6.5 -1.6" stroke="#c88888" stroke-width="2.6" fill="none"/>
<path d="M875.9 862.2l6.2 -2.5M761.9 1044.2l0.4 6.7" stroke="#aeaeae" stroke-width="0.5" fill="none"/>
<path d="M878.6 869.3l6.3 -2.2M885.3 921.1l6.7 0.5M725.2 782.2l-1.4 -6.6" stroke="#bf7070" stroke-width="1.5" fill="none"/>
<path d="M880.7 876.4l6.5 -1.8M885.1 923.4l6.7 0.6M884.7 927.4l6.7 0.8M866 981.3l5.7 3.5M695 1031.2l-2.9 6M746.6 779.5l-0.3 -6.7" stroke="#a2a2a2" stroke-width="1.5" fill="none"/>
<path d="M882.7 884.2l6.6 -1.4M836.2 1015.1l4.2 5.2M801 1035.5l2.4 6.2M788.9 1039.5l1.8 6.4M689 1028l-3.2 5.9M631.9 966l-6.1 2.7M728.2 781.6l-1.3 -6.6M737.7 780.2l-0.8 -6.7" stroke="#d4d4d4" stroke-width="0.9" fill="none"/>
<path d="M885.5 918.1l6.7 0.3M792.6 1038.4l2 6.4M699.8 790.5l-2.7 -6.1" stroke="#b86a6a" stroke-width="2.6" fill="none"/>
<path d="M881.8 943.5l6.5 1.6M620.5 907.9l-6.7 -0.2M621.3 896.2l-6.7 -0.8M623.2 885l-6.6 -1.4" stroke="#cf9898" stroke-width="0.8" fill="none"/>
<path d="M880.5 948.3l6.4 1.8M878.3 955.4l6.3 2.2M753.4 1044.5l0 6.7M696.2 1031.7l-2.9 6.1" stroke="#d4d4d4" stroke-width="0.7" fill="none"/>
<path d="M878.6 954.3l6.3 2.1M828.2 1021.1l3.8 5.5M630.2 861.8l-6.2 -2.5" stroke="#bcbcbc" stroke-width="1.1" fill="none"/>
<path d="M873.8 966.7l6.1 2.8M871.6 971.2l6 3M644.1 987.5l-5.5 3.8" stroke="#c47a84" stroke-width="2.6" fill="none"/>
<path d="M870.8 972.7l6 3.1M732.7 1042.9l-1 6.6M691.9 1029.6l-3.1 5.9" stroke="#a2a2a2" stroke-width="0.7" fill="none"/>
<path d="M868.7 976.7l5.8 3.3M842.8 1009.5l4.5 4.9M798.8 1036.4l2.3 6.3M770.7 1043.3l0.9 6.6M741.7 779.8l-0.6 -6.7" stroke="#c2c2c2" stroke-width="0.5" fill="none"/>
<path d="M864.6 983.5l5.6 3.6M755.4 1044.5l0.1 6.7M666.6 1012.5l-4.4 5.1M620.6 905.5l-6.7 -0.3" stroke="#a2a2a2" stroke-width="0.5" fill="none"/>
<path d="M860.1 990.1l5.4 4M651 996.6l-5.2 4.3" stroke="#d4a4a4" stroke-width="1.1" fill="none"/>
<path d="M858.1 992.7l5.3 4.1M702.2 1034.4l-2.6 6.2M628.3 866.8l-6.3 -2.3" stroke="#bf7070" stroke-width="0.8" fill="none"/>
<path d="M850.5 1001.8l4.9 4.5M838 1013.7l4.3 5.1M740.9 1043.9l-0.6 6.7M737.8 1043.6l-0.8 6.7M703.9 1035.1l-2.5 6.2M621 924.8l-6.7 0.7" stroke="#c88888" stroke-width="1.1" fill="none"/>
<path d="M848.4 1003.9l4.8 4.7M620.7 920.8l-6.7 0.4M743.5 779.6l-0.5 -6.7" stroke="#cf9898" stroke-width="1.1" fill="none"/>
<path d="M845.7 1006.8l4.7 4.8M760.2 1044.3l0.4 6.7" stroke="#c07878" stroke-width="2.6" fill="none"/>
<path d="M820.7 1025.9l3.4 5.8M745.1 779.5l-0.4 -6.7" stroke="#a8a8a8" stroke-width="1.1" fill="none"/>
<path d="M818.7 1027.1l3.3 5.8M622.4 934.7l-6.6 1.1M621.9 931.8l-6.6 1" stroke="#aeaeae" stroke-width="1.1" fill="none"/>
<path d="M816.1 1028.5l3.2 5.9M717.2 1039.6l-1.8 6.5M620.4 910.7l-6.7 -0.1M636.6 848.4l-5.9 -3.2M659.6 817.7l-4.7 -4.8M691.8 794.3l-3.1 -5.9M722.5 782.9l-1.5 -6.5" stroke="#dcdcdc" stroke-width="0.9" fill="none"/>
<path d="M780.9 1041.5l1.4 6.6M690.5 1028.8l-3.2 5.9" stroke="#c88888" stroke-width="1.5" fill="none"/>
<path d="M779.2 1041.9l1.3 6.6" stroke="#c47a84" stroke-width="1.5" fill="none"/>
<path d="M768.4 1043.6l0.8 6.7M654.8 822.8l-5 -4.5M662.3 815.2l-4.6 -4.9" stroke="#c07878" stroke-width="2" fill="none"/>
<path d="M752.1 1044.5l0 6.7M736.5 1043.5l-0.8 6.6M723.3 1041.1l-1.5 6.5M686.1 1026.4l-3.4 5.8M637.9 977.8l-5.8 3.3M632.1 857.5l-6.1 -2.8" stroke="#d4a4a4" stroke-width="0.8" fill="none"/>
<path d="M712.3 1038.1l-2.1 6.4M653 999l-5.1 4.4M623.7 882.6l-6.5 -1.5M702.7 789.2l-2.5 -6.2M712.5 785.7l-2 -6.4M716.2 784.5l-1.9 -6.4" stroke="#bcbcbc" stroke-width="0.5" fill="none"/>
<path d="M663.8 1010l-4.5 5M629.2 864.3l-6.3 -2.4" stroke="#aeaeae" stroke-width="0.9" fill="none"/>
<path d="M627.7 955.4l-6.3 2.2M620.4 913l-6.7 0.1" stroke="#9c9c9c" stroke-width="0.9" fill="none"/>
<path d="M657.1 820.3l-4.8 -4.6" stroke="#a2a2a2" stroke-width="0.9" fill="none"/>
<path d="M853.1 824.9L858.1 820.5L860.2 822.9L855 827.2ZM860.3 989.8L865.7 993.8L864.8 995L859.5 991Z" fill="#2424dc"/>
<circle cx="753" cy="911.9" r="140.4" fill="none" stroke="#8c8c8c" stroke-width="1.5"/>
<circle cx="753" cy="911.9" r="124.3" fill="none" stroke="#bab6b6" stroke-width="5.8"/>
<path d="M754.9 790.5l0.1 -5.8M807.3 803.3l2.6 -5.2M851.7 982.5l4.7 3.4" stroke="#aeaeae" stroke-width="1.1" fill="none"/>
<path d="M756.1 790.5l0.1 -5.8M851.6 841.1l4.7 -3.4M781.2 1030l1.3 5.6" stroke="#bf7070" stroke-width="2.6" fill="none"/>
<path d="M760.1 790.7l0.3 -5.8M863.5 962.2l5.3 2.4M775.1 1031.3l1.1 5.7M751.3 1033.3l-0.1 5.8M665.1 995.6l-4.2 4M636.5 877.7l-5.6 -1.6" stroke="#d4a4a4" stroke-width="0.8" fill="none"/>
<path d="M761.6 790.8l0.4 -5.8M653 980.7l-4.8 3.3M675.8 818.2l-3.7 -4.5M710.8 798.1l-2 -5.4" stroke="#c07878" stroke-width="2.6" fill="none"/>
<path d="M764.6 791.1l0.6 -5.8M831.7 819.5l3.8 -4.4M870.1 944l5.6 1.5M838.1 998.5l4.1 4.1M817.9 1014.5l3.1 4.9M636.5 946l-5.6 1.6M730 792.7l-1.1 -5.7" stroke="#cf9898" stroke-width="0.8" fill="none"/>
<path d="M766.3 791.2l0.6 -5.8M873.8 923.6l5.8 0.6M632.5 897.1l-5.8 -0.7M640.1 867.3l-5.4 -2.1" stroke="#a8a8a8" stroke-width="0.7" fill="none"/>
<path d="M769.7 791.6l0.8 -5.7M802.6 1022.7l2.4 5.3M655 983.6l-4.7 3.4M632.1 923.2l-5.8 0.5M642.8 861l-5.3 -2.4" stroke="#c2c2c2" stroke-width="0.7" fill="none"/>
<path d="M771.2 791.9l0.9 -5.7M873.1 894.2l5.7 -0.8M650.9 977.5l-4.9 3.1" stroke="#a2a2a2" stroke-width="1.1" fill="none"/>
<path d="M774.1 792.4l1 -5.7M768.5 1032.3l0.7 5.8M755 1033.3l0.1 5.8M753.6 1033.3l0 5.8M748 1033.2l-0.2 5.8M745.3 1033.1l-0.4 5.8M724.4 1029.9l-1.4 5.6" stroke="#a8a8a8" stroke-width="0.5" fill="none"/>
<path d="M777.2 792.9l1.2 -5.7M649.7 975.7l-4.9 3M631.6 909.9l-5.8 -0.1M632.8 894.9l-5.7 -0.8" stroke="#a8a8a8" stroke-width="1.1" fill="none"/>
<path d="M780.7 793.7l1.3 -5.6M850.8 983.8l4.7 3.4" stroke="#cf9898" stroke-width="1.5" fill="none"/>
<path d="M783.6 794.4l1.5 -5.6" stroke="#a2a2a2" stroke-width="0.9" fill="none"/>
<path d="M785.9 795.1l1.6 -5.6M634.4 937.8l-5.7 1.2M660.8 832.9l-4.4 -3.8" stroke="#aeaeae" stroke-width="0.5" fill="none"/>
<path d="M787.9 795.6l1.7 -5.6M868.3 950l5.5 1.8M741.7 1032.8l-0.5 5.8M701 1021.6l-2.5 5.2M672.1 1002.4l-3.9 4.3" stroke="#b86a6a" stroke-width="1.5" fill="none"/>
<path d="M789.4 796.1l1.7 -5.5M667.2 826l-4.1 -4.1M679.2 815.5l-3.5 -4.6" stroke="#bf7070" stroke-width="1.1" fill="none"/>
<path d="M790.9 796.6l1.8 -5.5M865.9 867.3l5.4 -2.1M795.8 1025.5l2 5.4M660.9 991l-4.4 3.8M637 876.2l-5.5 -1.7" stroke="#c88888" stroke-width="1.5" fill="none"/>
<path d="M793.2 797.3l1.9 -5.5M826.2 815l3.5 -4.6M853.7 844.1l4.8 -3.2M874.2 905l5.8 -0.3M715.3 1027.3l-1.8 5.5" stroke="#dcdcdc" stroke-width="0.7" fill="none"/>
<path d="M796.4 798.5l2.1 -5.4M872.1 935.4l5.7 1.1M786.5 1028.6l1.6 5.6M695.6 1018.9l-2.7 5.1" stroke="#aeaeae" stroke-width="0.7" fill="none"/>
<path d="M799 799.6l2.2 -5.4M820.8 811.2l3.2 -4.8M849.4 838.1l4.6 -3.5M869 876l5.5 -1.7M800.6 1023.6l2.3 5.3M793.1 1026.5l1.9 5.5M756.8 1033.2l0.2 5.8M726 1030.3l-1.3 5.7M632.1 901.2l-5.8 -0.5M645.5 855.5l-5.1 -2.7" stroke="#d4d4d4" stroke-width="0.7" fill="none"/>
<path d="M802.4 801l2.4 -5.3M805.9 1021.1l2.5 5.2M644.3 965.9l-5.2 2.6M669.4 823.9l-4 -4.2M751.2 790.5l-0.1 -5.8" stroke="#aeaeae" stroke-width="0.9" fill="none"/>
<path d="M804.7 802.1l2.5 -5.2M863.9 961.2l5.3 2.4M857.9 973.1l5 2.9M719.5 795.2l-1.6 -5.6" stroke="#cccccc" stroke-width="0.7" fill="none"/>
<path d="M810.3 804.9l2.7 -5.1M846.2 834.1l4.5 -3.7M848.7 837.2l4.6 -3.6M873.5 926.8l5.8 0.7M870.9 941l5.6 1.4M865.5 957.6l5.4 2.2M812.3 1017.9l2.8 5.1M655.2 840l-4.7 -3.4M657.5 836.9l-4.6 -3.6M747 790.6l-0.3 -5.8" stroke="#d4d4d4" stroke-width="0.9" fill="none"/>
<path d="M813 806.3l2.9 -5M862.1 858.6l5.2 -2.5M808.8 1019.7l2.7 5.2M771.3 1031.9l0.9 5.7M706.5 799.7l-2.2 -5.4" stroke="#dcdcdc" stroke-width="0.5" fill="none"/>
<path d="M816.3 808.3l3 -4.9M638 950.8l-5.5 1.9M673.9 819.8l-3.8 -4.4" stroke="#c2c2c2" stroke-width="1.5" fill="none"/>
<path d="M818.8 809.9l3.1 -4.9M718.1 1028.2l-1.7 5.6M713.1 1026.6l-1.9 5.5M705.6 1023.7l-2.3 5.3M634 887.6l-5.7 -1.2M656 838.9l-4.6 -3.5M726.6 793.4l-1.3 -5.7" stroke="#aeaeae" stroke-width="1.5" fill="none"/>
<path d="M821.7 811.8l3.3 -4.8M837.1 824.4l4 -4.2M844.8 832.4l4.4 -3.8M869.9 879.1l5.6 -1.6M686.1 1013.2l-3.2 4.8" stroke="#dcdcdc" stroke-width="0.9" fill="none"/>
<path d="M824.1 813.5l3.4 -4.7M867.7 872.1l5.5 -1.9M740.4 1032.6l-0.6 5.8M658.9 988.7l-4.5 3.7M631.8 918.1l-5.8 0.3" stroke="#c88888" stroke-width="1.1" fill="none"/>
<path d="M828.5 816.9l3.6 -4.5M743.9 1033l-0.4 5.8M670 1000.5l-4 4.2M664.5 828.8l-4.2 -4M694.2 805.7l-2.8 -5.1" stroke="#9c9c9c" stroke-width="0.7" fill="none"/>
<path d="M829.6 817.7l3.7 -4.5M873.9 922.4l5.8 0.5M861 967.4l5.2 2.7M859.4 970.3l5.1 2.8M634.5 885.6l-5.7 -1.3" stroke="#c2c2c2" stroke-width="0.9" fill="none"/>
<path d="M830.6 818.6l3.7 -4.5M709.4 1025.2l-2.1 5.4M704 1023l-2.3 5.3M675.5 1005.3l-3.7 4.5" stroke="#b86a6a" stroke-width="1.1" fill="none"/>
<path d="M834.7 822.1l3.9 -4.3M681 814.2l-3.4 -4.7M739.4 791.3l-0.6 -5.8" stroke="#c2c2c2" stroke-width="0.5" fill="none"/>
<path d="M837.9 825.1l4.1 -4.1M638.4 872l-5.5 -1.9" stroke="#bcbcbc" stroke-width="0.7" fill="none"/>
<path d="M839.5 826.7l4.1 -4.1M842 829.4l4.3 -3.9M789.6 1027.6l1.8 5.5M653.3 842.6l-4.8 -3.3" stroke="#9c9c9c" stroke-width="0.5" fill="none"/>
<path d="M840.8 828l4.2 -4M729.6 1031l-1.1 5.7M692.5 1017.2l-2.9 5M631.9 920.2l-5.8 0.4M742.5 791l-0.5 -5.8" stroke="#c47a84" stroke-width="2.6" fill="none"/>
<path d="M844.1 831.7l4.4 -3.8M868.4 874.3l5.5 -1.8M836.8 999.7l4 4.2M638.6 952.4l-5.5 1.9M632.3 925.2l-5.8 0.6M646.9 853l-5.1 -2.8M707.8 799.2l-2.2 -5.4M735.8 791.7l-0.8 -5.7" stroke="#bf7070" stroke-width="0.8" fill="none"/>
<path d="M850.8 839.9l4.7 -3.4" stroke="#d4a4a4" stroke-width="1.1" fill="none"/>
<path d="M855.8 847.3l4.9 -3.1M874 921.4l5.8 0.5M864.8 959.3l5.3 2.3M785.1 1029l1.5 5.6M665.4 827.8l-4.2 -4M685.3 811.1l-3.2 -4.8M717.7 795.7l-1.7 -5.5" stroke="#cccccc" stroke-width="0.9" fill="none"/>
<path d="M856.5 848.4l4.9 -3M874.4 912l5.8 0M678 1007.3l-3.6 4.6M631.8 904.5l-5.8 -0.4M745.3 790.7l-0.4 -5.8" stroke="#c47a84" stroke-width="1.1" fill="none"/>
<path d="M857.9 850.7l5 -2.9" stroke="#c88888" stroke-width="2.6" fill="none"/>
<path d="M859.2 853.1l5.1 -2.8M776.4 1031l1.1 5.7M631.7 906.2l-5.8 -0.3" stroke="#bcbcbc" stroke-width="1.1" fill="none"/>
<path d="M859.7 854.1l5.1 -2.8M863 860.6l5.3 -2.5M831 1004.9l3.7 4.4" stroke="#9c9c9c" stroke-width="0.9" fill="none"/>
<path d="M861.1 856.6l5.2 -2.6M866.4 868.5l5.4 -2.1" stroke="#cf9898" stroke-width="2" fill="none"/>
<path d="M863.9 862.4l5.3 -2.4M822.4 1011.5l3.3 4.8M633.7 934.2l-5.7 1.1" stroke="#a8a8a8" stroke-width="1.5" fill="none"/>
<path d="M865.5 866.2l5.4 -2.2" stroke="#a8a8a8" stroke-width="0.9" fill="none"/>
<path d="M870.7 882.4l5.6 -1.4M682 1010.4l-3.4 4.7M643.7 859.1l-5.2 -2.5M689.8 808.3l-3 -5" stroke="#c07878" stroke-width="1.5" fill="none"/>
<path d="M871.2 884.1l5.6 -1.3M733.5 1031.7l-0.9 5.7" stroke="#a2a2a2" stroke-width="0.5" fill="none"/>
<path d="M872 887.8l5.7 -1.1M874 901.5l5.8 -0.5M647.1 971.2l-5.1 2.8M645.7 968.7l-5.1 2.7M639.9 955.9l-5.4 2.1M637.3 948.5l-5.5 1.7M691.4 807.3l-2.9 -5" stroke="#c47a84" stroke-width="2" fill="none"/>
<path d="M872.5 890.3l5.7 -1M671 822.4l-3.9 -4.3M702.7 801.4l-2.4 -5.3" stroke="#c07878" stroke-width="2" fill="none"/>
<path d="M873.6 898.2l5.8 -0.7M874.3 915.5l5.8 0.2M815.1 1016.2l3 5M679.3 1008.4l-3.5 4.6M633.6 889.8l-5.7 -1.1M640.8 865.6l-5.4 -2.2M660 833.8l-4.4 -3.7" stroke="#bcbcbc" stroke-width="1.5" fill="none"/>
<path d="M874.3 908.2l5.8 -0.2M871.6 937.9l5.7 1.2M821 1012.5l3.2 4.8M640.3 957.1l-5.4 2.2" stroke="#c07878" stroke-width="0.8" fill="none"/>
<path d="M874.4 910.3l5.8 -0.1M868.9 947.9l5.5 1.7M862.7 963.9l5.2 2.5M760.5 1033.1l0.4 5.8M688.4 1014.7l-3.1 4.9M648.7 974.1l-5 3M641.6 960.1l-5.3 2.3M668.2 825l-4.1 -4.2" stroke="#b86a6a" stroke-width="2" fill="none"/>
<path d="M874.2 918.9l5.8 0.3M848.9 986.4l4.6 3.6M834.1 1002.3l3.9 4.3M707 1024.2l-2.2 5.4M698.2 1020.2l-2.6 5.2M683.3 1011.3l-3.3 4.7" stroke="#b86a6a" stroke-width="2.6" fill="none"/>
<path d="M874.1 920.1l5.8 0.4M867.5 952.3l5.5 1.9M846.8 989l4.5 3.7M684.9 1012.4l-3.3 4.8M631.7 916l-5.8 0.2M635.8 880.2l-5.6 -1.5M641.8 863.1l-5.3 -2.3M648.3 850.4l-5 -2.9M649.8 848l-4.9 -3.1" stroke="#d4d4d4" stroke-width="0.5" fill="none"/>
<path d="M873.2 928.8l5.7 0.8M633.2 892l-5.7 -1M698.8 803.2l-2.6 -5.2" stroke="#d4a4a4" stroke-width="1.5" fill="none"/>
<path d="M872.7 932.3l5.7 1M835.5 1001l3.9 4.3M764.8 1032.7l0.6 5.8M762.3 1032.9l0.4 5.8M688.2 809.2l-3.1 -4.9" stroke="#bcbcbc" stroke-width="0.5" fill="none"/>
<path d="M870.4 943l5.6 1.5M635.6 942.7l-5.6 1.5M732.4 792.3l-1 -5.7" stroke="#bcbcbc" stroke-width="0.9" fill="none"/>
<path d="M866.4 955.4l5.4 2.1M824.7 1009.8l3.4 4.7M777.7 1030.8l1.2 5.7M667.7 998.3l-4.1 4.1M663.2 993.6l-4.3 3.9M662.6 830.8l-4.3 -3.9" stroke="#c88888" stroke-width="2" fill="none"/>
<path d="M856.3 975.7l4.9 3M723 794.3l-1.4 -5.6" stroke="#c88888" stroke-width="0.8" fill="none"/>
<path d="M855.2 977.5l4.9 3.1M632.8 929l-5.7 0.8M709 798.8l-2.1 -5.4" stroke="#c47a84" stroke-width="0.8" fill="none"/>
<path d="M852.9 980.9l4.8 3.3M634.7 939.1l-5.7 1.3M632 921.5l-5.8 0.5" stroke="#a2a2a2" stroke-width="0.7" fill="none"/>
<path d="M844.6 991.6l4.4 3.8M633.2 931.7l-5.7 0.9M684.2 811.9l-3.3 -4.8" stroke="#a2a2a2" stroke-width="1.5" fill="none"/>
<path d="M842.8 993.6l4.3 3.9M719.2 1028.5l-1.6 5.6" stroke="#9c9c9c" stroke-width="1.5" fill="none"/>
<path d="M842.1 994.4l4.3 3.9M725 793.8l-1.3 -5.6" stroke="#bf7070" stroke-width="1.5" fill="none"/>
<path d="M840.2 996.4l4.2 4M734.5 1031.9l-0.9 5.7M721.6 1029.2l-1.5 5.6M638.9 870.4l-5.5 -2" stroke="#c07878" stroke-width="1.1" fill="none"/>
<path d="M830.2 1005.6l3.7 4.5M797.4 1024.9l2.1 5.4M657.4 986.7l-4.6 3.6" stroke="#c47a84" stroke-width="1.5" fill="none"/>
<path d="M827.7 1007.6l3.6 4.6M674.2 1004.3l-3.8 4.4M634 935.9l-5.7 1.1" stroke="#cf9898" stroke-width="2.6" fill="none"/>
<path d="M816.6 1015.3l3 4.9M767.3 1032.5l0.7 5.8M736.6 1032.2l-0.8 5.7" stroke="#b86a6a" stroke-width="0.8" fill="none"/>
<path d="M690.2 1015.8l-3 5M635.2 882.5l-5.6 -1.4" stroke="#bf7070" stroke-width="2" fill="none"/>
<path d="M666.7 997.3l-4.1 4.1M637.7 873.9l-5.5 -1.8" stroke="#cf9898" stroke-width="1.1" fill="none"/>
<path d="M643.6 964.5l-5.2 2.5" stroke="#c2c2c2" stroke-width="1.1" fill="none"/>
<path d="M643.1 963.4l-5.3 2.5M631.6 912.8l-5.8 0M701.8 801.8l-2.4 -5.3M715.6 796.4l-1.8 -5.5" stroke="#cccccc" stroke-width="0.5" fill="none"/>
<path d="M652 844.6l-4.8 -3.2M714 796.9l-1.9 -5.5" stroke="#d4a4a4" stroke-width="2.6" fill="none"/>
<path d="M677.1 817.2l-3.6 -4.5M696.7 804.4l-2.7 -5.1" stroke="#9c9c9c" stroke-width="1.1" fill="none"/>
<path d="M844.6 832.3L849 828.4L850.9 830.6L846.4 834.4Z" fill="#2424dc"/>
<path d="M753.7 801.9L753.7 796.1L755 796.1L754.9 801.9ZM853.2 866.6L858.5 864.2L858.9 865.1L853.6 867.5ZM861.4 893L867.1 892L867.3 893.5L861.6 894.4ZM662.7 979.5L660.3 981.2L658.7 979.2L661.2 977.4ZM653.2 865.6L648 863.2L648.3 862.4L653.6 864.9ZM659.2 854.4L654.3 851.4L655.6 849.2L660.5 852.4ZM711.8 809.9L709.6 804.5L710.7 804.1L712.8 809.5Z" fill="#c0c0d8"/>
<path d="M756 801.9L756.2 796.1L757 796.2L756.8 802ZM783.7 802.9L784.4 800.4L785.4 800.7L784.7 803.2ZM806.5 812.3L807.8 809.9L809 810.6L807.7 813ZM827.4 830.9L831.3 826.6L832.4 827.6L828.4 831.8ZM835.3 838.9L839.6 835L840.3 835.8L835.9 839.6ZM857.6 877.9L863.1 876.1L863.5 877.1L857.9 878.9ZM855.2 952.6L860.6 954.7L860.2 955.7L854.8 953.5ZM753.3 1021.9L753.3 1027.7L752.5 1027.7L752.5 1021.9ZM731.4 804L730.3 798.3L731.3 798.2L732.4 803.8Z" fill="#a8c4e8"/>
<path d="M758 802L758.2 796.2L760.3 796.3L759.9 802.1ZM763.7 802.4L764 799.6L765 799.7L764.7 802.5ZM845.5 848L848.3 846.1L849.4 847.8L846.6 849.7ZM850.1 860.2L855.2 857.5L855.8 858.6L850.6 861.2ZM859.1 882.9L864.7 881.3L865 882.3L859.4 883.8ZM861.3 931.3L867 932.4L866.7 933.8L861 932.7ZM669.9 984L665.5 987.8L664.9 987L669.3 983.3ZM662.2 844.7L659.9 843L660.5 842.2L662.8 843.9ZM681.1 828.7L677.3 824.3L679.2 822.6L682.9 827.1ZM710 810.7L707.7 805.3L708.4 805L710.7 810.4Z" fill="#d8b8a8"/>
<path d="M760 802.1L760.4 796.3L763.5 796.6L762.9 802.4ZM862.2 924.8L868 925.5L867.8 926.9L862.1 926.1ZM781 1018.3L781.8 1021.2L780.2 1021.6L779.4 1018.7ZM758.9 1021.7L759.2 1027.5L756.7 1027.6L756.5 1021.8ZM684.4 1002.2L682.9 1004.1L681.6 1003L683.1 1001.1ZM680.2 994.4L676.4 998.7L675.6 998L679.5 993.7ZM679.1 993.4L675.2 997.7L673.9 996.5L677.9 992.3ZM663.5 975.8L658.7 979.2L657.3 977.1L662.1 973.8ZM651.1 953.4L645.8 955.6L645.3 954.5L650.7 952.3ZM653.5 858.7L650.9 857.3L651.2 856.7L653.8 858.2Z" fill="#d0b8d8"/>
<path d="M766.1 802.7L766.8 796.9L767.4 797L766.7 802.8ZM860.5 888.7L866.2 887.5L866.6 889.5L860.9 890.6ZM866 911L868.8 910.9L868.8 912.2L866 912.2ZM706.5 1011.6L704.1 1016.9L702.5 1016.1L705 1010.9ZM645.3 889.6L639.6 888.4L639.9 887L645.6 888.2ZM647.8 879.7L642.3 878L643.1 875.5L648.6 877.4ZM670.2 839.5L665.8 835.7L667.8 833.4L672.1 837.4Z" fill="#8888a8"/>
<path d="M767.5 802.9L768.3 797.1L769.3 797.2L768.5 803ZM773.8 803.9L774.9 798.2L775.9 798.4L774.8 804.1ZM858.4 952.8L861 953.8L860.6 954.7L858 953.7ZM783.4 1017.6L785 1023.2L782.5 1023.9L781 1018.3ZM749.5 1021.8L749.3 1027.6L744.4 1027.4L744.8 1021.6ZM644.4 929.5L638.7 930.4L638.5 929.2L644.2 928.3ZM643 914.9L637.2 915.1L637.2 913L643 913ZM640.4 901.6L637.7 901.4L637.8 900.5L640.5 900.8ZM661.3 851.1L656.5 847.9L657.5 846.4L662.3 849.7ZM698.4 816.4L695.5 811.4L696.5 810.8L699.4 815.9ZM702.4 814.2L699.7 809.1L700.6 808.6L703.2 813.8Z" fill="#ecd66a"/>
<path d="M768.9 803.1L769.8 797.3L771.8 797.6L770.9 803.4ZM786.9 807.2L788.6 801.7L789.8 802.1L788 807.6ZM805.9 1008.3L808.7 1013.4L806.5 1014.6L803.8 1009.5ZM765.8 1024.4L766.1 1027L764.4 1027.1L764.1 1024.6ZM731.4 1019.8L730.2 1025.4L728.2 1025L729.5 1019.4ZM681.8 995.8L678.1 1000.2L676.7 999.1L680.6 994.7ZM671.2 989.9L669.2 991.8L668.5 991.1L670.5 989.2ZM696.1 817.8L693.1 812.8L693.8 812.4L696.8 817.4Z" fill="#e8e0c0"/>
<path d="M771.2 803.4L772.1 797.7L772.7 797.8L771.7 803.5ZM846 853.2L850.9 850.1L851.5 851L846.5 854ZM857 876.1L862.5 874.2L863.1 876.1L857.6 877.9ZM861.5 930.1L867.2 931L867 932.1L861.3 931ZM851.7 960.4L854.7 961.8L854.2 962.7L851.3 961.3ZM818.1 1000.6L821.5 1005.2L820.1 1006.3L816.8 1001.5ZM685.1 998.5L681.6 1003L679.6 1001.4L683.2 997ZM671.4 985.7L667.1 989.6L666.6 989L670.9 985.1ZM669.1 840.7L666.6 838.6L667.2 838L669.6 840.1Z" fill="#a87850"/>
<path d="M771.7 803.5L772.7 797.8L773.7 798L772.7 803.7ZM789 804.8L789.9 802.1L790.9 802.5L789.9 805.2ZM806.9 816L809.7 811L810.6 811.5L807.7 816.5ZM787.7 1016.3L788.5 1018.6L785.7 1019.5L785 1017.2ZM734.6 1020.4L733.7 1026.1L731.6 1025.7L732.7 1020ZM714 809L712 803.6L712.5 803.4L714.6 808.8ZM729.7 804.4L728.5 798.7L730.2 798.4L731.3 804.1Z" fill="#88a8d0"/>
<path d="M775.1 804.1L775.6 801.6L778.5 802.2L777.9 804.8ZM795.4 810.4L797.7 805.1L800.5 806.3L798.1 811.6ZM825.8 829.5L829.7 825.1L830.4 825.8L826.6 830.1ZM829 832.4L833 828.2L834.5 829.6L830.4 833.7ZM861.9 896.3L867.6 895.5L867.8 896.7L862 897.5ZM802.4 1010.2L805 1015.4L804.1 1015.8L801.5 1010.6ZM643 912.7L637.2 912.7L637.3 907L643.1 907.2Z" fill="#a8dca8"/>
<path d="M778.2 804.8L779.6 799.2L780.7 799.5L779.4 805.1ZM779.6 805.2L781 799.5L782.4 799.9L781 805.5ZM801.9 813.4L804.5 808.2L805.8 808.8L803.1 814ZM803.1 814L805.8 808.8L806.7 809.3L804 814.4ZM865.5 901L868.3 900.7L868.3 901.3L865.6 901.6ZM862.6 921.4L868.4 921.9L868.1 925L862.3 924.3ZM843.3 974.7L848.1 978L847.1 979.4L842.4 976ZM829.9 990.6L833.9 994.7L832.1 996.5L828.1 992.2ZM644.1 927.1L638.3 927.9L638 925.4L643.8 924.7ZM699.8 815.6L698.5 813.2L700.7 812L701.9 814.5Z" fill="#c09070"/>
<path d="M781.2 805.6L782.7 800L783.9 800.3L782.4 805.9ZM790.1 808.3L792 802.9L794.4 803.8L792.4 809.2ZM857.4 946.4L862.9 948.3L862.6 949.2L857.1 947.4ZM850.4 963.1L855.5 965.8L854.7 967.3L849.6 964.6ZM810.2 1005.8L813.3 1010.8L811.5 1011.8L808.6 1006.8ZM772 1020.2L773 1026L771.8 1026.2L770.8 1020.4ZM667.2 980.8L662.7 984.4L662.2 983.8L666.7 980.2ZM666.7 980.1L662.1 983.7L660.3 981.2L664.9 977.8ZM643.7 924.2L637.9 924.9L637.8 923.7L643.6 923.1ZM652.8 866.5L647.5 864.1L648 863.2L653.2 865.6ZM717.5 807.8L715.6 802.3L718.6 801.3L720.3 806.9ZM750.5 801.9L750.3 796.1L752.4 796.1L752.4 801.9Z" fill="#b8c8d8"/>
<path d="M785.2 804.1L786.2 801L788.1 801.6L787.2 804.7ZM863 913.5L868.8 913.6L868.7 916.2L862.9 915.9ZM848.9 965.8L853.9 968.7L853.5 969.4L848.5 966.5ZM828 996L830.1 998.3L829.3 999L827.2 996.7ZM763.7 1021.4L764.2 1027.2L763.2 1027.2L762.7 1021.5ZM724 1018L722.4 1023.6L721.8 1023.4L723.4 1017.8ZM668 981.8L665.4 983.9L664.6 983L667.3 980.9ZM651.8 954.9L646.4 957.2L646 956.1L651.3 953.9ZM643.4 902.9L637.6 902.4L637.7 901.4L643.5 901.9ZM683.8 826.4L680.2 821.9L681.3 821L684.9 825.5Z" fill="#2020d8"/>
<path d="M798.1 811.6L800.5 806.3L801.4 806.7L799 812ZM860 937.2L865.7 938.6L865.4 939.6L859.8 938.2ZM814.3 1003.3L817.5 1008.1L816.5 1008.8L813.3 1003.9ZM754.3 1021.9L754.3 1027.7L753.3 1027.7L753.3 1021.9ZM742.8 1021.4L742.2 1027.2L740.8 1027.1L741.4 1021.3ZM685.1 825.3L681.5 820.8L683.2 819.5L686.7 824.2ZM726.1 805.2L724.7 799.6L725.7 799.4L727 805Z" fill="#6ab0b8"/>
<path d="M799.7 812.3L802.2 807.1L803.7 807.8L801.2 813ZM859.9 885.9L862.2 885.3L862.5 886.5L860.2 887ZM862 926.6L867.8 927.4L867.5 929.1L861.8 928.3ZM850.8 962.3L855.9 965L855.6 965.5L850.5 962.8ZM846.1 970.5L851 973.6L850.4 974.5L845.6 971.3ZM813.2 1004L816.4 1008.8L815.9 1009.1L812.7 1004.3ZM797 1012.7L798 1014.9L792.3 1017.2L791.5 1014.9ZM755.7 1021.9L755.9 1027.7L754.8 1027.7L754.7 1021.9ZM732.6 1020L731.5 1025.7L730.3 1025.5L731.5 1019.8ZM648.9 947.4L643.4 949.3L642.4 946.3L648 944.6ZM714.8 808.7L712.8 803.3L714.5 802.7L716.4 808.2Z" fill="#4f9a6a"/>
<path d="M808.4 816.9L811.3 811.9L813.5 813.2L810.5 818.1ZM811.5 818.8L814.6 813.8L815.5 814.4L812.3 819.3ZM822.4 826.6L826.1 822.1L827.2 823L823.5 827.4ZM830.7 834.1L834.8 830L835.5 830.7L831.4 834.8ZM862.9 906.4L868.7 906.1L868.7 907.9L862.9 908.1ZM865.3 916.8L868.7 917L868.7 917.6L865.3 917.4ZM861 932.8L866.7 933.9L866.5 934.7L860.9 933.5ZM862.8 939.8L865.2 940.4L864.6 942.9L862.2 942.2ZM859 941.3L864.6 942.9L864 944.8L858.5 943.2ZM852.3 959.3L857.5 961.8L857.1 962.7L851.9 960.1ZM719.1 1016.6L717.3 1022.1L716.2 1021.7L718 1016.2Z" fill="#d8c098"/>
<path d="M812.6 819.4L815.7 814.6L821.5 818.6L818.1 823.2ZM858.5 943.2L864 944.8L863.1 947.8L857.6 946ZM803.4 1009.7L806 1014.8L805.3 1015.2L802.7 1010ZM762.6 1021.5L763.1 1027.3L762.5 1027.3L762 1021.5ZM696.1 1006.1L693.1 1011L692.2 1010.5L695.3 1005.5ZM650.5 951.9L645.1 954L644.6 952.6L650 950.6ZM648.8 876.6L643.3 874.8L645.1 869.8L650.5 871.9ZM663.7 847.6L659 844.2L659.6 843.4L664.3 846.8ZM663 843L661 841.5L661.8 840.5L663.7 842.1ZM677.4 832L673.4 827.8L674.7 826.6L678.6 830.9ZM678.8 830.7L674.9 826.4L677.2 824.4L681 828.8ZM688.9 822.5L685.6 817.8L687 816.8L690.3 821.5Z" fill="#b0b0b0"/>
<path d="M820.2 820.8L821.8 818.7L823.8 820.3L822.2 822.3ZM850.9 861.7L856 859L856.8 860.6L851.6 863.1ZM856.5 874.6L861.9 872.6L862.2 873.4L856.7 875.3ZM858.3 880L863.8 878.3L864.7 881.2L859.1 882.8ZM861.7 894.9L867.4 894L867.6 895L861.8 895.8ZM790.8 1015.2L791.7 1017.6L789.3 1018.4L788.5 1016ZM666.5 984.6L664.3 986.4L663.6 985.4L665.7 983.7ZM643.5 921.9L640.4 922.2L640.2 919.2L643.2 919ZM645.6 888.1L639.9 886.9L640.2 885.9L645.8 887.2ZM707.6 811.7L705.2 806.4L707.6 805.4L709.9 810.7ZM735.6 803.3L734.7 797.6L735.7 797.4L736.6 803.1Z" fill="#d8a8c0"/>
<path d="M820.7 825.2L822.6 822.7L824.2 823.9L822.2 826.4ZM831.4 834.8L835.5 830.7L837 832.2L832.8 836.2ZM834.6 838.1L837 835.9L837.6 836.7L835.2 838.8ZM842.3 976.1L847 979.5L846.2 980.6L841.5 977.2ZM835.3 984.9L839.6 988.8L838.2 990.3L834 986.4ZM823.2 996.6L826.9 1001L826.3 1001.5L822.6 997.1ZM811.9 1004.8L815 1009.7L813.3 1010.8L810.2 1005.8ZM644.6 893.1L638.9 892.1L639.2 890.7L644.9 891.8ZM656.9 858.3L651.9 855.5L652.3 854.8L657.3 857.6ZM720.3 806.9L718.6 801.3L721 800.6L722.6 806.2Z" fill="#e8b060"/>
<path d="M823.5 827.5L825.1 825.6L825.6 826L824 827.9ZM865.7 918.6L868.6 918.8L868.4 921.9L865.5 921.6ZM656.7 965L654.1 966.4L653.6 965.6L656.2 964.2ZM656.1 963.9L651 966.6L650.4 965.6L655.5 962.9ZM652.5 956.6L647.2 958.9L646.8 958L652.1 955.7ZM646.8 940.4L641.2 941.9L640.5 939.4L646.2 938ZM641.4 897.1L638.2 896.7L638.4 894.9L641.7 895.4ZM706.2 812.3L705.1 810L705.8 809.6L706.9 812Z" fill="#e8a488"/>
<path d="M833.3 836.7L835.5 834.6L836.5 835.7L834.2 837.7ZM855.8 872.8L861.2 870.7L861.7 871.9L856.2 873.9ZM862.6 902.3L868.4 901.8L868.5 903.2L862.7 903.7ZM837.8 982L839.7 983.5L838.6 984.8L836.7 983.2ZM784.9 1017.2L786.5 1022.7L785.8 1023L784.1 1017.4ZM744.7 1021.6L744.3 1027.4L743.5 1027.3L743.9 1021.5ZM726.9 1018.8L725.5 1024.4L723.8 1024L725.3 1018.4ZM672.2 986.5L667.9 990.5L667.1 989.6L671.4 985.7ZM644.6 941.7L641.3 942.6L641.2 942L644.4 941.1ZM667.6 842.6L665.4 840.8L665.9 840.2L668.1 842ZM691 821L687.7 816.2L689.9 814.8L693 819.7Z" fill="#6060c8"/>
<path d="M836.7 840.5L841.1 836.7L844.3 840.6L839.7 844.2ZM854.3 861.8L856.8 860.6L857.4 861.9L854.9 863.1ZM862.1 897.6L867.8 896.8L867.9 897.6L862.2 898.3ZM742.2 802.4L741.6 796.7L743.4 796.5L743.9 802.3Z" fill="#3a4a9a"/>
<path d="M842.6 848.1L847.3 844.7L847.8 845.4L843.1 848.7ZM860.8 933.6L866.5 934.8L865.9 937.8L860.2 936.5Z" fill="#c85050"/>
<path d="M844.9 851.4L849.7 848.2L850.5 849.4L845.6 852.5ZM849.8 859.6L854.9 856.8L855.2 857.4L850 860.1ZM857.4 955.4L859.9 956.4L859.3 957.7L856.8 956.7ZM682.9 996.6L679.2 1001.1L678.1 1000.2L681.8 995.8ZM643.1 906.7L637.3 906.5L637.5 903.4L643.3 903.8ZM644.3 895L638.6 894.1L638.8 892.9L644.5 893.9ZM645 891L642.2 890.5L642.4 889.5L645.2 890ZM646.4 884.6L644.1 884L645.2 880.1L647.5 880.8ZM663.8 842.1L661.8 840.5L662.6 839.6L664.5 841.2Z" fill="#2a2a80"/>
<path d="M846.6 854.1L851.5 851.1L853.1 853.7L848.1 856.6ZM862.7 904.5L868.5 904.1L868.6 905.8L862.8 906.1ZM827.8 992.6L829.4 994.3L828.4 995.3L826.8 993.5ZM740.2 1021.2L739.6 1026.9L735.9 1026.4L736.7 1020.7ZM658.3 967.8L653.3 970.8L652 968.5L657.1 965.7ZM640.4 917.1L637.3 917.2L637.3 916.2L640.3 916.1ZM668.6 841.4L664.1 837.7L664.5 837.2L668.9 840.9Z" fill="#5b82d8"/>
<path d="M848.2 856.9L853.3 854L854 855.2L848.9 858.1ZM860.3 887.5L865.9 886.2L866.1 887.2L860.5 888.5ZM863 909.2L868.8 909.1L868.8 910.8L863 910.9ZM847.4 968.4L852.3 971.4L851.4 972.9L846.5 969.9ZM779.1 1018.7L780.5 1024.4L779.9 1024.5L778.6 1018.9ZM707.9 1012.2L705.5 1017.5L704.5 1017.1L707 1011.8ZM646.2 938L640.5 939.4L639.9 936.9L645.6 935.7ZM672.2 837.3L667.9 833.4L669.7 831.5L673.8 835.5ZM697 817.2L694.1 812.2L694.8 811.8L697.7 816.8ZM722.6 806.2L721 800.6L722.4 800.2L723.9 805.8Z" fill="#7080b8"/>
<path d="M859.4 883.8L865 882.3L865.4 884L859.8 885.4ZM845.1 972L850 975.2L849.5 975.8L844.7 972.6ZM777.8 1019.1L779.1 1024.7L777.4 1025.1L776.2 1019.4ZM725 1018.3L723.5 1023.9L722.5 1023.6L724.1 1018ZM717.5 1016L715.7 1021.5L715.1 1021.3L717 1015.8ZM716.5 1015.7L714.6 1021.2L713.6 1020.8L715.6 1015.4ZM699.1 1007.8L696.2 1012.8L695.2 1012.2L698.1 1007.2ZM659.5 969.8L654.5 972.9L653.9 971.8L658.9 968.8Z" fill="#8f7ad0"/>
<path d="M864.3 890.3L866.7 889.8L866.9 890.8L864.5 891.3ZM806.6 1007.9L809.5 1013L808.7 1013.4L805.9 1008.3ZM693.9 1004.7L690.8 1009.6L688.6 1008.2L691.8 1003.3ZM676.4 990.9L672.4 995L670.6 993.2L674.7 989.1ZM655.5 962.8L650.3 965.5L648.9 962.7L654.2 960.2ZM645.9 886.9L640.2 885.6L640.5 884.4L646.2 885.8ZM657.5 857.4L652.4 854.5L654 851.8L658.9 854.9ZM660.9 851.7L656.1 848.5L656.5 847.9L661.3 851.1ZM688.1 823.1L684.7 818.4L685.6 817.8L688.9 822.5Z" fill="#f0d8b0"/>
<path d="M863 912.4L868.8 912.5L868.8 913.3L863 913.2ZM853.4 956.8L858.7 959.1L857.9 961L852.6 958.6ZM849.5 964.6L854.6 967.4L853.9 968.7L848.9 965.8ZM848.9 971.5L851.4 973L851 973.5L848.6 972ZM776.1 1019.4L777.3 1025.1L774.8 1025.6L773.7 1019.9ZM714.9 1015.1L712.9 1020.5L712.3 1020.3L714.3 1014.9ZM645 932.9L639.3 934L639.1 933L644.8 931.9ZM654.7 862.4L652.5 861.3L653.5 859.6L655.6 860.7ZM737.4 803L736.6 797.3L739.6 796.9L740.3 802.6Z" fill="#e0c8e0"/>
<path d="M861.7 929L867.4 929.9L867.2 930.9L861.5 930ZM831.5 988.9L835.7 993L834.8 993.8L830.7 989.7ZM822.6 997.1L826.3 1001.5L825.2 1002.4L821.6 997.9ZM799.7 1011.5L802.2 1016.8L799.3 1018L797 1012.7ZM653.9 864.2L648.7 861.7L648.9 861.1L654.1 863.7ZM656.3 859.5L651.2 856.7L651.5 856.2L656.6 859ZM676.6 832.8L672.6 828.6L673 828.2L677 832.4ZM683 827.1L679.3 822.6L679.8 822.2L683.4 826.7Z" fill="#9a9a9a"/>
<path d="M856.5 949.3L861.9 951.3L861.4 952.6L856 950.6ZM808.5 1006.9L811.4 1011.9L810.5 1012.4L807.6 1007.4ZM761.1 1024.9L761.3 1027.4L759.2 1027.5L759.1 1025ZM702.7 1009.7L700 1014.9L697.3 1013.4L700.1 1008.3ZM674.5 988.9L670.3 993L669.8 992.4L673.9 988.4ZM670.9 985.1L666.6 989L665.6 987.9L670 984.1ZM643.3 903.8L637.5 903.4L637.6 902.4L643.4 902.9ZM713.1 809.4L711 804L712 803.6L714 809Z" fill="#3d6e5a"/>
<path d="M820 999.1L821.6 1001.1L819.6 1002.6L818.1 1000.6ZM647.8 944.1L642.3 945.8L641.4 942.9L647 941.3ZM653.3 859.4L650.6 857.9L650.8 857.4L653.6 858.9ZM694 819L690.9 814.2L693.1 812.8L696.1 817.8Z" fill="#707070"/>
<path d="M753.4 805.2L753.4 801.9L754.1 801.9L754 805.2ZM779.2 811.2L780.7 805.4L782.7 806L781.1 811.8ZM783 812.3L784 809.1L785.6 809.6L784.6 812.8ZM791.2 812.6L792.5 809.2L794.1 809.9L792.8 813.2ZM800.7 819.5L802.3 816.5L803.5 817.1L801.9 820.1ZM778.6 1012.7L780.1 1018.5L777.6 1019.1L776.3 1013.3ZM668 971.9L663.1 975.3L662.1 973.9L667.1 970.5ZM658 954.2L652.5 956.6L652 955.5L657.5 953.1Z" fill="#d0b8d8"/>
<path d="M754.3 807.9L754.4 801.9L756.4 802L756.2 808ZM843.5 860.7L846 859.3L846.3 859.8L843.8 861.2ZM856.7 883.2L859 882.6L859.3 883.8L857 884.4ZM856.4 923.5L862.3 924.1L862.2 924.7L856.3 924ZM800.6 1004.4L803.3 1009.7L802.2 1010.3L799.5 1004.9ZM785.4 1010.7L787.3 1016.4L785.7 1016.9L783.9 1011.2ZM714.4 1011.9L713.4 1014.5L712.5 1014.2L713.5 1011.6ZM678.9 984.9L674.7 989.1L673.8 988.2L678.1 984.1ZM673.6 979L669 982.9L668.6 982.4L673.2 978.6ZM649 913.7L643 913.8L643 911.8L649 911.8ZM716.7 810.9L715.8 808.4L718.7 807.4L719.5 810Z" fill="#707070"/>
<path d="M756.7 808L756.8 805L757.8 805L757.7 808ZM842.6 964.7L847.8 967.7L847.3 968.6L842.1 965.5ZM765.3 1015.2L766 1021.1L764.6 1021.3L764 1015.3ZM650.6 930.3L644.7 931.4L644.6 930.8L650.5 929.8ZM649.7 924.3L643.8 925L643.7 924L649.6 923.3ZM735.9 806.8L735.4 803.3L737.4 803L737.9 806.5Z" fill="#d8b8a8"/>
<path d="M758 808L758.3 802L759.7 802.1L759.3 808.1ZM766.2 808.7L766.6 805.7L769.6 806.1L769.1 809.2ZM770.8 809.4L771.8 803.5L773.6 803.8L772.4 809.7ZM817.3 830.1L819.1 827.8L820.7 829.1L818.8 831.4ZM856.9 906.7L862.9 906.4L862.9 907.4L856.9 907.7ZM853 940.4L858.8 942.1L858.5 943.1L852.7 941.4ZM831.4 980.2L835.9 984.2L835.1 985.1L830.6 981.1ZM803.5 1005.7L805.1 1008.8L804.1 1009.3L802.5 1006.3ZM755.1 1015.9L755.2 1019L753.5 1019L753.5 1015.9ZM741.3 1015.2L740.6 1021.2L738.9 1021L739.6 1015ZM689.3 994.1L685.6 998.8L684 997.5L687.7 992.9ZM651.4 934L645.5 935.2L645.3 934.4L651.2 933.2ZM678.4 839.5L674 835.3L675.1 834.3L679.3 838.5ZM682.9 835.1L678.8 830.7L679.4 830.1L683.5 834.6Z" fill="#8f7ad0"/>
<path d="M759.8 808.1L760 805.6L761.4 805.7L761.2 808.2ZM846.4 866.1L851.8 863.5L852.1 864.2L846.7 866.8ZM851.7 944.8L857.4 946.7L856.9 948L851.2 946.1ZM850.8 954.4L853.9 955.7L852.8 958.1L849.8 956.6ZM829.3 982.6L833.7 986.6L832.3 988.1L828 984ZM794.8 1007.1L797.2 1012.6L795.3 1013.4L793 1007.9ZM673 845.4L668.4 841.6L669.5 840.2L674.1 844.2Z" fill="#88a8d0"/>
<path d="M763.7 808.5L764.3 802.5L766.9 802.8L766.1 808.7ZM847.3 868L852.7 865.5L853.5 867.1L848 869.6ZM856.8 906.1L862.8 905.8L862.9 906.4L856.9 906.7ZM812.5 997.2L815.9 1002.1L815.1 1002.7L811.7 997.8ZM729.2 1013.1L728.6 1015.7L726.2 1015.1L726.9 1012.6ZM708.6 1005.9L706 1011.4L704.5 1010.6L707.1 1005.2ZM677.9 983.9L675.5 986.2L674.5 985.2L677 982.9ZM658.3 955L652.9 957.4L652.5 956.7L658 954.3Z" fill="#6ab0b8"/>
<path d="M773.2 809.9L774.4 804L777.4 804.6L776.1 810.5ZM857 910L863 909.9L863 912.4L857 912.4ZM838.4 971.3L843.3 974.7L842.1 976.4L837.3 972.9ZM751.1 1015.9L750.9 1021.9L750.3 1021.9L750.5 1015.9ZM713.2 1008L710.9 1013.5L710.2 1013.2L712.5 1007.7ZM669.2 973.5L664.3 977L663.1 975.3L668 971.9ZM651.6 935.2L645.8 936.5L645.6 935.5L651.4 934.3Z" fill="#a8dca8"/>
<path d="M776.1 810.5L777.4 804.6L780.4 805.4L778.9 811.2ZM840 855L845.1 851.7L845.6 852.6L840.6 855.8ZM856 897.4L861.9 896.6L862.1 898L856.2 898.7ZM792.3 1008.2L794.6 1013.8L792.6 1014.5L790.5 1008.9ZM674.2 844.1L669.6 840.2L670.3 839.4L674.8 843.3Z" fill="#8888a8"/>
<path d="M782.2 812.1L783.9 806.3L784.4 806.5L782.7 812.2ZM785.7 813.2L786.8 809.9L788.4 810.4L787.3 813.7ZM841.2 856.8L844 855L844.5 855.9L841.7 857.6ZM843.9 861.3L849.1 858.4L850.6 861.1L845.2 863.9ZM849.9 874.1L855.5 871.9L856.2 873.9L850.6 875.9ZM855.8 896.3L859.2 895.8L859.3 896.4L855.9 896.9ZM840.3 968.5L845.3 971.7L844.7 972.6L839.7 969.3ZM702.5 1002.8L699.5 1008L697.8 1007L700.8 1001.8ZM658.5 868.5L653 866L653.4 865.1L658.9 867.7ZM666.4 854.3L661.4 851L662.1 850L667.1 853.3ZM722.9 812.4L722.1 809.7L723 809.4L723.8 812.1Z" fill="#e8a488"/>
<path d="M788.4 814.1L790.4 808.5L791.4 808.8L789.3 814.4ZM835.9 843.4L837.8 841.8L838.7 843L836.8 844.5ZM842.1 858.3L847.2 855.2L848.1 856.7L842.9 859.7ZM852.6 881.8L858.3 880.1L858.8 881.8L853 883.4ZM855.4 893.6L861.3 892.5L861.5 893.5L855.5 894.5ZM834.8 976.1L839.5 979.8L837.6 982.2L833 978.4ZM827.8 984.2L832.1 988.4L831.4 989.1L827.1 984.9ZM687.5 992.7L683.7 997.3L683.1 996.8L686.9 992.2ZM683.2 989L679.2 993.5L677.7 992.1L681.8 987.7ZM657.1 952.1L651.6 954.4L650.4 951.6L656 949.4ZM682.2 835.7L678.1 831.4L678.8 830.7L682.9 835.1ZM708.8 817.8L706.3 812.3L707 812L709.5 817.4Z" fill="#f0d8b0"/>
<path d="M794 816.3L796.3 810.8L797.6 811.4L795.2 816.9ZM802 820.2L804.9 814.9L807.1 816.1L804.2 821.4ZM853.9 886.8L859.8 885.4L859.9 886.2L854.1 887.6ZM855 891.6L860.9 890.4L861.3 892.4L855.4 893.5ZM848.9 959L851.7 960.4L851.1 961.7L848.3 960.2ZM816.9 993.9L820.6 998.7L819.2 999.7L815.6 994.9ZM798.1 1009.5L799.2 1011.7L798.6 1012L797.6 1009.7ZM779.7 1012.4L781.2 1018.2L780.2 1018.5L778.7 1012.7ZM714.6 1008.5L712.4 1014.1L711.4 1013.7L713.7 1008.2ZM690.7 828.6L687.1 823.8L687.9 823.2L691.5 828.1ZM732.6 809.9L731.4 804L733.1 803.7L734.2 809.6Z" fill="#9a9a9a"/>
<path d="M797.6 814.5L798.8 811.9L801.1 813L799.8 815.6ZM822.3 834.3L826.3 829.9L827 830.5L823 835ZM836.7 850.2L841.5 846.6L843 848.7L838.1 852.2ZM852.7 941.5L858.5 943.2L858.2 944.1L852.4 942.4ZM841.1 967.2L843.9 968.9L843.4 969.6L840.7 967.8ZM747.8 1015.8L747.5 1021.8L746.8 1021.7L747.2 1015.7ZM670.6 975.3L668.1 977.3L667.3 976.3L669.9 974.4ZM710 817.2L707.5 811.8L708.4 811.3L710.8 816.8ZM711 813.9L709.6 810.8L715.5 808.5L716.7 811.7Z" fill="#7080b8"/>
<path d="M798.6 818.4L801.2 813L803 813.9L800.3 819.3ZM814.4 995.9L817.9 1000.7L816.9 1001.4L813.4 996.5ZM798.8 1005.2L801.5 1010.6L799.6 1011.5L797.1 1006.1ZM672.1 977.2L667.4 981L665.8 979L670.6 975.3ZM724.3 811.9L722.6 806.2L725.1 805.5L726.6 811.3ZM738.2 809L737.4 803L742.2 802.4L742.8 808.4ZM743.5 808.3L743.2 804.9L744 804.9L744.3 808.3Z" fill="#b0b0b0"/>
<path d="M809.9 824.8L813.2 819.8L815.7 821.5L812.3 826.5ZM825.1 836.9L829.2 832.6L831.4 834.7L827.1 839ZM807.9 1000.3L811 1005.4L808.8 1006.7L805.8 1001.5ZM684.5 990.1L680.5 994.6L679.2 993.5L683.2 989ZM649 911L643 911L643.2 905.1L649.2 905.5ZM649.3 904.3L643.3 903.9L643.4 902.4L649.4 903ZM647.1 895.9L644.2 895.5L644.4 894.7L647.3 895.1Z" fill="#3a4a9a"/>
<path d="M823.2 835.2L827.3 830.8L829.1 832.5L825 836.8ZM851.1 946.5L856.7 948.5L856.4 949.5L850.7 947.5ZM824.4 987.5L828.5 991.9L827.2 993.1L823.2 988.7ZM724.5 1011.9L722.9 1017.7L722.1 1017.5L723.8 1011.7ZM677 982.9L672.6 987L671.2 985.5L675.7 981.5Z" fill="#4f9a6a"/>
<path d="M827.9 839.8L830.3 837.5L831 838.2L828.6 840.5ZM834.8 847.6L839.5 843.9L841.1 846L836.2 849.6ZM854.4 888.7L860.2 887.4L860.6 889.1L854.7 890.3ZM854.2 936L860 937.4L859.1 940.9L853.3 939.3ZM767.2 1014.9L768 1020.9L766.5 1021.1L765.8 1015.1ZM706.4 1004.9L703.7 1010.2L702.2 1009.5L704.9 1004.1ZM703.9 1003.6L701.1 1008.9L699.5 1008L702.5 1002.8ZM679.6 838.2L675.4 833.9L675.9 833.5L680.1 837.8ZM707.2 818.5L704.6 813.1L705.5 812.7L708.1 818.1Z" fill="#6060c8"/>
<path d="M832.8 841L835.3 838.9L836.4 840.2L834 842.3ZM849.5 873.1L855.1 870.9L855.5 871.9L849.9 874ZM810 998.9L813.3 1003.9L812.1 1004.7L808.8 999.6ZM708.7 1008.8L707.3 1011.9L706.3 1011.5L707.8 1008.4ZM662.6 963.4L657.4 966.3L656.8 965.2L662.1 962.3ZM655.3 947.7L649.7 949.7L649.4 948.8L655 946.8ZM681.7 831.9L679.8 829.8L681.8 828.1L683.6 830.2ZM698.2 823.5L695.1 818.4L696.3 817.6L699.4 822.8ZM704.7 816.6L703.3 813.8L704.6 813.1L706 816Z" fill="#d8c098"/>
<path d="M838.1 852.2L843 848.7L844.2 850.4L839.2 853.8ZM788.2 1013.1L789.2 1015.8L787.8 1016.2L786.9 1013.5ZM700.8 1001.8L699.2 1004.5L697.7 1003.7L699.4 1001ZM698.4 1000.4L695.3 1005.5L694.4 1005L697.6 999.9ZM675.2 980.9L670.7 984.8L669.3 983.3L673.9 979.4ZM649 884.7L646.6 884L646.9 882.8L649.4 883.5ZM661.8 861.9L656.6 859L657.6 857.2L662.8 860.2ZM702.7 820.8L699.8 815.6L700.6 815.2L703.4 820.5Z" fill="#c09070"/>
<path d="M839.2 853.8L844.2 850.4L844.8 851.3L839.8 854.6Z" fill="#2020d8"/>
<path d="M846.9 867.3L849.8 865.9L850.1 866.4L847.2 867.8ZM853.8 886.1L859.6 884.7L859.7 885.3L853.9 886.7ZM828.7 987.6L830.8 989.7L829.9 990.5L827.9 988.5ZM753.2 1015.9L753.2 1021.9L752.2 1021.9L752.2 1015.9ZM661.9 962.1L656.7 965L655.4 962.7L660.8 959.9ZM651.2 890.6L645.3 889.3L645.8 887.3L651.6 888.7ZM662.9 859.9L657.7 856.9L659.3 854.3L664.4 857.4Z" fill="#e0c8e0"/>
<path d="M849.1 872.1L854.6 869.8L855.1 870.9L849.5 873.1ZM856.6 921.1L862.6 921.6L862.4 923.6L856.4 923ZM825.5 986.5L829.7 990.8L829.1 991.3L824.9 987ZM790.4 1008.9L791.4 1011.6L788.6 1012.6L787.7 1010ZM748.8 1015.8L748.6 1021.8L748 1021.8L748.2 1015.8ZM717.2 1009.5L715.1 1015.2L713.5 1014.6L715.7 1009ZM709.4 1010.3L708.5 1012.5L707.5 1012.1L708.5 1009.9ZM673.2 978.6L668.6 982.4L667.5 981.1L672.1 977.3ZM649.8 898.8L643.9 898L644.1 896.3L650 897.2Z" fill="#c85050"/>
<path d="M854 876.6L856.8 875.6L857.2 876.8L854.3 877.8ZM839.6 969.5L844.6 972.8L844 973.7L839 970.3ZM819.4 991.9L823.3 996.5L821.3 998.1L817.5 993.4ZM813.7 1000.7L815.1 1002.7L814.2 1003.3L812.9 1001.3ZM747.2 1015.7L746.8 1021.7L743.8 1021.5L744.3 1015.5ZM726.6 1012.5L725 1018.3L723.4 1017.8L725 1012.1ZM747.5 808L747.2 802.1L748.4 802L748.7 808Z" fill="#b8c8d8"/>
<path d="M851.8 879.4L857.5 877.6L857.9 878.9L852.2 880.7ZM853.6 885.6L859.4 884.1L859.6 884.7L853.8 886.1ZM855.3 930.5L858.2 931L857.7 933.5L854.9 932.9ZM763.2 1015.4L763.8 1021.4L761.2 1021.6L760.8 1015.6ZM649.4 921.1L643.4 921.6L643.3 920.6L649.3 920.1ZM694.5 825.9L691.1 821L693.2 819.6L696.5 824.6ZM727.1 811.2L725.6 805.4L726.6 805.1L728 810.9ZM745.1 808.2L744.6 802.2L746.7 802.1L747 808.1Z" fill="#c0c0d8"/>
<path d="M854.1 887.7L860 886.3L860.2 887.1L854.3 888.4ZM846.9 956.6L852.3 959.2L851.9 960.1L846.5 957.5ZM838.2 976.1L840.8 978.1L839.6 979.8L837 977.7ZM695 998.2L691.7 1003.2L689.5 1001.8L693 996.9ZM666.8 970.1L661.9 973.5L661.5 973L666.5 969.6ZM697.8 819.6L696.5 817.5L698.8 816.2L700 818.4ZM735 809.5L733.9 803.6L735.4 803.3L736.3 809.2Z" fill="#d8a8c0"/>
<path d="M856.5 901.3L862.4 900.6L862.5 901.9L856.6 902.4ZM855.9 926.8L861.9 927.7L861.4 930.8L855.5 929.7ZM760.8 1015.6L761.2 1021.6L758.1 1021.8L757.9 1015.8ZM660.8 959.9L655.4 962.7L655 961.8L660.3 959.1ZM660.2 958.8L654.8 961.5L653.7 959.2L659.1 956.6ZM649.5 901.8L643.5 901.2L643.6 900.2L649.6 900.8ZM665 856.4L660 853.2L661.4 851.1L666.4 854.4ZM703.3 817.6L701.7 814.6L702.6 814.1L704.1 817.2ZM729.5 807.2L728.9 804.6L730.9 804.1L731.5 806.8Z" fill="#3d6e5a"/>
<path d="M860.1 902.4L862.6 902.2L862.8 905.3L860.3 905.4ZM810.9 998.3L814.2 1003.3L813.4 1003.9L810.1 998.8ZM744.2 1015.5L743.9 1018.6L741.4 1018.4L741.8 1015.3ZM739.6 1015L738.9 1021L737.8 1020.9L738.7 1014.9ZM652.5 938.7L649.1 939.6L648.5 937.2L651.9 936.3ZM651.1 932.4L645.2 933.6L645 932.6L650.9 931.5ZM650.4 895.1L644.4 894.2L644.6 893L650.6 894ZM654.7 878L649 876.1L649.3 875.1L655 877.1Z" fill="#a8c4e8"/>
<path d="M856 926.1L862 926.9L861.9 927.7L855.9 926.8ZM852.4 942.5L858.1 944.2L857.8 945.2L852.1 943.4ZM849.7 950.1L855.3 952.3L854.9 953.4L849.3 951.2ZM822.3 989.4L826.3 993.9L825.2 994.9L821.3 990.3ZM686.8 992.1L683 996.8L681.4 995.4L685.3 990.9ZM729.2 810.7L727.8 804.8L728.8 804.6L730.1 810.4Z" fill="#a87850"/>
<path d="M852 943.9L857.7 945.7L857.4 946.7L851.7 944.8ZM848.8 952.4L854.3 954.8L853.9 955.7L848.4 953.3ZM782.3 1011.7L784 1017.4L781.5 1018.1L779.9 1012.3ZM774.3 1017.1L774.8 1019.7L768.8 1020.8L768.4 1018.1ZM721.5 1011L719.7 1016.7L716.8 1015.8L718.8 1010.1ZM665.5 968.2L660.5 971.4L659.4 969.7L664.5 966.5ZM654.5 945.3L648.8 947.2L648.6 946.6L654.3 944.7ZM692.1 827.6L688.6 822.7L691.1 821L694.5 825.9Z" fill="#ecd66a"/>
<path d="M849.3 951.2L854.9 953.4L854.6 954L849.1 951.7ZM783.6 1011.3L785.4 1017L784 1017.4L782.3 1011.7ZM750.4 1015.9L750.3 1019L749.5 1019L749.6 1015.8ZM680 989.5L677.6 992L675.8 990.2L678.2 987.7ZM689.1 829.8L685.4 825.1L687.1 823.8L690.7 828.6Z" fill="#e8e0c0"/>
<path d="M841.7 966.2L844.4 967.8L843.8 968.8L841.1 967.2ZM792.9 1007.9L795.2 1013.5L794.6 1013.7L792.4 1008.2ZM718 1009.8L716 1015.5L715.2 1015.2L717.3 1009.6ZM690.6 995.1L688.9 997.4L687.7 996.5L689.5 994.3ZM680 985.9L675.8 990.2L675 989.5L679.3 985.3ZM664.5 966.5L661.4 968.3L660.1 966.2L663.2 964.4ZM650.2 928L644.3 928.9L643.9 925.8L649.8 925.1ZM654 880.1L648.3 878.3L648.9 876.4L654.6 878.3ZM657.2 871.5L651.6 869.1L652.7 866.8L658.1 869.3ZM686 832.3L682.2 827.7L683.1 827L686.9 831.6Z" fill="#e8b060"/>
<path d="M830.6 981.2L835 985.2L834.1 986.3L829.6 982.2ZM815.2 995.2L818.8 1000L818 1000.6L814.5 995.8ZM795.9 1006.7L798.3 1012.1L797.2 1012.6L794.8 1007.1ZM775.5 1013.4L776.8 1019.3L774.8 1019.7L773.6 1013.8ZM699.4 1001L696.3 1006.1L695.6 1005.7L698.7 1000.6ZM666.3 969.4L661.3 972.7L660.8 971.9L665.8 968.6ZM649.6 923.2L643.7 923.9L643.5 922.5L649.5 921.9ZM649.6 900.5L643.7 899.9L643.8 898.9L649.7 899.6ZM650.6 893.7L644.7 892.7L645.2 890.1L651.1 891.3ZM660.7 863.9L655.4 861.1L656 860.1L661.3 862.9ZM680.4 837.4L676.2 833.1L677.7 831.7L681.8 836.1ZM721 812.9L719.2 807.2L720.9 806.7L722.6 812.4Z" fill="#2a2a80"/>
<path d="M821.1 990.5L825 995.1L823.9 996L820 991.4ZM657.5 953.1L652 955.5L651.7 954.7L657.2 952.4ZM650.4 928.6L644.4 929.6L644.3 929L650.3 928ZM660.3 864.7L655 862L655.3 861.4L660.6 864.2Z" fill="#5b82d8"/>
<path d="M811.8 987.2l4 5.1M670.3 864.1l-5.6 -3.2" stroke="#9ee39e" stroke-width="1" fill="none"/>
<path d="M827.3 849.5L830 847.3L831.4 849.1L828.7 851.3Z" fill="#c8b048"/>
<path d="M753 824.1L753.5 825.1L754.1 824.9L754.6 823.3L755.1 824.6L755.7 824.7L756.2 825L756.8 823.3L757.2 825.2L757.9 823.2L758.4 823.6L758.8 825.4L759.6 822L760 824.2L760.5 824.5L760.9 825.4L761.5 824.7L762 825.3L762.5 825.7L763.1 825.5L763.7 825.1L764.1 825.8L764.6 825.9L765.3 824.9L765.9 824.8L766.3 825.4L766.8 825.7L767.3 826L767.9 825.4L768.6 824.7L769 825.8L769.4 826.2L770.1 825.3L770.4 826.8L770.9 826.9L771.6 826.1L772.2 825.8L772.6 826.8L773 827.3L773.7 826.8L774.1 827.2L775 826L775.1 827.6L775.7 827.6L776.1 828.2L776.7 827.9L777.1 828.2L777.9 827.7L778.3 828L779 827.8L779.3 828.6L779.8 828.7L780.1 829.4L780.7 829.3L781.6 828.5L781.7 829.7L782.3 829.7L783 829.2L783.1 830.6L783.9 829.8L784.4 830.1L785.2 829.4L785.5 830.2L786 830.4L786.6 830.4L787.1 830.5L787.3 831.6L788.1 830.9L788.6 831.2L788.6 832.6L789.1 832.8L790.3 831.4L790.7 831.8L791.2 832L791.1 833.4L792 832.7L792.2 833.7L792.3 834.5L793.4 833.7L793.7 834.3L793.9 835L794.8 834.5L795.4 834.5L795.9 834.7L795.9 835.7L797 834.8L796.5 836.9L797.1 836.8L797.9 836.5L798.1 837.3L798.3 837.9L798.8 838.2L799.7 837.7L800.6 837.4L800.8 838L801.3 838.2L801.3 839.2L802.2 838.8L802.5 839.4L803.3 839.2L803.7 839.5L804 840L803.6 841.4L804.9 840.7L804.5 842L805.1 842.1L805.6 842.3L806.5 842.1L806.2 843.3L807 843.1L807.1 843.9L807.4 844.4L808.7 843.6L809.2 843.9L809.9 843.8L810 844.5L809.4 846.1L811 845.1L811.4 845.4L810.7 847.1L811.3 847.1L811.5 847.7L813.2 846.7L813.1 847.6L813.2 848.3L813.3 848.9L814.1 848.8L813.9 849.8L814.1 850.4L815.3 850L815.3 850.6L815.7 851L816.2 851.3L815.9 852.3L816.3 852.6L816.7 853L817.5 853L817.6 853.6L817.9 854.1L818.6 854.2L818.6 854.9L820.1 854.3L819.5 855.5L820.1 855.7L820.6 856L821.5 855.9L820.8 857.2L823.8 855.5L821.6 857.9L822.7 857.7L823.3 857.9L822.1 859.5L823.6 859.1L822.8 860.4L824.3 859.9L825.1 860L823.9 861.5L824.2 861.9L825.1 862L825.4 862.4L827.3 861.8L825.3 863.8L826.5 863.6L826.4 864.3L826.4 865L827.1 865.1L826.6 866.1L827.5 866.1L828.7 866.1L827.9 867.2L828.7 867.3L829 867.8L829.1 868.3L829.9 868.5L828.9 869.6L830.2 869.5L831.6 869.4L829.5 871.1L829.8 871.6L830.8 871.6L831.6 871.8L831.4 872.6L831.8 873L830.9 874L831.4 874.3L831.9 874.7L831.8 875.3L833 875.4L833.1 875.9L834.7 875.8L832.5 877.3L833 877.7L833.3 878.1L835 878L834.5 878.8L833.9 879.6L834.1 880.1L835.3 880.2L834.3 881.2L834.2 881.8L834.7 882.2L834.7 882.7L836.2 882.8L835.5 883.6L835.1 884.3L836.4 884.4L835.6 885.2L835.9 885.7L836.2 886.1L836.3 886.7L838.4 886.6L836.6 887.7L836.7 888.2L837.2 888.6L837.1 889.2L836.8 889.8L837.1 890.3L838.2 890.6L837.7 891.2L838.2 891.7L839 892L838.5 892.7L837.8 893.4L838 893.9L839.1 894.2L838.4 894.9L839.2 895.3L839.5 895.8L839.2 896.4L839.6 896.9L838.5 897.6L839.4 898L838.9 898.6L838.7 899.2L838.9 899.7L839.6 900.1L839.3 900.7L840.4 901.1L840.4 901.6L839.1 902.3L840.6 902.7L839.9 903.3L839.4 903.9L841 904.3L840.5 904.9L840.7 905.4L839.7 906L839.9 906.5L840.6 907L839.9 907.6L839.6 908.1L840.5 908.6L839.8 909.2L839.6 909.7L840.7 910.2L840.8 910.8L840.1 911.3L839.7 911.8L839.6 912.4L839.8 912.9L839.8 913.4L841.1 914L839.9 914.5L840 915L840.7 915.6L839.9 916.1L841 916.7L840.7 917.2L840.6 917.7L840.2 918.2L839.9 918.7L840.2 919.3L840.2 919.8L839.6 920.3L840.2 920.9L839.7 921.4L839.9 922L839.1 922.4L839.2 922.9L840.4 923.6L839.6 924.1L840.3 924.7L840.1 925.2L839.1 925.6L838.9 926.1L839.4 926.7L838.3 927.1L838.9 927.7L839.1 928.3L838.1 928.7L838.8 929.4L838 929.7L837.8 930.2L838.3 930.9L838.6 931.5L838.6 932.1L837.2 932.3L838 933L837.9 933.5L838.2 934.2L836.8 934.4L836.9 934.9L837 935.5L837.3 936.2L836.9 936.6L836.7 937.1L836.6 937.6L836.3 938.1L836.6 938.8L836.6 939.3L835.7 939.6L836.3 940.3L835.8 940.7L837.3 941.8L834.9 941.6L835.6 942.4L834.4 942.5L834.7 943.2L834.3 943.6L834.5 944.3L836 945.4L834.4 945.4L833.8 945.7L833.1 946L832.5 946.3L833.8 947.5L834.5 948.4L832.1 947.9L832.2 948.5L831.7 948.8L832.4 949.8L831 949.7L831.5 950.5L831.3 951L830.3 951.1L830.2 951.6L830.1 952.2L830.4 952.9L830.2 953.5L829 953.4L830.2 954.7L828.7 954.4L829.2 955.3L829.4 956.1L827.9 955.8L827.7 956.4L827.5 956.8L827 957.1L828.5 958.7L826.9 958.4L826.8 958.9L825.9 958.9L826.1 959.7L826.2 960.4L825.1 960.4L825.6 961.4L825.3 961.8L824 961.6L823.8 962.1L823.4 962.4L823.1 962.8L823.2 963.5L822.5 963.7L822.5 964.3L822.1 964.7L822.7 965.8L821.8 965.9L820.8 965.8L821.9 967.3L821.3 967.5L820.3 967.4L820 967.8L819.8 968.3L819.9 969.1L818.6 968.7L819.1 969.9L818.1 969.7L818.3 970.6L818.2 971.2L817.9 971.7L817.4 972L816.5 971.9L816.8 972.8L815.3 972.2L814.9 972.6L815.4 973.7L814.2 973.4L814.9 974.8L814.2 974.8L813.4 974.8L812.9 975L813 975.9L812.4 976L812.2 976.6L811.8 976.9L811.7 977.7L810.9 977.6L810.6 978.1L809.5 977.6L809.5 978.4L808.7 978.3L808.7 979.2L808 979.1L807.5 979.3L807.7 980.5L807.3 980.8L806.2 980.2L806.7 981.7L805.8 981.5L805.7 982.2L805.3 982.5L804.9 983L804.5 983.3L803.6 983L803 983.1L802.8 983.6L802.2 983.7L801.5 983.7L801.7 984.9L801.1 985L800.4 984.9L800 985.3L799.4 985.3L799.2 986L799 986.7L798.8 987.4L797.8 986.7L797.1 986.7L797 987.5L796.5 987.8L796.1 988L795.3 987.8L795.2 988.8L794.4 988.4L794.1 988.8L793.3 988.6L793.3 989.7L792.4 989.1L792.5 990.4L792 990.5L791.1 990.1L791 991L790.2 990.6L789.6 990.5L789.5 991.5L789.2 992.3L788.4 991.8L787.6 991.3L787.6 992.7L787.1 992.8L786.4 992.6L785.8 992.4L785.2 992.5L784.7 992.5L784.7 994.1L784.1 994L783.4 993.7L782.9 993.8L782.8 995L782 994.5L781.6 995.1L780.7 994L780.4 994.7L779.9 995L779.6 995.9L779 995.8L778.2 994.9L778 995.9L777.2 995.1L776.8 995.8L776.3 996L775.9 996.4L776.1 999.3L774.8 996.5L774.5 997.5L773.6 996.1L773.5 997.8L772.7 997L772.3 997.7L771.8 997.8L771 996.6L770.7 997.9L770.2 998.1L769.6 997.7L769.1 998.1L768.5 997.6L767.9 997.4L767.7 999L767 998.4L766.5 998.4L766 998.8L765.4 998.5L764.9 999L764.3 998.7L763.8 999L763.4 1000L762.7 998L762.1 998.2L761.8 999.7L761.1 998.4L760.6 998.9L760.1 998.7L759.5 998.5L759 998.9L758.5 999L757.9 998.8L757.4 999.2L756.9 998.7L756.3 998.7L755.8 998.6L755.3 999.3L754.8 999.8L754.2 998.5L753.7 999L753.2 999.9L753 997.9A86 86 0 0 0 753 825.9Z" fill="#e01818"/>
<path d="M753 826.6L753.5 827.4L754 827.7L754.5 827.6L755 830.2L755.6 827.9L756.1 827.5L756.6 827.6L757.1 827.2L757.7 826.9L758.1 828.1L758.6 828.6L759.2 827.6L759.7 827.6L760.3 827L760.8 827.3L761.2 827.8L761.8 827.5L762.3 827.7L762.8 828L763.2 828.5L763.9 827.3L764.2 828.8L764.9 827.5L765.4 827.8L765.8 829L766.5 827.8L767 827.7L767.4 828.8L767.8 829.4L768.5 828.5L768.9 828.8L769.6 828.2L769.9 829.1L769.7 832.6L771 829.2L771.3 830.1L771.4 832L772.4 830L772.4 831.9L773.5 829.6L774.1 829.4L774.4 830.4L774.8 830.9L775.6 829.8L776 830.4L776.5 830.5L776.9 831L777.2 831.7L778 830.9L778.5 831L778.6 832.3L779.3 831.8L779.6 832.7L780.6 831.4L781.1 831.5L781.1 833.1L781.6 833.2L782 833.5L782.5 833.7L783.5 832.4L783.6 833.6L784 833.9L783.7 836.2L785.2 833.7L786 833.2L786 834.6L786.9 833.8L786.8 835.3L787.2 835.6L787.3 836.6L788.6 835L788.7 836L789.1 836.4L790.2 835.3L790.7 835.5L790.6 836.8L790.9 837.4L791.8 836.7L792 837.6L792.5 837.6L792.9 837.9L793.6 837.7L794.4 837.4L794.7 838L793.7 840.6L795.2 839.1L795.4 839.9L795.7 840.2L796.8 839.4L797.6 839.1L797.6 840.1L797.6 841.1L798.4 840.7L798.9 840.9L799.2 841.4L800.1 841L800.4 841.6L800.7 842L800.6 843L801.4 842.8L801.9 842.9L799.9 846.6L802.2 844.3L802.7 844.5L803.9 843.8L803.6 845.1L804.6 844.6L802.4 848.3L804.7 846.1L804.6 847.1L805.8 846.4L806.3 846.6L806.3 847.3L807.2 847L807.8 847.2L808.3 847.4L808.9 847.4L809 848.1L809.7 848.2L809.1 849.5L810.3 849L810.7 849.4L810.8 850.1L810.6 851L808.4 854L812.4 850.6L811.6 852.2L813.1 851.4L813.5 851.7L813.5 852.4L813.2 853.4L813.3 854L814.4 853.7L815.3 853.6L815 854.6L815.1 855.2L815.7 855.3L815.6 856.1L816 856.5L817.3 856L817.2 856.8L817.9 856.9L817.2 858.1L818 858.1L818.7 858.3L815.4 861.5L819.5 858.9L819.4 859.7L819.7 860.1L820.1 860.4L821 860.4L820.2 861.7L821 861.7L820.9 862.4L822.3 862L822.6 862.5L822.5 863.2L823 863.5L820.1 866.1L823.3 864.5L823.8 864.7L823.1 865.9L823.6 866.1L824.7 866L823.8 867.2L822.5 868.6L825.4 867.4L825.4 868.1L826 868.3L825.7 869.1L826.3 869.3L826.5 869.8L827.1 870.1L826.6 870.9L827.7 870.9L827.2 871.8L827.2 872.4L827 873L827.3 873.5L827.8 873.8L828.1 874.2L829 874.4L825.5 876.6L829.8 875.1L828.9 876.1L829.9 876.2L829.9 876.8L830.6 877L829.6 878.1L831.1 877.9L831.2 878.5L831.2 879L831.9 879.3L831.7 879.9L831.3 880.7L831.1 881.3L831.2 881.8L832.8 881.7L831.7 882.7L833 882.8L833.3 883.2L833.6 883.7L833.7 884.2L832.2 885.2L833.7 885.3L834.1 885.7L833.6 886.4L833.8 886.9L834.3 887.3L834.6 887.7L833.3 888.7L834.2 888.9L835.1 889.2L835.4 889.7L834.6 890.4L835.5 890.7L835.6 891.2L835.8 891.7L835.5 892.3L834.4 893.1L834.9 893.5L836.1 893.8L835.4 894.5L835.5 895L835.4 895.5L836.6 895.8L835.3 896.6L836.8 896.8L836.4 897.4L836.9 897.9L835.6 898.6L836.3 899L836.9 899.4L837.5 899.9L837.1 900.5L835.8 901.1L837.2 901.5L837.7 902L836.8 902.6L837.8 903L837.6 903.5L837.3 904.1L837.6 904.6L837.3 905.1L837.8 905.6L836.9 906.2L836.5 906.7L837.7 907.2L837.3 907.7L837.3 908.2L837.6 908.7L837.3 909.2L837.2 909.8L838.3 910.3L838.2 910.8L838 911.3L837 911.8L836.8 912.3L837.8 912.9L838.3 913.4L837.2 913.9L838.1 914.4L837.5 914.9L837.9 915.5L837 915.9L837.6 916.5L837 917L837.7 917.5L838.1 918.1L836.7 918.5L834 918.8L836.5 919.5L837.9 920.1L836.9 920.6L837.4 921.1L833.3 921.2L837.1 922.2L836.5 922.6L837.5 923.3L837.5 923.8L837.2 924.3L836.3 924.6L835.9 925.1L836.4 925.7L837.1 926.4L835.7 926.6L835.2 927.1L835.3 927.6L836.4 928.3L835.2 928.6L835.3 929.2L835.5 929.7L834.9 930.1L835.1 930.7L835.4 931.3L835.3 931.8L834.2 932.1L835.1 932.8L835.3 933.4L833.8 933.6L835.3 934.5L834 934.7L834.1 935.2L833.7 935.7L833.1 936L834.2 936.9L833.6 937.2L830.2 936.7L834.1 938.5L832.5 938.5L833 939.2L833.4 939.9L833.3 940.4L832.3 940.6L832.8 941.3L832.6 941.8L832.2 942.2L832.2 942.8L831.8 943.2L832.1 943.9L831.6 944.2L830.3 944.2L830.4 944.8L830.8 945.6L830.1 945.8L830.9 946.8L829.4 946.6L829.1 947.1L829.1 947.6L828.6 948L829.2 948.8L828 948.8L828.7 949.7L828.2 950.1L828.5 950.8L827.3 950.7L828.3 951.8L827.3 951.9L826.9 952.3L826.3 952.6L827.1 953.5L826.6 953.9L825.9 954.1L825.7 954.6L825.5 955L825.5 955.7L825.4 956.2L824.9 956.5L824.9 957.1L824.1 957.2L824.7 958.2L823.9 958.3L823 958.3L823.3 959.1L823.4 959.9L822.7 960L822.8 960.7L822.5 961.1L821.9 961.3L821.7 961.8L821.3 962.2L820.1 961.9L820.8 963.1L820.6 963.5L819.8 963.6L819.8 964.3L818.4 963.9L818.6 964.6L817.9 964.8L818.9 966.2L818.4 966.5L817.3 966.2L817.3 966.9L816.4 966.8L817.1 968.1L816.7 968.5L815.2 967.8L815 968.3L814.4 968.5L814.6 969.4L814.2 969.6L813.9 970.1L812.6 969.5L813.9 971.6L813.2 971.6L812.4 971.5L812 971.8L812.1 972.6L808.8 970L811.3 973.4L810.8 973.6L810.1 973.6L809.4 973.5L810 975L808.8 974.4L808.9 975.3L808.4 975.5L807.6 975.3L804.8 972.9L806.8 976L807.2 977.3L807.1 978L806.3 977.9L805.6 977.7L805.3 978.2L805.3 979.1L805 979.5L804.4 979.7L804.1 980.1L803.3 979.8L802.6 979.8L802.6 980.6L802.1 980.9L801.9 981.5L800.7 980.6L800.4 981.1L800.7 982.4L800 982.4L799 981.9L799.2 983.1L798.6 983L798.3 983.5L798.2 984.3L797.3 983.9L797 984.4L796.4 984.4L796 984.7L795.2 984.5L794.9 984.9L794.8 985.7L794.1 985.7L793.9 986.4L793.6 986.8L792.6 986L792.3 986.5L791.8 986.8L791.8 987.9L791.4 988.2L790.4 987.4L790 987.8L789.6 988.1L788.7 987.5L788.6 988.4L788.1 988.5L787.7 988.9L787.4 989.4L787.1 990.1L786.1 989.1L786.1 990.3L785.5 990.4L785.1 990.6L784.3 990.1L784.1 991L783.3 990.4L783 991.1L782.5 991.1L782 991.4L781.3 991.1L780.7 990.7L780.4 991.6L780.1 992.3L779.3 991.4L779.3 993.1L778.7 993.1L777.8 991.9L777.7 993.3L777.1 993L776.8 993.7L775.9 992.7L775.6 993.3L775.3 994.2L774.8 994.3L774 993.2L773.6 993.7L772.9 993.4L772.7 994.7L772.3 995L771.8 995.2L771.1 994.5L770.5 994.5L770.2 995.2L769.6 995.2L769 994.8L768.7 995.8L768 994.8L767.4 994.2L767.1 995.6L766.1 992.8L766.1 996.1L765.4 994.8L765 995.8L764.5 996L763.6 993L763.5 996.6L763 996.5L762.4 995.6L761.8 994.9L761.1 993.4L760.9 996.7L760.3 995.3L759.8 995.5L759.4 996.4L758.9 996.9L758.3 996.5L757.6 993.4L757.2 995.6L756.7 995.8L756.3 996.7L755.7 996.7L755.2 996.5L754.7 997.2L754.2 997.1L753.7 995.8L753.1 995.9L753 997.9A86 86 0 0 0 753 825.9Z" fill="#1a1ae8"/>
<path d="M753 835.3L753.5 835.7L754 833.7L754.4 833.6L754.9 835.5L755.4 832.8L755.8 835.5L756.2 836.1L756.7 835.9L757.3 834.7L757.6 836.1L758.1 835.5L758.9 831.6L759.2 833.7L759.7 833.2L759.9 836.3L760.7 833.8L760.9 836.4L761.4 836.2L761.9 835.6L762.3 836L763 834.2L763.3 835.8L764.1 833.5L764.4 834.4L764.9 834.7L765.2 835.8L766 833.8L765.9 837L766.5 836.5L767.2 835.4L767.7 835.2L768.2 835.4L768.8 834.6L768.7 837.3L769.5 835.8L769.6 837.8L770.2 837.2L770.5 838L771.2 837L771.5 837.7L772.6 835.3L772.6 837.2L773.5 835.8L774.2 835L774.1 837L774.3 838.1L774.9 837.6L775.2 838.2L775.8 837.9L775.8 839.5L777.2 836.8L776.7 839.8L777.6 838.7L777.8 839.5L778.3 839.4L779 838.9L779.1 840L779.8 839.4L779.8 840.8L781 839L781.5 839L781.8 839.5L783.3 837.1L782 841.6L783.6 839L783 841.7L784.5 839.3L783.8 842.1L784.1 842.6L785.1 841.4L786 840.6L786.5 840.6L786.1 842.6L786.6 842.7L787.9 841L787.5 842.9L788.7 841.7L787.9 844.3L788.3 844.5L789.6 843L789.4 844.5L790.8 842.8L790.8 843.8L791.9 842.8L791.9 843.8L791.6 845.4L792.6 844.6L792.6 845.5L793.8 844.4L793.5 845.8L793.9 846L793.7 847.3L794.1 847.6L794.5 847.7L795.3 847.4L795 848.7L797.2 846.2L796.8 847.7L796.7 848.7L796.6 849.6L797.5 849.2L797.3 850.2L797.7 850.5L798.1 850.8L798.5 851L799.6 850.3L800 850.6L800.9 850.1L800.4 851.6L801.8 850.5L800.9 852.5L802.2 851.5L803.1 851.3L802.4 852.9L805.8 849.5L803.7 852.8L802.7 854.6L804.5 853.2L805.2 853.2L804.7 854.5L804.6 855.3L806.1 854.4L806 855.1L806.5 855.3L806.7 855.8L808 855.2L806.2 857.7L806.6 857.9L807.8 857.4L808.4 857.4L809 857.5L808.3 858.9L810.7 857.3L808.8 859.6L810.1 859.1L811.2 858.8L809.4 861.1L810.7 860.5L810.4 861.4L811.6 860.9L811.2 861.9L811.5 862.3L811.3 863L812.2 862.9L811.9 863.8L812.6 863.8L814.2 863.2L813.4 864.4L813.4 865L815.6 863.9L815.4 864.6L814.3 866L815.3 865.8L815.9 866L816.7 866.1L815.4 867.5L816.2 867.6L815.7 868.5L816.1 868.8L815.9 869.5L817.2 869.2L818 869.2L817 870.4L819.4 869.5L820 869.6L817.5 871.8L818.6 871.6L819.7 871.5L819.4 872.2L821.1 871.8L820.1 872.9L819.9 873.6L821.4 873.3L819.6 874.8L820.9 874.6L820.1 875.6L820.3 876L820.3 876.6L821.7 876.4L822.2 876.7L821 877.8L824 876.8L821.4 878.6L824.1 877.8L821.9 879.4L822.9 879.5L824.6 879.2L823.6 880.2L822.6 881.1L822.7 881.6L825.1 881.1L823.6 882.2L826.1 881.7L826.4 882.1L824.2 883.5L825.1 883.6L825.6 884L824.7 884.8L826 884.8L824.4 885.9L827.2 885.4L827.3 885.9L824.9 887.2L827.9 886.7L827.3 887.4L828.1 887.7L827.3 888.4L828.7 888.5L825.7 889.9L826.7 890.1L826 890.8L826.7 891.1L829.2 890.8L826.7 892L826.6 892.5L827.8 892.7L827 893.4L829.7 893.2L827.7 894.2L828.6 894.5L827.7 895.1L829.8 895.2L827.9 896L827.7 896.6L828 897L827.6 897.5L829.5 897.6L831 897.9L829.9 898.5L828.1 899.3L830.1 899.5L828.9 900.1L830.1 900.4L831 900.8L829.9 901.4L829.8 901.9L828.8 902.5L830.1 902.8L831.6 903.2L831.1 903.7L828.6 904.4L831.3 904.6L831.1 905.1L828.7 905.8L828.8 906.3L828.8 906.7L831.1 907.1L831.1 907.5L832 908L829 908.6L828.9 909.1L829.1 909.5L831.1 909.9L831.6 910.4L831.3 910.9L829.5 911.4L832.1 911.8L830.5 912.3L830.3 912.8L833 913.3L832 913.8L829.3 914.2L831.1 914.7L831.2 915.2L830.7 915.6L828.9 916L829.2 916.5L828.9 916.9L829.6 917.5L831.4 918.1L831.7 918.6L831 919L829.6 919.3L831 920L830.9 920.4L829.9 920.8L830.6 921.4L829.5 921.7L831.1 922.4L829.5 922.6L829 923.1L830.2 923.7L829.1 924L829.9 924.6L829.9 925.1L828.3 925.3L829.8 926.1L829.5 926.5L829.5 927L829.8 927.5L827.5 927.5L828.2 928.2L827.5 928.5L827.3 928.9L827 929.3L828.3 930.1L827.3 930.4L828.1 931L831.3 932.4L826.6 931.6L827 932.2L827.6 932.9L832 934.6L826.4 933.5L827.3 934.3L825.8 934.3L826.2 934.9L826.5 935.5L826.3 935.9L827.8 936.9L826.9 937.1L827 937.7L824.5 937.3L824.4 937.8L827.3 939.3L824.9 938.9L825.8 939.8L825.2 940.1L823.7 940L825.8 941.3L823.7 940.9L825.8 942.4L824.8 942.4L825 943.1L824.5 943.4L823.1 943.3L827.5 945.8L822.2 943.9L824.5 945.5L823.3 945.4L822.9 945.8L821.7 945.7L820.9 945.8L822.1 947L822.7 947.8L821.7 947.8L820.9 948L822.6 949.4L821 949L819.6 948.8L820.6 949.9L819.1 949.6L821.2 951.4L818.6 950.4L820.3 951.9L819 951.7L819.7 952.7L817.6 951.9L819.5 953.7L818.2 953.4L817.7 953.7L818.1 954.5L816.6 954.1L816.7 954.7L818.1 956.2L816.6 955.8L816.6 956.3L815.1 955.8L814.7 956.2L815.6 957.4L814.4 957.1L814.1 957.4L816.1 959.5L814.5 958.9L815.2 960.1L814.1 959.8L814.7 960.9L813.7 960.7L813 960.8L811.8 960.3L811.4 960.6L813.3 962.9L811.1 961.6L811.8 962.8L811.3 963.1L809.8 962.3L809.7 962.8L809.9 963.7L809.2 963.7L810.6 965.6L808.7 964.5L809.1 965.5L807.8 964.9L807.8 965.6L807.2 965.7L807.8 966.9L807.2 967L806 966.4L807.6 968.8L806.8 968.6L805.4 967.8L804.7 967.8L804.7 968.4L804.9 969.3L803.9 968.9L803.3 968.9L802.8 969.1L803.7 970.9L802.4 970.1L803 971.5L803.1 972.4L801.6 971.2L800.9 971.1L801.7 972.9L800.2 971.8L799.8 972.1L801 974.3L799 972.6L799.5 973.9L799.8 975.2L798.3 973.9L798.2 974.6L799.3 976.9L797 974.5L796.4 974.5L796.3 975.1L796.7 976.6L795.4 975.5L795.7 976.8L795.5 977.3L795.4 978.1L794.8 978L794 977.7L793.5 977.7L793.1 978L793.6 979.7L792.1 978.1L791.9 978.8L791.7 979.3L790.7 978.6L790.2 978.7L790.2 979.6L790.4 980.9L790.1 981.3L789.5 981.3L789.2 981.7L787.7 979.9L788 981.6L788 982.6L787.8 983.3L787.2 983L785.7 981L785.7 982.1L785 981.8L784.4 981.7L784.1 982L784.1 983.3L783.1 982.2L782 980.7L781.6 980.9L781.2 981.1L780.8 981.3L780.3 981.4L779.9 981.6L780.1 983.4L779 981.9L778.6 982L778.2 982.3L777.7 982.4L777.3 982.5L777.5 984.5L776.4 982.8L776 983L775.6 983.1L775.1 983.2L774.7 983.3L774.3 983.5L773.8 983.6L773.4 983.8L772.9 983.8L772.5 984L772.1 984.1L771.6 984.2L771.2 984.4L770.8 984.4L770.3 984.6L769.9 984.6L769.4 984.7L769 984.8L768.5 984.9L768.1 985.1L767.6 985.1L767.2 985.2L766.7 985.3L766.3 985.4L765.8 985.4L765.4 985.5L764.9 985.6L764.5 985.7L764 985.8L763.6 985.9L763.1 985.9L762.7 986L762.2 986L761.8 986.1L761.3 986.1L760.9 986.1L760.4 986.2L760 986.2L759.5 986.3L759.1 986.4L758.6 986.3L758.1 986.5L757.7 986.4L757.2 986.5L756.8 986.5L756.3 986.5L755.9 986.5L755.4 986.6L755 986.6L754.5 986.6L754 986.5L753.6 986.6L753.1 986.6L753 986.5A74.6 74.6 0 0 0 753 837.3Z" fill="#f2f21a"/>
<path d="M753 838.5L753.5 837.7L753.9 837.4L754.4 837.7L754.8 837.8L755.3 837.5L755.7 837.5L756.2 837.7L756.6 837.6L757.1 837.7L757.5 837.7L758 837.6L758.4 837.7L758.9 838L759.4 837.8L759.8 837.8L760.3 837.9L760.7 837.9L761.2 838.1L761.5 839.2L762.1 838.1L762.5 838.1L763 838.1L763.4 838.3L763.8 838.5L764.3 838.5L764.8 838.4L765.2 838.7L765.7 838.6L766.1 838.8L766.6 838.7L767 838.8L767.4 838.9L767.9 839L768.3 839.3L768.8 839.3L769.2 839.4L769.6 839.6L770.1 839.7L770.5 839.8L771 839.8L771.4 840L771.9 839.9L772.3 840.1L772.7 840.4L773.2 840.4L773.6 840.4L774.1 840.5L774.5 840.6L774.9 841L775.4 840.9L775.7 841.3L776.2 841.4L776.7 841.3L777 841.7L777.5 841.8L778 841.8L778.4 841.9L778.8 842.1L779.2 842.3L779.7 842.4L780.1 842.6L780.4 843L780.8 843.1L781.4 843.1L781.7 843.4L782.1 843.6L782.6 843.7L783 843.9L783.3 844.2L783.8 844.3L784.3 844.3L784.7 844.5L785.1 844.7L785.5 845.1L785.9 845.1L786.2 845.5L786.7 845.6L787.1 845.8L787.4 846.2L787.9 846.2L788.3 846.4L788.7 846.7L789 847L789.4 847.3L789.8 847.5L790.3 847.5L790.6 847.9L791.1 847.9L791.5 848.2L791.9 848.4L792.3 848.7L792.6 849L792.9 849.4L793.4 849.4L793.7 849.8L794.1 850L794.6 850.1L795 850.4L795.3 850.6L795.6 851L796 851.3L796.4 851.4L796.7 851.9L797.1 852L797.4 852.4L797.7 852.7L798.3 852.8L798.6 853.1L798.9 853.4L799.3 853.7L799.6 854.1L800 854.2L800.3 854.7L800.7 854.8L800.9 855.3L801.3 855.5L801.7 855.8L802 856.2L802.4 856.4L802.7 856.7L803.2 856.9L803.4 857.3L803.8 857.5L804 858L804.4 858.2L803.8 859.5L805 858.9L805.3 859.2L805.8 859.4L805.9 859.9L806.3 860.2L806.7 860.4L807 860.7L807.3 861.1L807.6 861.4L807.9 861.8L808.1 862.2L808.6 862.4L808.8 862.8L809.2 863.1L809.3 863.5L807.7 865.5L810.1 864.1L810.4 864.4L810.6 864.8L810.8 865.3L811.1 865.6L811.4 865.9L811.7 866.3L812 866.6L812.3 867L812.6 867.3L812.8 867.7L813 868.2L813.3 868.5L813.6 868.8L813.8 869.2L814.1 869.6L814.4 869.9L814.7 870.3L815 870.6L815.1 871.1L815.3 871.5L815.5 871.9L815.8 872.3L816 872.7L816.4 873L816.6 873.4L816.9 873.7L817.1 874.2L817.4 874.5L817.6 874.9L817.8 875.3L817.8 875.8L816.4 877.1L818.3 876.6L818.6 876.9L818.7 877.4L819.1 877.7L819.1 878.2L819.6 878.5L819.6 879L819.9 879.4L819.9 879.8L820.3 880.1L820.4 880.6L820.6 881L820.9 881.4L820.9 881.9L821.1 882.3L821.4 882.7L821.4 883.1L821.8 883.5L821.9 883.9L822.2 884.3L822.3 884.7L822.3 885.2L822.5 885.6L822.7 886.1L822.7 886.5L823.1 886.9L823.2 887.3L823.3 887.8L823.6 888.2L821.7 889.2L823.7 889.1L824 889.5L823.9 890L824.3 890.3L824.3 890.8L824.4 891.2L824.5 891.7L824.8 892.1L824.7 892.6L824.9 893L825 893.4L825.1 893.8L825.3 894.3L825.4 894.7L825.3 895.2L825.6 895.6L825.5 896.1L825.8 896.5L825.9 896.9L825.8 897.4L825.9 897.9L826.1 898.3L826.1 898.7L826.3 899.2L826.3 899.6L826.5 900.1L826.5 900.5L826.7 901L826.7 901.4L826.8 901.9L826.8 902.3L826.6 902.8L826.8 903.2L826.9 903.7L827 904.1L826.9 904.6L827 905L827.1 905.5L827.2 905.9L827.2 906.4L827.3 906.8L827.1 907.3L827.3 907.7L827.3 908.2L827.4 908.7L827.4 909.1L827.4 909.6L827.3 910L827.3 910.5L827.4 910.9L827.3 911.4L827.3 911.8L827.2 912.3L827.4 912.7L827.3 913.2L827.4 913.7L827.4 914.1L827.1 914.6L827.4 915L827.3 915.5L827.2 915.9L827.1 916.4L827.3 916.8L827.2 917.3L827 917.7L827.2 918.2L826.9 918.6L827 919.1L826.8 919.5L826.8 920L826.8 920.4L825.4 920.7L826.7 921.3L826.7 921.8L826.7 922.3L826.5 922.7L826.5 923.1L826.5 923.6L826.3 924L826.1 924.5L826.1 924.9L826 925.4L826 925.8L825.9 926.3L825.9 926.7L825.8 927.2L825.6 927.6L825.7 928.1L825.5 928.5L825.4 929L825.3 929.4L825.2 929.8L825 930.3L825 930.7L824.8 931.2L824.7 931.6L824.7 932L824.3 932.4L824.4 932.9L824.3 933.3L824 933.7L823.8 934.2L823.7 934.6L823.8 935.1L823.6 935.5L823.3 935.9L823.3 936.4L823.1 936.8L822.9 937.2L822.9 937.7L822.7 938.1L822.4 938.5L822.3 938.9L822 939.3L821.9 939.7L821.7 940.2L821.4 940.5L821.3 941L821.3 941.5L821.1 941.9L820.7 942.2L820.7 942.7L820.4 943.1L820.4 943.5L820.1 943.9L819.9 944.3L818.1 943.9L819.4 945.1L819.2 945.5L819.2 946L818.9 946.4L818.6 946.7L818.5 947.2L818.4 947.6L817.9 947.9L817.9 948.4L817.5 948.7L817.3 949.1L817.1 949.5L816.8 949.9L816.7 950.3L816.5 950.7L816.2 951.1L815.9 951.4L815.6 951.8L815.5 952.3L815.3 952.7L814.8 952.9L814.6 953.3L814.6 953.8L814.2 954.1L814 954.5L813.7 954.9L813.5 955.3L813.1 955.6L812.8 955.9L812.6 956.3L812.3 956.7L812 957L811.9 957.5L811.5 957.7L811.3 958.2L811 958.5L810.5 958.7L810.4 959.3L810.1 959.6L809.8 959.9L808.3 959.2L809.2 960.6L809 961L808.7 961.3L808.3 961.6L807.9 961.9L807.6 962.2L807.4 962.7L807 962.9L806.8 963.3L806.4 963.6L806.2 964L805.8 964.2L805.5 964.6L805.1 964.8L804.8 965.1L804.6 965.6L804.3 965.9L803.9 966.2L803.6 966.5L803.2 966.8L802.9 967.1L802.6 967.5L802.2 967.7L801.9 968.1L801.4 968.2L799.4 966.6L800.7 968.8L800.4 969.1L800 969.3L799.8 969.8L799.4 970L799 970.3L798.6 970.5L798.3 970.8L798 971.1L797.6 971.4L797.3 971.8L796.8 971.9L796.5 972.3L796.1 972.4L795.8 972.7L795.4 973L795 973.2L794.6 973.5L794.3 973.8L793.8 973.9L793.5 974.3L793.1 974.5L792.8 974.8L792.3 974.9L792 975.3L791.6 975.6L791.1 975.6L790.7 975.8L790.4 976.2L790 976.3L789.6 976.6L789.2 976.9L787.6 974.8L788.4 977.2L787.9 977.4L787.5 977.6L787.1 977.8L786.7 978L786.4 978.4L786 978.4L785.6 978.8L785.2 979L784.8 979.1L784.4 979.4L784 979.6L783.6 979.8L783.1 979.8L782.7 980.1L782.3 980.2L780.6 977.3L780.3 977.9L780.7 979.8L779.3 977.6L779.8 980.1L779.2 979.8L778.9 980.4L778.1 979.3L778 980.5L777.6 980.7L776.6 979.2L776.8 981.1L775.6 978.8L775.9 981.1L775.6 981.6L774.9 980.9L774.6 981.5L773.6 979.7L773.8 981.8L773.2 981.4L773 982.3L771.9 979.9L771.9 981.6L771.2 980.9L770.7 980.5L770.7 982.4L770.2 982.3L769.6 981.8L769.3 982.4L768.6 981.2L768.6 983.2L767.9 982L767.6 982.8L766.9 981.3L766.6 982.1L766.1 981.7L765.7 982.1L765.3 982.6L765 983L764.3 981.6L764.3 984.4L763.7 983.4L763.1 982.4L762.8 983.2L762.4 983.7L762 984.5L761.5 983.6L761.1 984.3L760.6 983.5L760.2 983.9L759.7 983.6L759.2 982.4L758.7 982.6L758.5 984.5L757.9 983.5L757.6 984.9L757 983.1L756.7 984.8L756.2 983.7L755.8 985L755.3 983.3L754.9 984L754.5 984.7L754 985.3L753.6 983.1L753.1 983.7L753 986.5A74.6 74.6 0 0 0 753 837.3Z" fill="#1a1ae8"/>
<path d="M753 1000.2L752.5 998.6L751.9 999.9L751.4 998.9L750.8 1002.8L750.3 1001.1L749.8 999.7L749.3 999.3L748.8 998.6L748.2 998.5L747.6 999.4L747.2 998.7L746.6 999.3L746.1 998.7L745.4 1000L745 998.4L744.5 998.2L743.9 999.4L743.3 999.4L742.8 999.5L742.4 998.5L741.4 1001.5L741.3 998.4L740.7 999L740.3 997.8L739.8 997.5L739.2 997.9L738.5 999.1L738.1 998L737.6 997.9L737 998L736.7 997L735.9 998.4L735.5 997.7L734.8 998.3L734.3 998.2L733.8 998L733.3 997.8L732.8 997.3L732.2 997.6L731.9 996.7L731.3 996.6L731 995.8L730.1 996.9L729.6 997L729.4 995.5L728.6 996.6L728 996.4L727.6 996.1L727 996L726.8 995L726.3 994.9L724.9 997.3L725 995.3L724.9 994.1L724.3 994.1L723.8 994L723.4 993.4L722.5 994.3L722.4 993.2L720.8 995.7L721.2 993.2L720.4 993.8L719.9 993.6L719.9 992.1L719.3 992.2L718.7 992.4L718.3 992L717.3 992.8L717.1 992L717.1 990.8L716.1 991.5L715.6 991.3L715.1 991.2L715.1 990L714.6 989.7L713.1 991.6L713.4 989.8L713.1 989.1L712.4 989.4L712.3 988.5L711.5 988.8L711.2 988.2L710.8 987.9L710.4 987.4L708.4 989.9L709 987.8L708.9 986.9L708.6 986.4L707.9 986.5L707.4 986.3L706.7 986.4L706.7 985.4L706.1 985.4L705.1 986L705.4 984.5L705.1 984.1L704 984.7L703.7 984.2L703.7 983.2L702.6 983.9L702.6 983L702.4 982.4L701.8 982.2L701.2 982.2L700.6 982L699.8 982.3L699.3 982.1L699.2 981.2L699.3 980.2L699 979.7L698.6 979.4L697.4 980.1L697.1 979.6L697.2 978.6L696.7 978.4L696.4 977.9L696 977.5L695.3 977.5L694.8 977.3L694.6 976.8L692.5 978.3L694 975.8L693.3 975.8L692.8 975.5L692.6 975L692.2 974.7L691.3 974.8L688.5 976.8L691.5 973.1L690.4 973.4L690.8 972.3L690.2 972.1L689 972.5L688.8 972L689.4 970.7L688.9 970.4L688.3 970.2L687.8 970L686.7 970.3L687.5 968.8L686.5 969L686 968.7L686 968L684.9 968.2L685.8 966.8L685.1 966.7L685 966.1L684.9 965.5L684.3 965.3L684 964.9L683 964.9L682.5 964.7L683.3 963.4L682.9 963L681.7 963.2L681.8 962.5L681.5 962.1L681 961.7L680.2 961.7L680.1 961.1L680.2 960.4L679.4 960.3L679.4 959.6L679.7 958.8L679.4 958.3L678.9 958L678.8 957.5L678.3 957.1L678.5 956.4L678.1 956L678.1 955.4L677.1 955.4L677.4 954.6L677.1 954.2L676 954.2L675.2 953.9L674.9 953.5L675.1 952.8L674.8 952.3L675.7 951.3L674.8 951.1L674.9 950.5L674.1 950.3L674 949.7L674.4 949L674.1 948.5L673.7 948.1L673.2 947.7L673.6 947L672.9 946.7L670.3 947.2L672.4 945.8L671.9 945.4L672.7 944.5L672 944.2L671.2 944L671 943.4L671.6 942.6L671.7 942.1L670.9 941.8L669.7 941.6L671 940.6L670 940.4L669.6 940L669.7 939.4L670.2 938.6L670.2 938.1L669.6 937.7L669.1 937.3L668.8 936.8L665.7 937.2L669.2 935.6L669.2 935.1L668.7 934.6L668.3 934.2L669 933.5L668.9 932.9L667.4 932.8L667.7 932.1L666.9 931.8L663.9 931.9L667.8 930.5L668 929.9L668.1 929.3L666.5 929.1L667.8 928.3L666.4 928L667.7 927.3L666.5 926.9L666.8 926.3L665.7 926L666.4 925.3L665.7 924.9L666.8 924.2L666 923.7L665.3 923.3L666.4 922.6L665.4 922.2L665.7 921.6L665 921.1L666.8 920.4L666.1 920L666.1 919.4L665.2 919L665.6 918.4L666.2 917.8L666.3 917.3L665.8 916.8L666 916.2L666.4 915.7L666.3 915.2L666.1 914.6L665.9 914.1L664.6 913.6L666.3 913L666.2 912.5L666.3 912L664.9 911.4L665.6 910.9L665 910.4L665.7 909.8L665.7 909.3L666 908.8L666.4 908.3L665.6 907.7L666.1 907.2L666.4 906.7L665.8 906.1L665.7 905.6L665.8 905L665.8 904.5L665.8 904L666.4 903.5L664.8 902.8L665.5 902.3L662.6 901.4L666.2 901.3L665.3 900.7L665.5 900.1L665.8 899.6L666 899.1L665.6 898.5L666.7 898.1L667.3 897.7L667.2 897.2L666.4 896.5L666.1 895.9L667.7 895.6L667.2 895L667.2 894.4L666.6 893.8L666.6 893.2L667.1 892.8L667.1 892.2L667.1 891.7L668.3 891.4L668.8 891L667.7 890.2L667.5 889.5L668.9 889.4L668.1 888.6L669.2 888.3L668.2 887.5L668.7 887.1L669.9 886.9L669.1 886.1L669.2 885.6L670.2 885.3L670.2 884.8L668.9 883.8L670.1 883.6L668 882.3L669.9 882.4L671.3 882.3L670.5 881.5L671.9 881.4L670.6 880.4L671.3 880L672.3 879.9L672.6 879.4L671.3 878.3L672.4 878.2L672.7 877.8L671.8 876.8L673.6 877L673.7 876.4L672.7 875.4L672.9 874.9L674 874.8L673.8 874.1L674.1 873.7L673.8 872.9L675.2 873L675.3 872.5L675 871.7L676 871.7L676 871L676 870.4L676.8 870.3L676.7 869.6L677.5 869.4L675.3 867.6L676.2 867.5L677.1 867.4L677.7 867.1L677.8 866.5L677.3 865.6L678.7 865.8L678.3 864.9L679.6 865.2L679.9 864.7L679.3 863.7L679.9 863.4L680.7 863.3L680.1 862.3L681.1 862.3L680.9 861.5L681.9 861.6L682.5 861.3L681.6 860L682.5 860L682.8 859.5L682.8 858.9L683.6 858.8L684.1 858.5L684.2 858L684.6 857.6L685.3 857.4L684.5 856.1L682.5 853.8L685.4 855.5L686.4 855.6L687 855.4L687.5 855.1L687.1 854.1L688 854.2L687.8 853.3L688.4 853.1L689.1 853.1L688.3 851.6L689.9 852.4L689.7 851.4L690.7 851.6L686.5 846.8L689.9 849.4L690.5 849.2L691.4 849.4L691.9 849.1L692.8 849.2L692.6 848.2L692.6 847.5L693.2 847.3L690.5 843.6L694.9 847.6L694.4 846.3L694.7 845.7L695.8 846.2L695.5 845L696.4 845.3L696.1 844.1L696.7 844L697.3 843.9L697.8 843.7L698.8 844L698.8 843.1L699.4 843L699.1 841.8L700.5 842.7L699.9 841.1L701.3 842.1L701.8 841.8L702 841.2L701.9 840.1L703 840.7L703 839.8L703.3 839.3L704.3 839.9L704.6 839.3L705 839L704.8 837.6L705.1 837.2L706.4 838.3L706.1 836.8L707.1 837.4L707.6 837.1L707.9 836.5L708.5 836.5L708.8 836L708.9 835L710.2 836.3L710.2 835.1L710.5 834.5L711 834.4L711.8 834.8L711.8 833.6L712.4 833.5L712.9 833.3L713.8 834L714.1 833.4L714.3 832.6L714.6 831.9L715.1 831.8L715.9 832.1L716.7 832.6L717.1 832.1L717.9 832.6L717.9 831.3L718.6 831.6L719.3 831.9L719.5 831L719.9 830.6L720.7 831L721.1 830.8L721.2 829.6L722.2 830.5L722.1 828.9L723.2 830.2L723.4 829.2L724.2 829.8L724.8 830L724.7 828L725.2 827.9L725.1 825.9L726.5 828.4L727.3 829L727.2 827.1L728.2 828.5L728.6 827.9L728.9 827L729.8 828.2L729.8 826.2L730.5 826.6L731.2 827.1L731.6 826.8L732.2 827.1L732.8 827.2L733.1 826L733.5 825.6L734.3 826.4L734.9 826.9L735.4 826.5L736 826.8L736.3 825.7L736.7 824.6L737.2 824.6L738 826.1L738.5 825.6L738.5 822.5L739.4 824.3L740.1 825.4L740.5 824.5L741.1 824.7L741.8 825.9L742.3 825.9L742.7 824.8L743.3 825.1L743.8 824.8L744.2 823.7L744.9 824.9L745.4 824.5L745.9 824.4L746.4 823.7L747 825.2L747.5 824.2L748 824.7L748.5 823.2L749.1 824.8L749.7 825.3L750.2 825L750.7 825L751.2 824L751.8 824.6L752.3 824.8L752.8 825.2L753 825.9A86 86 0 0 0 753 997.9Z" fill="#e01818"/>
<path d="M753 996.2L752.5 997.2L752 995.7L751.5 995.6L750.9 997.2L750.4 996L749.9 995.5L749.4 996.6L748.8 996.9L748.4 995.8L747.9 995.5L747.3 997.1L746.8 996.3L746.3 996.1L745.9 994.8L745.3 995.8L744.7 996.5L744.3 995.7L743.7 996L743.2 996L742.6 996.3L742.3 995.2L741.8 994.8L741.1 996.2L740.8 994.8L740.1 995.8L739.6 995.3L739.2 994.6L738.5 995.7L738.1 995.4L737.7 994.7L737.2 994.3L736.6 994.9L735.9 995.4L735.5 994.9L734.9 995.1L734.4 995L734.1 994.3L733.7 993.5L733.2 993.6L732.4 994.4L732.6 991.6L731.8 992.9L731.1 993.2L730.4 994L729.9 993.7L729.8 992.4L729 993.2L728.3 993.6L728 993L727.5 992.8L727 992.6L726.7 992L726.3 991.5L725.4 992.5L724.9 992.4L724.4 992.3L724.3 990.9L723.5 991.6L723.1 991.1L722.6 991.1L722.3 990.5L721.7 990.6L721.5 989.8L720.9 989.9L720 990.6L719.6 990.2L719.1 990L719.1 988.9L718.2 989.5L717.9 988.9L717.6 988.3L716.7 989.1L716.5 988.3L716 988.1L715.5 987.9L715 987.8L714.6 987.4L714.1 987.3L713.7 987L713.2 986.7L712.6 986.8L712.3 986.2L712.2 985.3L711.9 984.9L711.3 984.8L710.8 984.7L710.6 984.1L709.3 985.2L709.3 984.2L708.8 984L709.6 981.7L707.9 983.6L707.4 983.4L707.3 982.5L707 982L706 982.7L705.4 982.6L705.4 981.7L704.5 982.1L704.1 981.7L704.5 980.3L703.4 980.9L702.8 980.9L703.1 979.6L701.9 980.3L702.3 978.9L701.4 979.3L701.7 978.1L700.3 978.9L700.8 977.5L699.7 978.1L699.7 977.2L699.1 977.2L699 976.5L698.2 976.7L698.1 975.9L698.1 975.1L698.5 973.9L696.5 975.4L696.2 975L695.5 975L695.5 974.3L695.7 973.2L695 973.3L695.1 972.4L694.6 972.2L693.9 972.1L693.7 971.6L693.6 971L692.9 970.9L691.8 971.3L691.6 970.8L691.1 970.6L690.7 970.2L691 969.2L690.4 969L689.6 969.1L690.3 967.8L689.8 967.6L688.6 967.9L688.8 967L690.2 965.2L688.3 966.1L687.2 966.3L686.9 965.9L687.3 965L686.7 964.8L686.1 964.5L685.6 964.3L686.2 963.1L685.5 963.1L684.9 962.9L684.5 962.5L684.5 961.9L683.8 961.7L683.5 961.3L683.2 960.9L684 959.7L682.6 960L682.2 959.6L683.6 958.1L682 958.5L682.7 957.5L682.2 957.2L680.9 957.4L681 956.7L681 956.1L680.6 955.8L679.8 955.6L679.8 955L679.6 954.5L679.5 954L679.3 953.5L679.6 952.8L679 952.5L679.4 951.7L679 951.3L678.4 951.1L677.2 951.1L677.2 950.5L677.6 949.7L677.3 949.3L677.8 948.5L676.1 948.8L676.1 948.2L675.6 947.8L676.5 946.9L675.8 946.6L676.2 945.8L675.8 945.5L674.6 945.4L675.1 944.6L675.2 944L674.5 943.8L674.8 943.1L674 942.8L674.1 942.3L673.2 942.1L673.1 941.5L673.8 940.7L673.2 940.4L673.9 939.6L672.4 939.6L672.6 938.9L672.4 938.5L672.8 937.8L672.5 937.4L671.9 937L671.6 936.6L672.3 935.8L671.4 935.5L670.9 935.1L671.4 934.5L671 934L670.8 933.5L671.7 932.8L671 932.4L671.3 931.8L670.7 931.4L670.5 930.9L670.8 930.4L669.7 930.1L670.3 929.4L669.8 929L669.6 928.5L672.3 927.4L670.5 927.3L669.6 926.9L669.3 926.4L669.9 925.8L669.6 925.3L669.1 924.9L669.5 924.3L669.3 923.8L669.2 923.3L669.8 922.7L671.6 922L668.6 921.8L669.2 921.2L668.9 920.7L668.5 920.3L668 919.8L668.3 919.2L670.1 918.6L669.4 918.1L667.9 917.7L669 917.1L669.3 916.6L668 916.1L669.3 915.6L667.7 915.1L667.8 914.6L668.5 914L668.1 913.5L668.1 913L667.7 912.5L668.4 912L668.6 911.5L668.8 910.9L667.7 910.4L668.3 909.9L669 909.4L669.1 908.9L668.2 908.3L668.9 907.9L669.1 907.4L668.8 906.8L668.2 906.3L668.8 905.8L668.8 905.3L668.2 904.7L668.6 904.2L668.2 903.7L669.2 903.2L668.2 902.6L668.8 902.2L668.8 901.6L668.3 901.1L669.6 900.7L668.8 900.1L669.2 899.6L668.7 899L670.2 898.7L669.3 898L670.2 897.7L669.6 897L669.5 896.5L669.1 895.9L670.3 895.6L670.6 895.1L670.3 894.6L670.5 894.1L670.1 893.4L670 892.9L671.2 892.6L670 891.8L670.2 891.3L672.8 891.5L670.4 890.3L670.8 889.9L671.7 889.6L670.9 888.8L672.3 888.7L672 888L672.3 887.6L671.9 887L671.6 886.3L672.3 886L671.9 885.3L672.6 885L672.5 884.4L672.9 884L673.9 883.8L672.7 882.8L673.5 882.6L673.7 882.1L674.4 881.8L674.4 881.3L673.9 880.5L675.1 880.4L675.6 880.1L675.4 879.4L674.5 878.5L676 878.6L676.1 878.1L675.5 877.2L676 876.9L676.5 876.5L675.7 875.6L676.4 875.4L677.6 875.4L676.7 874.4L676.9 873.9L677.1 873.4L677.7 873.1L678 872.7L678.1 872.2L678.5 871.8L678.4 871.2L679.6 871.2L679.9 870.8L679.8 870.2L679.3 869.3L680.7 869.5L680.3 868.6L680.6 868.2L680.2 867.4L680.6 867L680.9 866.6L681.9 866.6L681.8 865.9L682.9 866L682.1 864.9L682.9 864.8L682.6 863.9L683.2 863.7L683.5 863.3L683.6 862.8L684.1 862.5L685.3 862.7L684.8 861.7L684.9 861.1L684.9 860.5L685.2 860.1L685.9 859.9L686.9 860.1L686.8 859.3L687 858.8L687.1 858.2L688.2 858.5L688.4 858L688.7 857.6L688.5 856.7L688.7 856.2L689 855.8L689.8 855.8L690.6 855.8L690.1 854.6L691 854.8L691.1 854.2L691.2 853.5L691.4 853.1L692.5 853.4L692.8 852.9L693.4 852.8L693 851.6L693.5 851.5L693.6 850.8L694.5 851L694.5 850.3L694.9 849.9L695 849.3L695.5 849.1L695.9 848.7L696.5 848.6L696.8 848.2L699.3 850.2L697.6 847.5L698.8 848.1L698.6 847L699.5 847.4L699.6 846.6L699.6 845.9L699.9 845.3L700.2 845L703.6 848.4L701.4 844.8L701.9 844.6L702.5 844.5L702.6 843.8L703.5 844.1L703.9 843.8L703.5 842.4L704.6 843L704.6 842.1L705.4 842.3L705.2 841.2L705.7 841L708.1 843.7L706.6 840.5L707.7 841.2L707.8 840.5L708.1 840L708.5 839.6L709.1 839.5L709.9 840L709.9 838.9L710.1 838.2L710.8 838.3L711.1 837.9L711.7 837.9L711.9 837.1L712.4 837L713.1 837.2L714 837.8L714.1 836.9L714.7 836.9L715.2 836.8L715.5 836.1L716.3 836.6L716.4 835.6L717.1 836.1L717.4 835.4L717.5 834.3L718 834.2L719 835.1L719 833.9L719.8 834.4L720.3 834.3L720.7 834L721.3 833.9L721.9 834.1L722 833L722.6 833.1L723.3 833.5L723.7 833.2L723.9 832.2L724.7 832.9L725 832.1L725.2 831.2L726.1 832.3L726.3 831.2L726.8 831L727.6 831.7L728.1 831.8L728.5 831.1L728.8 830.4L729.2 830L730.4 832.3L730.5 830.8L731 830.5L731.3 829.9L732 830.3L732.3 829.6L733 830L733.4 829.5L733.8 829L734.6 830.1L734.9 829.2L735.3 828.7L735.8 828.5L736.5 829.1L737 829.2L737.3 828.2L737.9 828.5L738.4 828.3L739 828.8L739.4 827.8L739.9 827.8L740.4 827.8L740.9 827.6L741.5 828.1L742 827.8L742.4 827.2L743 827.3L743.5 827.2L744 827.4L744.7 829.1L745.1 827.8L745.6 826.8L746.2 827.8L746.8 829.5L747.1 826.9L747.7 828L748.2 827.9L748.7 827.9L749.2 827.7L749.8 828.2L750.3 827L750.8 828L751.3 828L751.8 827.7L752.3 826.9L752.9 826.6L753 825.9A86 86 0 0 0 753 997.9Z" fill="#1a1ae8"/>
<path d="M753 986.6L752.5 986.5L752.1 986.6L751.6 986.6L751.2 986.6L750.7 986.6L750.3 986.6L749.8 986.5L749.4 986.5L748.9 986.4L748.4 986.4L748 986.4L747.5 986.4L747.1 986.4L746.6 986.3L746.2 986.2L745.7 986.2L745.3 986.2L744.8 986.1L744.4 986L743.9 986L743.4 986L743 985.9L742.5 985.9L742.1 985.7L741.6 985.7L741.2 985.6L740.7 985.6L740.3 985.5L739.8 985.4L739.4 985.3L738.9 985.3L738.5 985.2L738 985.1L737.6 985L737.2 984.9L736.7 984.8L736.3 984.7L735.8 984.5L735.4 984.5L734.9 984.4L734.5 984.2L734 984.1L733.6 984.1L733.2 983.9L732.7 983.8L732.3 983.7L731.8 983.6L731.4 983.4L730.8 984L730.5 983.2L730.1 983L729.7 982.8L729.2 982.7L728.8 982.6L728.4 982.4L727.9 982.3L727.5 982.1L727.1 981.9L726.7 981.8L726.2 981.6L725.8 981.5L725.4 981.3L725 981.1L724.5 980.9L724.1 980.7L723.7 980.6L723.3 980.5L722.9 980.2L722.4 980.1L722 979.8L721.6 979.6L721.2 979.4L720.8 979.3L720 979.9L720 978.9L719.5 978.7L719.1 978.5L718.7 978.3L718.3 978.1L717.9 977.8L717.5 977.6L717.1 977.5L716.7 977.2L716.4 976.9L715.9 976.8L715.6 976.5L715.1 976.3L714.8 976.1L714.3 975.9L714 975.6L713.6 975.4L713.2 975.1L712.8 974.8L712.4 974.6L712 974.4L711.7 974.1L711.3 973.9L710.9 973.6L710.6 973.3L710.1 973.1L709.8 972.8L709.4 972.6L709 972.3L708.7 972L708.3 971.7L707.9 971.5L707.6 971.2L707.2 970.9L706.9 970.6L706.5 970.3L706.2 970.1L705.8 969.8L705.4 969.5L705.1 969.2L704.7 968.9L704.4 968.6L704.1 968.3L703.7 968L703.4 967.7L703 967.4L702.7 967.1L702.4 966.8L702 966.5L701.6 966.2L701.3 965.9L701 965.5L700.7 965.2L700.3 964.9L700.1 964.6L699.7 964.2L699.4 963.9L699.1 963.6L698.8 963.2L698.4 963L698.2 962.6L697.8 962.3L697.5 961.9L697.2 961.6L696.9 961.2L696.6 960.9L696.3 960.6L696 960.2L695.8 959.8L695.4 959.5L695.2 959.1L694.9 958.8L694.6 958.4L694.3 958.1L694.1 957.7L693.7 957.4L693.5 957L693.2 956.7L692.9 956.3L692.7 955.9L692.4 955.6L692.1 955.2L691.9 954.8L691.6 954.4L690.8 954.4L691.1 953.7L690.8 953.3L690.6 952.9L690.3 952.5L690.1 952.1L689.8 951.8L689.6 951.4L689.4 951L689.1 950.6L688.9 950.2L688.6 949.8L688.4 949.4L688.2 949L687.9 948.6L687.7 948.2L687.5 947.9L687.3 947.4L687.1 947L686.9 946.6L686.7 946.2L686.4 945.8L686.3 945.4L686 945L685.8 944.6L685.7 944.2L685.4 943.8L685.3 943.3L685.1 942.9L684.9 942.5L684.6 942.1L684.5 941.7L684.4 941.2L684.2 940.8L684 940.4L683.8 940L683.6 939.6L683.4 939.2L683.3 938.7L683.1 938.3L683 937.9L682.9 937.4L682.6 937L682.5 936.6L682.3 936.2L682.2 935.7L682.1 935.3L681.9 934.9L681.8 934.4L681.6 934L681.5 933.5L681.4 933.1L681.2 932.7L681.2 932.2L681 931.8L680.9 931.3L680.8 930.9L680.7 930.5L680.6 930L680.5 929.6L680.3 929.2L680.3 928.7L680.1 928.3L680 927.8L680 927.4L679.8 926.9L679.8 926.5L679.6 926L679.6 925.6L679.5 925.1L679.4 924.7L679.3 924.2L679.3 923.8L679.2 923.3L679.1 922.9L677.3 922.7L679 922L679 921.5L678.8 921.1L678.8 920.6L678.8 920.2L678.7 919.7L678.7 919.3L678.6 918.8L678.6 918.3L678.5 917.9L678.5 917.4L678.5 917L678.5 916.5L678.4 916.1L678.4 915.6L678.4 915.2L678.4 914.7L678.3 914.2L678.3 913.8L678.4 913.3L678.3 912.9L678.3 912.4L678.3 912L678.3 911.5L678.3 911.1L678.4 910.6L678.4 910.1L678.3 909.7L678.3 909.2L678.4 908.8L678.4 908.3L678.4 907.9L678.4 907.4L678.4 906.9L678.5 906.5L678.6 906L678.5 905.6L678.6 905.1L678.7 904.7L678.7 904.2L678.7 903.8L678.8 903.3L678.9 902.9L678.9 902.4L678.9 902L679 901.5L679.1 901.1L679.2 900.6L679.2 900.1L679.3 899.7L679.4 899.3L678 898.5L679.6 898.4L679.6 897.9L679.7 897.4L679.8 897L679.9 896.6L680 896.1L680.1 895.7L680.2 895.2L680.3 894.8L680.4 894.3L680.5 893.9L680.7 893.5L680.8 893L680.9 892.6L680.9 892.1L681.1 891.7L681.2 891.2L681.4 890.8L681.5 890.4L681.6 889.9L681.8 889.5L681.9 889.1L682.1 888.6L682.2 888.2L682.4 887.8L682.4 887.3L682.6 886.9L682.8 886.5L683 886.1L683.1 885.6L683.2 885.2L683.4 884.8L683.6 884.3L682.7 883.5L683.9 883.5L684.1 883.1L684.3 882.7L684.5 882.3L684.6 881.8L684.9 881.4L685 881L685.2 880.6L685.4 880.1L685.6 879.7L685.8 879.3L686 878.9L686.2 878.5L686.4 878.1L686.6 877.7L686.8 877.3L687.1 876.9L687.2 876.5L687.5 876.1L687.7 875.7L687.3 875L688.1 874.9L688.4 874.5L688.5 874.1L688.8 873.7L689.1 873.3L689.3 873L689.5 872.5L689.8 872.2L690 871.8L690.2 871.4L690.5 871L690.7 870.6L690.1 869.6L691.2 869.8L691.5 869.5L691.8 869.1L692 868.7L692.3 868.4L692.6 868L692.9 867.6L693.1 867.3L693.4 866.9L693.7 866.5L693.9 866.1L694.2 865.8L694.5 865.4L694.8 865.1L695.1 864.7L695.4 864.4L695.7 864.1L695.9 863.7L696.3 863.4L696.6 863L696.9 862.7L697.1 862.3L697.5 862L697.7 861.6L698.1 861.3L698.3 860.9L698.7 860.6L699 860.3L699.3 860L699.6 859.6L700 859.3L700.3 859L700.6 858.7L701 858.4L701.2 858L701.6 857.8L701.9 857.4L702.3 857.1L702.6 856.8L703 856.5L703.3 856.2L703.6 855.8L703.9 855.6L704.3 855.3L704.7 855L705 854.7L705.4 854.4L705.7 854.1L706 853.8L706.4 853.5L706.8 853.3L707.1 853L707.5 852.7L707.8 852.4L708.2 852.1L708.6 851.9L709 851.6L709.3 851.4L709.7 851L710 850.8L710.5 850.6L710.8 850.3L711.2 850L711.5 849.7L712 849.5L712.3 849.3L712.7 849L713.1 848.7L713.5 848.6L713.8 848.3L714.3 848.1L714.7 847.8L715 847.6L715.4 847.3L715.8 847.1L716.2 846.9L716.6 846.7L715.8 844.3L715.4 842.6L716.4 843.3L716.4 842.3L716.8 842.1L717.2 841.8L718.9 844L718.8 842.8L719 842.2L719.9 842.9L720.5 843.1L720.4 841.7L720.4 840.8L720.5 839.8L722 841.8L722.3 841.4L722.3 840.3L723 840.6L723.9 841.7L723.5 839.3L724.6 840.8L725.1 840.8L725.6 840.9L725.4 839.1L726.2 840L726.2 838.5L726.9 839L726.9 837.7L728.2 839.9L728.7 839.8L728.3 837.1L729.2 838.5L729.6 838.2L729.7 836.8L730.4 837.6L730.6 836.4L731.1 836.4L731.4 835.9L732 836.2L732.8 837.3L733.6 838.3L733.2 835.2L734.4 837.8L734.5 836.2L734.7 835L735.8 837.6L736.3 837.8L736.4 836.2L737.1 837.1L737.3 835.6L737.5 834.5L738.6 837.3L739 837.2L739.3 835.9L739.5 834.6L739.9 834.2L740.7 836.1L741 834.8L741.6 835.5L741.9 834.6L742.4 834.5L743.1 836.3L743.5 835.8L744 835.5L744.2 833.2L745 836L745.2 833.6L745.6 833.2L746.4 836L746.7 834.3L747.3 836.1L747.7 835.5L748.2 836.1L748.6 833.6L749 833.3L749.6 836L750 834.9L750.5 834.3L751 835.1L751.5 835.9L751.9 834.2L752.4 834.8L752.9 833.1L753 837.3A74.6 74.6 0 0 0 753 986.5Z" fill="#f2f21a"/>
<path d="M753 983L752.6 983L752.1 982.7L751.7 985L751.2 983.8L750.8 982.6L750.4 982.9L749.9 984.3L749.6 981.3L749.1 983.6L748.5 984.7L748.1 984.2L747.8 982.8L747.3 983.3L746.9 982.8L746.3 985.1L746.1 982.4L745.7 982.1L745.4 980.7L744.7 982.8L744.2 983.7L743.8 982.9L743.5 981.9L742.9 983.6L742.5 983.1L742.1 982.9L741.5 983.5L741.1 983.3L740.6 983.6L741.1 978.6L739.6 984.1L739.2 983.9L738.8 983.7L738.7 981.9L738.4 981.4L737.9 981.5L737.1 983L736.9 982L736.6 981.5L735.9 982.5L735.6 981.9L735 982.3L734.4 983L734.1 982.2L733.6 982.2L733.1 982.4L733.6 979.2L732.2 982.4L732.5 979.7L732 979.8L731.2 981.2L730.9 980.5L730.6 980.2L730.4 979.1L729.4 980.9L729.7 978.5L729.4 978.1L728 980.9L727.6 980.5L728.7 976.4L727 979.6L726.6 979.4L726.4 978.7L725.5 979.8L725.9 977.5L725.3 978L725.1 977.4L724.1 978.4L724.4 976.8L723.2 978.4L723.6 976.4L723.3 976.1L722.4 976.9L721.7 977.5L721.1 977.7L721.4 976L720.1 977.6L719.9 977.1L720.5 974.9L719.3 976.2L719.8 974.4L718.4 976L720.2 971.8L717.7 975.4L717.1 975.6L717.7 973.6L716.2 975.4L716.2 974.5L716.7 972.8L715.8 973.4L714.9 974.1L714.2 974.3L714.9 972.5L713.7 973.5L713.6 972.8L713.5 972.2L712.5 972.9L712 972.8L713 970.6L712.1 971L712.3 970L711.4 970.5L711.3 969.9L711.1 969.5L709.5 971L709.5 970.2L708.8 970.3L708.4 970.2L708.5 969.3L708.8 968.1L708.2 968.2L708.3 967.4L707.5 967.7L707.4 967.1L706.6 967.4L705.9 967.5L705.4 967.4L705 967.2L705 966.5L706.1 964.7L705.1 965.2L703.7 966L703.3 965.8L704.3 964L702.9 964.9L703.8 963.3L702.5 964L701.6 964.3L702.1 963.1L701.6 963L702 962L701.3 962.1L700.9 961.9L701.3 960.9L700.2 961.3L700 960.9L700.8 959.6L698.5 961.1L698.4 960.5L698.8 959.6L697.6 960.1L697.7 959.4L697.9 958.7L696.8 958.9L697.7 957.6L697.8 957L697.3 956.8L697.3 956.3L697.4 955.6L696.6 955.7L694.8 956.6L694.7 956.1L695.4 955L695.3 954.5L695.7 953.7L694 954.4L693.6 954.1L694.6 952.9L693.5 953.1L694.7 951.8L694 951.7L692.5 952.2L693 951.3L692.5 951.1L691.9 951L696.4 947.6L691 950.5L691.3 949.8L691.8 949L691.6 948.6L691.2 948.3L689.5 948.8L690.6 947.7L690.6 947.1L688.8 947.6L689.6 946.7L690.9 945.5L689.7 945.6L689.3 945.3L689.4 944.8L689.8 944.1L688.3 944.4L687.3 944.4L687 944L689 942.6L686.7 943.2L689.3 941.5L687.1 942L686.2 941.9L687.2 941L688 940.2L685.9 940.6L685.7 940.2L685.7 939.7L687.4 938.6L685.6 938.8L686.3 938L685.6 937.8L684.4 937.8L686.7 936.5L684.6 936.8L684 936.5L685 935.7L684.4 935.4L684.7 934.9L683.5 934.8L683.1 934.5L685.5 933.2L683.3 933.5L683 933.1L683.2 932.6L685.2 931.5L682.6 931.8L684.4 930.8L682.7 930.9L683.3 930.3L682.5 930L682.1 929.6L682.6 929.1L682 928.7L683.1 928L683.8 927.4L681.3 927.5L686.3 926L681.1 926.7L681.7 926.1L682.2 925.5L682.8 925L681.5 924.8L681.2 924.4L683.3 923.6L681.4 923.4L681.2 923L682.4 922.4L682.6 921.9L681.2 921.7L682.5 921.1L680.3 920.9L681.5 920.3L680.9 919.9L682.2 919.3L680.1 919.1L681.8 918.5L681.5 918.1L681.3 917.7L681.5 917.2L682.1 916.7L679.9 916.4L680.9 915.9L680.7 915.5L680.6 915.1L680 914.6L680.5 914.2L681.5 913.7L682.1 913.3L679.5 912.9L680.3 912.4L680.2 912L681.5 911.5L679.9 911.1L682.2 910.7L679.8 910.2L680.9 909.8L679.9 909.3L682.5 908.9L679.7 908.4L681.8 908L679.8 907.5L679.9 907L680.1 906.6L681.1 906.2L682.7 905.9L680.6 905.3L680.8 904.9L680.5 904.4L680.5 904L680 903.5L681.9 903.2L681.5 902.7L681.5 902.3L680.3 901.7L680.4 901.3L681 900.9L682.2 900.6L682.9 900.3L682.6 899.8L680.9 899.1L683.3 899.1L681.4 898.2L682.1 897.9L682.3 897.5L681.2 896.8L682 896.6L682.9 896.3L681.5 895.5L682.7 895.3L684.1 895.2L682.2 894.3L681.8 893.8L683.3 893.7L682 892.9L684.1 893L684.9 892.8L684.6 892.2L683.4 891.4L682.7 890.7L683.1 890.4L685.1 890.6L683.5 889.6L686 889.9L685.1 889.2L683.7 888.2L686.3 888.7L683.8 887.3L684.5 887.1L685.4 886.9L685 886.3L684.8 885.8L685.6 885.6L686.8 885.6L687.1 885.3L685.2 884L687.4 884.5L686.6 883.7L686.7 883.2L685.9 882.4L686.8 882.3L687.1 881.9L688.5 882.1L687.4 881.1L686.9 880.4L687.3 880.1L687.2 879.5L687.8 879.3L687.6 878.7L688.8 878.8L689.3 878.6L688.1 877.5L689.1 877.5L688.5 876.7L689.5 876.7L689.7 876.3L690 876L690.6 875.8L691.9 876.1L690 874.4L690.8 874.4L691.3 874.2L690.7 873.3L691.7 873.4L691.4 872.7L691.6 872.3L692.4 872.2L693.6 872.5L692.1 871L692.3 870.6L693.1 870.6L694.4 870.9L693.3 869.6L694.7 870.1L694.7 869.6L694.3 868.7L695.4 869L695.5 868.5L694.8 867.4L696.9 868.5L699.7 870.1L697.5 867.8L696.3 866.3L697.3 866.6L696.9 865.6L697.1 865.3L697.6 865.1L698.1 864.9L699.2 865.3L699 864.6L699.5 864.4L700.1 864.3L699.6 863.3L699.1 862.3L699.8 862.3L701.7 863.4L701.1 862.3L701.7 862.3L701.2 861.2L701.7 861.1L702.8 861.5L701.8 859.9L702 859.5L702.5 859.3L704.2 860.5L704.3 859.9L703.8 858.8L704.4 858.8L704.6 858.3L704.5 857.5L705.4 857.9L705.8 857.7L706.4 857.8L705.6 856.2L706.6 856.7L706.4 855.6L707.4 856.2L708.5 856.9L707.3 854.7L709.2 856.3L708.3 854.5L709.4 855.2L708.8 853.6L710.5 855.2L710.8 854.9L709.9 852.9L711.7 854.7L710.6 852.4L711.3 852.6L711.9 852.7L711.7 851.6L712.5 852L713.1 852.1L713.8 852.3L713 850.3L714.8 852.3L713.8 849.9L715.1 851.1L715.1 850.2L715.5 850.1L715.4 849.1L716.3 849.8L716.6 849.4L717.1 849.4L719.8 853.2L717.5 848.2L717.2 846.8L717.6 846.6L717.9 846.2L718.3 846L718.8 845.9L719.2 845.7L719.6 845.5L720.1 845.4L720.4 845.1L720.8 844.8L721.2 844.6L721.7 844.6L722 844.2L722.5 844.1L722.9 844L723.3 843.9L723.7 843.6L724.1 843.4L724.6 843.4L725 843.1L726 844.3L725.8 842.8L726.3 842.6L726.6 842.3L727.1 842.3L727.5 842L727.9 841.8L728.4 841.8L728.8 841.6L729.2 841.5L730.2 842.9L730.1 841.3L730.5 841.1L730.9 840.8L731.4 840.7L731.8 840.6L732.2 840.4L732.7 840.4L733.1 840.2L733.6 840.2L734 840L734.4 839.8L734.9 840L735.3 839.6L735.8 839.7L736.2 839.5L736.7 839.4L737.1 839.4L737.6 839.2L738 839.1L738.4 839L738.9 838.8L739.3 838.8L739.8 838.6L740.2 838.8L740.7 838.6L741.1 838.4L741.6 838.5L742 838.3L742.5 838.3L742.9 838.2L743.4 838.2L743.8 838.2L744.3 838.1L744.7 838.1L745.2 838L745.6 838L746.1 837.8L746.5 837.8L747.2 840.7L747.4 837.7L747.9 837.8L748.3 837.8L748.8 837.7L749.2 837.8L749.7 837.8L750.1 837.6L750.6 837.7L751.1 837.6L751.5 837.5L752 837.4L752.4 837.6L752.9 837.6L753 837.3A74.6 74.6 0 0 0 753 986.5Z" fill="#1a1ae8"/>
<line x1="756.1" y1="766.4" x2="756.1" y2="771" stroke="#8c8c8c" stroke-width="1.4"/>
<line x1="894.1" y1="909.2" x2="899.8" y2="909.2" stroke="#8c8c8c" stroke-width="1.4"/>
<line x1="756.4" y1="1052.6" x2="756.4" y2="1057.2" stroke="#8c8c8c" stroke-width="1.4"/>
<line x1="607" y1="909.2" x2="611.8" y2="909.2" stroke="#8c8c8c" stroke-width="1.4"/>
<text font-size="14.8" font-style="italic" transform="translate(229.53,854.7) scale(1.07,1)">Vibrio cyclitrophicus</text>
<text font-size="14.8" transform="translate(226.22,873.8) scale(1.06,1)">FF75 chromosome 1</text>
<text font-size="14.8" transform="translate(248.02,910.9) scale(1.07,1)">(3,348,783 bp)</text>
<text font-size="14.8" font-style="italic" transform="translate(716.83,887.9) scale(1.07,1)">Vibrio FF75</text>
<text font-size="14.8" transform="translate(704.43,906.8) scale(1.07,1)">chromosome 2</text>
<text font-size="14.8" transform="translate(705.52,944.9) scale(1.07,1)">(1,741,232 bp)</text>
<text font-size="12.9" transform="translate(231.32,615.9) scale(1.04,1)">671,058</text>
<text font-size="12.9" transform="translate(320.28,615.4) scale(0.74,1)">1</text>
<text font-size="12.9" transform="translate(487.49,704.9) scale(1.04,1)">470,000</text>
<text font-size="12.9" transform="translate(552.06,877.3) scale(1.05,1)">940,000</text>
<text font-size="12.9" transform="translate(480.08,1059.1) scale(1.04,1)">1,410,000</text>
<text font-size="12.9" transform="translate(268.28,1137.5) scale(1.04,1)">1,880,000</text>
<text font-size="12.9" transform="translate(62.12,1063.6) scale(1.05,1)">2,293,930</text>
<text font-size="12.9" transform="translate(84.3,1025.5) scale(0.92,1)">1</text>
<text font-size="12.9" transform="translate(37.81,1002.3) scale(1.04,1)">70,088</text>
<text font-size="12.9" transform="translate(49.99,961.9) scale(0.83,1)">1</text>
<text font-size="12.9" transform="translate(-0.31,828.7) scale(1.04,1)">313,707</text>
<text font-size="12.9" transform="translate(54.65,785.4) scale(0.86,1)">1</text>
<text font-size="12.9" transform="translate(691.67,766.2) scale(1.05,1)">1,741,232</text>
<text font-size="12.9" transform="translate(758.61,766.2) scale(0.7,1)">1</text>
<text font-size="12.9" transform="translate(897.09,923.5) scale(1.05,1)">435,000</text>
<text font-size="12.9" transform="translate(739.51,1070.3) scale(1.05,1)">870,000</text>
<text font-size="12.9" transform="translate(550.77,922.6) scale(1.04,1)">1,305,000</text></svg></body></html>
